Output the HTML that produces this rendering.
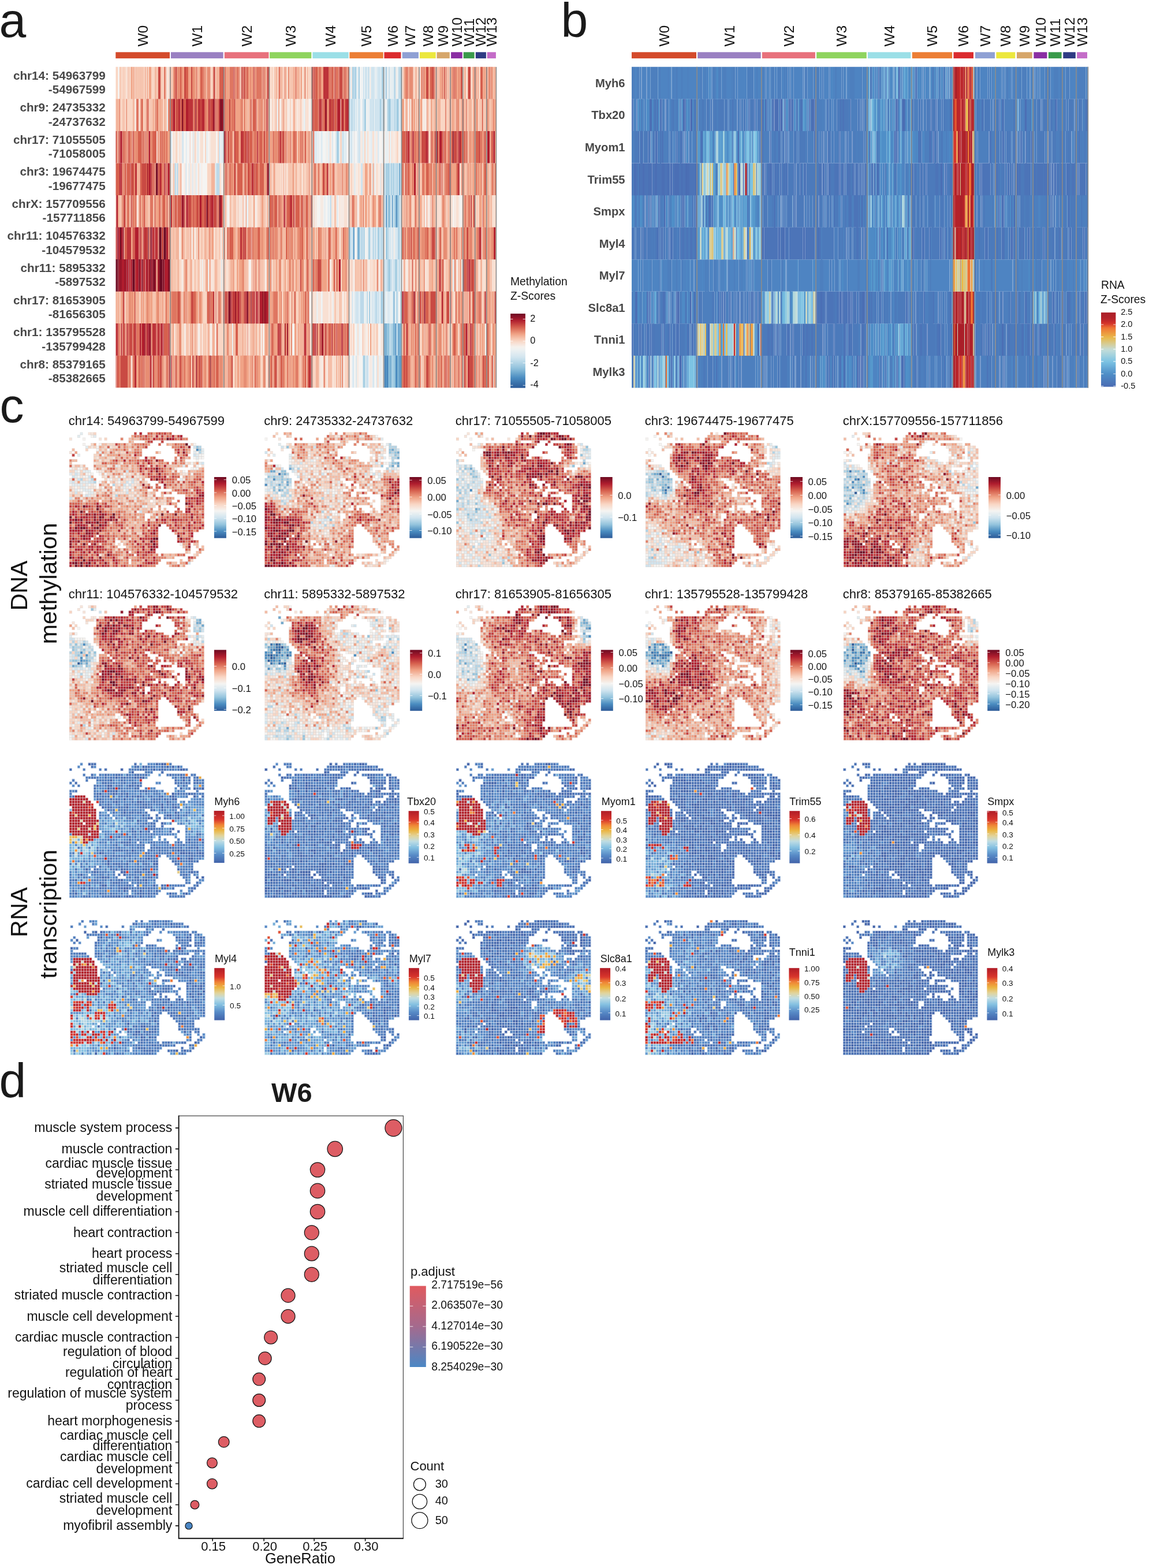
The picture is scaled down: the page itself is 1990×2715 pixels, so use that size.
<!DOCTYPE html>
<html lang="en"><head><meta charset="utf-8"><title>Figure</title>
<style>html,body{margin:0;padding:0;background:#fff}body{width:1990px;height:2715px;overflow:hidden}svg{display:block}</style>
</head><body><svg xmlns="http://www.w3.org/2000/svg" width="1990" height="2715" viewBox="0 0 1990 2715" font-family="Liberation Sans, Arial, Helvetica, sans-serif"><defs><linearGradient id="gRdBu" x1="0" y1="0" x2="0" y2="1"><stop offset="0.000" stop-color="#6d0a22"/><stop offset="0.056" stop-color="#8e1428"/><stop offset="0.111" stop-color="#b01d2e"/><stop offset="0.167" stop-color="#c33e3e"/><stop offset="0.222" stop-color="#d6604e"/><stop offset="0.278" stop-color="#e3826a"/><stop offset="0.333" stop-color="#f0a386"/><stop offset="0.389" stop-color="#f4bca5"/><stop offset="0.444" stop-color="#f9d6c4"/><stop offset="0.500" stop-color="#f7e5db"/><stop offset="0.556" stop-color="#f5f4f2"/><stop offset="0.611" stop-color="#e2ecf0"/><stop offset="0.667" stop-color="#d0e4ef"/><stop offset="0.722" stop-color="#b2d4e6"/><stop offset="0.778" stop-color="#94c4dd"/><stop offset="0.833" stop-color="#6fa8ce"/><stop offset="0.889" stop-color="#4a8cc0"/><stop offset="0.944" stop-color="#3b73ac"/><stop offset="1.000" stop-color="#2c5a98"/></linearGradient><linearGradient id="gA" x1="0" y1="0" x2="0" y2="1"><stop offset="0.000" stop-color="#6d0a22"/><stop offset="0.034" stop-color="#861127"/><stop offset="0.069" stop-color="#9f182b"/><stop offset="0.103" stop-color="#b52632"/><stop offset="0.138" stop-color="#c33f3e"/><stop offset="0.172" stop-color="#d1584a"/><stop offset="0.207" stop-color="#dd715c"/><stop offset="0.241" stop-color="#e68a71"/><stop offset="0.276" stop-color="#f0a386"/><stop offset="0.310" stop-color="#f3b79e"/><stop offset="0.345" stop-color="#f7cab5"/><stop offset="0.379" stop-color="#f8daca"/><stop offset="0.414" stop-color="#f7e5dc"/><stop offset="0.448" stop-color="#f5f1ed"/><stop offset="0.483" stop-color="#eef1f1"/><stop offset="0.517" stop-color="#e5edf1"/><stop offset="0.552" stop-color="#dce9f0"/><stop offset="0.586" stop-color="#d2e5ef"/><stop offset="0.621" stop-color="#c4deeb"/><stop offset="0.655" stop-color="#b5d6e7"/><stop offset="0.690" stop-color="#a6cde2"/><stop offset="0.724" stop-color="#96c5de"/><stop offset="0.759" stop-color="#84b8d7"/><stop offset="0.793" stop-color="#71aacf"/><stop offset="0.828" stop-color="#5e9bc8"/><stop offset="0.862" stop-color="#4b8dc1"/><stop offset="0.897" stop-color="#4380b7"/><stop offset="0.931" stop-color="#3b73ac"/><stop offset="0.966" stop-color="#3467a2"/><stop offset="1.000" stop-color="#2c5a98"/></linearGradient><linearGradient id="gB" x1="0" y1="0" x2="0" y2="1"><stop offset="0.000" stop-color="#ab1f28"/><stop offset="0.026" stop-color="#ae2029"/><stop offset="0.051" stop-color="#b12129"/><stop offset="0.077" stop-color="#b5232a"/><stop offset="0.103" stop-color="#bf272a"/><stop offset="0.128" stop-color="#cb2d2a"/><stop offset="0.154" stop-color="#d7392b"/><stop offset="0.179" stop-color="#e2552f"/><stop offset="0.205" stop-color="#ed7133"/><stop offset="0.231" stop-color="#ee8138"/><stop offset="0.256" stop-color="#ed8e3c"/><stop offset="0.282" stop-color="#ec9c40"/><stop offset="0.308" stop-color="#eaa945"/><stop offset="0.333" stop-color="#e9b649"/><stop offset="0.359" stop-color="#e4be5c"/><stop offset="0.385" stop-color="#dec373"/><stop offset="0.410" stop-color="#d9c989"/><stop offset="0.436" stop-color="#d3cfa0"/><stop offset="0.462" stop-color="#cdd4b7"/><stop offset="0.487" stop-color="#c7dace"/><stop offset="0.513" stop-color="#bedbda"/><stop offset="0.538" stop-color="#b3d7db"/><stop offset="0.564" stop-color="#a7d3dd"/><stop offset="0.590" stop-color="#9ccfdf"/><stop offset="0.615" stop-color="#90cae0"/><stop offset="0.641" stop-color="#85c6e2"/><stop offset="0.667" stop-color="#7ac1e2"/><stop offset="0.692" stop-color="#73b9de"/><stop offset="0.718" stop-color="#6cb1da"/><stop offset="0.744" stop-color="#65a8d5"/><stop offset="0.769" stop-color="#5ea0d1"/><stop offset="0.795" stop-color="#5798cd"/><stop offset="0.821" stop-color="#5090c8"/><stop offset="0.846" stop-color="#4e8ac5"/><stop offset="0.872" stop-color="#4e85c2"/><stop offset="0.897" stop-color="#4d80bf"/><stop offset="0.923" stop-color="#4d7bbc"/><stop offset="0.949" stop-color="#4c76b9"/><stop offset="0.974" stop-color="#4b71b6"/><stop offset="1.000" stop-color="#4a6cb4"/></linearGradient><linearGradient id="gRNA" x1="0" y1="0" x2="0" y2="1"><stop offset="0.000" stop-color="#b01c26"/><stop offset="0.025" stop-color="#b62027"/><stop offset="0.050" stop-color="#bc2328"/><stop offset="0.075" stop-color="#c22729"/><stop offset="0.100" stop-color="#c82b2a"/><stop offset="0.125" stop-color="#ce2e2a"/><stop offset="0.150" stop-color="#d4322b"/><stop offset="0.175" stop-color="#da392d"/><stop offset="0.200" stop-color="#e04d2f"/><stop offset="0.225" stop-color="#e56032"/><stop offset="0.250" stop-color="#eb7434"/><stop offset="0.275" stop-color="#ef8636"/><stop offset="0.300" stop-color="#ee9239"/><stop offset="0.325" stop-color="#ed9e3c"/><stop offset="0.350" stop-color="#ecaa3e"/><stop offset="0.375" stop-color="#ebb544"/><stop offset="0.400" stop-color="#e9bd59"/><stop offset="0.425" stop-color="#e6c46e"/><stop offset="0.450" stop-color="#e4cb83"/><stop offset="0.475" stop-color="#e2d398"/><stop offset="0.500" stop-color="#dbd6aa"/><stop offset="0.525" stop-color="#d2d8bc"/><stop offset="0.550" stop-color="#cadace"/><stop offset="0.575" stop-color="#c1dde0"/><stop offset="0.600" stop-color="#b5d8e4"/><stop offset="0.625" stop-color="#a9d2e3"/><stop offset="0.650" stop-color="#9dcce2"/><stop offset="0.675" stop-color="#90c6e2"/><stop offset="0.700" stop-color="#84c0e1"/><stop offset="0.725" stop-color="#7cb7dc"/><stop offset="0.750" stop-color="#75aed8"/><stop offset="0.775" stop-color="#6da4d4"/><stop offset="0.800" stop-color="#659bcf"/><stop offset="0.825" stop-color="#5e92ca"/><stop offset="0.850" stop-color="#5689c6"/><stop offset="0.875" stop-color="#5383c1"/><stop offset="0.900" stop-color="#4f7cbc"/><stop offset="0.925" stop-color="#4c76b8"/><stop offset="0.950" stop-color="#4970b3"/><stop offset="0.975" stop-color="#4569ae"/><stop offset="1.000" stop-color="#4263a9"/></linearGradient><linearGradient id="gP" x1="0" y1="0" x2="0" y2="1"><stop offset="0.000" stop-color="#e05a5f"/><stop offset="0.500" stop-color="#a46a8e"/><stop offset="1.000" stop-color="#4a87c5"/></linearGradient><clipPath id="T"><path d="M4 0h1v1h-1zM7 0h3v1h-3zM24 0h1v1h-1zM26 0h1v1h-1zM29 0h9v1h-9zM3 1h1v1h-1zM8 1h2v1h-2zM23 1h19v1h-19zM0 2h1v1h-1zM5 2h1v1h-1zM11 2h1v1h-1zM13 2h1v1h-1zM19 2h1v1h-1zM22 2h22v1h-22zM22 3h2v1h-2zM28 3h3v1h-3zM34 3h1v1h-1zM5 4h1v1h-1zM8 4h2v1h-2zM11 4h19v1h-19zM33 4h1v1h-1zM36 4h8v1h-8zM45 4h2v1h-2zM6 5h23v1h-23zM38 5h7v1h-7zM46 5h3v1h-3zM1 6h1v1h-1zM6 6h1v1h-1zM10 6h17v1h-17zM39 6h6v1h-6zM46 6h4v1h-4zM0 7h1v1h-1zM2 7h1v1h-1zM10 7h17v1h-17zM32 7h2v1h-2zM39 7h6v1h-6zM46 7h4v1h-4zM1 8h1v1h-1zM3 8h1v1h-1zM9 8h18v1h-18zM40 8h4v1h-4zM46 8h4v1h-4zM9 9h17v1h-17zM28 9h4v1h-4zM39 9h1v1h-1zM41 9h4v1h-4zM46 9h4v1h-4zM0 10h3v1h-3zM9 10h26v1h-26zM39 10h4v1h-4zM47 10h1v1h-1zM0 11h1v1h-1zM9 11h28v1h-28zM38 11h12v1h-12zM0 12h6v1h-6zM9 12h35v1h-35zM46 12h2v1h-2zM49 12h1v1h-1zM0 13h7v1h-7zM9 13h31v1h-31zM45 13h5v1h-5zM0 14h8v1h-8zM10 14h30v1h-30zM41 14h2v1h-2zM44 14h6v1h-6zM0 15h9v1h-9zM11 15h39v1h-39zM1 16h8v1h-8zM12 16h29v1h-29zM42 16h8v1h-8zM0 17h10v1h-10zM13 17h15v1h-15zM30 17h10v1h-10zM41 17h9v1h-9zM0 18h10v1h-10zM11 18h3v1h-3zM15 18h14v1h-14zM33 18h17v1h-17zM0 19h10v1h-10zM11 19h4v1h-4zM16 19h14v1h-14zM32 19h1v1h-1zM35 19h15v1h-15zM0 20h10v1h-10zM11 20h5v1h-5zM17 20h14v1h-14zM32 20h2v1h-2zM35 20h15v1h-15zM0 21h29v1h-29zM31 21h2v1h-2zM38 21h12v1h-12zM0 22h5v1h-5zM6 22h26v1h-26zM34 22h4v1h-4zM40 22h10v1h-10zM0 23h32v1h-32zM34 23h1v1h-1zM43 23h7v1h-7zM0 24h39v1h-39zM43 24h7v1h-7zM0 25h11v1h-11zM12 25h18v1h-18zM31 25h7v1h-7zM40 25h1v1h-1zM43 25h7v1h-7zM0 26h40v1h-40zM43 26h7v1h-7zM0 27h32v1h-32zM33 27h1v1h-1zM39 27h1v1h-1zM43 27h7v1h-7zM0 28h31v1h-31zM33 28h1v1h-1zM35 28h1v1h-1zM40 28h1v1h-1zM43 28h7v1h-7zM0 29h25v1h-25zM26 29h11v1h-11zM39 29h3v1h-3zM43 29h7v1h-7zM0 30h28v1h-28zM30 30h20v1h-20zM0 31h28v1h-28zM30 31h20v1h-20zM0 32h28v1h-28zM29 32h21v1h-21zM0 33h50v1h-50zM0 34h34v1h-34zM36 34h14v1h-14zM0 35h33v1h-33zM37 35h13v1h-13zM0 36h33v1h-33zM38 36h10v1h-10zM0 37h33v1h-33zM39 37h7v1h-7zM0 38h10v1h-10zM11 38h22v1h-22zM40 38h6v1h-6zM0 39h8v1h-8zM9 39h24v1h-24zM40 39h6v1h-6zM0 40h17v1h-17zM19 40h14v1h-14zM40 40h8v1h-8zM0 41h7v1h-7zM8 41h9v1h-9zM18 41h1v1h-1zM20 41h13v1h-13zM41 41h4v1h-4zM46 41h2v1h-2zM0 42h18v1h-18zM21 42h12v1h-12zM42 42h3v1h-3zM47 42h1v1h-1zM49 42h1v1h-1zM0 43h32v1h-32zM43 43h2v1h-2zM48 43h2v1h-2zM0 44h22v1h-22zM23 44h9v1h-9zM43 44h2v1h-2zM47 44h2v1h-2zM0 45h24v1h-24zM25 45h8v1h-8zM34 45h9v1h-9zM46 45h2v1h-2zM0 46h39v1h-39zM44 46h3v1h-3zM0 47h22v1h-22zM23 47h11v1h-11zM41 47h1v1h-1zM44 47h2v1h-2zM0 48h22v1h-22zM23 48h10v1h-10zM36 48h4v1h-4zM41 48h4v1h-4zM0 49h32v1h-32zM37 49h6v1h-6z"/></clipPath><path id="G" d="M0 0H50M0 1H50M0 2H50M0 3H50M0 4H50M0 5H50M0 6H50M0 7H50M0 8H50M0 9H50M0 10H50M0 11H50M0 12H50M0 13H50M0 14H50M0 15H50M0 16H50M0 17H50M0 18H50M0 19H50M0 20H50M0 21H50M0 22H50M0 23H50M0 24H50M0 25H50M0 26H50M0 27H50M0 28H50M0 29H50M0 30H50M0 31H50M0 32H50M0 33H50M0 34H50M0 35H50M0 36H50M0 37H50M0 38H50M0 39H50M0 40H50M0 41H50M0 42H50M0 43H50M0 44H50M0 45H50M0 46H50M0 47H50M0 48H50M0 49H50M0 50H50M0 0V50M1 0V50M2 0V50M3 0V50M4 0V50M5 0V50M6 0V50M7 0V50M8 0V50M9 0V50M10 0V50M11 0V50M12 0V50M13 0V50M14 0V50M15 0V50M16 0V50M17 0V50M18 0V50M19 0V50M20 0V50M21 0V50M22 0V50M23 0V50M24 0V50M25 0V50M26 0V50M27 0V50M28 0V50M29 0V50M30 0V50M31 0V50M32 0V50M33 0V50M34 0V50M35 0V50M36 0V50M37 0V50M38 0V50M39 0V50M40 0V50M41 0V50M42 0V50M43 0V50M44 0V50M45 0V50M46 0V50M47 0V50M48 0V50M49 0V50M50 0V50"/></defs><g fill="#1a1a1a"><text x="-1.5" y="64.3" font-size="84">a</text><text x="971.5" y="63.5" font-size="84">b</text><text x="-0.5" y="730.5" font-size="84">c</text><text x="-1.5" y="1899.8" font-size="84">d</text></g><g transform="translate(200.50 115.90) scale(0.5 55.5300)" fill="none" stroke-width="1.003"><path stroke="#f9d6c4" d="M0 0.5h8m10 0h8m4 0h6m8 0h2m20 0h2m30 0h3m11 0h3m8 0h4m0 0h4m0 0h4m26 0h6m161 0h8m203 0h5m0 0h2m14 0h4m14 0h2m0 0h4m17 0h2m54 0h6m3 0h8m0 0h3m353 0h8m4 0h6m106 0h4m44 0h5m22 0h5m26 0h3m-1248 1h8m9 0h4m3 0h8m0 0h4m0 0h8m5 0h3m29 0h2m37 0h2m26 0h5m372 0h6m2 0h6m23 0h3m3 0h8m12 0h4m5 0h2m18 0h4m6 0h3m12 0h3m4 0h4m110 0h2m264 0h3m4 0h4m6 0h2m62 0h8m0 0h8m36 0h2m54 0h5m18 0h2m-1051 1h4m0 0h2m59 0h2m0 0h4m31 0h4m40 0h4m251 0h2m17 0h3m147 0h6m43 0h2m33 0h5m80 0h3m6 0h3m10 0h2m4 0h5m104 0h8m-875 1h5m95 0h8m0 0h6m210 0h4m10 0h4m0 0h2m0 0h3m0 0h8m7 0h2m8 0h3m37 0h8m8 0h2m8 0h5m7 0h2m4 0h2m106 0h2m31 0h6m21 0h3m12 0h8m13 0h3m6 0h4m30 0h3m2 0h4m366 0h2m13 0h2m-1235 1h2m303 0h5m14 0h6m53 0h4m0 0h6m21 0h2m0 0h8m27 0h3m156 0h3m164 0h2m17 0h3m6 0h6m14 0h8m16 0h3m96 0h8m28 0h8m56 0h4m118 0h4m4 0h5m44 0h3m-1081 1h2m12 0h4m36 0h2m8 0h6m6 0h5m9 0h2m12 0h2m19 0h4m0 0h5m331 0h2m424 0h2m-929 1h4m16 0h2m8 0h3m0 0h4m22 0h6m0 0h2m13 0h4m4 0h4m21 0h3m49 0h8m26 0h4m21 0h6m55 0h2m22 0h2m9 0h3m18 0h2m41 0h4m0 0h2m10 0h4m63 0h2m88 0h5m9 0h3m16 0h4m71 0h2m24 0h4m8 0h8m24 0h2m92 0h8m4 0h6m5 0h5m92 0h5m23 0h2m22 0h2m-1178 1h2m14 0h4m48 0h4m13 0h2m65 0h2m136 0h4m0 0h8m52 0h4m203 0h5m22 0h6m19 0h5m48 0h6m20 0h3m46 0h4m31 0h6m359 0h4m8 0h2m0 0h2m35 0h2m21 0h4m35 0h6m-1047 1h5m0 0h5m31 0h5m34 0h2m5 0h2m0 0h2m36 0h8m0 0h3m0 0h8m116 0h8m33 0h2m71 0h4m19 0h4m182 0h6m2 0h8m44 0h6m15 0h4m136 0h2m18 0h8m68 0h3m18 0h3m6 0h6m79 0h4m8 0h2m41 0h6m-1044 1h4m140 0h8m88 0h8m175 0h8m34 0h4m11 0h2m5 0h4m4 0h3m33 0h8m124 0h2"/><path stroke="#f5f4f2" d="M8 0.5h5m163 0h3m666 0h3m4 0h4m-188 1h4m176 0h4m15 0h4m6 0h2m15 0h2m88 0h2m52 0h2m-846 1h4m19 0h2m16 0h8m3 0h8m4 0h6m23 0h3m13 0h6m10 0h5m23 0h6m9 0h4m340 0h4m6 0h8m0 0h2m27 0h3m0 0h5m38 0h2m0 0h5m14 0h4m6 0h6m76 0h8m33 0h2m24 0h3m-773 1h2m17 0h8m9 0h6m31 0h2m10 0h2m4 0h8m0 0h8m50 0h2m18 1h8m50 0h6m247 0h4m0 0h5m13 0h2m6 0h3m0 0h4m36 0h2m35 0h1m28 0h6m229 0h5m91 0h4m20 0h3m0 0h6m-928 1h3m88 0h4m5 0h2m453 0h4m32 0h6m18 0h2m64 0h2m-495 1h8m522 0h6m186 0h4m-516 1h6m33 0h4m25 0h2m82 0h4m34 0h2m11 0h4m101 0h3m0 0h4m-701 1h2m223 0h4m98 0h8m189 0h4m16 0h4m14 0h8m15 0h3m6 0h3m29 0h8m361 0h6m-471 1h6m6 0h4m12 0h3m0 0h8m0 0h3m20 0h2m17 0h8m19 0h2"/><path stroke="#f6c5af" d="M13 0.5h5m8 0h4m16 0h3m23 0h6m0 0h2m0 0h6m2 0h4m0 0h6m41 0h4m0 0h4m8 0h6m31 0h2m0 0h4m146 0h5m183 0h4m12 0h6m16 0h3m17 0h3m10 0h3m0 0h6m39 0h4m451 0h2m4 0h6m28 0h6m82 0h2m14 0h2m6 0h2m27 0h3m17 0h2m-1286 1h4m0 0h3m0 0h2m66 0h6m0 0h2m8 0h4m2 0h4m0 0h2m45 0h6m280 0h3m131 0h3m44 0h4m407 0h2m28 0h6m11 0h6m8 0h5m29 0h5m2 0h6m33 0h4m15 0h4m3 0h6m36 0h8m9 0h5m15 0h6m-1035 1h2m261 0h3m440 0h2m311 0h2m-1098 1h2m8 0h5m328 0h2m63 0h3m0 0h8m0 0h5m8 0h2m13 0h8m5 0h5m5 0h3m14 0h4m29 0h4m47 0h8m103 0h5m122 0h4m51 0h8m73 0h5m62 0h1m6 0h8m9 0h2m41 0h5m-1261 1h8m27 0h5m26 0h2m31 0h8m10 0h5m46 0h4m210 0h3m9 0h4m0 0h8m18 0h4m62 0h2m8 0h2m0 0h4m238 0h8m44 0h6m0 0h2m14 0h4m8 0h4m186 0h2m71 0h2m0 0h2m45 0h3m93 0h4m39 0h8m-1110 1h2m0 0h6m2 0h6m0 0h2m18 0h2m14 0h2m0 0h3m4 0h4m39 0h6m16 0h4m24 0h2m0 0h3m9 0h4m4 0h5m11 0h3m5 0h2m185 0h3m4 0h4m66 0h4m8 0h3m27 0h4m27 0h8m10 0h3m20 0h2m7 0h3m4 0h2m323 0h2m0 0h4m13 0h5m17 0h6m34 0h3m74 0h3m-1076 1h4m0 0h2m0 0h8m2 0h4m58 0h4m6 0h8m50 0h4m4 0h5m20 0h4m14 0h4m13 0h4m12 0h2m18 0h4m5 0h6m27 0h8m7 0h4m8 0h2m27 0h6m0 0h4m0 0h2m4 0h2m0 0h4m14 0h6m10 0h4m18 0h5m14 0h2m13 0h2m0 0h3m76 0h3m65 0h4m4 0h4m19 0h4m0 0h8m0 0h3m16 0h5m23 0h2m120 0h4m42 0h2m0 0h5m0 0h2m32 0h8m0 0h3m26 0h2m5 0h2m0 0h8m27 0h2m18 0h2m47 0h2m30 0h2m13 0h4m0 0h4m-1176 1h2m0 0h8m47 0h4m37 0h6m54 0h2m12 0h4m37 0h5m6 0h2m12 0h2m193 0h4m47 0h6m5 0h4m132 0h5m9 0h5m0 0h6m14 0h8m0 0h2m231 0h3m72 0h3m-928 1h8m9 0h6m5 0h2m24 0h4m0 0h6m27 0h4m8 0h6m4 0h5m2 0h5m59 0h1m0 0h8m0 0h2m8 0h3m0 0h8m9 0h3m8 0h4m0 0h3m0 0h8m4 0h4m4 0h3m11 0h3m0 0h4m44 0h2m15 0h4m140 0h2m0 0h2m174 0h4m44 0h6m160 0h2m23 0h4m56 0h2m-784 1h3m11 0h3m28 0h4m8 0h3m45 0h4m156 0h8m74 0h3m48 0h8m23 0h8m252 0h8m91 0h5m38 0h5m47 0h3m36 0h5"/><path stroke="#f8e0d3" d="M36 0.5h6m7 0h3m52 0h3m72 0h8m245 0h3m101 0h3m7 0h2m45 0h4m41 0h2m5 0h6m339 0h6m217 0h6m-1140 1h5m448 0h3m11 0h2m74 0h8m6 0h2m22 0h4m267 0h2m88 0h3m61 0h6m58 0h2m122 0h2m-1134 1h4m53 0h2m0 0h4m15 0h4m70 0h2m0 0h5m0 0h3m26 0h8m0 0h4m0 0h6m393 0h6m125 0h5m12 0h3m0 0h5m32 0h4m34 0h2m2 0h2m-751 1h2m17 0h2m15 0h2m25 0h6m69 0h4m0 0h3m4 0h4m197 0h3m2 0h2m13 0h6m22 0h2m25 0h3m170 0h2m2 0h3m4 0h2m51 0h2m15 0h4m0 0h6m282 0h5m-779 1h6m5 0h5m6 0h2m27 0h8m11 0h2m30 0h4m223 0h5m12 0h2m8 0h4m13 0h2m0 0h8m3 0h3m53 0h3m16 0h2m210 0h3m18 0h8m0 0h4m22 0h3m10 0h8m12 0h8m82 0h2m35 0h6m0 0h4m-1041 1h4m60 0h6m34 0h4m149 0h2m240 0h4m-552 1h3m52 0h2m12 0h4m6 0h5m12 0h2m6 0h2m3 0h4m23 0h4m3 0h4m7 0h8m80 0h2m46 0h2m21 0h4m269 0h6m34 0h2m30 0h6m10 0h4m98 0h4m68 0h8m0 0h2m94 0h2m75 0h8m6 0h4m0 0h8m23 0h3m0 0h4m0 0h8m-971 1h2m326 0h4m6 0h3m2 0h4m5 0h3m13 0h8m0 0h6m0 0h6m0 0h2m2 0h8m16 0h5m0 0h2m400 0h5m-975 1h5m47 0h3m42 0h4m151 0h3m2 0h6m49 0h2m157 0h4m161 0h4m17 0h5m22 0h8m4 0h5m6 0h2m8 0h3m4 0h3m62 0h3m162 0h3m28 0h4m-1138 1h6m461 0h4m0 0h5m133 0h2m41 0h6m22 0h4m16 0h4m3 0h4m4 0h2m136 0h4m0 0h2m147 0h2m108 0h2"/><path stroke="#f0a386" d="M42 0.5h2m8 0h6m28 0h2m13 0h3m11 0h8m75 0h3m30 0h6m14 0h8m0 0h2m12 0h3m0 0h2m10 0h5m89 0h4m0 0h8m46 0h2m17 0h6m4 0h6m111 0h4m50 0h5m44 0h2m20 0h8m81 0h2m210 0h4m22 0h4m27 0h6m8 0h6m33 0h4m0 0h4m10 0h4m21 0h2m6 0h4m2 0h8m4 0h4m41 0h4m33 0h6m2 0h4m-1201 1h4m5 0h3m57 0h2m13 0h3m16 0h2m225 0h8m0 0h4m0 0h5m16 0h2m13 0h5m26 0h2m23 0h4m53 0h2m413 0h5m0 0h4m18 0h2m14 0h5m2 0h4m11 0h2m0 0h4m30 0h5m68 0h6m0 0h2m66 0h3m41 0h3m24 0h4m0 0h6m-1254 1h2m112 0h8m240 0h6m60 0h2m39 0h3m0 0h2m0 0h5m48 0h2m2 0h3m0 0h5m6 0h5m15 0h8m26 0h4m8 0h4m376 0h3m40 0h5m40 0h6m72 0h2m5 0h2m0 0h5m8 0h3m22 0h2m26 0h3m13 0h4m-943 1h6m10 0h2m62 0h3m56 0h8m25 0h6m34 0h2m94 0h4m8 0h2m17 0h4m23 0h8m20 0h4m16 0h2m14 0h3m56 0h8m148 0h8m4 0h2m13 0h2m21 0h2m0 0h4m35 0h8m23 0h2m20 0h8m0 0h8m41 0h5m12 0h7m0 0h3m10 0h8m31 0h2m-1298 1h2m5 0h5m126 0h6m0 0h5m22 0h5m19 0h4m41 0h4m125 0h5m4 0h3m43 0h2m16 0h2m6 0h3m24 0h5m18 0h2m2 0h8m12 0h3m49 0h6m86 0h8m150 0h4m16 0h5m0 0h2m10 0h6m6 0h4m14 0h8m93 0h2m38 0h2m19 0h5m50 0h2m102 0h4m0 0h2m17 0h2m5 0h2m13 0h8m6 0h8m-1228 1h6m30 0h5m140 0h2m22 0h4m69 0h8m68 0h5m0 0h4m4 0h3m29 0h4m45 0h4m4 0h6m134 0h6m27 0h8m28 0h4m31 0h5m13 0h3m23 0h4m3 0h2m197 0h8m43 0h5m24 0h8m74 0h5m5 0h4m32 0h4m29 0h5m36 0h5m3 0h8m14 0h4m-1179 1h5m48 0h2m120 0h4m5 0h4m45 0h1m4 0h2m39 0h4m4 0h4m0 0h6m15 0h2m58 0h2m9 0h5m0 0h2m2 0h5m18 0h4m26 0h4m33 0h8m48 0h2m36 0h8m0 0h8m37 0h4m10 0h6m0 0h8m7 0h3m11 0h2m50 0h2m126 0h2m0 0h2m44 0h5m19 0h2m23 0h4m15 0h3m0 0h3m33 0h4m35 0h5m88 0h5m0 0h6m-1296 1h4m12 0h2m0 0h6m29 0h2m4 0h6m21 0h4m0 0h2m2 0h5m6 0h2m6 0h6m2 0h4m0 0h3m10 0h5m6 0h3m8 0h2m0 0h4m11 0h8m66 0h6m22 0h3m0 0h4m9 0h5m50 0h2m182 0h8m23 0h3m0 0h5m7 0h6m12 0h4m38 0h8m368 0h6m20 0h2m83 0h2m9 0h2m52 0h5m25 0h2m50 0h4m7 0h5m0 0h5m10 0h5m-1297 1h5m179 0h4m72 0h3m58 0h3m101 0h4m34 0h5m36 0h6m0 0h2m24 0h2m0 0h6m40 0h6m16 0h3m0 0h4m6 0h4m24 0h8m26 0h3m2 0h8m44 0h4m126 0h4m116 0h5m55 0h5m48 0h5m13 0h6m20 0h1m8 0h2m12 0h5m4 0h4m66 0h6m3 0h4m23 0h3m10 0h5m0 0h5m-1248 1h8m45 0h2m68 0h8m10 0h4m0 0h5m20 0h8m21 0h8m24 0h5m106 0h3m4 0h8m3 0h4m0 0h8m10 0h4m0 0h2m5 0h2m0 0h4m23 0h8m41 0h4m39 0h2m11 0h4m4 0h6m5 0h4m10 0h5m17 0h2m122 0h4m249 0h6m13 0h2m38 0h4m6 0h3m8 0h6m48 0h4m12 0h6m4 0h3m67 0h3m4 0h2m29 0h4m7 0h5"/><path stroke="#f3b49b" d="M58 0.5h8m2 0h4m35 0h5m23 0h4m33 0h4m13 0h3m90 0h6m24 0h4m33 0h4m0 0h6m14 0h1m0 0h2m144 0h4m30 0h6m13 0h5m34 0h4m0 0h4m0 0h2m4 0h8m0 0h4m25 0h3m330 0h5m47 0h3m67 0h4m11 0h4m22 0h4m6 0h2m36 0h2m0 0h4m39 0h4m0 0h2m13 0h2m6 0h2m24 0h2m2 0h2m0 0h8m-1319 1h5m0 0h8m46 0h5m54 0h2m6 0h4m0 0h5m4 0h2m6 0h6m2 0h4m0 0h4m276 0h6m4 0h8m13 0h4m14 0h5m17 0h4m40 0h4m4 0h5m47 0h8m381 0h8m18 0h4m69 0h5m0 0h3m5 0h2m0 0h8m34 0h5m8 0h5m17 0h4m7 0h4m13 0h3m0 0h8m11 0h5m4 0h3m10 0h2m12 0h2m9 0h4m6 0h6m-1302 1h3m23 0h2m4 0h3m107 0h5m104 0h2m148 0h5m238 0h5m5 0h5m8 0h4m542 0h4m73 0h2m-1224 1h3m0 0h8m139 0h5m102 0h6m0 0h8m63 0h2m7 0h5m18 0h5m90 0h6m4 0h2m6 0h2m20 0h2m4 0h4m31 0h4m4 0h2m0 0h3m34 0h4m8 0h2m4 0h2m14 0h5m4 0h4m27 0h4m8 0h2m8 0h2m12 0h6m12 0h6m95 0h4m144 0h5m51 0h3m30 0h2m99 0h8m16 0h2m30 0h3m0 0h6m4 0h2m-1266 1h5m33 0h2m13 0h4m11 0h6m0 0h3m45 0h2m239 0h3m118 0h2m10 0h2m28 0h2m75 0h3m40 0h4m132 0h2m51 0h3m15 0h4m27 0h4m0 0h3m65 0h4m2 0h4m2 0h4m4 0h6m25 0h8m2 0h4m13 0h3m5 0h4m9 0h2m8 0h6m23 0h2m10 0h6m3 0h5m46 0h2m0 0h3m28 0h4m30 0h2m12 0h4m0 0h5m11 0h2m13 0h3m-1291 1h3m158 0h2m8 0h2m8 0h8m0 0h2m17 0h3m9 0h4m4 0h2m9 0h3m0 0h2m9 0h2m23 0h3m0 0h2m0 0h4m6 0h4m2 0h2m87 0h4m50 0h2m43 0h6m41 0h4m0 0h4m11 0h4m28 0h3m0 0h2m4 0h5m0 0h2m43 0h8m12 0h5m16 0h5m4 0h4m23 0h4m14 0h2m12 0h4m21 0h2m190 0h3m126 0h2m18 0h4m10 0h4m21 0h5m3 0h3m2 0h3m33 0h8m23 0h2m-1053 1h4m16 0h5m16 0h6m0 0h4m44 0h5m13 0h2m15 0h4m47 0h3m0 0h6m0 0h2m16 0h2m24 0h3m18 0h4m4 0h6m22 0h3m84 0h2m12 0h6m2 0h2m13 0h6m32 0h2m0 0h4m0 0h4m2 0h2m69 0h4m73 0h3m15 0h4m10 0h2m5 0h3m46 0h8m2 0h2m68 0h2m38 0h3m14 0h5m26 0h6m0 0h5m62 0h2m2 0h5m20 0h4m61 0h4m8 0h6m-1265 1h8m0 0h2m20 0h2m0 0h8m24 0h8m0 0h6m19 0h4m14 0h2m31 0h8m8 0h5m59 0h2m14 0h3m231 0h3m147 0h8m13 0h2m464 0h8m13 0h5m17 0h5m14 0h6m23 0h4m0 0h2m2 0h4m22 0h3m2 0h4m4 0h2m38 0h8m5 0h2m-1100 1h5m39 0h8m12 0h4m38 0h8m11 0h6m64 0h5m34 0h4m21 0h5m7 0h6m8 0h5m5 0h2m16 0h5m27 0h2m15 0h5m0 0h6m6 0h2m43 0h4m0 0h4m0 0h8m81 0h2m258 0h3m20 0h6m5 0h2m43 0h8m17 0h4m8 0h1m0 0h4m24 0h6m104 0h8m2 0h2m6 0h3m4 0h6m-1153 1h2m38 0h8m30 0h2m107 0h8m8 0h2m14 0h2m30 0h8m6 0h2m66 0h2m0 0h3m45 0h2m47 0h6m23 0h6m87 0h4m8 0h8m0 0h4m19 0h3m10 0h3m0 0h2m2 0h5m15 0h4m255 0h8m43 0h2m18 0h2m7 0h8m21 0h5m10 0h2m45 0h4m3 0h2m13 0h4m28 0h2m14 0h2m0 0h2"/><path stroke="#c94a43" d="M147 0.5h8m51 0h6m25 0h6m18 0h4m73 0h6m27 0h2m62 0h5m2 0h6m62 0h2m12 0h5m162 0h2m81 0h8m0 0h4m289 0h8m14 0h5m35 0h3m37 0h2m16 0h4m22 0h8m-1034 1h3m11 0h6m18 0h4m56 0h4m29 0h4m0 0h5m7 0h4m28 0h4m15 0h4m14 0h3m53 0h3m16 0h2m192 0h6m26 0h4m29 0h8m27 0h5m372 0h2m43 0h3m-1205 1h3m5 0h2m2 0h4m28 0h3m9 0h2m2 0h3m39 0h2m83 0h2m199 0h3m0 0h2m48 0h4m2 0h4m0 0h3m2 0h6m51 0h5m58 0h8m420 0h6m37 0h4m8 0h4m0 0h5m0 0h5m31 0h6m60 0h8m0 0h4m17 0h3m74 0h3m-1224 1h6m30 0h5m0 0h6m0 0h3m6 0h4m7 0h4m0 0h2m6 0h2m34 0h2m6 0h2m5 0h4m191 0h4m27 0h5m41 0h4m23 0h3m230 0h6m403 0h2m55 0h4m-1161 1h8m18 0h4m146 0h2m32 0h4m10 0h6m0 0h5m8 0h2m10 0h6m2 0h2m18 0h5m5 0h3m0 0h4m12 0h4m0 0h8m192 0h3m10 0h2m29 0h2m30 0h2m25 0h3m591 0h2m0 0h3m27 0h2m-1273 1h4m78 0h4m10 0h3m8 0h5m2 0h2m18 0h2m22 0h8m278 0h8m16 0h2m317 0h2m212 0h2m19 0h3m69 0h4m0 0h3m0 0h5m109 0h6m22 0h1m-606 1h3m58 0h8m0 0h4m509 0h2m9 0h5m0 0h3m-1215 1h6m35 0h3m149 0h4m40 0h8m55 0h4m18 0h2m24 0h2m4 0h8m16 0h5m4 0h2m4 0h4m0 0h2m5 0h6m9 0h5m22 0h3m0 0h3m35 0h2m14 0h3m521 0h5m0 0h2m33 0h2m0 0h6m0 0h8m40 0h8m82 0h4m0 0h2m0 0h1m68 0h7m-1295 1h8m14 0h4m0 0h4m0 0h4m3 0h4m37 0h6m78 0h2m380 0h6m106 0h8m36 0h4m0 0h2m71 0h7m276 0h4m147 0h2m-1237 1h2m2 0h3m10 0h8m0 0h5m0 0h2m0 0h4m0 0h5m55 0h2m30 0h5m19 0h8m61 0h4m40 0h5m19 0h5m37 0h2m68 0h4m148 0h5m109 0h2m328 0h4m6 0h4m64 0h8m59 0h4m79 0h8m0 0h4m36 0h4"/><path stroke="#df7661" d="M167 0.5h5m15 0h2m12 0h5m72 0h4m17 0h5m0 0h2m70 0h6m12 0h8m0 0h6m4 0h4m3 0h6m3 0h2m18 0h3m0 0h3m21 0h3m8 0h6m0 0h6m0 0h8m6 0h4m48 0h6m14 0h2m36 0h4m81 0h4m26 0h3m0 0h6m17 0h4m0 0h3m0 0h2m22 0h6m207 0h5m54 0h3m33 0h4m4 0h2m18 0h3m34 0h2m30 0h3m42 0h2m39 0h2m11 0h2m-1287 1h2m56 0h8m27 0h4m31 0h6m36 0h4m18 0h4m58 0h3m9 0h6m22 0h2m0 0h4m33 0h2m4 0h5m21 0h3m20 0h6m0 0h4m103 0h4m10 0h3m168 0h5m12 0h5m68 0h6m346 0h3m35 0h3m31 0h3m52 0h5m34 0h2m-1287 1h4m7 0h4m3 0h4m3 0h4m7 0h2m30 0h4m31 0h4m16 0h2m5 0h4m0 0h4m15 0h4m205 0h2m59 0h2m32 0h5m0 0h6m5 0h4m24 0h6m3 0h2m39 0h3m28 0h4m11 0h8m11 0h5m39 0h6m334 0h6m4 0h4m0 0h3m0 0h2m10 0h5m38 0h5m16 0h6m29 0h6m0 0h2m1 0h6m45 0h4m47 0h4m0 0h4m10 0h6m-1249 1h2m90 0h3m16 0h4m23 0h4m210 0h2m2 0h3m0 0h4m45 0h2m3 0h5m11 0h5m216 0h2m0 0h6m7 0h4m45 0h8m24 0h2m206 0h8m10 0h2m5 0h4m8 0h4m30 0h8m14 0h2m6 0h4m23 0h8m6 0h2m9 0h8m28 0h4m35 0h2m27 0h4m4 0h2m8 0h3m37 0h4m-1270 1h8m9 0h2m9 0h5m47 0h8m0 0h2m20 0h4m0 0h3m28 0h5m10 0h3m10 0h2m47 0h8m2 0h2m0 0h4m28 0h2m45 0h6m199 0h3m2 0h4m77 0h2m5 0h2m4 0h2m8 0h2m150 0h8m65 0h2m143 0h5m53 0h2m112 0h6m6 0h8m-1167 1h4m51 0h4m205 0h2m110 0h4m15 0h4m0 0h8m4 0h5m14 0h2m30 0h4m15 0h6m22 0h3m38 0h2m24 0h2m0 0h6m14 0h8m34 0h4m21 0h2m13 0h5m15 0h6m247 0h8m3 0h3m43 0h8m12 0h3m14 0h2m60 0h5m4 0h5m13 0h2m5 0h4m0 0h3m18 0h2m22 0h5m18 0h8m6 0h3m-817 1h2m6 0h3m8 0h3m39 0h2m102 0h4m48 0h4m38 0h6m22 0h6m28 0h3m-627 1h4m18 0h8m0 0h8m10 0h5m16 0h2m25 0h2m4 0h4m49 0h4m0 0h5m97 0h5m20 0h4m84 0h8m0 0h2m0 0h4m12 0h2m17 0h6m66 0h6m352 0h4m34 0h8m21 0h2m19 0h4m31 0h2m29 0h5m6 0h5m16 0h2m6 0h2m29 0h2m4 0h4m25 0h3m-1277 1h5m19 0h2m24 0h3m9 0h2m0 0h6m0 0h5m57 0h4m44 0h1m159 0h6m102 0h2m78 0h4m128 0h4m38 0h3m17 0h3m2 0h2m0 0h2m21 0h4m2 0h8m0 0h8m4 0h8m241 0h4m5 0h7m0 0h2m35 0h5m51 0h4m46 0h2m0 0h6m16 0h2m12 0h3m54 0h2m-1289 1h2m7 0h6m30 0h5m6 0h3m0 0h4m19 0h4m0 0h4m6 0h4m72 0h8m20 0h2m21 0h5m0 0h2m5 0h4m14 0h4m0 0h2m20 0h4m0 0h4m11 0h2m23 0h2m10 0h8m10 0h3m30 0h3m89 0h8m40 0h4m36 0h2m8 0h5m10 0h5m27 0h6m17 0h5m10 0h4m9 0h4m310 0h4m0 0h3m16 0h4m34 0h5m27 0h6m27 0h6m7 0h2m5 0h6m6 0h5m4 0h2m19 0h2m29 0h4m0 0h2m22 0h6m1 0h3m2 0h3m5 0h3m9 0h4m41 0h2"/><path stroke="#e78d73" d="M212 0.5h3m0 0h8m4 0h4m34 0h8m33 0h6m4 0h6m0 0h6m8 0h2m78 0h3m6 0h3m2 0h2m33 0h4m11 0h6m20 0h4m6 0h4m77 0h4m76 0h3m3 0h3m13 0h6m49 0h4m28 0h4m12 0h3m196 0h6m9 0h4m0 0h2m0 0h8m26 0h6m2 0h2m42 0h2m42 0h2m9 0h2m22 0h4m28 0h2m19 0h3m0 0h1m2 0h4m40 0h8m2 0h5m-1269 1h3m142 0h2m130 0h8m60 0h4m0 0h8m4 0h4m30 0h6m23 0h2m33 0h3m2 0h8m0 0h2m16 0h2m52 0h3m148 0h8m285 0h5m18 0h2m28 0h2m103 0h8m8 0h4m39 0h3m5 0h4m32 0h6m-1288 1h2m46 0h5m7 0h2m2 0h8m0 0h2m21 0h4m4 0h8m5 0h6m38 0h4m2 0h6m218 0h4m4 0h5m19 0h2m47 0h5m28 0h6m5 0h3m26 0h3m0 0h4m0 0h8m22 0h6m4 0h2m47 0h3m22 0h4m346 0h2m0 0h2m19 0h6m89 0h3m85 0h5m7 0h5m0 0h3m27 0h5m-1254 1h8m33 0h4m69 0h3m22 0h6m217 0h4m11 0h8m86 0h6m22 0h3m89 0h2m53 0h4m51 0h4m0 0h4m47 0h2m4 0h4m8 0h8m3 0h1m71 0h4m165 0h3m0 0h2m32 0h6m7 0h8m0 0h4m51 0h2m27 0h2m5 0h4m1 0h6m8 0h2m9 0h2m22 0h2m20 0h2m0 0h2m23 0h5m6 0h4m-1295 1h6m35 0h6m13 0h4m7 0h5m62 0h3m0 0h2m124 0h2m256 0h4m21 0h4m0 0h2m12 0h4m19 0h4m5 0h2m30 0h4m178 0h2m19 0h5m49 0h5m86 0h2m4 0h4m6 0h8m72 0h3m10 0h1m20 0h6m0 0h4m17 0h2m46 0h3m20 0h2m60 0h3m-1147 1h4m31 0h3m45 0h5m51 0h4m85 0h5m44 0h2m0 0h6m46 0h8m0 0h6m8 0h2m4 0h4m12 0h2m14 0h5m6 0h6m0 0h2m0 0h4m0 0h2m11 0h5m15 0h2m0 0h4m0 0h3m2 0h5m0 0h2m7 0h4m7 0h8m43 0h2m23 0h8m45 0h3m28 0h8m4 0h3m186 0h3m35 0h3m4 0h5m0 0h4m15 0h4m0 0h8m47 0h4m12 0h8m0 0h5m12 0h2m23 0h2m35 0h8m2 0h4m14 0h4m18 0h5m25 0h8m-1069 1h8m159 0h2m28 0h8m55 0h2m63 0h8m26 0h8m38 0h2m0 0h4m7 0h4m26 0h5m4 0h2m12 0h5m91 0h1m42 0h2m4 0h4m44 0h6m106 0h2m33 0h2m14 0h3m40 0h2m0 0h2m12 0h4m29 0h2m11 0h6m51 0h2m13 0h5m34 0h2m-1241 1h5m0 0h4m2 0h4m33 0h2m13 0h6m30 0h6m40 0h4m0 0h2m16 0h2m21 0h4m0 0h4m2 0h4m9 0h4m27 0h4m0 0h3m59 0h2m4 0h6m73 0h4m51 0h4m32 0h2m0 0h2m8 0h5m39 0h6m16 0h4m36 0h5m7 0h4m348 0h4m28 0h7m32 0h6m28 0h2m14 0h5m59 0h4m0 0h1m0 0h4m27 0h4m27 0h4m27 0h2m-1275 1h2m10 0h4m84 0h5m92 0h8m37 0h4m116 0h3m0 0h5m153 0h4m58 0h4m19 0h2m88 0h4m21 0h3m49 0h4m210 0h5m6 0h5m2 0h4m6 0h5m22 0h2m2 0h2m8 0h4m17 0h8m10 0h4m0 0h6m19 0h2m15 0h2m10 0h4m39 0h4m0 0h4m11 0h5m47 0h3m0 0h2m9 0h4m-1268 1h6m55 0h6m0 0h2m0 0h8m15 0h8m0 0h3m16 0h6m16 0h2m4 0h1m43 0h5m12 0h6m52 0h6m20 0h4m21 0h4m0 0h6m0 0h3m3 0h3m16 0h4m0 0h4m42 0h5m0 0h5m17 0h2m0 0h4m12 0h5m18 0h8m13 0h5m9 0h2m16 0h4m15 0h2m17 0h4m6 0h5m4 0h2m0 0h2m19 0h4m11 0h2m122 0h5m223 0h2m4 0h5m20 0h4m0 0h3m7 0h2m10 0h5m22 0h4m23 0h5m26 0h4m13 0h4m0 0h2m0 0h2m74 0h2m23 0h2m6 0h2m29 0h3"/><path stroke="#d6604e" d="M223 0.5h4m16 0h8m42 0h6m60 0h8m0 0h4m39 0h2m42 0h5m70 0h3m123 0h2m36 0h6m6 0h2m39 0h8m6 0h3m9 0h2m16 0h4m11 0h3m254 0h2m25 0h3m0 0h5m47 0h2m117 0h8m-1183 1h5m17 0h4m23 0h2m50 0h6m20 0h2m7 0h5m8 0h6m27 0h6m72 0h4m85 0h2m6 0h2m27 0h8m0 0h4m12 0h2m186 0h5m0 0h8m22 0h4m31 0h8m0 0h2m-756 1h2m14 0h3m0 0h2m46 0h6m0 0h2m0 0h5m4 0h4m6 0h2m23 0h4m0 0h6m0 0h2m19 0h3m4 0h2m211 0h4m2 0h2m9 0h4m12 0h6m0 0h6m37 0h4m0 0h8m25 0h8m14 0h2m21 0h3m15 0h6m22 0h2m23 0h4m27 0h3m5 0h5m331 0h2m0 0h8m0 0h4m87 0h3m35 0h5m5 0h5m21 0h2m15 0h4m9 0h4m3 0h8m4 0h4m29 0h6m0 0h6m41 0h8m-1308 1h6m0 0h4m0 0h3m17 0h6m2 0h6m0 0h2m0 0h4m2 0h3m6 0h2m21 0h4m0 0h3m14 0h4m22 0h3m23 0h2m0 0h2m248 0h2m10 0h8m0 0h4m0 0h6m7 0h3m12 0h4m13 0h6m3 0h4m0 0h2m6 0h2m0 0h4m0 0h8m489 0h6m2 0h5m29 0h2m29 0h8m47 0h2m7 0h2m10 0h5m3 0h2m116 0h8m30 0h4m-1261 1h3m23 0h3m9 0h6m32 0h4m25 0h8m5 0h4m24 0h8m2 0h6m0 0h8m49 0h4m16 0h8m45 0h2m180 0h8m0 0h2m7 0h6m11 0h4m22 0h6m0 0h5m19 0h4m0 0h6m0 0h5m3 0h3m5 0h2m8 0h8m248 0h4m131 0h2m-1020 1h8m41 0h2m102 0h3m0 0h2m197 0h5m2 0h6m0 0h8m86 0h6m28 0h2m0 0h3m2 0h3m52 0h4m9 0h2m41 0h4m21 0h2m64 0h5m252 0h5m13 0h3m17 0h4m9 0h5m2 0h3m25 0h4m23 0h2m14 0h5m30 0h2m43 0h2m-1102 1h2m509 0h2m47 0h6m14 0h6m67 0h5m266 0h4m9 0h2m89 0h6m66 0h2m2 0h4m0 0h6m23 0h3m-1029 1h4m54 0h4m41 0h8m32 0h4m14 0h4m8 0h4m73 0h2m0 0h3m150 0h5m32 0h5m330 0h2m6 0h6m0 0h8m14 0h6m4 0h3m19 0h2m12 0h2m0 0h3m0 0h6m24 0h3m114 0h5m30 0h5m-1222 1h4m42 0h3m61 0h4m6 0h2m2 0h4m0 0h8m0 0h4m233 0h8m117 0h5m14 0h3m25 0h4m148 0h4m0 0h2m10 0h5m34 0h3m199 0h5m168 0h8m25 0h5m0 0h5m25 0h2m46 0h4m-1282 1h4m68 0h5m8 0h4m48 0h8m37 0h3m14 0h6m82 0h4m0 0h2m21 0h4m22 0h8m182 0h5m6 0h5m17 0h8m77 0h4m62 0h2m278 0h6m29 0h4m0 0h2m85 0h2m57 0h4m7 0h3m43 0h1m35 0h6m2 0h2m0 0h4m9 0h2m0 0h3"/><path stroke="#bd3339" d="M408 0.5h2m68 0h2m200 0h3m3 0h3m30 0h6m0 0h4m0 0h8m21 0h2m398 0h1m12 0h2m-954 1h5m27 0h8m0 0h8m18 0h8m4 0h4m2 0h2m16 0h5m9 0h2m20 0h4m161 0h4m178 0h8m27 0h6m8 0h3m10 0h3m26 0h8m2 0h3m-375 1h8m13 0h2m112 0h5m437 0h8m55 0h4m3 0h3m38 0h2m11 0h2m50 0h4m69 0h2m-1245 1h6m28 0h2m15 0h6m78 0h4m12 0h3m2 0h2m296 0h8m253 0h5m-547 1h6m112 0h2m17 0h5m0 0h2m30 0h4m236 0h8m4 0h3m58 0h4m550 0h3m-1220 1h2m24 0h4m0 0h2m0 0h6m0 0h2m6 0h2m4 0h4m8 0h3m6 0h3m5 0h2m3 0h8m19 0h8m2 0h8m0 0h2m285 0h6m4 0h3m605 0h2m207 0h8m43 0h2m-1265 1h4m0 0h2m14 0h5m17 0h2m4 0h8m10 0h5m1003 0h6m90 0h4m6 0h3m13 0h2m-907 1h4m57 0h4m5 0h2m0 0h2m37 0h6m22 0h6m6 0h4m504 0h2m161 0h3m116 0h4m-1282 1h8m10 0h4m16 0h4m23 0h5m57 0h8m0 0h5m4 0h8m30 0h4m376 0h6m84 0h8m28 0h4m15 0h3m7 0h3m44 0h2m240 0h5m-946 1h4m49 0h6m60 0h4m481 0h4m0 0h3m543 0h6"/><path stroke="#dce9f0" d="M808 0.5h3m0 0h4m55 0h5m3 0h2m16 0h4m3 0h3m12 0h3m7 0h8m7 0h4m10 0h3m-130 1h8m6 0h4m-605 1h3m22 0h4m10 0h5m79 0h5m317 0h4m2 0h4m12 0h4m34 0h5m41 0h5m9 0h6m22 0h5m14 0h2m27 0h4m19 0h5m-659 1h2m10 0h2m10 0h2m65 0h4m478 0h4m101 0h3m-250 1h2m48 0h4m28 0h4m213 0h4m-106 1h6m15 0h5m48 0h8m3 0h6m12 0h2m0 0h4m-624 1h3m586 0h4m0 0h2m14 0h5m188 0h4m-364 1h2m16 0h5m36 0h4m18 0h5m38 0h4m4 0h8m-124 2h2m38 0h5m19 0h5m33 0h2m379 0h2"/><path stroke="#f6eae3" d="M815 0.5h4m61 0h4m86 0h3m78 0h5m-989 1h4m464 0h5m27 0h8m19 0h5m0 0h4m4 0h5m18 0h2m13 0h6m21 0h8m319 0h4m8 0h6m2 0h2m42 0h8m0 0h6m-873 1h3m6 0h4m6 0h5m0 0h2m48 0h4m8 0h3m31 0h5m401 0h4m12 0h2m58 0h2m39 0h8m21 0h2m23 0h2m0 0h4m13 0h2m5 0h1m30 0h8m16 0h6m329 0h2m-1128 1h4m0 0h4m37 0h4m11 0h2m6 0h6m4 0h8m19 0h4m284 0h2m222 0h5m8 0h2m9 0h8m3 0h6m61 0h3m0 0h4m5 0h2m-850 1h2m298 0h4m48 0h3m53 0h6m201 0h8m11 0h6m0 0h3m0 0h2m33 0h4m16 0h2m4 0h8m0 0h5m10 0h3m276 0h6m0 0h3m82 0h8m8 0h4m-972 1h6m37 0h5m16 0h2m643 0h5m30 0h3m-737 1h6m31 0h3m22 0h4m37 0h3m4 0h2m177 0h5m218 0h5m74 0h8m44 0h8m30 0h6m90 0h6m60 0h2m-385 1h2m12 0h3m42 0h3m20 0h2m11 0h6m6 0h2m12 0h8m-581 1h6m43 0h6m34 0h8m9 0h5m133 0h2m19 0h5m311 0h2m43 0h6m52 0h4m-215 1h8m12 0h2m56 0h4m16 0h6m16 0h2m2 0h8m36 0h6m0 0h4"/><path stroke="#a8cfe3" d="M819 0.5h4m6 0h5m6 0h5m76 0h2m0 0h4m-66 1h6m74 0h5m19 0h3m18 0h3m-224 1h8m-417 1h3m575 0h5m0 0h5m14 0h2m0 0h4m4 0h2m5 0h2m-43 1h2m41 0h6m-134 1h3m8 0h3m12 0h6m26 0h6m11 0h2m0 0h2m51 0h5m-17 1h8m5 0h2m-111 1h2m4 0h4m41 0h6m27 1h6m-105 1h8m91 0h8"/><path stroke="#bcd9e9" d="M823 0.5h6m31 0h2m2 0h3m8 0h3m69 0h2m13 0h8m9 0h8m2 0h1m-182 1h2m4 0h8m3 0h3m12 0h4m46 0h4m23 0h4m4 0h3m44 0h3m-745 1h2m-28 1h5m2 0h5m132 0h8m608 0h4m2 0h5m10 0h5m-248 1h3m194 0h3m0 0h2m11 0h2m2 0h4m0 0h4m20 0h3m-178 1h4m36 0h8m29 0h6m2 0h5m14 0h2m0 0h6m19 0h4m25 0h2m3 0h2m-51 1h4m6 0h3m0 0h4m4 0h6m27 0h4m-140 1h8m0 0h6m38 0h8m22 0h4m28 0h2m8 0h8m7 0h5m-43 1h8m17 0h5m-145 1h2m35 0h2m57 0h3"/><path stroke="#e9eff1" d="M834 0.5h6m8 0h4m10 0h2m36 0h3m35 0h5m6 0h6m0 0h2m3 0h2m11 0h6m-802 1h4m377 0h2m0 0h2m89 0h6m181 0h2m12 0h3m16 0h6m56 0h8m-687 1h2m8 0h2m47 0h6m52 0h3m306 0h2m16 0h8m20 0h4m4 0h4m25 0h2m8 0h4m15 0h2m34 0h2m27 0h4m5 0h5m7 0h2m0 0h4m12 0h2m0 0h3m21 0h5m5 0h8m0 0h6m3 0h4m35 0h2m-735 1h2m10 0h2m10 0h3m8 0h4m74 0h2m525 0h5m-466 1h2m17 0h6m247 0h2m13 0h6m11 0h4m210 0h3m-124 1h6m32 0h6m20 0h2m36 0h3m11 0h2m-650 1h3m17 0h3m664 0h4m207 0h3m-505 1h5m13 0h3m35 0h4m87 0h2m18 0h5m14 0h6m27 0h4m18 0h4m10 0h8m8 0h4m-567 1h4m425 0h3m0 0h2m4 0h5m-65 1h2m128 0h3m0 0h8"/><path stroke="#d0e4ef" d="M856 0.5h4m7 0h3m14 0h4m0 0h8m10 0h4m0 0h8m9 0h1m-118 1h4m8 0h3m3 0h2m25 0h6m18 0h3m0 0h8m6 0h8m0 0h8m0 0h3m6 0h4m27 0h8m0 0h5m3 0h2m9 0h5m-795 1h5m38 0h3m122 0h5m330 0h2m20 0h2m22 0h2m21 0h2m20 0h3m0 0h6m22 0h2m0 0h4m4 0h2m15 0h6m-605 1h3m604 0h6m34 0h2m26 0h2m29 0h5m3 0h2m19 0h4m-236 1h2m181 0h6m-118 1h6m23 0h4m64 0h3m25 0h2m6 0h4m21 0h3m-45 1h6m23 0h6m-149 1h4m9 0h6m0 0h5m2 0h2m41 0h2m5 0h4m8 0h8m34 0h2m8 0h2m-140 2h4m47 0h5m17 0h2m8 0h2"/><path stroke="#639fca" d="M936 0.5h2m51 1h1m-168 4h5m139 3h6m7 0h2m-46 1h2m44 0h6"/><path stroke="#94c4dd" d="M987 0.5h2m-74 1h2m11 0h3m15 0h6m18 0h2m3 0h4m-51 2h3m13 0h4m5 0h3m-9 1h5m15 0h4m-163 1h4m124 0h5m4 1h4m-31 1h4m18 1h4m0 0h3m0 1h2m14 0h6"/><path stroke="#b01d2e" d="M198 1.5h2m0 0h5m12 0h2m24 0h8m50 0h2m2 0h2m462 0h5m0 0h4m7 0h4m14 0h2m-789 1h6m92 0h5m255 0h6m31 0h2m77 0h3m535 0h4m45 0h3m43 0h6m61 0h5m92 0h8m13 0h5m-1300 1h3m99 0h3m0 0h4m33 0h2m23 0h5m848 0h6m148 0h3m-1188 1h5m237 0h6m41 0h6m36 0h5m29 0h2m213 0h4m-582 1h2m4 0h3m6 0h5m45 0h8m47 0h2m48 0h2m0 0h5m1130 0h4m-1294 1h8m4 0h2m3 0h6m8 0h6m13 0h4m0 0h5m3 0h5m16 0h5m40 0h2m17 0h8m0 0h5m592 0h6m443 0h4m-803 1h5m57 0h3m4 0h2m4 0h8m0 0h3m12 0h6m465 0h4m133 0h4m-1050 1h5m3 0h8m9 0h6m42 0h6m2 0h2m526 0h2m54 0h3m31 0h4m426 0h6m10 0h4m-1163 1h2m121 0h2m1013 0h2"/><path stroke="#831026" d="M229 1.5h4m128 0h8m798 1h3m-856 2h5m39 0h5m-243 1h4m-118 1h4m80 0h4m23 0h5m6 0h5m48 0h6m0 0h2m201 1h8m56 0h5m9 0h2m-143 2h2"/><path stroke="#9a172a" d="M276 1.5h3m58 0h5m27 0h5m351 0h6m379 1h5m43 0h1m-1050 1h2m33 0h3m377 0h8m624 0h3m-931 1h8m-230 1h4m14 0h4m-18 1h6m0 0h5m8 0h4m2 0h3m6 0h2m63 0h3m10 0h6m7 0h5m5 0h4m13 0h3m248 1h4m96 0h8m511 0h4m32 0h4m-973 1h3m12 0h8m463 0h2m6 0h4m100 0h2m14 0h4m-439 1h3"/><path stroke="#6d0a22" d="M139 3.5h5m-129 2h4m93 0h2m36 0h8m8 0h8m-174 1h2m0 0h4m52 0h8m14 0h3m50 0h2m16 0h6m0 0h5m3 0h3m1036 0h2m-697 1h2"/><path stroke="#7bb1d3" d="M981 3.5h4m-41 1h3m26 0h4m-140 1h8m117 2h4m-38 1h6m0 0h6m21 0h5m11 0h2m2 0h6m0 0h3m-47 1h4m2 0h6m20 0h6"/><path stroke="#4a8cc0" d="M936 4.5h3m18 0h2m-26 5h2m2 0h4m28 0h6m12 0h3"/><path stroke="#407bb3" d="M971 4.5h2m-32 5h2"/><path stroke="#366ba5" d="M931 9.5h2"/></g><path d="M294.9 115.9V671.2M387.7 115.9V671.2M466.3 115.9V671.2M540.3 115.9V671.2M604.5 115.9V671.2M664.5 115.9V671.2M695.5 115.9V671.2M726.0 115.9V671.2M755.6 115.9V671.2M780.0 115.9V671.2M801.7 115.9V671.2M822.7 115.9V671.2M842.8 115.9V671.2M859.4 115.9V671.2" stroke="#8c8c8c" stroke-width="1.6" fill="none"/><rect x="200.3" y="90.3" width="93.7" height="10.8" fill="#d44b2c"/><rect x="295.9" y="90.3" width="90.7" height="10.8" fill="#9a80c2"/><rect x="388.8" y="90.3" width="76.7" height="10.8" fill="#e8717c"/><rect x="467.1" y="90.3" width="72.2" height="10.8" fill="#8fd45e"/><rect x="541.4" y="90.3" width="62.3" height="10.8" fill="#9bdfe7"/><rect x="605.4" y="90.3" width="58.3" height="10.8" fill="#ec7e35"/><rect x="665.4" y="90.3" width="29.0" height="10.8" fill="#db2b2e"/><rect x="696.7" y="90.3" width="28.2" height="10.8" fill="#8fa0d4"/><rect x="727.0" y="90.3" width="27.7" height="10.8" fill="#ece83e"/><rect x="756.5" y="90.3" width="22.3" height="10.8" fill="#d6a66a"/><rect x="781.1" y="90.3" width="19.6" height="10.8" fill="#8a2ea3"/><rect x="802.7" y="90.3" width="18.9" height="10.8" fill="#3a9a4a"/><rect x="823.8" y="90.3" width="18.1" height="10.8" fill="#2e3b83"/><rect x="843.7" y="90.3" width="15.2" height="10.8" fill="#c46cc8"/><g font-size="24.5" fill="#111"><text transform="translate(247.2 80.5) rotate(-90)" x="0" y="8.6">W0</text><text transform="translate(341.2 80.5) rotate(-90)" x="0" y="8.6">W1</text><text transform="translate(427.1 80.5) rotate(-90)" x="0" y="8.6">W2</text><text transform="translate(503.2 80.5) rotate(-90)" x="0" y="8.6">W3</text><text transform="translate(572.5 80.5) rotate(-90)" x="0" y="8.6">W4</text><text transform="translate(634.5 80.5) rotate(-90)" x="0" y="8.6">W5</text><text transform="translate(679.9 80.5) rotate(-90)" x="0" y="8.6">W6</text><text transform="translate(710.8 80.5) rotate(-90)" x="0" y="8.6">W7</text><text transform="translate(740.9 80.5) rotate(-90)" x="0" y="8.6">W8</text><text transform="translate(767.6 80.5) rotate(-90)" x="0" y="8.6">W9</text><text transform="translate(790.9 80.5) rotate(-90)" x="0" y="8.6">W10</text><text transform="translate(812.2 80.5) rotate(-90)" x="0" y="8.6">W11</text><text transform="translate(832.8 80.5) rotate(-90)" x="0" y="8.6">W12</text><text transform="translate(851.3 80.5) rotate(-90)" x="0" y="8.6">W13</text></g><g transform="translate(1094.00 115.80) scale(0.5 55.5700)" fill="none" stroke-width="1.003"><path stroke="#4d7fbe" d="M0 0.5h2m0 0h2m0 0h6m8 0h4m0 0h5m6 0h2m16 0h2m12 0h8m0 0h8m0 0h4m0 0h6m5 0h4m26 0h2m9 0h2m5 0h4m4 0h8m12 0h4m18 0h2m28 0h2m12 0h2m0 0h2m0 0h3m7 0h4m23 0h3m0 0h8m10 0h3m0 0h8m5 0h8m0 0h2m0 0h2m18 0h2m2 0h6m0 0h3m5 0h3m32 0h6m0 0h4m0 0h8m0 0h4m0 0h2m9 0h2m0 0h2m18 0h4m5 0h4m10 0h4m3 0h3m0 0h8m5 0h3m3 0h2m0 0h6m0 0h5m9 0h4m4 0h5m6 0h4m7 0h3m32 0h4m2 0h4m0 0h6m15 0h5m5 0h4m2 0h3m0 0h3m0 0h3m0 0h2m8 0h6m18 0h4m17 0h6m12 0h2m3 0h6m10 0h2m7 0h2m2 0h6m0 0h4m0 0h6m22 0h5m58 0h8m24 0h2m0 0h2m16 0h2m22 0h4m42 0h4m57 0h3m0 0h5m15 0h2m0 0h3m14 0h5m12 0h2m2 0h6m78 0h8m2 0h4m0 0h6m26 0h6m8 0h5m29 0h4m6 0h4m3 0h4m0 0h2m8 0h3m4 0h3m4 0h4m10 0h8m3 0h8m0 0h6m0 0h4m10 0h2m12 0h2m4 0h6m6 0h4m16 0h4m0 0h2m0 0h4m0 0h6m0 0h4m11 0h8m0 0h8m6 0h3m0 0h5m2 0h2m7 0h8m0 0h6m29 0h5m0 0h8m0 0h8m0 0h6m6 0h2m-1549 1h4m0 0h2m2 0h3m35 0h2m4 0h4m17 0h8m0 0h2m4 0h8m0 0h2m9 0h2m10 0h6m2 0h2m28 0h2m10 0h3m11 0h4m13 0h8m0 0h2m0 0h3m6 0h5m0 0h4m11 0h3m13 0h2m6 0h6m21 0h3m16 0h2m0 0h6m4 0h8m0 0h3m0 0h2m2 0h4m0 0h4m4 0h3m0 0h5m14 0h4m24 0h6m14 0h1m25 0h6m93 0h3m30 0h4m29 0h4m0 0h4m0 0h4m0 0h6m0 0h4m2 0h2m0 0h5m12 0h2m0 0h8m6 0h6m0 0h6m5 0h2m34 0h4m3 0h4m0 0h4m0 0h4m0 0h6m0 0h6m8 0h4m4 0h2m4 0h5m75 0h8m9 0h3m41 0h4m8 0h6m13 0h2m0 0h4m0 0h8m0 0h2m8 0h3m0 0h5m2 0h5m0 0h5m5 0h2m4 0h3m29 0h5m0 0h4m6 0h5m2 0h4m2 0h6m0 0h4m104 0h4m0 0h2m6 0h3m22 0h8m2 0h5m2 0h4m27 0h2m0 0h5m0 0h2m0 0h2m0 0h8m0 0h8m10 0h3m16 0h5m6 0h4m6 0h3m0 0h5m0 0h4m10 0h5m0 0h8m14 0h2m4 0h3m12 0h3m0 0h8m9 0h2m0 0h4m12 0h2m0 0h4m0 0h6m4 0h8m5 0h2m0 0h6m15 0h5m2 0h5m2 0h5m21 0h4m-1572 1h2m0 0h8m10 0h2m16 0h3m51 0h6m4 0h2m6 0h4m0 0h2m0 0h2m0 0h8m12 0h5m17 0h8m13 0h2m16 0h5m0 0h5m5 0h8m60 0h4m60 0h5m99 0h2m4 0h4m0 0h8m0 0h5m0 0h4m6 0h2m0 0h4m0 0h3m8 0h8m9 0h4m8 0h2m14 0h8m0 0h8m12 0h6m23 0h4m3 0h8m0 0h8m0 0h2m0 0h2m0 0h2m7 0h2m0 0h4m5 0h8m6 0h2m4 0h4m0 0h4m14 0h8m0 0h2m3 0h2m0 0h8m9 0h3m0 0h2m2 0h3m0 0h4m0 0h2m2 0h4m6 0h8m0 0h4m2 0h5m2 0h2m2 0h2m0 0h3m0 0h5m2 0h4m0 0h8m3 0h6m24 0h2m15 0h5m0 0h5m61 0h2m91 0h4m0 0h3m0 0h4m0 0h5m8 0h5m20 0h5m0 0h4m32 0h4m79 0h5m0 0h3m4 0h2m0 0h8m0 0h4m0 0h4m0 0h2m0 0h5m0 0h5m0 0h5m3 0h2m9 0h4m0 0h4m4 0h2m10 0h3m16 0h6m36 0h2m2 0h6m10 0h3m2 0h5m7 0h4m21 0h8m5 0h2m21 0h8m14 0h4m13 0h2m0 0h4m0 0h6m16 0h5m5 0h2m13 0h2m17 0h6m4 0h2m0 0h2m2 0h4m0 0h6m4 0h6m-1286 1h6m292 0h5m43 0h4m101 0h3m75 0h3m23 0h3m97 0h2m0 0h5m0 0h6m6 0h3m17 0h8m84 0h5m170 0h4m19 0h4m16 0h5m82 0h3m154 0h3m-1507 1h2m29 0h4m33 0h6m15 0h4m5 0h4m13 0h6m31 0h2m22 0h3m30 0h6m199 0h5m16 0h8m0 0h4m0 0h3m4 0h2m6 0h6m3 0h2m0 0h6m2 0h2m2 0h4m6 0h2m0 0h4m17 0h3m42 0h8m8 0h4m0 0h8m10 0h1m20 0h3m0 0h2m8 0h2m0 0h2m7 0h3m8 0h4m32 0h2m0 0h2m0 0h5m6 0h6m12 0h4m0 0h4m20 0h4m0 0h2m4 0h6m6 0h4m7 0h4m66 0h2m4 0h4m82 0h5m6 0h3m10 0h2m0 0h2m3 0h4m0 0h3m0 0h2m21 0h5m3 0h2m0 0h6m0 0h5m16 0h4m0 0h8m100 0h2m18 0h3m6 0h6m0 0h8m0 0h6m0 0h6m7 0h2m5 0h5m37 0h4m4 0h2m15 0h6m4 0h4m15 0h4m14 0h2m0 0h5m0 0h4m5 0h6m0 0h3m0 0h5m8 0h4m0 0h6m0 0h8m7 0h5m0 0h5m8 0h2m8 0h3m9 0h5m0 0h4m0 0h2m2 0h4m6 0h5m30 0h1m2 0h8m0 0h8m2 0h8m0 0h8m-1565 1h4m33 0h2m20 0h2m6 0h2m37 0h8m0 0h2m29 0h2m0 0h4m10 0h2m26 0h2m159 0h4m291 0h4m41 0h6m0 0h5m0 0h3m9 0h4m2 0h8m5 0h2m4 0h4m10 0h2m0 0h2m28 0h2m51 0h5m60 0h8m14 0h8m0 0h2m35 0h4m52 0h4m41 0h4m5 0h5m165 0h4m28 0h6m2 0h5m26 0h8m22 0h5m16 0h2m4 0h2m8 0h4m14 0h6m9 0h3m31 0h2m19 0h3m22 0h4m24 0h1m39 0h2m-1547 1h5m27 0h5m23 0h5m9 0h2m14 0h2m0 0h3m0 0h4m0 0h6m15 0h4m13 0h2m0 0h5m37 0h2m37 0h6m2 0h4m0 0h3m14 0h6m0 0h5m7 0h4m28 0h5m16 0h4m13 0h2m0 0h3m4 0h4m13 0h4m16 0h6m27 0h2m19 0h8m0 0h6m32 0h5m0 0h2m11 0h2m99 0h2m14 0h6m0 0h6m21 0h8m10 0h3m0 0h8m33 0h5m30 0h4m0 0h4m20 0h6m38 0h4m11 0h4m52 0h5m59 0h3m11 0h2m0 0h8m19 0h2m0 0h4m63 0h2m100 0h2m13 0h4m42 0h2m53 0h2m5 0h2m0 0h2m1 0h2m0 0h4m0 0h3m10 0h4m26 0h8m2 0h4m4 0h8m2 0h8m0 0h5m30 0h2m8 0h8m5 0h6m12 0h8m0 0h8m8 0h2m10 0h4m-1532 1h4m24 0h4m2 0h3m5 0h2m13 0h4m4 0h2m8 0h3m10 0h5m27 0h3m6 0h2m2 0h4m3 0h4m0 0h3m18 0h6m0 0h3m46 0h2m6 0h3m14 0h8m0 0h8m0 0h4m0 0h5m0 0h8m9 0h4m0 0h4m30 0h4m0 0h8m8 0h4m0 0h4m0 0h2m6 0h4m10 0h2m10 0h4m6 0h8m4 0h4m14 0h8m71 0h2m326 0h4m11 0h4m0 0h2m10 0h6m9 0h2m6 0h3m0 0h6m2 0h2m0 0h3m14 0h4m39 0h3m0 0h4m1 0h8m6 0h2m11 0h4m16 0h4m0 0h8m20 0h3m0 0h3m0 0h4m0 0h3m2 0h6m6 0h6m0 0h2m0 0h2m21 0h3m78 0h4m17 0h4m14 0h5m10 0h6m19 0h2m0 0h5m2 0h3m9 0h8m0 0h4m0 0h5m12 0h5m0 0h2m0 0h5m18 0h3m0 0h4m0 0h8m9 0h2m0 0h2m4 0h5m63 0h8m15 0h3m15 0h3m7 0h8m17 0h8m4 0h5m1 0h3m8 0h4m-1515 1h5m31 0h2m29 0h4m5 0h4m21 0h3m40 0h8m11 0h4m16 0h3m32 0h8m103 0h4m63 0h2m61 0h4m10 0h4m68 0h6m45 0h2m29 0h4m3 0h5m53 0h2m9 0h6m37 0h5m0 0h2m28 0h4m0 0h2m49 0h3m63 0h4m41 0h5m60 0h2m31 0h8m96 0h2m60 0h8m9 0h4m25 0h2m69 0h2m32 0h5m13 0h6m2 0h6m7 0h5m24 0h2m0 0h6m4 0h5m18 0h2m8 0h8m42 0h5m-1419 1h8m22 0h4m44 0h4m0 0h5m2 0h8m8 0h4m0 0h3m18 0h3m12 0h3m0 0h3m11 0h2m0 0h8m0 0h3m0 0h4m11 0h2m4 0h3m7 0h2m5 0h2m0 0h5m3 0h5m2 0h6m0 0h3m0 0h4m0 0h8m0 0h4m0 0h2m0 0h5m0 0h2m0 0h6m0 0h5m0 0h3m5 0h3m3 0h3m0 0h2m2 0h3m0 0h4m7 0h2m6 0h8m0 0h3m3 0h3m0 0h2m3 0h2m0 0h5m0 0h5m0 0h2m8 0h5m20 0h2m0 0h5m0 0h4m2 0h4m0 0h2m5 0h3m2 0h2m16 0h2m9 0h6m4 0h4m0 0h4m5 0h2m6 0h4m0 0h4m9 0h6m21 0h4m32 0h6m2 0h5m18 0h5m21 0h2m39 0h8m5 0h2m47 0h2m5 0h3m19 0h8m4 0h5m8 0h3m47 0h5m0 0h2m9 0h4m11 0h3m0 0h3m0 0h4m4 0h3m0 0h4m10 0h5m0 0h3m0 0h2m0 0h2m0 0h6m6 0h4m0 0h8m0 0h4m5 0h4m11 0h2m0 0h4m90 0h2m2 0h3m0 0h2m0 0h5m0 0h4m2 0h5m0 0h2m0 0h4m0 0h8m19 0h2m0 0h4m0 0h3m6 0h6m0 0h5m4 0h8m14 0h4m0 0h8m0 0h3m16 0h1m6 0h4m0 0h8m0 0h6m0 0h8m0 0h4m15 0h4m0 0h3m0 0h1m0 0h4m20 0h4m0 0h6m16 0h1m4 0h6m0 0h6m2 0h4m0 0h2m0 0h4m0 0h4m15 0h2m0 0h2m2 0h3m2 0h6m4 0h2m4 0h4m0 0h3m0 0h5m0 0h5m17 0h4m0 0h4m0 0h8"/><path stroke="#4e84c2" d="M10 0.5h4m0 0h4m9 0h2m0 0h4m2 0h4m0 0h8m0 0h4m2 0h4m0 0h2m0 0h6m26 0h3m0 0h2m4 0h4m0 0h5m0 0h8m0 0h3m0 0h6m2 0h3m0 0h6m2 0h5m4 0h4m8 0h6m0 0h6m4 0h8m0 0h8m0 0h2m2 0h3m0 0h4m0 0h6m0 0h4m0 0h8m0 0h3m2 0h4m0 0h8m7 0h4m0 0h3m4 0h8m0 0h3m8 0h4m11 0h4m17 0h5m12 0h2m0 0h4m0 0h4m0 0h8m2 0h2m9 0h5m3 0h4m0 0h2m0 0h5m0 0h8m0 0h5m0 0h8m24 0h4m0 0h5m4 0h5m0 0h4m0 0h4m0 0h1m0 0h4m4 0h5m4 0h2m0 0h2m0 0h6m4 0h3m11 0h5m3 0h3m13 0h4m0 0h5m4 0h4m5 0h6m4 0h4m0 0h3m3 0h8m0 0h2m0 0h2m0 0h4m0 0h3m0 0h2m0 0h4m0 0h5m0 0h2m4 0h2m10 0h6m0 0h6m0 0h3m5 0h5m4 0h2m11 0h6m0 0h2m6 0h5m0 0h4m0 0h5m0 0h4m4 0h5m4 0h8m6 0h2m0 0h8m0 0h2m2 0h3m6 0h4m0 0h6m2 0h5m0 0h2m2 0h2m16 0h5m0 0h5m0 0h4m0 0h6m0 0h2m5 0h2m0 0h5m0 0h4m0 0h6m25 0h6m30 0h4m113 0h2m4 0h5m12 0h5m4 0h5m2 0h2m15 0h5m13 0h3m16 0h2m106 0h2m10 0h8m0 0h6m0 0h3m0 0h3m0 0h6m6 0h8m13 0h4m0 0h6m0 0h4m0 0h4m0 0h3m4 0h4m0 0h2m4 0h3m6 0h8m3 0h4m3 0h4m4 0h1m0 0h3m0 0h6m8 0h3m18 0h4m0 0h6m2 0h8m0 0h1m0 0h3m2 0h4m6 0h6m4 0h2m0 0h3m0 0h8m0 0h3m20 0h2m0 0h4m0 0h2m0 0h3m16 0h6m8 0h2m2 0h5m0 0h2m14 0h8m0 0h5m0 0h6m0 0h2m0 0h2m0 0h6m27 0h6m2 0h1m-1577 1h4m0 0h8m26 0h8m78 0h5m0 0h2m12 0h2m10 0h2m7 0h4m21 0h2m30 0h5m37 0h2m9 0h2m52 0h4m58 0h6m68 0h6m34 0h3m107 0h3m40 0h2m7 0h4m18 0h6m113 0h4m36 0h4m55 0h4m40 0h3m99 0h2m128 0h2m0 0h4m84 0h5m36 0h2m21 0h6m5 0h6m130 0h4m69 0h5m-1539 1h3m99 0h4m10 0h8m26 0h4m4 0h4m20 0h5m10 0h2m313 0h4m185 0h2m84 0h2m120 0h3m0 0h6m0 0h2m4 0h4m14 0h3m12 0h4m17 0h5m51 0h2m15 0h4m0 0h8m2 0h3m0 0h4m0 0h3m6 0h5m202 0h4m206 0h8m-709 1h3m0 0h2m13 0h5m9 0h5m8 0h8m14 0h2m43 0h5m0 0h6m-927 1h6m19 0h2m2 0h8m4 0h4m12 0h6m27 0h2m83 0h4m0 0h5m0 0h6m194 0h2m0 0h5m23 0h8m115 0h2m108 0h4m26 0h3m16 0h3m0 0h6m85 0h2m47 0h5m10 0h5m41 0h4m41 0h2m58 0h3m23 0h3m49 0h3m103 0h2m88 0h5m0 0h2m12 0h6m84 0h8m51 0h2m3 0h4m42 0h2m-1259 1h2m553 0h3m21 0h2m32 0h4m3 0h3m697 0h1m-1580 1h2m0 0h2m0 0h4m0 0h3m0 0h5m0 0h2m3 0h8m8 0h4m0 0h2m0 0h2m0 0h5m0 0h2m0 0h4m2 0h6m5 0h2m0 0h8m0 0h3m0 0h6m0 0h4m5 0h4m7 0h4m0 0h6m0 0h4m15 0h4m0 0h2m0 0h4m0 0h2m0 0h3m4 0h5m0 0h4m0 0h4m7 0h6m0 0h6m2 0h8m3 0h4m0 0h4m0 0h4m2 0h8m0 0h1m0 0h8m0 0h8m0 0h2m2 0h8m6 0h2m7 0h4m0 0h6m0 0h4m11 0h4m0 0h3m4 0h2m0 0h8m0 0h4m0 0h3m4 0h3m2 0h2m5 0h5m0 0h6m0 0h5m4 0h2m0 0h6m0 0h5m5 0h4m4 0h4m0 0h4m0 0h5m4 0h2m0 0h4m6 0h4m11 0h4m0 0h2m0 0h4m0 0h6m0 0h5m3 0h3m0 0h3m0 0h5m0 0h6m0 0h2m14 0h2m0 0h6m0 0h4m0 0h6m0 0h2m0 0h8m0 0h4m7 0h2m0 0h4m3 0h2m2 0h4m0 0h4m0 0h5m0 0h5m0 0h6m0 0h5m0 0h6m5 0h4m0 0h3m0 0h5m0 0h8m0 0h2m0 0h4m0 0h6m0 0h2m0 0h8m0 0h8m11 0h5m0 0h4m0 0h5m12 0h5m0 0h6m0 0h2m0 0h8m8 0h6m0 0h4m11 0h5m4 0h5m6 0h4m0 0h3m0 0h6m5 0h2m0 0h2m0 0h4m0 0h2m0 0h8m0 0h4m0 0h4m0 0h4m8 0h2m0 0h5m0 0h2m0 0h3m0 0h3m0 0h5m6 0h6m45 0h2m17 0h4m17 0h3m0 0h8m0 0h2m44 0h3m2 0h2m0 0h4m0 0h2m0 0h4m11 0h4m0 0h2m0 0h3m0 0h2m10 0h4m6 0h4m0 0h5m6 0h8m0 0h3m0 0h5m0 0h2m0 0h6m0 0h6m0 0h5m0 0h8m0 0h6m0 0h2m0 0h4m0 0h4m0 0h4m8 0h2m0 0h2m82 0h3m0 0h5m2 0h4m0 0h4m0 0h5m4 0h4m0 0h4m0 0h6m0 0h2m0 0h6m6 0h6m0 0h2m0 0h2m0 0h4m2 0h8m0 0h5m0 0h8m0 0h5m0 0h6m0 0h4m0 0h2m0 0h8m0 0h4m0 0h3m2 0h3m0 0h2m4 0h1m9 0h8m0 0h2m4 0h2m0 0h4m0 0h2m0 0h8m0 0h4m14 0h2m16 0h2m13 0h5m0 0h6m0 0h8m0 0h1m0 0h4m0 0h6m2 0h8m8 0h5m6 0h5m0 0h3m0 0h2m0 0h2m16 0h3m0 0h5m2 0h2m0 0h8m4 0h2m0 0h5m0 0h1m0 0h3m0 0h5m0 0h2m5 0h4m0 0h8m8 0h7m-1578 1h8m20 0h2m160 0h8m7 0h4m0 0h3m6 0h4m69 0h5m247 0h5m352 0h6m181 0h3m382 0h3m-1118 1h8m359 0h2m109 0h6m10 0h6m24 0h5m12 0h6m450 0h4m-1349 1h3m18 0h4m31 0h6m18 0h4m124 0h5m12 0h2m48 0h4m10 0h3m0 0h6m24 0h6m88 0h5m3 0h3m14 0h3m92 0h2m63 0h5m16 0h3m75 0h2m33 0h4m8 0h2m7 0h6m61 0h2m0 0h4m0 0h8m173 0h6m22 0h6m29 0h5m18 0h4m74 0h2m47 0h2m22 0h2m33 0h4m15 0h8m4 0h4m1 0h6m57 0h4m8 0h8m13 0h2m4 0h4m4 0h4m47 0h2m17 0h4m17 0h6m2 0h3m22 0h5m4 0h6"/><path stroke="#4e8ac5" d="M267 0.5h8m19 0h6m392 0h4m151 0h6m16 0h4m8 0h4m8 0h6m0 0h6m2 0h2m2 0h6m12 0h4m6 0h3m15 0h2m0 0h5m25 0h5m11 0h4m2 0h6m5 0h2m0 0h2m5 0h2m2 0h3m0 0h2m19 0h4m8 0h6m0 0h2m16 0h4m2 0h2m6 0h4m139 0h8m-1206 1h5m0 0h3m8 0h6m39 0h2m79 0h4m10 0h4m8 0h4m255 0h4m117 0h5m4 0h4m201 0h2m0 0h3m129 0h5m376 0h6m51 0h2m-1201 1h6m0 0h2m49 0h2m21 0h3m8 0h2m9 0h2m29 0h2m40 0h4m71 0h6m451 0h8m70 0h6m0 0h4m4 0h4m18 0h4m-724 1h2m139 0h4m426 0h8m13 0h4m12 0h5m16 0h3m0 0h8m-930 1h4m0 0h6m28 0h2m31 0h6m40 0h8m7 0h2m12 0h5m10 0h8m16 0h3m74 0h4m48 0h3m20 0h6m24 0h4m57 0h6m11 0h2m384 0h8m6 0h8m17 0h4m5 0h8m19 0h4m35 0h4m305 0h3m3 0h4m11 0h6m12 0h6m11 0h4m16 0h1m-905 1h2m396 0h8m0 0h8m21 0h5m26 0h8m8 0h3m0 0h2m8 0h3m0 0h2m-926 1h2m18 0h3m8 0h3m24 0h2m43 0h5m82 0h2m8 0h3m41 0h2m76 0h4m3 0h2m76 0h6m10 0h5m21 0h1m80 0h3m39 0h5m50 0h4m0 0h5m83 0h4m5 0h6m110 0h4m0 0h2m32 0h4m44 0h2m9 0h5m0 0h8m8 0h2m17 0h8m28 0h4m0 0h2m80 0h6m265 0h6m14 0h4m152 0h5m12 0h8m-1553 1h2m0 0h4m9 0h5m2 0h8m15 0h8m56 0h2m14 0h4m23 0h8m1220 0h8m23 0h4m-1006 1h5m380 0h5m27 0h5m65 0h4m35 0h3m0 0h2m-941 1h8m22 0h8m8 0h2m59 0h5m0 0h2m6 0h6m26 0h6m6 0h6m168 0h5m103 0h2m173 0h2m6 0h2m3 0h6m27 0h4m34 0h8m28 0h2m11 0h5m33 0h3m34 0h2m0 0h4m13 0h5m50 0h2m34 0h8m404 0h2"/><path stroke="#4f8fc8" d="M816 0.5h6m11 0h8m24 0h4m68 0h2m25 0h2m7 0h6m17 0h4m55 0h4m-1040 1h3m6 0h4m6 0h2m11 0h3m38 0h5m76 0h5m280 0h4m71 0h2m0 0h8m18 0h8m8 0h5m268 0h2m16 0h5m32 0h6m15 0h5m408 0h2m-1274 1h4m257 0h8m530 0h4m0 0h8m0 0h5m21 0h5m17 0h5m16 0h4m6 0h6m0 0h2m137 0h2m-874 1h6m650 0h5m5 0h2m34 0h4m24 0h4m-946 1h2m8 0h8m47 0h2m53 0h8m11 0h4m132 0h4m7 0h8m0 0h2m13 0h2m0 0h4m14 0h2m9 0h5m20 0h3m509 0h4m429 0h2m-1067 1h6m550 0h5m18 0h6m18 0h6m16 0h4m38 0h5m-113 1h8m20 0h4m4 0h5m15 0h4m19 0h6m28 0h4m19 0h4m-942 1h2m101 0h4m24 0h2m29 0h2m23 0h2m247 0h5m91 0h6m269 1h4m0 0h8m14 0h2m35 0h8m13 0h5m-801 1h3m534 0h3m6 0h6m0 0h4m72 0h5m4 0h8m60 0h6m57 0h6m24 0h4m14 0h2m15 0h8m0 0h2m0 0h2"/><path stroke="#88c7e1" d="M822 0.5h3m0 1h2m-449 1h4m-40 1h4m518 1h2m-581 1h4m139 0h5m0 0h2m46 2h4m-203 1h4m46 0h2m588 0h5m-898 1h3m115 0h4"/><path stroke="#4c7abb" d="M825 0.5h8m176 0h2m68 0h3m-946 1h2m2 0h8m8 0h2m7 0h4m75 0h6m9 0h5m0 0h4m5 0h6m2 0h3m0 0h2m2 0h4m0 0h2m6 0h4m0 0h4m0 0h5m0 0h8m3 0h3m0 0h6m4 0h3m8 0h2m15 0h2m8 0h4m8 0h4m0 0h4m14 0h3m0 0h4m0 0h5m0 0h4m10 0h3m0 0h4m0 0h2m0 0h5m120 0h3m12 0h4m48 0h2m0 0h2m35 0h8m28 0h2m0 0h3m2 0h4m4 0h4m6 0h8m0 0h6m0 0h2m31 0h5m0 0h3m4 0h4m2 0h4m5 0h2m15 0h2m50 0h4m38 0h5m43 0h8m16 0h8m8 0h2m10 0h5m2 0h4m7 0h8m0 0h2m0 0h4m6 0h5m9 0h6m11 0h2m19 0h2m80 0h6m0 0h2m0 0h2m0 0h3m15 0h4m0 0h6m0 0h6m0 0h6m8 0h2m5 0h2m4 0h4m0 0h5m15 0h3m29 0h8m52 0h4m19 0h2m0 0h8m0 0h4m2 0h2m0 0h2m3 0h3m0 0h5m0 0h2m0 0h2m11 0h4m0 0h5m6 0h4m5 0h3m24 0h5m8 0h4m0 0h8m0 0h3m5 0h2m5 0h2m5 0h4m0 0h8m0 0h2m5 0h2m10 0h4m-1572 1h4m0 0h2m0 0h4m21 0h6m0 0h8m0 0h2m5 0h3m6 0h4m0 0h4m0 0h2m8 0h3m34 0h3m4 0h5m13 0h6m15 0h2m23 0h2m189 0h3m26 0h3m57 0h2m13 0h5m0 0h3m12 0h3m0 0h2m4 0h8m2 0h4m8 0h2m16 0h6m0 0h6m6 0h2m0 0h8m0 0h8m0 0h5m4 0h3m35 0h5m8 0h6m2 0h2m0 0h2m8 0h2m3 0h4m0 0h3m0 0h2m10 0h3m10 0h5m20 0h2m4 0h6m19 0h2m2 0h2m10 0h2m12 0h3m6 0h5m33 0h3m73 0h3m74 0h5m42 0h6m0 0h4m15 0h4m0 0h2m12 0h2m103 0h4m35 0h3m7 0h4m8 0h4m2 0h4m0 0h6m3 0h8m14 0h4m0 0h4m0 0h6m0 0h4m4 0h6m0 0h4m0 0h2m0 0h2m2 0h2m6 0h2m0 0h2m9 0h2m5 0h2m3 0h2m4 0h6m0 0h3m5 0h2m0 0h5m8 0h5m2 0h5m0 0h8m0 0h8m8 0h2m0 0h2m2 0h8m4 0h5m0 0h8m12 0h8m0 0h2m0 0h4m0 0h2m5 0h5m2 0h2m0 0h2m0 0h4m0 0h3m0 0h2m10 0h7m0 0h2m14 0h2m10 0h4m6 0h4m-1580 1h6m14 0h4m200 0h4m10 0h3m207 0h6m3 0h2m4 0h3m0 0h4m15 0h2m0 0h4m7 0h2m6 0h5m6 0h5m8 0h2m7 0h4m0 0h5m0 0h2m0 0h8m3 0h6m2 0h2m0 0h8m0 0h2m22 0h4m0 0h6m0 0h3m0 0h3m0 0h8m0 0h2m0 0h7m4 0h6m11 0h2m8 0h2m0 0h4m4 0h2m9 0h4m0 0h8m21 0h5m7 0h4m19 0h2m0 0h4m7 0h4m10 0h4m6 0h4m4 0h4m70 0h5m26 0h5m0 0h6m45 0h2m11 0h2m0 0h5m10 0h5m3 0h4m3 0h6m0 0h4m4 0h5m0 0h6m0 0h6m0 0h4m0 0h4m0 0h4m10 0h8m6 0h2m7 0h3m3 0h3m0 0h5m0 0h3m8 0h3m74 0h5m0 0h3m3 0h2m0 0h5m38 0h4m0 0h6m4 0h3m8 0h8m4 0h4m0 0h4m0 0h5m16 0h5m3 0h6m2 0h6m0 0h2m5 0h2m8 0h4m0 0h8m26 0h4m0 0h4m8 0h2m22 0h2m18 0h3m4 0h2m6 0h2m8 0h5m4 0h6m10 0h4m0 0h5m13 0h2m0 0h4m10 0h2m0 0h4m7 0h4m22 0h5m0 0h4m-1572 1h8m22 0h5m52 0h3m0 0h4m65 0h6m6 0h4m30 0h6m35 0h6m10 0h5m79 0h2m42 0h4m51 0h6m0 0h2m0 0h4m0 0h4m15 0h4m14 0h3m8 0h2m2 0h2m4 0h6m6 0h6m0 0h6m0 0h5m5 0h3m3 0h4m2 0h2m0 0h8m0 0h8m0 0h8m10 0h8m12 0h3m0 0h3m0 0h4m1 0h5m0 0h4m2 0h5m0 0h4m5 0h4m8 0h3m0 0h4m3 0h4m0 0h4m11 0h4m0 0h8m9 0h4m9 0h6m6 0h2m32 0h4m18 0h4m6 0h3m23 0h3m86 0h3m35 0h8m0 0h8m5 0h4m0 0h2m3 0h2m0 0h8m4 0h3m12 0h6m0 0h4m0 0h8m21 0h8m0 0h6m0 0h2m12 0h8m3 0h3m0 0h4m74 0h3m0 0h5m2 0h8m0 0h4m9 0h6m26 0h4m5 0h1m29 0h4m44 0h4m4 0h4m0 0h2m0 0h4m0 0h5m4 0h6m0 0h2m0 0h4m0 0h2m11 0h1m44 0h7m14 0h4m2 0h3m0 0h3m9 0h5m11 0h2m4 0h6m5 0h3m8 0h4m0 0h4m0 0h3m0 0h6m0 0h2m1 0h2m34 0h6m-1582 1h4m0 0h2m0 0h5m4 0h8m0 0h8m2 0h6m3 0h4m0 0h2m5 0h4m0 0h8m0 0h5m2 0h3m0 0h3m2 0h6m9 0h6m8 0h6m0 0h2m14 0h2m10 0h4m0 0h5m0 0h4m6 0h5m15 0h8m4 0h6m10 0h4m0 0h4m324 0h3m87 0h3m3 0h2m0 0h2m0 0h2m10 0h2m4 0h8m0 0h5m0 0h3m0 0h3m0 0h6m0 0h4m0 0h6m0 0h6m14 0h4m0 0h5m14 0h5m2 0h4m4 0h4m0 0h2m0 0h2m0 0h2m4 0h2m0 0h6m0 0h3m8 0h4m0 0h2m5 0h4m0 0h2m4 0h8m0 0h1m68 0h2m67 0h5m26 0h4m0 0h6m0 0h3m0 0h8m10 0h5m0 0h5m0 0h3m0 0h3m9 0h8m0 0h4m0 0h3m0 0h2m0 0h2m0 0h8m8 0h4m0 0h2m14 0h4m0 0h2m0 0h4m0 0h2m80 0h3m0 0h4m0 0h4m0 0h4m4 0h5m0 0h4m0 0h8m12 0h6m0 0h6m0 0h2m0 0h4m0 0h7m8 0h5m0 0h8m17 0h2m5 0h8m8 0h8m0 0h2m8 0h5m0 0h2m4 0h4m12 0h2m0 0h3m8 0h3m2 0h4m2 0h2m0 0h6m4 0h6m0 0h5m0 0h3m6 0h3m9 0h3m0 0h4m0 0h4m0 0h5m0 0h6m0 0h2m2 0h5m2 0h6m0 0h4m0 0h3m4 0h2m3 0h3m0 0h4m0 0h5m0 0h4m0 0h2m0 0h2m0 0h2m12 0h8m0 0h4m0 0h4m1 0h3m0 0h2m0 0h6m0 0h8m0 0h4m6 0h5m0 0h5m-745 1h2m27 0h4m100 0h2m218 0h8m49 0h6m-1153 1h5m0 0h6m29 0h3m44 0h8m34 0h2m3 0h2m0 0h4m0 0h8m33 0h5m0 0h2m0 0h2m18 0h6m6 0h2m24 0h2m10 0h2m0 0h4m4 0h4m0 0h4m4 0h4m0 0h6m4 0h6m24 0h2m0 0h2m14 0h3m0 0h5m0 0h3m65 0h5m151 0h4m25 0h2m2 0h6m55 0h5m9 0h8m22 0h7m0 0h6m4 0h4m8 0h6m0 0h5m6 0h5m11 0h3m0 0h6m2 0h3m0 0h3m9 0h2m11 0h5m0 0h3m4 0h4m0 0h2m0 0h2m0 0h2m0 0h2m0 0h2m0 0h5m0 0h8m8 0h4m16 0h6m2 0h5m0 0h4m0 0h2m4 0h3m0 0h4m0 0h4m17 0h8m0 0h5m0 0h3m25 0h6m10 0h6m3 0h8m89 0h5m0 0h8m0 0h4m4 0h4m0 0h4m0 0h6m5 0h2m0 0h5m0 0h3m6 0h8m0 0h2m0 0h3m13 0h2m3 0h5m0 0h2m19 0h5m0 0h4m15 0h3m6 0h2m0 0h5m30 0h4m5 0h7m64 0h3m8 0h4m10 0h4m0 0h4m3 0h2m13 0h5m8 0h4m8 0h4m5 0h1m3 0h8m9 0h4m0 0h5m8 0h5m-1577 1h8m0 0h4m0 0h4m0 0h4m8 0h5m7 0h6m5 0h4m0 0h3m6 0h3m8 0h3m0 0h8m0 0h3m0 0h6m3 0h4m13 0h8m5 0h8m7 0h5m12 0h5m0 0h4m0 0h4m0 0h6m12 0h3m0 0h2m14 0h4m0 0h4m187 0h2m38 0h4m0 0h4m0 0h2m0 0h4m0 0h6m8 0h4m6 0h5m4 0h2m10 0h4m4 0h3m0 0h2m0 0h5m0 0h2m0 0h2m0 0h4m0 0h2m9 0h3m2 0h6m4 0h4m0 0h4m0 0h8m0 0h8m15 0h4m8 0h2m2 0h2m0 0h4m6 0h3m0 0h5m2 0h6m0 0h5m0 0h2m0 0h3m0 0h5m0 0h2m2 0h4m4 0h3m5 0h8m0 0h8m0 0h4m4 0h4m0 0h5m0 0h2m0 0h4m0 0h8m4 0h2m26 0h2m5 0h3m0 0h5m0 0h4m0 0h3m0 0h6m7 0h2m11 0h3m0 0h4m95 0h3m58 0h8m8 0h2m5 0h6m8 0h8m2 0h4m0 0h3m2 0h5m0 0h2m0 0h4m0 0h6m0 0h4m0 0h6m2 0h4m13 0h2m0 0h4m0 0h6m0 0h2m8 0h5m0 0h8m5 0h2m74 0h2m7 0h8m0 0h5m0 0h3m5 0h6m4 0h6m8 0h4m0 0h4m10 0h1m0 0h4m0 0h2m0 0h2m4 0h2m0 0h4m0 0h4m6 0h2m0 0h3m0 0h4m2 0h5m6 0h4m0 0h5m0 0h5m0 0h2m5 0h8m0 0h8m0 0h3m12 0h4m0 0h2m13 0h8m0 0h1m5 0h3m0 0h4m5 0h4m5 0h2m8 0h2m6 0h2m2 0h3m9 0h5m0 0h4m0 0h4m5 0h2m8 0h4m9 0h1m0 0h4m0 0h3m0 0h2m0 0h2m0 0h2m2 0h8m8 0h5m0 0h3m0 0h5m0 0h4m0 0h3m0 0h8m0 0h2m2 0h5m10 0h2m0 0h3m0 0h3m0 0h2m-1531 1h2m175 0h3m19 0h5m0 0h3m7 0h4m0 0h2m0 0h4m0 0h4m0 0h2m0 0h2m3 0h4m23 0h2m17 0h5m8 0h4m3 0h2m0 0h5m14 0h3m5 0h2m64 0h2m10 0h4m2 0h2m0 0h2m13 0h3m5 0h3m14 0h3m0 0h5m5 0h8m0 0h4m0 0h8m19 0h5m3 0h2m2 0h3m0 0h5m0 0h2m0 0h6m2 0h5m0 0h4m25 0h6m11 0h2m35 0h8m9 0h4m3 0h8m59 0h3m32 0h4m54 0h8m10 0h6m10 0h3m47 0h5m20 0h1m0 0h2m7 0h6m7 0h8m0 0h3m10 0h4m13 0h4m40 0h5m13 0h2m6 0h2m0 0h8m82 0h2m14 0h2m19 0h4m6 0h5m0 0h4m9 0h4m15 0h2m8 0h4m2 0h4m29 0h2m41 0h5m2 0h8m16 0h8m18 0h3m10 0h3m17 0h2m14 0h3m0 0h8m0 0h4m9 0h2m6 0h4m29 0h2m3 0h6m21 0h4m6 0h2"/><path stroke="#4c74b8" d="M853 0.5h4m126 0h6m104 0h2m-1095 1h5m21 0h2m48 0h2m2 0h4m4 0h4m5 0h8m80 0h3m30 0h4m128 0h2m53 0h4m16 0h4m21 0h8m6 0h5m16 0h4m0 0h4m19 0h3m12 0h2m24 0h8m11 0h2m59 0h3m86 0h4m4 0h6m20 0h3m99 0h2m36 0h2m37 0h5m95 0h4m14 0h4m27 0h2m16 0h5m0 0h4m101 0h6m55 0h4m5 0h6m284 0h6m-1556 1h5m3 0h8m19 0h5m3 0h2m14 0h3m14 0h4m2 0h6m47 0h3m8 0h4m2 0h3m45 0h2m14 0h8m199 0h5m2 0h4m23 0h4m25 0h4m23 0h4m92 0h7m41 0h3m37 0h4m40 0h2m57 0h5m88 0h6m71 0h8m30 0h3m0 0h5m19 0h4m178 0h5m39 0h8m56 0h6m12 0h3m15 0h5m55 0h2m103 0h4m-1552 1h2m14 0h2m0 0h4m6 0h4m0 0h6m6 0h3m0 0h5m0 0h6m4 0h4m5 0h5m0 0h4m8 0h5m0 0h6m0 0h5m10 0h2m0 0h8m4 0h2m0 0h3m8 0h4m0 0h3m16 0h3m0 0h5m4 0h6m0 0h4m14 0h4m0 0h8m0 0h8m179 0h4m58 0h4m7 0h8m4 0h3m6 0h5m0 0h2m2 0h4m0 0h2m5 0h6m5 0h8m2 0h4m0 0h3m19 0h3m6 0h2m12 0h4m0 0h3m5 0h4m0 0h3m0 0h3m43 0h3m0 0h8m2 0h5m0 0h3m6 0h4m2 0h6m0 0h3m12 0h8m0 0h4m0 0h3m0 0h2m9 0h4m0 0h3m4 0h4m3 0h4m0 0h8m6 0h5m0 0h2m4 0h2m0 0h8m4 0h2m0 0h4m4 0h4m4 0h3m0 0h4m0 0h2m13 0h8m132 0h4m0 0h4m7 0h2m13 0h3m4 0h3m10 0h2m0 0h2m29 0h5m0 0h5m40 0h2m0 0h4m0 0h2m85 0h3m7 0h4m4 0h6m0 0h8m0 0h8m0 0h8m17 0h6m0 0h2m25 0h3m5 0h8m5 0h3m6 0h2m15 0h2m0 0h6m12 0h2m0 0h8m0 0h2m0 0h8m0 0h3m11 0h6m0 0h2m2 0h5m0 0h8m0 0h4m0 0h5m2 0h4m0 0h8m0 0h1m8 0h4m2 0h6m2 0h5m8 0h4m6 0h6m0 0h4m9 0h2m0 0h2m0 0h5m0 0h2m0 0h2m6 0h2m0 0h8m9 0h4m4 0h4m0 0h5m0 0h2m0 0h6m0 0h5m-1547 1h2m57 0h2m4 0h6m32 0h3m78 0h2m27 0h2m36 0h6m209 0h6m64 0h3m4 0h2m26 0h2m48 0h2m51 0h4m48 0h8m0 0h2m8 0h8m0 0h6m171 0h5m251 0h4m54 0h6m115 0h4m57 0h4m57 0h6m40 0h2m-1529 1h2m6 0h3m8 0h3m33 0h4m0 0h5m6 0h8m18 0h4m2 0h6m0 0h4m24 0h3m0 0h2m2 0h8m8 0h4m8 0h2m0 0h6m8 0h8m224 0h4m5 0h8m0 0h5m0 0h4m0 0h8m0 0h4m0 0h2m0 0h5m0 0h4m0 0h4m0 0h2m0 0h2m8 0h5m11 0h8m0 0h3m3 0h4m0 0h8m0 0h3m0 0h8m0 0h5m0 0h8m0 0h4m0 0h2m0 0h2m0 0h4m8 0h8m0 0h2m0 0h5m0 0h6m0 0h4m0 0h6m3 0h2m0 0h1m10 0h6m74 0h2m48 0h4m0 0h4m6 0h3m8 0h4m65 0h2m103 0h3m25 0h2m0 0h4m0 0h4m16 0h5m31 0h8m10 0h5m17 0h6m89 0h4m17 0h8m0 0h4m29 0h4m13 0h5m0 0h6m54 0h4m4 0h5m0 0h2m10 0h8m46 0h4m0 0h2m27 0h2m20 0h4m31 0h8m40 0h4m0 0h2m-1483 2h2m5 0h4m13 0h8m182 0h5m6 0h6m2 0h6m12 0h6m30 0h2m30 0h4m4 0h2m0 0h4m0 0h2m4 0h2m8 0h4m202 0h8m0 0h5m6 0h3m0 0h8m4 0h2m0 0h4m0 0h5m0 0h4m0 0h4m0 0h4m0 0h2m2 0h2m6 0h6m0 0h3m8 0h4m3 0h3m0 0h6m0 0h4m0 0h2m8 0h4m9 0h2m0 0h2m0 0h5m8 0h5m0 0h6m24 0h4m4 0h4m26 0h5m84 0h8m11 0h1m42 0h5m28 0h4m13 0h2m39 0h4m3 0h4m147 0h2m0 0h4m19 0h2m26 0h3m15 0h6m7 0h2m15 0h3m0 0h6m71 0h5m11 0h8m7 0h4m16 0h5m13 0h8m37 0h5m9 0h8m-1577 1h5m20 0h8m5 0h2m11 0h5m7 0h2m0 0h4m3 0h2m0 0h2m2 0h2m31 0h5m12 0h5m11 0h4m5 0h4m0 0h8m27 0h2m0 0h2m5 0h2m4 0h4m0 0h4m255 0h8m4 0h6m5 0h4m6 0h4m0 0h2m28 0h2m0 0h5m0 0h2m3 0h2m6 0h4m30 0h4m0 0h5m4 0h8m2 0h2m6 0h4m0 0h2m33 0h2m36 0h4m23 0h2m6 0h4m0 0h5m6 0h6m0 0h3m2 0h5m30 0h8m0 0h3m7 0h3m161 0h8m13 0h4m0 0h4m8 0h2m42 0h5m0 0h3m0 0h5m35 0h5m80 0h5m16 0h5m6 0h4m6 0h8m8 0h2m53 0h6m16 0h4m0 0h1m19 0h6m14 0h3m0 0h8m9 0h5m16 0h5m2 0h2m16 0h2m8 0h4m13 0h5m19 0h4m62 0h2m5 0h5m15 0h2m-1447 1h6m151 0h4m306 0h4m34 0h2m41 0h5m8 0h3m21 0h6m59 0h6m2 0h2m21 0h2m38 0h3m125 0h3m95 0h4m146 0h4m37 0h2m14 0h2m31 0h2m105 0h4"/><path stroke="#66a9d6" d="M873 0.5h4m65 0h6m-425 1h4m309 0h4m53 0h3m68 0h2m0 0h2m0 0h1m-578 1h6m0 0h2m26 0h2m408 0h2m4 0h6m84 0h5m-619 1h2m-84 1h4m124 0h4m4 0h4m67 0h3m374 0h4m30 0h2m48 0h3m-665 1h5m37 0h2m56 0h4m0 0h6m527 0h3m64 0h8m-875 2h8m364 0h2m0 0h4m35 0h2m27 0h4m69 0h2m13 0h5m12 0h4m765 0h4m16 0h2m4 0h5m-1125 1h3m102 0h2m438 0h3m68 0h2m14 0h5m0 0h5m6 0h4m0 0h5m5 0h4m-950 1h5m76 0h2m60 0h4m28 0h8"/><path stroke="#74bade" d="M885 0.5h4m28 0h4m-90 1h5m-575 1h4m0 0h4m568 0h4m51 0h4m-644 1h2m92 0h2m98 0h4m-151 1h2m16 0h8m24 0h5m93 0h2m-152 1h5m0 0h8m7 0h4m585 0h2m-384 2h6m51 0h6m8 0h3m-560 2h3m5 0h3m166 0h6"/><path stroke="#5698cc" d="M905 0.5h2m41 0h5m0 0h4m12 0h4m75 0h2m39 0h4m-1071 1h4m136 0h3m25 0h4m402 0h6m238 0h8m8 0h2m15 0h4m0 0h2m19 0h4m482 0h4m-1158 1h8m16 0h4m18 0h4m32 0h4m43 0h2m21 0h6m19 0h6m21 0h2m380 0h6m38 0h6m17 0h4m0 0h5m63 0h2m-592 1h4m447 0h5m16 0h2m64 0h5m22 0h2m-845 1h2m0 0h2m99 0h5m36 0h4m16 0h2m30 0h6m0 0h4m8 0h3m21 0h2m93 0h8m21 0h1m405 0h4m56 0h5m29 0h6m5 0h5m-733 1h5m136 0h4m27 0h2m494 0h6m20 0h4m28 0h4m6 0h1m-139 1h4m2 0h8m54 0h3m19 0h5m29 0h4m-497 1h2m45 0h3m64 0h2m21 0h5m822 0h4m-1121 1h4m113 0h6m430 0h4m0 0h3m11 0h6m81 0h3m-969 1h2m9 0h2m72 0h4m90 0h2m645 0h8m0 0h2m53 0h4m11 0h4"/><path stroke="#5ea0d1" d="M921 0.5h3m42 0h3m-377 1h4m264 0h8m63 0h4m402 0h2m-1113 1h4m20 0h4m18 0h4m10 0h5m8 0h8m0 0h5m12 0h4m8 0h6m0 0h2m7 0h4m6 0h3m8 0h6m58 0h3m388 0h6m132 0h4m3 0h2m-692 1h8m603 0h3m-670 1h5m102 0h4m6 0h4m28 0h3m0 0h5m3 0h8m0 0h6m13 0h4m0 0h3m419 0h3m24 0h4m40 0h5m9 0h3m0 0h4m3 0h3m30 0h2m-743 1h6m20 0h5m64 0h4m52 0h2m0 0h6m21 0h2m12 0h6m9 0h5m413 0h4m16 1h3m0 0h2m12 0h8m34 0h3m4 0h2m-823 1h2m72 0h2m294 0h3m-179 1h4m552 0h8m22 0h2m-868 1h2m129 0h2m761 0h5"/><path stroke="#4a6bb2" d="M924 0.5h5m-751 1h4m21 0h5m0 0h2m283 0h2m20 0h8m26 0h4m62 0h4m296 0h6m19 0h6m-578 1h4m-346 1h2m160 0h2m161 0h4m14 0h8m8 0h4m450 0h3m-777 1h2m45 0h5m104 0h5m1098 0h2m0 0h2m-442 1h2m-827 2h4m92 0h8m37 0h5m278 0h3m5 0h2m-229 1h5m116 0h4m47 0h5m-382 1h4m10 0h2m88 0h8m561 0h4m42 0h5m6 0h2"/><path stroke="#c92c2a" d="M1113 0.5h2m19 0h5m30 0h4m7 4h5m-40 1h3m19 2h2m-816 1h6m808 1h8"/><path stroke="#bc262a" d="M1115 0.5h4m7 0h8m5 0h4m0 0h6m8 0h2m-31 1h3m0 0h8m12 0h4m22 0h5m4 0h1m-74 1h2m22 0h4m38 0h2m-52 1h4m19 0h5m-44 1h6m31 0h5m-32 1h3m4 0h6m0 0h4m8 0h3m15 0h4m-41 2h4m18 0h2m-29 2h2m2 0h5m46 0h6"/><path stroke="#aa1e28" d="M1119 0.5h3m0 0h4m47 0h4m-4 1h4m-36 1h2m16 0h5m-43 3h2m17 0h5m34 0h8m-54 2h4m-17 1h4m0 0h4m4 0h8m0 0h4m0 0h8m13 0h2m0 0h2"/><path stroke="#b4222a" d="M1149 0.5h6m-29 1h2m27 0h2m25 0h4m-18 1h5m-56 1h5m0 0h5m6 0h5m6 0h8m32 0h3m-68 1h4m0 0h8m0 0h5m10 0h4m1 1h3m21 0h4m-60 2h2m16 0h4m18 0h3m-4 1h2m3 0h2m-44 1h3m2 0h2m15 0h4m10 0h4"/><path stroke="#ee8138" d="M1155 0.5h2m6 0h4m4 1h2m-9 1h4m-30 4h2m-737 2h2m713 0h2"/><path stroke="#ad2029" d="M1159 0.5h4m2 1h6m2 1h6m-39 1h4m32 0h8m-46 1h6m0 0h2m8 1h5m-38 2h8m12 0h8m0 0h2m-38 1h5m-5 1h8m12 0h2m40 0h4"/><path stroke="#d5362b" d="M1167 0.5h2m-30 1h4m-28 1h6m0 0h4m-798 1h2m784 0h4m44 0h3m-846 5h2m815 1h8"/><path stroke="#e1532f" d="M1177 0.5h6m-65 1h8m-680 7h4"/><path stroke="#a0d0de" d="M1183 0.5h4m-871 2h6m-86 1h4m27 0h5m65 0h3m49 0h4m10 0h3m32 0h8m-205 1h4m218 3h6m91 0h2m51 0h5m780 0h4m-1068 1h8m0 0h3m0 0h6m92 0h3m-405 1h5m19 0h2"/><path stroke="#4b6fb5" d="M17 1.5h2m43 0h3m0 0h5m47 0h2m63 0h3m277 0h2m31 0h2m0 0h4m0 0h8m20 0h4m10 0h6m33 0h2m4 0h4m30 0h6m0 0h5m729 0h6m100 0h5m-1389 1h5m94 0h2m724 0h6m128 0h4m-1039 1h8m22 0h6m14 0h4m4 0h5m9 0h2m0 0h6m16 0h4m0 0h6m10 0h4m5 0h6m0 0h2m7 0h4m0 0h6m0 0h6m8 0h4m10 0h2m2 0h4m0 0h4m0 0h2m20 0h6m180 0h2m48 0h3m21 0h4m235 0h4m127 0h6m214 0h6m7 0h2m3 0h3m118 0h4m120 0h5m103 0h5m22 0h3m-1424 1h2m8 0h4m114 0h6m85 0h6m516 0h2m6 0h4m481 0h8m27 0h2m-919 1h5m50 0h5m48 0h8m5 0h3m0 0h8m62 0h8m43 0h4m209 0h4m108 0h8m336 0h8m-1309 2h8m32 0h5m51 0h2m17 0h2m24 0h4m59 0h4m418 0h3m13 0h6m59 0h8m4 0h3m15 0h8m4 0h2m0 0h2m33 0h5m0 0h6m-709 1h3m824 0h2m94 0h2m257 0h6m68 0h2m-1356 1h4m53 0h2m734 0h6m116 0h4m12 0h4m0 0h6"/><path stroke="#6db2da" d="M821 1.5h4m58 0h2m-637 1h2m8 0h3m152 0h4m-9 1h4m-159 1h3m41 0h2m55 0h2m531 0h6m-647 1h6m39 0h6m36 0h8m44 0h3m574 0h6m-391 2h4m856 0h4m-541 1h2m27 0h3m14 0h2m-849 1h6"/><path stroke="#94cce0" d="M829 1.5h2m17 0h2m-495 1h4m-57 1h5m12 0h8m13 0h2m485 1h4m-391 1h8m692 1h2m-669 1h3m19 0h5m32 0h6m6 0h3m26 0h2m815 0h4m35 0h4m-1184 1h4m41 0h6m-176 1h4"/><path stroke="#b02129" d="M1113 1.5h5m25 0h8m-22 1h8m6 0h5m0 0h8m0 0h3m-766 1h6m728 0h2m28 0h4m3 0h4m-32 1h2m25 0h5m5 0h4m0 0h3m-67 1h6m7 0h4m29 0h5m6 0h5m-62 2h6m38 0h2m3 0h5m2 0h5m8 0h4m0 0h1m-57 1h2m22 0h4m2 0h3m6 0h8m0 0h5m3 0h2m-32 1h2m4 0h4m0 0h2m18 0h2"/><path stroke="#e9b94a" d="M1157 1.5h8m-893 2h2m87 0h4m759 3h3m15 0h6m-911 2h4m75 0h2m61 0h4"/><path stroke="#acd4dc" d="M293 2.5h6m-52 1h5m2 0h5m39 0h4m635 1h8m-586 1h2m820 1h5m-648 1h6m-193 1h2m38 0h4m-306 1h4m16 0h6"/><path stroke="#7cc3e3" d="M344 2.5h2m53 0h4m0 0h4m13 0h5m2 0h2m0 0h5m-86 1h3m61 0h8m-9 1h2m-156 1h4m28 0h2m74 0h8m96 2h4m57 0h2m55 0h6m27 0h5m785 0h4m-1094 1h6m-249 1h8m20 0h4m13 0h2m75 0h8m0 0h8"/><path stroke="#ec9d41" d="M1125 2.5h4m-800 1h4m852 1h2m-74 2h8m54 0h6m-878 2h5m65 0h6m33 0h8"/><path stroke="#ddc57a" d="M1181 2.5h6m-944 1h4m31 0h4m25 0h6m107 0h6m-151 2h8m105 0h3m757 1h8m-926 2h3m162 0h4"/><path stroke="#b8d9db" d="M259 3.5h2m4 0h2m58 2h8m79 0h4m32 0h2m50 2h6m5 0h4m43 0h2m2 0h6m50 0h2m796 0h4"/><path stroke="#d0d1a9" d="M261 3.5h4m161 0h5m-40 2h4m724 0h2m0 1h3m3 0h3m0 0h8m35 0h2m11 0h1m-711 1h5m-240 1h4m29 0h8m-276 1h5"/><path stroke="#c4ddd9" d="M274 3.5h4m99 0h8m50 0h3m-43 2h4m17 0h4m148 2h5m60 0h5m-367 1h3"/><path stroke="#cad7c1" d="M313 3.5h4m-80 2h4m112 0h6m244 2h5m-382 1h4m3 0h4m183 0h5m703 0h2m22 0h2"/><path stroke="#d6cb92" d="M333 3.5h4m801 0h2m-871 2h6m35 0h5m841 1h4m0 0h3m-534 1h4m520 0h4m-910 1h2m37 0h8m65 0h2m821 0h3"/><path stroke="#ed8f3c" d="M355 3.5h6m794 1h4m9 0h5m-774 4h4m744 1h8"/><path stroke="#ed7033" d="M1168 3.5h8m-825 2h2m810 1h2m0 0h8m1 1h8m-1064 2h4"/><path stroke="#eaab45" d="M1159 4.5h4m-755 1h4m-29 3h4"/><path stroke="#e3bf62" d="M315 5.5h2m847 0h2m-921 3h2m6 0h5m68 0h6m75 0h3"/></g><path d="M1207.1 115.8V671.5M1318.8 115.8V671.5M1413.1 115.8V671.5M1501.8 115.8V671.5M1578.6 115.8V671.5M1650.3 115.8V671.5M1687.5 115.8V671.5M1724.2 115.8V671.5M1759.7 115.8V671.5M1789.1 115.8V671.5M1814.7 115.8V671.5M1839.9 115.8V671.5M1864.0 115.8V671.5M1884.4 115.8V671.5" stroke="#8c8c8c" stroke-width="1.6" fill="none"/><rect x="1094.0" y="90.3" width="112.0" height="10.8" fill="#d44b2c"/><rect x="1208.2" y="90.3" width="109.5" height="10.8" fill="#9a80c2"/><rect x="1319.9" y="90.3" width="92.0" height="10.8" fill="#e8717c"/><rect x="1414.2" y="90.3" width="86.6" height="10.8" fill="#8fd45e"/><rect x="1502.9" y="90.3" width="74.5" height="10.8" fill="#9bdfe7"/><rect x="1579.8" y="90.3" width="69.3" height="10.8" fill="#ec7e35"/><rect x="1651.5" y="90.3" width="34.5" height="10.8" fill="#db2b2e"/><rect x="1689.0" y="90.3" width="34.0" height="10.8" fill="#8fa0d4"/><rect x="1725.4" y="90.3" width="32.9" height="10.8" fill="#ece83e"/><rect x="1761.0" y="90.3" width="26.7" height="10.8" fill="#d6a66a"/><rect x="1790.4" y="90.3" width="23.0" height="10.8" fill="#8a2ea3"/><rect x="1815.9" y="90.3" width="22.7" height="10.8" fill="#3a9a4a"/><rect x="1841.3" y="90.3" width="21.5" height="10.8" fill="#2e3b83"/><rect x="1865.2" y="90.3" width="17.8" height="10.8" fill="#c46cc8"/><g font-size="24.5" fill="#111"><text transform="translate(1150.0 80.5) rotate(-90)" x="0" y="8.6">W0</text><text transform="translate(1263.0 80.5) rotate(-90)" x="0" y="8.6">W1</text><text transform="translate(1365.9 80.5) rotate(-90)" x="0" y="8.6">W2</text><text transform="translate(1457.5 80.5) rotate(-90)" x="0" y="8.6">W3</text><text transform="translate(1540.2 80.5) rotate(-90)" x="0" y="8.6">W4</text><text transform="translate(1614.4 80.5) rotate(-90)" x="0" y="8.6">W5</text><text transform="translate(1668.8 80.5) rotate(-90)" x="0" y="8.6">W6</text><text transform="translate(1706.0 80.5) rotate(-90)" x="0" y="8.6">W7</text><text transform="translate(1741.8 80.5) rotate(-90)" x="0" y="8.6">W8</text><text transform="translate(1774.3 80.5) rotate(-90)" x="0" y="8.6">W9</text><text transform="translate(1801.9 80.5) rotate(-90)" x="0" y="8.6">W10</text><text transform="translate(1827.2 80.5) rotate(-90)" x="0" y="8.6">W11</text><text transform="translate(1852.0 80.5) rotate(-90)" x="0" y="8.6">W12</text><text transform="translate(1874.1 80.5) rotate(-90)" x="0" y="8.6">W13</text></g><g font-size="20.7" font-weight="bold" fill="#484848" text-anchor="end"><text x="182.8" y="137.8">chr14: 54963799</text><text x="182.8" y="162.3">-54967599</text><text x="182.8" y="193.3">chr9: 24735332</text><text x="182.8" y="217.8">-24737632</text><text x="182.8" y="248.8">chr17: 71055505</text><text x="182.8" y="273.3">-71058005</text><text x="182.8" y="304.4">chr3: 19674475</text><text x="182.8" y="328.9">-19677475</text><text x="182.8" y="359.9">chrX: 157709556</text><text x="182.8" y="384.4">-157711856</text><text x="182.8" y="415.4">chr11: 104576332</text><text x="182.8" y="439.9">-104579532</text><text x="182.8" y="470.9">chr11: 5895332</text><text x="182.8" y="495.4">-5897532</text><text x="182.8" y="526.5">chr17: 81653905</text><text x="182.8" y="551.0">-81656305</text><text x="182.8" y="582.0">chr1: 135795528</text><text x="182.8" y="606.5">-135799428</text><text x="182.8" y="637.5">chr8: 85379165</text><text x="182.8" y="662.0">-85382665</text></g><g font-size="20.2" font-weight="bold" fill="#484848" text-anchor="end"><text x="1082.6" y="150.8">Myh6</text><text x="1082.6" y="206.4">Tbx20</text><text x="1082.6" y="261.9">Myom1</text><text x="1082.6" y="317.5">Trim55</text><text x="1082.6" y="373.1">Smpx</text><text x="1082.6" y="428.6">Myl4</text><text x="1082.6" y="484.2">Myl7</text><text x="1082.6" y="539.8">Slc8a1</text><text x="1082.6" y="595.3">Tnni1</text><text x="1082.6" y="650.9">Mylk3</text></g><g fill="#111"><text x="884.0" y="494.3" font-size="19.3">Methylation</text><text x="884.0" y="519.3" font-size="19.3">Z-Scores</text><rect x="884.1" y="543.1" width="25.8" height="128.6" fill="url(#gA)"/><path d="M884.1 552.5h4.2M905.7 552.5h4.2M884.1 590.8h4.2M905.7 590.8h4.2M884.1 628.5h4.2M905.7 628.5h4.2M884.1 667.3h4.2M905.7 667.3h4.2" stroke="#ffffff" stroke-opacity="0.8" stroke-width="1.1"/><text x="918.3" y="557.3" font-size="16.2">2</text><text x="918.3" y="595.2" font-size="16.2">0</text><text x="918.3" y="633.5" font-size="16.2">-2</text><text x="918.3" y="671.2" font-size="16.2">-4</text></g><g fill="#111"><text x="1907.0" y="499.8" font-size="19.3">RNA</text><text x="1906.0" y="524.8" font-size="19.3">Z-Scores</text><rect x="1907" y="541.1" width="25.4" height="128.6" fill="url(#gB)"/><path d="M1907.0 562.0h4.2M1928.2 562.0h4.2M1907.0 583.4h4.2M1928.2 583.4h4.2M1907.0 604.6h4.2M1928.2 604.6h4.2M1907.0 625.9h4.2M1928.2 625.9h4.2M1907.0 647.2h4.2M1928.2 647.2h4.2M1907.0 668.5h4.2M1928.2 668.5h4.2" stroke="#ffffff" stroke-opacity="0.8" stroke-width="1.1"/><text x="1941.2" y="544.8" font-size="14.6">2.5</text><text x="1941.2" y="566.1" font-size="14.6">2.0</text><text x="1941.2" y="587.5" font-size="14.6">1.5</text><text x="1941.2" y="608.8" font-size="14.6">1.0</text><text x="1941.2" y="630.2" font-size="14.6">0.5</text><text x="1941.2" y="651.5" font-size="14.6">0.0</text><text x="1941.2" y="672.9" font-size="14.6">-0.5</text></g><g font-size="41" fill="#111" text-anchor="middle"><text transform="translate(46.7 1013.9) rotate(-90)">DNA</text><text transform="translate(98.1 1010.4) rotate(-90)">methylation</text><text transform="translate(46.9 1579.4) rotate(-90)">RNA</text><text transform="translate(98 1582.8) rotate(-90)">transcription</text></g><g transform="translate(120.00 748.50) scale(4.670)"><g fill="none" stroke-width="1.02"><path stroke="#4a8cc0" d="M47 6.5h1"/><path stroke="#94c4dd" d="M47 5.5h1m0 1h1"/><path stroke="#b2d4e6" d="M48 5.5h1m-1 2h1m-45 10h1m3 0h1m0 1h1m6 1h1m0 4h1"/><path stroke="#d0e4ef" d="M46 5.5h1m-1 3h1m2 3h1m-29 3h1m-20 1h1m-2 1h1m5 0h1m-5 1h1m19 0h1m-23 1h1m5 0h2m12 0h1m1 0h1m-4 1h1m1 0h1m-21 3h1m18 0h1m-16 1h1m-7 1h1m25 5h1m17 19h1"/><path stroke="#e2ecf0" d="M4 0.5h1m-2 1h1m5 0h1m-4 4h1m42 1h1m-39 1h1m34 0h1m2 0h1m-47 1h1m43 0h1m-1 1h1m0 2h1m-32 1h1m24 0h1m-41 2h1m2 0h3m-8 1h1m2 0h1m-2 1h1m4 1h1m10 0h1m22 0h1m-42 1h1m3 0h3m-6 1h4m1 0h1m-3 1h2m14 0h1m-19 1h1m2 0h3m13 0h1m-15 1h2m-2 1h1m16 1h1m2 3h1m4 4h1"/><path stroke="#f5f4f2" d="M8 1.5h1m-4 1h1m-1 2h1m5 0h1m34 0h1m-37 1h1m-1 1h1m3 0h1m31 0h1m0 1h1m-36 1h1m35 0h2m-4 1h1m1 0h2m-3 1h1m-3 1h1m1 1h1m-48 1h1m2 0h2m40 0h3m-45 1h1m6 0h1m31 0h1m-37 1h3m2 0h1m1 0h1m6 0h1m24 0h1m-43 1h1m1 0h2m10 0h1m1 0h2m-7 1h2m10 0h1m-16 1h1m6 0h1m3 0h1m-23 1h1m6 0h1m1 0h1m11 0h1m-20 1h1m3 0h1m5 0h1m9 0h1m-20 1h2m3 0h1m7 0h1m3 0h1m2 0h1m-18 1h1m-2 1h1m22 4h1m12 14h1"/><path stroke="#f7e5db" d="M7 0.5h2m-9 2h1m10 0h1m-4 3h1m6 0h1m6 1h1m-23 1h1m9 2h1m5 0h1m-6 1h1m-3 1h1m9 0h1m23 0h1m-43 1h1m2 0h1m9 0h1m3 0h1m10 0h1m19 0h1m-49 1h1m10 0h1m26 0h1m-29 1h2m25 0h1m-38 1h1m20 0h1m2 0h1m16 0h2m-40 1h1m8 0h1m1 0h1m8 0h2m-26 1h1m1 0h1m3 0h1m14 0h2m19 0h1m-41 1h1m14 0h1m6 0h2m-21 1h1m2 0h1m9 0h1m4 0h2m-24 1h1m1 0h1m3 0h3m9 0h1m1 0h1m1 0h1m1 0h2m-26 1h1m10 0h2m31 0h1m-46 1h1m3 0h1m4 0h1m7 0h4m3 0h1m-17 1h2m6 0h1m5 0h2m1 0h1m3 0h2m-30 1h1m2 0h1m11 0h1m9 0h1m4 0h1m-27 1h1m18 0h1m6 0h1m-11 1h1m9 0h1m3 0h1m-18 1h1m-13 2h1m23 1h1m-6 1h1m-9 8h1m4 0h1m-12 6h1"/><path stroke="#f9d6c4" d="M9 0.5h1m3 2h1m-6 2h1m5 0h3m5 0h1m22 0h1m-39 1h1m1 0h1m3 0h1m2 0h2m-12 1h1m5 0h1m1 1h1m2 0h1m1 0h2m12 0h1m-25 1h2m2 0h1m9 0h1m-15 1h1m4 0h2m13 0h1m-17 1h2m25 0h1m-31 1h2m32 0h1m1 0h1m-32 1h1m6 0h1m-21 1h1m2 0h1m3 0h1m3 0h1m4 0h1m3 0h1m-23 1h2m2 0h1m11 0h1m1 0h2m21 0h1m-38 1h1m9 0h2m5 0h1m1 0h1m17 0h1m-30 1h1m9 0h1m3 0h1m9 0h1m-32 1h1m7 0h1m2 0h2m2 0h1m3 0h1m-10 1h1m3 0h2m7 0h1m12 0h1m-29 1h1m3 0h1m7 0h1m-26 1h1m10 0h1m5 0h1m-8 1h1m8 0h1m-19 1h1m1 0h1m7 0h1m2 0h1m1 0h1m5 0h2m2 0h1m2 0h1m-30 1h1m1 0h2m8 1h1m7 0h1m1 0h2m3 0h1m1 0h1m5 0h1m-18 1h1m1 0h1m7 0h2m2 0h1m1 0h2m-13 1h1m1 0h1m3 0h2m2 0h2m-6 1h3m-10 1h1m3 0h1m2 0h1m-7 1h1m7 0h1m3 0h1m-6 3h2m-17 1h1m8 0h1m-4 2h1m7 0h1m-8 1h1m-1 1h1m2 0h2m-7 3h1m-10 1h1m6 0h1m-2 2h1m1 0h1m24 1h1m1 1h1m-28 1h1m25 1h1m-5 2h1"/><path stroke="#f4bca5" d="M31 1.5h1m1 0h1m-12 1h1m1 0h2m-3 1h1m-12 1h2m7 0h1m15 0h1m-26 1h1m6 0h1m2 0h1m1 0h1m-24 1h1m9 0h1m1 0h1m1 0h1m7 0h1m-14 1h1m2 0h1m4 0h1m25 0h1m-26 1h2m-10 1h2m5 0h1m1 0h1m1 0h1m2 0h1m17 0h1m-43 1h2m7 0h1m1 0h1m8 0h1m9 0h1m-32 1h1m17 0h1m7 0h1m5 0h1m7 0h1m-39 1h2m1 0h1m4 0h3m11 0h1m6 0h1m4 0h4m1 0h1m4 0h1m-41 1h1m10 0h1m2 0h2m2 0h1m13 0h1m9 0h1m-35 1h1m2 0h1m6 0h1m3 0h1m16 0h2m-42 1h1m6 0h1m6 0h1m-4 1h1m1 0h1m2 0h1m5 0h1m14 0h1m2 0h1m-21 1h1m19 0h1m3 0h1m-38 1h1m3 0h1m10 0h1m11 0h1m-28 1h1m6 0h1m6 0h1m1 0h1m11 0h1m1 0h1m-29 1h1m3 0h1m18 0h1m2 0h1m1 0h1m-32 1h1m3 0h1m2 0h1m3 0h1m1 0h2m-16 1h1m1 0h1m12 0h1m4 0h2m4 0h1m-26 1h1m3 0h1m3 0h1m1 0h1m2 0h1m1 0h1m7 0h1m10 0h1m-41 1h1m1 0h1m1 0h1m4 0h1m2 0h3m8 0h1m1 0h1m-31 1h1m5 0h1m12 0h1m1 0h1m5 0h1m5 0h1m-20 1h1m2 0h1m2 0h1m1 0h1m3 0h1m-4 1h1m-11 1h2m1 0h2m2 0h1m3 0h1m2 0h2m6 0h1m-15 1h2m4 0h2m3 0h2m14 0h1m-30 1h1m3 0h1m9 0h1m-16 2h1m3 0h1m26 0h1m-29 1h1m1 0h1m2 0h1m18 0h1m-39 1h1m14 0h2m1 0h2m-2 1h1m-7 1h2m3 0h3m-12 1h1m3 0h1m1 0h1m4 1h1m18 1h1m-27 1h1m1 0h1m-19 1h1m12 0h1m3 0h1m3 0h1m21 0h2m-34 1h1m6 0h1m20 0h1m4 0h1m1 0h1m-28 1h1m-7 1h1m3 0h1m22 0h1m3 0h1m-36 1h1m7 0h1m14 0h2m1 0h1m8 0h1m-30 1h1m3 0h1m13 0h2m-11 1h1m13 0h1m-27 1h1m9 0h1m12 0h2m-3 1h1"/><path stroke="#f0a386" d="M31 0.5h1m-9 1h1m11 0h1m3 0h1m-17 1h1m6 0h1m-9 1h1m5 0h1m-20 1h1m9 0h1m3 0h1m5 0h1m6 0h1m1 0h1m-28 1h1m9 0h1m4 0h1m16 0h1m-28 1h1m1 0h2m1 0h1m4 0h1m14 0h1m2 0h1m-43 1h1m13 0h1m5 0h2m8 0h1m6 0h1m1 0h1m-28 1h4m3 0h1m19 0h1m-29 1h1m3 0h1m5 0h1m20 0h1m-36 1h1m5 0h1m2 0h2m22 0h1m-29 1h1m6 0h1m1 0h1m4 0h1m2 0h1m3 0h1m11 0h1m-35 1h1m5 0h2m2 0h1m4 0h1m5 0h1m5 0h1m2 0h1m-33 1h1m7 0h1m3 0h1m1 0h1m10 0h1m12 0h1m-37 1h1m8 0h1m2 0h1m10 0h2m6 0h1m2 0h2m-32 1h1m6 0h1m1 0h1m1 0h1m2 0h1m5 0h1m2 0h1m3 0h1m4 0h1m-42 1h1m19 0h1m15 0h1m1 0h1m-20 1h1m16 0h1m-42 1h1m9 0h1m21 0h1m7 0h1m4 0h1m-35 1h1m23 0h1m4 0h1m3 0h2m-34 1h1m8 0h1m11 0h1m2 0h1m3 0h1m-44 1h1m8 0h1m7 0h1m9 0h2m2 0h1m6 0h1m5 0h1m-18 1h1m6 0h1m11 0h1m-46 1h1m2 0h1m13 0h1m1 0h1m6 0h1m15 0h1m-34 1h2m1 0h1m11 0h1m7 0h2m3 0h1m-38 1h2m5 0h1m1 0h1m1 0h3m1 0h1m8 0h2m10 0h1m-33 1h1m5 0h1m3 0h2m7 0h1m2 0h2m3 0h1m3 0h1m1 0h2m-24 1h2m1 0h2m1 0h1m2 0h1m17 0h1m-42 1h1m6 0h1m8 0h2m1 0h1m1 0h1m9 0h1m11 0h1m-30 1h1m13 0h1m3 0h1m10 0h1m-25 1h1m3 0h3m3 0h1m3 0h1m4 0h1m-40 1h1m15 0h1m3 0h2m3 0h1m3 0h2m1 0h1m12 0h1m-24 1h1m1 0h3m-6 1h1m2 0h1m1 0h2m8 0h1m-37 1h1m13 0h1m4 0h1m3 0h1m3 0h1m9 0h1m3 0h1m-29 1h1m3 0h1m3 0h1m1 0h1m-9 1h2m10 0h1m11 0h2m4 0h1m-36 1h2m4 0h2m20 0h1m3 0h1m-26 1h1m4 0h2m2 0h1m14 0h2m-31 1h1m1 0h1m3 0h1m1 0h1m2 0h2m-12 1h2m9 0h2m1 0h1m-7 1h1m19 0h2m-31 1h1m3 0h1m4 0h1m5 0h1m-28 1h1m14 0h1m7 0h1m1 0h1m22 0h1m-42 1h1m4 0h1m9 0h1m24 0h1m-42 1h1m11 0h1m11 0h1m5 0h1m1 0h1m-31 1h1m13 0h2m13 0h1m-39 1h1m14 0h1m4 0h1m-11 1h1m8 0h1m3 0h2m1 0h1m9 0h1m4 0h2m-28 1h1m2 0h1m3 0h1m1 0h1m17 0h1"/><path stroke="#e3826a" d="M36 0.5h1m-12 1h1m1 0h1m1 0h2m6 0h1m-19 1h1m6 0h1m8 0h1m4 0h1m1 0h2m-26 2h1m5 0h3m1 0h1m11 0h3m-23 1h1m2 0h1m3 0h1m10 0h3m-24 1h1m6 0h2m17 0h1m-32 1h1m13 0h1m16 0h1m-33 1h1m10 0h1m2 0h2m13 0h1m-20 1h1m2 0h1m5 0h1m8 0h1m2 0h1m-43 1h1m22 0h2m1 0h1m-12 1h3m2 0h1m1 0h1m1 0h1m8 0h2m3 0h1m2 0h2m-34 1h1m6 0h1m4 0h1m3 0h1m7 0h1m-24 1h1m3 0h1m12 0h1m7 0h1m-21 1h1m4 0h1m2 0h1m3 0h1m1 0h1m1 0h1m3 0h1m3 0h1m9 0h1m-34 1h1m1 0h1m15 0h1m1 0h1m2 0h1m6 0h3m-35 1h1m22 0h1m5 0h1m4 0h2m-41 1h1m9 0h1m19 0h1m3 0h1m-18 1h1m6 0h1m2 0h2m9 0h1m-37 1h1m17 0h1m6 0h1m7 0h1m1 0h1m-34 1h1m13 0h1m2 0h1m7 0h1m2 0h1m2 0h2m2 0h2m-36 1h1m11 0h1m5 0h1m8 0h1m7 0h1m-37 1h1m1 0h1m21 0h1m2 0h3m1 0h1m-33 1h2m14 0h1m2 0h1m12 0h1m1 0h2m-46 1h2m2 0h1m1 0h1m6 0h1m5 0h1m14 0h2m-34 1h1m2 0h1m1 0h1m7 0h1m4 0h2m12 0h1m-33 1h1m2 0h2m10 0h1m26 0h1m2 0h1m-46 1h1m4 0h1m2 0h1m8 0h1m2 0h1m1 0h1m6 0h1m5 0h1m6 0h3m-49 1h1m3 0h1m1 0h1m8 0h1m9 0h1m4 0h1m16 0h1m-45 1h1m10 0h2m1 0h1m1 0h2m8 0h1m11 0h1m4 0h1m2 0h1m-47 1h1m13 0h1m2 0h1m1 0h1m1 0h1m11 0h2m3 0h2m1 0h1m3 0h1m-36 1h2m4 0h2m2 0h2m2 0h1m7 0h1m1 0h1m1 0h1m1 0h1m6 0h1m-30 1h1m1 0h1m2 0h1m8 0h1m2 0h1m7 0h1m1 0h1m-42 1h1m8 0h1m1 0h1m1 0h1m1 0h1m9 0h2m1 0h1m2 0h1m1 0h1m1 0h1m1 0h2m5 0h1m-34 1h1m4 0h1m8 0h1m1 0h1m13 0h3m-33 1h2m2 0h1m5 0h1m12 0h1m1 0h1m1 0h1m1 0h1m3 0h1m-45 1h1m8 0h2m5 0h1m1 0h1m18 0h2m-31 1h1m2 0h1m6 0h1m5 0h1m-28 1h1m6 0h1m5 0h1m1 0h1m3 0h2m18 0h1m-24 1h1m4 0h1m-20 1h2m17 0h1m5 0h1m13 0h1m3 0h1m-47 1h1m8 0h1m3 0h1m6 0h1m5 0h1m-22 1h1m8 0h1m7 0h1m1 0h1m17 0h1m-44 1h1m4 0h1m3 0h1m4 0h1m3 0h1m2 0h1m1 0h1m4 0h2m14 0h1m-42 1h1m2 0h1m10 0h3m4 0h1m-23 1h1m6 0h1m8 0h1m2 0h1m4 0h1m2 0h1m2 0h1m8 0h1m-36 1h1m3 0h1m1 0h1m4 0h1m2 0h1m4 0h1m2 0h1m1 0h1m1 0h4m10 0h1m-34 1h2m4 0h1m1 0h1m1 0h2m1 0h1m2 0h2m2 0h1m10 0h1m-27 1h1m1 0h2m15 0h1m-37 1h1m19 0h1m1 0h1m5 0h3m6 0h2"/><path stroke="#d6604e" d="M29 0.5h2m1 0h1m1 0h1m2 0h1m-14 1h1m1 0h1m9 0h1m-10 1h3m2 0h2m5 0h1m-20 2h1m6 0h1m5 0h1m5 0h1m-26 1h1m3 0h1m6 0h1m16 0h1m-23 1h1m18 0h1m-25 1h1m8 0h2m-8 1h1m23 0h1m-24 1h1m11 0h1m-16 1h1m5 0h1m2 0h1m1 0h1m2 0h1m2 0h2m4 0h1m1 0h1m-30 1h2m13 0h1m2 0h1m5 0h1m2 0h1m-40 1h1m14 1h2m12 0h1m4 0h1m2 0h1m-5 1h1m-4 1h1m1 0h1m2 0h1m2 0h1m-16 1h1m5 0h1m4 0h1m4 0h2m6 0h1m-47 1h1m29 0h1m4 0h3m7 0h2m-10 1h1m1 0h1m3 0h2m-14 1h1m4 0h1m1 0h1m1 0h1m3 0h1m3 0h1m-22 1h1m3 0h2m12 0h1m-8 1h2m5 0h1m-19 1h1m14 0h1m1 0h1m-36 1h1m3 0h1m17 1h1m-30 1h1m11 0h1m24 0h1m2 0h1m1 0h2m-47 1h4m2 0h1m2 0h1m2 0h1m5 0h1m-18 1h1m6 0h1m6 0h1m28 0h1m4 0h1m-49 1h1m3 0h1m1 0h2m2 0h2m35 0h2m-50 1h1m6 0h1m1 0h2m1 0h2m4 0h1m5 0h1m14 0h2m6 0h1m-43 1h1m8 0h2m2 0h1m13 0h1m5 0h1m4 0h1m2 0h2m-45 1h1m6 0h1m23 0h1m3 0h1m1 0h1m1 0h3m4 0h1m-45 1h1m2 0h1m20 0h1m7 0h1m4 0h1m4 0h2m-48 1h1m17 0h1m12 0h1m1 0h1m6 0h1m5 0h1m-48 1h1m8 0h2m3 0h1m2 0h1m18 0h1m3 0h2m1 0h1m1 0h1m-45 1h1m5 0h1m5 0h1m1 0h1m11 0h2m1 0h2m5 0h2m8 0h1m-38 1h1m1 0h2m13 0h1m2 0h1m14 0h1m1 0h1m-46 1h1m1 0h2m3 0h1m4 0h1m5 0h1m3 0h1m3 0h1m3 0h1m8 0h1m2 0h1m-44 1h1m1 0h1m9 0h2m1 0h1m2 0h2m4 0h1m3 0h4m11 0h1m-42 1h1m5 0h1m6 0h1m23 0h1m1 0h1m-37 1h1m1 0h1m7 0h1m5 0h1m9 0h1m11 0h1m-41 1h1m1 0h1m5 0h2m1 0h1m7 0h1m2 0h1m3 0h1m-29 1h1m6 0h1m6 0h1m7 0h1m1 0h1m-12 1h1m4 0h1m4 0h1m17 0h1m4 0h1m-47 1h1m8 0h2m13 0h2m-27 1h1m1 0h1m1 0h1m2 0h1m4 0h1m2 0h2m4 0h2m6 0h1m3 0h1m5 0h1m1 0h1m-41 1h1m2 0h1m7 0h3m10 0h1m2 0h1m-29 1h1m2 0h1m1 0h1m11 0h1m6 0h1m6 0h1m-25 1h1m3 0h1m1 0h1m1 0h1m10 0h1m4 0h1m10 0h1m-39 1h1m3 0h1m1 0h1m4 0h1m2 0h1m7 0h2m11 0h1"/><path stroke="#c33e3e" d="M24 0.5h1m8 0h1m1 0h1m-8 1h1m5 0h1m5 0h1m-7 1h1m6 0h1m-13 1h2m3 0h1m-18 1h1m10 1h1m12 0h1m-2 1h1m1 0h1m-22 1h1m-21 1h1m41 0h1m-3 1h1m-25 1h1m11 0h1m-5 1h1m0 1h2m2 0h1m1 0h1m-3 1h2m1 0h1m-8 1h1m7 0h1m-8 1h1m1 0h1m0 1h3m5 0h1m-6 1h1m1 0h1m12 0h1m-7 1h1m3 0h1m-12 2h1m11 0h1m-6 1h2m4 0h1m-14 1h1m12 0h1m-5 2h1m1 0h1m1 0h2m-6 1h1m3 0h2m-37 1h1m23 0h1m7 0h1m2 0h1m-49 1h1m2 0h1m3 0h1m5 0h2m-12 1h1m36 0h1m2 0h1m2 0h1m-45 1h1m2 0h1m2 0h1m27 0h1m-37 1h1m1 0h1m1 0h1m3 0h1m1 0h1m38 0h1m-43 1h2m9 0h1m17 0h1m10 0h1m-41 1h1m2 0h1m1 0h1m3 0h1m3 0h1m19 0h2m1 0h1m1 0h1m-43 1h1m7 0h2m4 0h1m11 0h1m5 0h1m3 0h1m4 0h1m3 0h1m-47 1h1m3 0h1m11 0h2m11 0h1m5 0h1m-30 1h1m2 0h1m7 0h1m3 0h1m16 0h1m5 0h1m-38 1h1m19 0h1m2 0h1m6 0h1m4 0h1m-45 1h2m25 0h1m12 0h1m-41 1h1m5 0h1m5 0h1m15 0h1m-29 1h1m1 0h1m1 0h1m5 0h3m1 0h1m5 0h1m6 0h3m13 0h2m-44 1h2m4 0h1m1 0h1m1 0h3m27 0h2m3 0h1m-45 1h1m5 0h1m19 0h2m2 0h1m11 0h1m-44 1h1m1 0h3m6 0h1m16 0h1m-24 1h2m3 0h3m-13 1h1m2 0h1m5 0h1m3 0h2m5 0h1m6 0h1m1 0h2m-28 1h1m1 0h1m8 0h1m9 0h1m1 0h2m-22 1h1m13 0h1m5 0h1m16 0h2m-43 1h1m5 0h3m5 0h1m13 0h1m-29 1h1m1 0h1m5 0h1m16 0h1m2 0h1m-29 1h1m4 0h1m4 0h2m2 0h1m2 0h1m4 0h1"/><path stroke="#b01d2e" d="M26 0.5h1m5 1h1m5 0h1m2 0h1m-11 1h1m5 0h2m1 5h1m-17 1h1m3 1h1m-9 1h1m7 0h1m0 1h1m5 1h1m-10 1h1m1 0h1m1 1h1m2 2h1m1 0h1m-6 1h1m3 0h1m-1 1h1m14 0h1m-3 3h1m-1 1h1m1 0h1m-7 2h1m1 0h1m1 0h1m-1 1h1m-38 1h1m33 0h1m2 0h1m-46 1h1m3 0h1m4 0h1m33 0h1m-45 2h1m41 0h2m-44 1h1m5 0h1m3 0h1m1 0h1m31 0h1m-44 1h1m1 0h3m-7 1h2m1 0h1m2 0h1m6 0h2m17 0h1m1 0h2m2 0h2m-38 1h1m1 0h1m3 0h2m36 0h1m-43 1h2m6 0h2m13 0h1m1 0h1m9 0h1m4 0h1m4 0h1m-50 1h1m2 0h1m2 0h1m5 0h1m19 0h1m11 0h1m3 0h1m-49 1h5m2 0h2m9 0h1m12 0h1m6 0h1m-36 1h1m4 0h1m21 0h1m11 0h1m2 0h1m-42 1h1m2 0h2m2 0h1m33 0h1m-40 1h2m18 0h1m3 0h1m-21 1h1m13 0h1m2 0h1m3 0h1m8 0h1m4 0h1m-21 1h1m-19 1h2m1 0h2m15 0h1m2 0h1m1 0h1m-31 1h3m3 0h1m1 0h1m16 0h1m3 0h1m-32 1h1m4 0h1m1 0h1m1 0h1m15 0h1m3 0h1m-30 1h1m9 0h1m-10 1h1m1 0h1m4 0h1m7 0h1m14 0h1m-30 1h1m4 0h2m3 0h1m3 0h1m11 0h1m-29 1h1m5 0h1m2 0h1m7 0h1m11 0h2m-31 1h1m6 0h1m4 0h1m13 0h1"/><path stroke="#8e1428" d="M44 5.5h1m-3 2h1m-11 3h1m-1 4h1m0 1h1m-7 4h1m7 0h1m-7 1h1m18 3h2m-40 4h1m33 1h1m-34 1h1m-6 1h1m2 0h1m2 0h1m-4 1h1m2 0h1m2 0h2m28 0h1m-37 1h1m1 0h1m3 0h1m1 0h1m-12 1h2m5 0h1m-11 1h1m4 0h1m0 1h1m32 0h1m-37 1h1m4 0h1m-6 1h2m2 0h1m20 0h1m-27 1h1m-5 1h1m3 0h1m35 0h1m-42 1h1m2 0h1m-4 1h1m8 0h1m-10 1h1m30 0h1m12 0h1m-44 6h1m11 0h1m-4 1h1"/><path stroke="#6d0a22" d="M36 2.5h1m6 2h1m-12 9h1m-1 4h1m10 9h1m-39 1h1m4 1h1m-7 1h1m11 1h1m17 0h1m4 0h1m-40 1h1m10 0h1m-10 1h1m1 0h1m-5 1h1m9 0h1m0 1h1m21 0h1m-32 1h1m1 0h2m4 0h1m29 3h1m-10 1h2m-3 1h1m-26 1h1m25 0h1m-2 2h1m-17 2h1m-15 1h1m3 0h1m6 0h1m-7 1h1m-4 1h1m1 0h1m2 0h1m-6 1h1m1 0h1m1 0h1"/></g><use href="#G" clip-path="url(#T)" fill="none" stroke="#d8d2d0" stroke-opacity="0.85" stroke-width="0.17"/></g><text x="118.7" y="736.2" font-size="22" fill="#111">chr14: 54963799-54967599</text><g transform="translate(458.50 748.50) scale(4.670)"><g fill="none" stroke-width="1.02"><path stroke="#3b73ac" d="M5 15.5h1"/><path stroke="#4a8cc0" d="M3 17.5h1m-4 2h1"/><path stroke="#6fa8ce" d="M47 6.5h1m1 1h1m-1 2h1m-1 2h1m-3 1h1m1 0h1m-41 1h1m-8 1h2m3 1h1m0 3h1m-4 1h1m2 0h1m-4 2h1"/><path stroke="#94c4dd" d="M8 5.5h1m37 1h1m-1 1h1m1 0h1m-1 1h1m-2 3h2m-6 1h1m-38 2h2m-2 1h1m-6 1h1m1 0h1m2 0h1m-1 1h1m1 0h1m-3 1h1m-4 2h1m3 0h1m-5 1h1m2 0h1m17 11h1"/><path stroke="#b2d4e6" d="M46 4.5h1m-1 1h3m-1 1h1m-2 1h1m1 1h1m-3 1h2m-2 1h1m-39 2h1m36 0h1m-37 1h1m1 0h1m32 0h1m-38 2h1m-7 1h1m1 0h2m-6 1h1m3 0h2m1 0h1m1 0h1m-8 1h1m6 0h1m-8 1h1m1 0h1m1 0h1m-2 1h1m2 1h1m-5 1h1m2 0h2m-3 1h2m1 0h1m11 1h1m-16 1h1m0 1h1m13 3h1m1 2h1m-7 2h1m4 1h1m2 0h1"/><path stroke="#d0e4ef" d="M6 5.5h1m11 0h1m30 1h1m-50 1h1m45 1h2m-35 3h1m27 0h1m4 0h1m-41 2h1m40 0h1m-44 1h1m5 0h1m35 0h1m-46 1h3m17 0h1m15 0h1m2 0h1m-29 1h1m-12 1h2m-3 1h2m1 0h1m1 0h1m-3 1h1m3 0h1m1 0h1m-8 1h1m-2 1h1m1 1h1m-1 2h1m4 0h1m-2 1h1m-2 3h1m15 4h1m-2 1h1m20 6h1"/><path stroke="#e2ecf0" d="M35 1.5h1m7 1h1m-39 2h1m39 0h1m-3 2h1m-41 2h1m5 0h1m33 0h1m-35 1h1m20 0h1m13 0h1m-28 1h1m-14 2h1m5 0h2m27 1h1m8 0h1m-44 1h1m5 0h1m-12 1h1m13 0h1m27 0h1m-36 1h2m33 0h1m-28 1h1m1 0h1m-14 1h1m22 0h1m-27 1h1m36 0h1m-38 1h1m4 0h1m1 0h2m10 0h1m-21 1h1m3 0h1m2 0h1m15 0h1m-18 1h1m16 0h1m-22 1h1m22 0h1m-17 1h1m-2 1h1m18 0h1m-22 1h1m21 0h1m-16 1h1m10 0h1m-1 2h1m-5 3h2m1 0h1m-6 2h1m1 0h1m3 0h1m-5 1h2m3 14h1"/><path stroke="#f5f4f2" d="M41 1.5h1m-42 1h1m37 2h1m4 0h1m-37 1h1m36 0h1m-4 1h2m-19 1h1m-15 1h1m5 0h1m23 0h1m1 0h1m-24 1h1m22 0h1m3 0h1m-38 1h2m7 0h1m2 0h1m20 0h1m-34 1h1m29 0h1m2 0h1m1 0h2m-41 1h1m6 0h1m2 0h1m2 0h1m3 0h1m-20 1h1m7 0h1m1 0h1m3 0h1m28 0h1m2 0h1m-29 1h1m1 0h2m14 0h1m8 0h1m-38 1h2m5 0h2m2 0h1m16 0h1m-24 1h1m3 0h1m2 0h1m7 0h1m-14 1h1m22 0h2m-36 1h1m31 0h1m-21 1h1m5 0h1m-26 1h1m3 0h1m22 0h1m11 0h1m-38 1h1m16 0h1m1 0h1m3 0h1m-26 1h1m8 0h1m12 0h1m2 0h2m1 0h1m-24 1h1m-1 1h3m20 1h1m-20 1h1m18 1h1m-20 2h1m12 0h1m3 0h1m-6 1h1m3 0h2m4 0h1m-13 1h1m4 0h1m-6 1h1m5 0h1m-4 1h1m16 1h1m-21 2h1m3 0h1m6 0h1m-9 1h1m-3 1h1m2 2h1m-3 1h1m2 0h1m-13 4h1m29 0h1m2 2h1m-22 2h1"/><path stroke="#f7e5db" d="M26 1.5h2m8 0h1m-32 1h1m34 0h2m-34 2h1m7 0h1m9 1h1m15 0h1m-37 1h1m9 0h1m4 0h1m17 0h1m-38 1h1m13 0h1m8 0h1m17 0h2m-23 1h1m-7 1h1m1 0h1m-18 1h1m10 0h2m1 0h2m23 0h1m-31 1h2m2 0h1m1 0h3m21 0h1m-28 1h2m10 0h1m6 0h1m7 0h1m1 0h1m-27 1h1m1 0h4m3 0h1m3 0h1m5 0h1m-22 1h1m1 0h1m1 0h2m2 0h1m4 0h1m6 0h1m6 0h1m2 0h1m4 0h1m-46 1h1m10 0h1m25 0h1m1 0h1m-29 1h1m12 0h1m8 0h2m4 0h1m-30 1h1m6 0h1m1 0h1m1 0h1m10 0h1m-19 1h1m6 0h1m-14 1h2m13 0h1m-17 1h1m6 0h1m2 0h1m3 0h2m2 0h1m7 0h1m-26 1h1m9 0h1m1 0h1m1 0h1m1 0h1m12 0h1m-41 1h2m39 0h1m-40 1h2m3 0h1m1 0h1m1 0h1m9 0h1m4 0h1m-8 1h1m4 0h1m2 0h1m-29 1h1m21 0h2m1 0h1m6 0h1m1 0h1m-15 1h1m1 0h3m14 0h1m-31 1h1m1 0h1m13 0h1m4 0h1m-15 1h1m6 0h1m3 0h1m2 0h1m-24 1h1m8 0h1m11 0h1m10 0h1m-32 1h1m7 0h1m1 0h2m7 0h1m-7 1h1m22 1h1m-26 1h1m3 0h1m4 0h1m-12 1h1m1 0h1m1 0h1m1 0h1m-7 1h1m1 0h1m2 1h1m-6 1h1m3 0h1m1 0h1m-2 1h2m-10 2h1m0 1h1m28 0h1m-20 1h1m2 1h1m19 1h1m-14 1h1m-4 1h1m-6 1h1m16 0h1m-15 1h1m6 0h1m3 0h1m2 0h1m-7 1h2"/><path stroke="#f9d6c4" d="M4 0.5h1m19 0h1m5 0h3m-24 1h1m19 0h1m10 0h1m-18 1h1m2 0h1m3 0h1m-1 1h1m-22 1h1m7 0h2m7 0h3m12 0h1m-33 1h2m29 0h1m2 0h1m-33 1h1m3 0h1m2 0h2m6 0h1m17 0h1m-28 1h2m1 0h1m12 0h1m5 0h2m-40 1h1m9 0h1m5 0h1m1 0h1m1 0h1m-11 1h1m8 0h2m17 0h1m3 0h1m-33 1h1m7 0h1m8 0h1m10 0h1m-28 1h1m2 0h1m3 0h2m8 0h2m3 0h1m-19 1h1m3 0h1m2 0h1m6 0h2m9 0h1m-28 1h2m7 0h1m2 0h1m7 0h1m-22 1h1m16 0h1m2 0h1m2 0h1m1 0h1m3 0h1m-27 1h1m8 0h2m1 0h1m2 0h2m1 0h1m3 0h1m10 0h1m-36 1h1m2 0h1m1 0h1m10 0h1m4 0h1m4 0h1m-19 1h1m12 0h1m-23 1h1m1 0h2m3 0h2m4 0h1m1 0h1m5 0h1m1 0h2m-22 1h1m4 0h3m5 0h1m9 0h1m1 0h3m-31 1h1m8 0h2m4 0h1m6 0h1m6 0h1m-34 1h2m7 0h1m1 0h1m6 0h1m10 0h1m1 0h1m3 0h1m-35 1h1m13 0h1m2 0h1m-28 1h1m17 0h1m1 0h1m3 0h1m3 0h2m-29 1h1m2 0h1m5 0h2m1 0h1m2 0h1m1 0h2m2 0h3m2 0h1m-14 1h1m2 0h1m1 0h1m11 0h1m8 0h1m2 0h1m-39 1h1m2 0h1m1 0h2m13 0h2m2 0h1m1 0h1m1 0h1m9 0h2m-38 1h1m12 0h1m6 0h1m20 0h1m-29 1h2m4 0h1m-9 1h1m17 0h1m4 0h1m1 0h1m2 0h1m-27 1h1m1 0h2m16 0h1m7 0h1m-33 1h1m3 0h1m4 0h2m14 0h2m-25 1h1m7 0h2m15 0h1m-26 1h1m6 0h1m10 0h1m10 0h1m-22 1h1m1 0h1m18 0h2m-31 1h1m3 0h3m1 0h1m16 0h1m-28 1h2m3 0h1m5 0h1m-14 1h1m4 0h2m8 0h1m-12 1h1m5 0h1m1 0h1m1 0h1m12 0h1m-22 1h1m3 0h1m2 0h1m-7 1h1m2 0h1m2 0h1m14 0h1m-29 1h1m26 0h1m1 0h1m-23 1h1m2 0h1m-8 2h1m6 0h2m17 0h1m-27 1h1m7 0h1m4 0h1m3 0h1m1 0h1m3 0h1m-28 1h1m15 0h1m1 0h1m3 0h1m1 0h1m7 0h2m-14 1h1m7 0h1m-3 1h1m3 0h1m-27 1h2m12 0h1m8 0h2"/><path stroke="#f4bca5" d="M8 0.5h1m25 0h1m-32 1h1m4 0h1m15 0h2m13 0h1m-9 1h2m2 0h2m5 0h1m-21 1h1m5 0h1m-7 1h1m1 0h1m12 0h1m1 0h2m-30 1h1m2 0h3m21 0h2m1 0h1m-20 1h1m1 0h1m15 0h1m-30 1h1m20 0h1m-20 1h1m9 0h1m1 0h1m15 0h1m-32 1h1m4 0h1m1 0h1m13 0h1m9 0h1m-42 1h1m19 0h1m1 0h1m1 0h1m2 0h1m1 0h2m-9 1h3m11 0h1m1 0h1m4 0h1m-43 1h1m15 0h1m1 0h1m1 0h1m2 0h1m4 0h1m3 0h1m-30 1h2m26 0h1m3 0h3m-39 1h1m11 0h1m2 0h1m1 0h1m2 0h1m4 0h2m1 0h1m6 0h1m9 0h1m1 0h1m-35 1h1m6 0h1m3 0h1m2 0h1m8 0h1m8 0h4m-36 1h1m4 0h1m2 0h2m1 0h4m1 0h1m4 0h1m12 0h2m-30 1h1m4 0h1m1 0h2m4 0h1m15 0h1m-32 1h1m4 0h2m11 0h1m6 0h2m-33 1h1m2 0h1m9 0h1m1 0h1m9 0h1m-5 1h2m4 0h1m1 0h1m3 0h1m-31 1h1m1 0h2m13 0h1m-20 1h2m1 0h1m1 0h1m1 0h1m1 0h1m13 0h1m7 0h1m-33 1h1m7 0h1m1 0h1m1 0h1m2 0h1m3 0h1m-29 1h1m12 0h1m13 0h1m1 0h2m3 0h1m7 0h1m-44 1h1m1 0h3m3 0h1m6 0h1m4 0h1m4 0h1m6 0h1m1 0h1m1 0h1m6 0h1m-41 1h1m8 0h1m4 0h2m1 0h1m5 0h1m7 0h3m7 0h1m-42 1h1m1 0h1m1 0h1m1 0h1m1 0h1m10 0h1m2 0h1m4 0h1m11 0h1m3 0h1m-43 1h1m2 0h1m4 0h1m3 0h1m4 0h1m1 0h1m4 0h1m10 0h1m3 0h2m-23 1h1m-18 1h2m16 0h1m7 0h1m6 0h1m1 0h2m1 0h2m1 0h1m-44 1h1m9 0h2m1 0h1m4 0h1m4 0h1m2 0h1m14 0h1m3 0h1m-33 1h1m12 0h2m13 0h1m1 0h2m-29 1h1m3 0h1m1 0h1m2 0h2m8 0h1m2 0h2m1 0h1m2 0h1m-34 1h2m10 0h1m12 0h2m1 0h1m1 0h2m-20 1h1m1 0h2m1 0h1m5 0h1m-21 1h1m9 0h1m13 0h2m1 0h1m-31 1h1m2 0h1m5 0h1m1 0h1m3 0h1m11 0h1m-26 1h1m3 0h1m3 0h1m18 0h1m-28 1h1m1 0h1m3 0h1m2 0h1m13 0h2m-37 1h1m13 0h2m7 0h1m11 0h1m-11 1h1m1 0h1m-16 1h1m8 0h1m15 0h2m-26 1h3m4 0h1m4 0h1m18 0h1m-29 1h1m1 0h1m3 0h1m2 0h1m13 0h1m-29 1h1m6 0h1m5 0h1m7 0h1m3 0h1m5 0h1m-31 1h4m1 0h1m1 0h1m1 0h1m3 0h1m7 0h1m5 0h1m-19 1h1m-11 1h1m2 0h1m8 0h1m7 0h1m1 0h1m3 0h1m-31 1h1m9 0h2m2 0h1m10 0h1"/><path stroke="#f0a386" d="M7 0.5h1m1 0h1m23 0h1m2 0h1m-6 1h2m1 0h1m-16 1h1m2 0h1m4 0h1m1 0h1m3 0h1m-5 1h1m-18 1h2m1 0h1m5 0h1m3 0h1m3 0h1m12 0h1m-31 1h1m4 0h1m2 0h2m1 0h3m2 0h1m-28 1h1m8 0h1m1 0h1m4 0h1m-6 1h2m1 0h1m3 0h1m1 0h2m3 0h1m14 0h2m-29 1h2m2 0h1m-5 1h1m9 0h1m4 0h1m-28 1h1m11 0h1m8 0h1m1 0h1m5 0h1m2 0h1m-14 1h1m4 0h1m5 0h2m1 0h1m-34 1h1m23 0h2m6 0h1m1 0h4m-40 1h2m22 0h1m8 0h1m-33 1h1m29 0h2m4 0h1m-21 1h1m5 0h1m5 0h2m13 0h1m-13 1h1m12 0h1m3 0h1m-37 1h1m6 0h1m10 0h1m5 0h3m-2 1h1m2 0h1m-22 1h1m14 0h1m4 0h1m-26 1h1m1 0h1m1 0h1m4 0h1m5 0h1m10 0h1m1 0h1m1 0h1m-35 1h1m1 0h1m25 0h1m2 0h1m-32 1h1m2 0h1m1 0h1m1 0h1m1 0h1m13 0h1m2 0h1m3 0h1m2 0h1m-44 1h1m15 0h1m-4 1h1m11 0h1m3 0h1m2 0h1m1 0h1m2 0h1m8 0h1m-38 1h1m2 0h1m4 0h1m1 0h1m3 0h1m4 0h1m15 0h2m1 0h2m-38 1h1m1 0h2m14 0h1m7 0h1m9 0h1m-32 1h1m21 0h1m5 0h2m2 0h1m-36 1h1m4 0h1m5 0h1m2 0h1m14 0h1m-39 1h1m2 0h1m8 0h1m2 0h1m8 0h3m1 0h1m6 0h1m7 0h1m-35 1h2m14 0h1m15 0h1m2 0h1m-12 1h1m4 0h2m1 0h1m1 0h1m-35 1h3m12 0h1m3 0h1m15 0h1m-23 1h1m4 0h1m7 0h1m3 0h1m4 0h1m-21 1h1m1 0h1m-20 1h1m18 0h1m5 0h1m1 0h1m4 0h1m1 0h1m-35 1h1m7 0h1m3 0h3m13 0h1m5 0h1m-8 1h1m-26 1h2m3 0h1m7 0h1m15 0h1m1 0h1m-31 1h1m2 0h1m3 0h1m6 0h1m13 0h3m-30 1h1m8 0h1m5 0h1m11 0h1m1 0h3m-36 1h1m3 0h1m8 0h3m1 0h1m-15 1h1m6 0h1m4 0h1m1 0h2m-16 1h1m10 0h2m1 0h1m1 0h1m12 0h1m-44 1h1m12 0h2m3 0h2m7 0h1m2 0h1m15 0h1m-30 1h1m2 0h2m3 0h2m4 0h1m5 0h2m6 0h1m-32 1h2m6 0h1m9 0h1m-25 1h1m7 0h2m2 0h1m3 0h1m3 0h2m-20 1h2m8 0h1m1 0h1m3 0h1m-9 1h3m7 0h1m12 0h1"/><path stroke="#e3826a" d="M26 0.5h1m2 0h1m7 0h1m-10 1h1m1 0h1m6 0h1m-14 1h2m8 0h1m2 0h3m-6 1h1m-21 1h1m4 0h1m3 0h1m9 0h1m2 0h1m-18 1h1m7 0h1m-15 1h1m6 0h1m2 0h1m1 0h1m-12 1h1m5 1h1m3 0h1m1 0h1m-15 1h1m10 0h1m8 1h2m7 0h1m-42 1h1m26 0h2m2 0h1m-32 1h1m27 0h1m6 0h1m-34 1h1m24 0h2m2 0h1m3 2h1m8 1h1m1 0h1m-31 1h1m16 0h2m8 0h1m-33 1h2m6 0h1m20 0h1m3 0h2m-29 1h2m18 0h1m6 0h3m-35 1h1m1 0h1m21 0h1m6 1h1m1 0h1m-17 1h3m-19 1h1m1 0h2m17 0h1m13 0h1m-49 1h1m11 0h1m21 0h1m2 0h1m5 0h1m5 0h1m-38 1h1m23 0h1m-36 1h1m32 0h1m-30 1h1m8 0h3m2 0h1m1 0h2m10 0h1m10 0h1m-35 1h3m2 0h1m2 0h1m16 0h1m11 0h2m-45 1h1m1 0h1m4 0h1m15 0h1m4 0h1m2 0h1m9 0h1m1 0h1m-38 1h1m1 0h2m4 1h1m15 0h1m12 0h1m-16 1h1m13 0h1m-16 1h1m2 0h1m6 0h1m4 0h1m-14 1h1m3 0h2m3 0h1m6 0h1m-43 1h1m3 0h1m3 0h1m9 0h1m2 0h1m11 0h1m7 0h2m-39 1h1m3 0h1m13 0h1m1 0h2m5 0h2m4 0h1m-36 1h1m1 0h1m4 0h1m8 0h1m1 0h2m2 0h2m7 0h2m1 0h2m-32 1h1m15 0h2m1 0h1m7 0h1m-40 1h1m14 0h1m4 0h1m3 0h1m4 0h2m-20 1h1m9 0h1m7 0h1m10 0h1m2 0h1m-27 1h1m1 0h1m10 0h1m14 0h2m-45 1h1m19 0h1m4 0h1m3 0h1m11 0h1m2 0h1m1 0h1m-37 1h1m7 0h1m1 0h2m18 0h1m4 0h1m-33 1h1m12 0h1m-20 1h1m3 0h1m4 0h2m-12 1h3m9 0h1m5 0h1m6 0h1m-31 1h1m9 0h3m3 0h1m2 0h2m6 0h1m-19 1h2m2 0h2m1 0h1m3 0h2m3 0h1m-3 1h1"/><path stroke="#d6604e" d="M35 0.5h1m-13 1h1m9 0h1m4 0h1m-28 1h1m1 0h1m-3 2h1m8 0h1m-8 1h1m8 0h1m-9 1h1m-5 1h1m12 0h1m-12 1h1m0 1h1m12 1h1m-2 1h1m-4 2h1m6 1h1m3 1h1m2 1h1m2 0h1m-10 1h1m13 0h2m-22 1h1m8 0h1m13 0h1m-20 1h1m17 1h1m2 0h1m-35 1h1m16 0h1m14 0h1m-8 1h1m4 0h1m-15 1h1m12 0h2m2 1h1m-47 1h1m12 0h1m-13 1h1m12 0h1m29 0h1m-18 1h1m-26 1h1m2 0h1m1 0h1m23 0h1m-31 1h1m9 0h3m3 0h1m14 0h1m9 0h1m-44 1h1m2 0h1m4 0h1m7 0h1m15 0h5m5 0h1m-42 1h1m3 0h2m4 0h1m19 0h2m2 0h2m1 0h2m-5 1h2m2 0h2m-41 1h1m7 0h1m3 0h1m19 0h1m1 0h1m1 0h2m-33 1h1m6 0h2m15 0h1m1 0h1m11 0h1m-39 1h1m1 0h1m7 0h1m24 0h2m-29 1h1m32 0h1m-48 1h1m3 0h1m5 0h1m2 0h1m31 0h1m-46 1h1m8 0h1m1 0h1m4 0h1m25 0h1m-30 1h2m13 0h1m3 0h1m-32 1h2m1 0h1m1 0h1m1 0h1m1 0h1m2 0h1m15 0h1m-29 1h1m11 0h1m8 0h2m4 0h1m13 0h1m-43 1h1m5 0h1m9 0h1m-14 1h1m5 0h1m6 0h2m-10 1h1m1 0h1m1 0h2m4 0h1m7 0h1m-26 1h1m7 0h1m3 0h1m1 0h1m12 0h1m2 0h1m-31 1h1m5 0h2m19 0h1m7 0h1m-36 1h1m3 0h1m13 0h1m12 0h1m-33 1h1m1 0h1m5 0h1m0 1h1m4 0h3m11 0h1"/><path stroke="#c33e3e" d="M28 2.5h1m-6 1h1m-2 6h1m2 0h1m4 4h1m16 4h1m0 1h1m-17 1h1m15 0h1m-1 1h1m-3 1h1m1 0h1m-13 1h1m9 0h2m-2 1h1m2 0h1m-5 1h1m1 1h1m-31 1h1m29 0h1m1 0h1m-49 1h1m1 0h1m14 0h1m-17 1h2m42 0h1m2 0h1m-40 1h1m1 0h1m36 0h1m-45 1h1m5 0h1m26 0h1m-30 1h3m1 0h1m-1 1h1m25 0h1m-30 1h2m3 0h2m-16 1h3m7 0h1m24 0h1m-33 1h1m5 0h1m2 0h2m30 0h1m1 0h1m-48 1h2m11 0h1m27 0h1m-39 2h1m3 0h1m23 0h1m-32 1h1m8 0h2m0 1h1m20 0h1m-24 1h1m-3 1h1m1 0h1m1 0h1m1 0h1m17 0h1m-31 1h1m3 0h1m1 0h1m2 0h1m1 0h1m1 0h1m7 0h1m-23 1h1m1 0h1m1 0h1m6 0h1m-12 1h1m5 0h1m-4 1h1m8 0h1m-13 1h1m6 0h2m3 0h2m14 0h1m-19 1h1m4 0h1m10 0h1m4 0h2m-29 1h1m8 0h1m16 0h1"/><path stroke="#b01d2e" d="M28 9.5h1m-26 3h1m29 4h1m12 1h1m2 0h1m-1 1h1m-3 1h1m1 0h1m-3 1h1m1 2h1m-7 1h1m3 0h1m-31 1h1m-18 2h1m1 0h1m29 0h1m-33 1h1m1 0h1m-2 1h1m-2 1h2m-2 1h1m0 1h1m1 0h1m1 0h1m2 0h1m22 0h1m3 0h1m-35 1h2m3 0h3m2 0h2m21 0h2m2 0h1m-39 1h1m1 0h1m2 0h2m5 0h1m1 0h1m-15 1h1m4 0h1m1 0h2m-8 1h2m2 0h1m-4 1h1m3 0h2m-7 1h1m1 0h1m1 0h1m2 0h1m3 0h1m-12 1h1m2 0h1m1 0h1m-5 1h1m9 0h1m-4 1h1m0 1h2m-11 1h1m2 0h1m5 0h1m1 0h1m-13 1h1m1 0h1m3 0h1m4 0h1m-7 1h1m1 0h1m1 0h1m-8 1h3m3 0h1m2 0h1m-12 1h1m3 0h1m1 0h1m7 0h1m10 0h1m-20 1h1m3 0h2m-11 1h1m2 0h2m1 0h1m-5 1h1m2 0h1m4 0h1"/><path stroke="#8e1428" d="M46 18.5h1m-33 5h1m-13 6h1m-3 2h1m-1 1h1m2 0h1m5 0h2m31 0h1m-40 1h2m-1 1h1m4 0h1m2 0h1m-10 1h1m5 0h1m-7 1h1m1 0h1m2 0h1m-7 1h1m3 0h1m-5 1h1m5 0h1m-5 1h3m4 0h1m-12 1h1m2 0h1m3 0h1m18 0h1m-24 1h2m1 0h1m1 0h1m-7 1h1m11 0h1m-12 2h1m2 0h1m-2 1h1m1 0h1m-6 1h1m2 0h1m-3 1h1m-1 1h1m5 0h1m-8 1h1m4 0h2m1 0h1"/><path stroke="#6d0a22" d="M49 21.5h1m-2 1h1m-3 2h1m-47 4h1m1 2h2m0 2h2m1 1h2m1 1h1m-11 1h1m3 1h1m4 0h2m-4 1h1m-3 1h1m6 0h1m-10 1h1m3 0h1m7 1h1m-16 1h1m1 0h1m2 0h1m-1 1h1m2 0h1m-5 1h1m3 0h1m-7 4h1m3 1h1m-7 1h2m3 0h1"/></g><use href="#G" clip-path="url(#T)" fill="none" stroke="#d8d2d0" stroke-opacity="0.85" stroke-width="0.17"/></g><text x="457.2" y="736.2" font-size="22" fill="#111">chr9: 24735332-24737632</text><g transform="translate(790.00 748.50) scale(4.670)"><g fill="none" stroke-width="1.02"><path stroke="#4a8cc0" d="M5 21.5h1"/><path stroke="#6fa8ce" d="M47 11.5h1m-43 2h1m-6 12h1m6 3h1"/><path stroke="#94c4dd" d="M48 5.5h1m-3 3h1m-4 4h1m-41 1h1m2 1h1m-2 1h1m0 1h2m-8 1h1m-1 3h1m0 2h1m5 4h1m-8 2h1m7 0h1m-2 1h1m-4 1h1m0 2h1m-6 1h1m11 12h1m4 3h1"/><path stroke="#b2d4e6" d="M47 6.5h2m-49 4h1m46 0h1m-45 2h1m1 0h1m-5 1h1m2 0h1m-3 1h1m3 1h1m-5 2h1m3 1h1m-3 1h1m-3 1h1m1 0h1m-5 1h2m1 0h1m-1 1h1m-3 2h2m4 0h1m-4 1h1m-3 1h1m1 0h1m-3 1h1m0 1h1m7 1h1m-6 1h1m-3 1h1m7 0h1m-6 1h1m1 1h1m-1 3h2m-6 1h1m3 0h1m0 2h1m-5 3h1m12 4h1m-3 1h1m-10 2h1"/><path stroke="#d0e4ef" d="M46 4.5h1m2 2h1m-2 1h1m-1 2h2m-50 2h1m0 1h1m44 0h1m-41 1h1m-7 1h1m3 0h2m1 0h1m-6 1h2m3 0h1m-7 1h1m6 0h1m-3 1h2m-8 1h2m1 0h1m1 0h1m2 0h2m-9 1h1m1 0h1m1 0h1m1 0h2m-3 1h2m-4 2h1m-5 1h1m1 0h3m2 0h1m-6 2h1m5 0h1m-9 1h2m6 0h1m-9 1h2m7 0h2m-7 1h2m-6 1h1m1 0h1m1 0h3m2 0h1m-7 1h1m1 0h1m1 0h3m2 0h1m-8 1h2m1 0h4m-8 1h1m1 0h1m1 0h1m-4 1h4m-8 1h1m4 0h1m6 1h1m-9 1h1m10 0h1m-11 1h1m4 0h2m-2 1h1m-3 1h1m-2 2h1m-1 2h1m-4 2h1m-6 1h1m15 0h1m-9 1h1m-8 1h1m18 1h1"/><path stroke="#e2ecf0" d="M8 0.5h1m-1 4h1m37 2h1m0 1h1m1 0h1m-3 1h1m1 0h1m-2 3h1m-49 1h1m1 0h1m1 0h1m37 0h1m-42 3h1m6 0h1m-7 1h1m1 0h2m-5 1h1m1 0h1m1 0h1m2 0h1m-2 1h1m-6 1h1m3 0h1m-4 1h1m4 0h1m-7 1h1m1 0h1m2 0h1m-1 1h1m0 1h1m-6 1h2m3 0h1m-4 1h2m-4 1h1m1 0h2m2 0h1m-7 1h2m3 0h1m2 0h1m1 0h1m-5 1h1m-7 1h1m4 0h1m1 0h1m2 0h1m-13 1h2m7 0h1m-11 1h3m10 0h1m-12 1h1m1 1h1m8 0h1m1 0h1m-12 1h2m2 0h1m-7 1h1m2 0h2m1 0h1m1 0h3m2 0h1m-13 1h1m-2 2h1m4 0h1m5 1h1m-9 1h1m1 0h1m4 0h1m-10 2h1m6 0h1m-2 1h2m-8 1h1m2 0h1m3 0h1m-7 1h1m-4 1h1m3 0h1m1 0h2m4 0h1m-8 1h1m9 0h1m-13 1h1m-3 1h2m5 0h1m28 0h1"/><path stroke="#f5f4f2" d="M5 2.5h1m40 3h1m-41 1h1m39 1h1m-38 1h1m38 0h1m-4 3h1m3 0h1m-3 1h1m-48 1h1m1 0h1m-2 1h1m1 0h1m-4 1h1m2 1h1m0 1h1m4 0h1m-8 1h1m1 0h1m-4 2h1m3 0h1m0 1h1m-7 1h1m1 0h1m3 0h1m2 1h1m-4 1h1m-6 1h1m1 0h1m3 0h1m5 1h1m-9 1h3m-2 1h1m4 0h1m2 0h2m-15 1h1m12 0h1m-12 2h1m3 0h1m-8 1h1m2 0h1m5 0h1m1 0h2m-12 1h1m1 0h1m8 0h1m-11 1h2m9 0h2m-15 1h1m2 0h1m3 0h1m1 0h1m-6 1h1m6 0h1m-11 1h1m5 0h2m-9 1h1m4 0h1m6 0h2m2 0h1m-17 1h2m9 0h2m-12 1h1m4 0h1m1 0h2m-5 1h1m6 0h1m14 0h1m-21 1h1m7 0h1m-12 1h1m1 0h1m6 0h1m2 0h1m31 0h1m-49 1h1m1 0h1m2 0h1m9 0h1m-15 1h1m1 0h1m2 0h1m-4 1h2m9 0h1m-15 1h1m6 0h1m7 0h1m2 0h1m-17 1h1m3 0h3m10 0h1m-3 1h3"/><path stroke="#f7e5db" d="M4 0.5h1m-2 1h1m5 0h1m1 1h1m7 0h1m-7 2h1m31 0h1m-40 1h2m39 0h1m-47 1h1m8 0h1m-11 1h1m45 2h2m-47 1h1m13 1h1m28 0h1m1 0h1m2 1h1m-2 1h1m-38 1h1m-8 1h1m38 0h1m-35 4h1m4 1h1m3 0h1m-9 1h1m-10 2h1m3 0h2m15 0h1m-18 1h1m4 1h1m0 1h1m13 0h1m-14 1h1m-1 1h1m10 0h1m-12 1h1m0 1h1m7 0h1m-8 1h1m-5 1h1m4 0h1m-6 1h1m5 0h1m-17 1h1m6 0h1m1 0h1m1 0h1m-8 1h1m15 0h1m-20 1h1m6 0h1m-7 1h3m5 0h1m2 0h1m-6 1h1m-4 1h1m1 0h1m7 0h1m5 0h1m-20 1h1m1 0h1m5 0h2m1 0h2m-13 1h1m3 0h1m3 0h2m1 0h2m-15 1h1m7 0h1m3 0h1m1 0h1m-13 1h2m3 0h1m3 0h2m2 0h1m1 0h1m-17 1h1m6 0h1m3 0h2m2 0h1m1 0h1m1 0h2m26 0h1m-42 1h1m1 0h1m3 0h3m1 0h1m4 0h1m23 0h1m-38 1h1m1 0h2m24 0h1m-37 1h2m1 0h2m3 0h2m2 0h2m-15 1h1m2 0h1m1 0h1m4 0h3m5 0h1m-19 1h1m3 0h1m1 0h1m3 0h3m1 0h1"/><path stroke="#f9d6c4" d="M0 2.5h1m21 0h1m-14 2h1m5 0h1m-8 1h1m10 1h1m-19 2h1m0 2h1m7 0h1m29 2h1m-32 1h2m35 0h1m2 0h1m-6 1h1m-45 5h1m8 1h1m-1 1h1m-1 1h1m8 1h1m-19 1h1m8 0h1m1 0h1m5 0h1m7 0h1m1 0h1m-13 1h1m30 0h1m-37 1h1m1 0h1m1 1h1m-13 1h1m12 1h1m11 0h1m-28 1h1m10 0h1m3 1h2m26 0h1m-43 1h1m11 0h2m-13 1h1m11 0h1m-3 1h1m3 0h1m-1 1h2m-16 1h1m3 0h1m6 0h3m6 0h1m-23 1h1m15 0h1m3 0h1m-17 1h1m1 0h1m7 0h1m-12 1h2m1 0h1m7 0h1m-15 1h1m2 0h1m15 0h1m1 0h1m-22 1h2m7 0h1m-9 1h2m1 0h2m3 0h1m1 0h1m4 0h2m29 0h1m-48 1h1m19 0h2m-18 1h1m4 0h1m4 0h1m2 0h1m5 0h1m-24 1h1m1 0h1m5 0h1m1 0h2m4 0h1m1 0h1m2 0h1m19 0h1m-40 1h1m3 0h1m8 0h1m4 0h1m15 0h1m8 0h2m-44 1h1m8 0h1m8 0h1m23 0h1m-37 1h1m3 0h1m1 0h2m19 0h1m1 0h1m5 0h1m-44 1h1m5 0h1m5 0h1m1 0h2m22 0h1m1 0h1"/><path stroke="#f4bca5" d="M8 1.5h1m26 0h1m-23 1h1m9 1h1m4 0h1m-24 1h1m15 0h1m-13 1h1m29 1h1m-37 2h1m5 1h1m21 0h1m-23 1h1m-1 1h1m15 0h1m14 0h1m1 0h2m-35 1h1m11 0h1m19 0h1m-21 1h1m1 0h1m23 0h1m-38 1h1m10 0h1m23 0h1m3 0h1m-39 1h1m30 0h1m1 0h1m-28 2h1m3 0h1m20 0h1m-32 2h1m9 0h1m0 1h1m-15 1h1m6 0h1m15 0h1m-14 1h1m3 0h2m-14 2h1m2 0h1m14 0h1m-20 1h1m2 0h2m35 1h1m-29 1h1m6 0h2m-29 1h1m8 0h1m2 0h1m31 0h1m-22 1h1m3 0h1m15 0h1m-30 1h1m6 1h1m19 0h1m0 1h1m-33 1h1m5 0h1m-8 1h1m4 0h1m11 0h1m-14 1h1m3 0h1m4 0h1m-12 1h1m8 0h1m-7 1h1m2 0h2m1 0h1m1 0h1m1 0h1m1 0h1m-27 1h1m1 0h1m11 0h1m3 0h1m2 0h2m-22 1h1m15 0h3m1 0h2m-8 1h1m3 0h1m5 0h1m19 0h1m-43 1h1m10 0h1m4 0h2m-9 1h1m35 0h1m-49 1h1m3 0h1m12 0h1m-12 1h1m39 0h1m-1 1h1m-30 1h1m6 0h1m18 0h1m-34 1h1m8 0h1m23 0h1m-31 1h1m6 0h1m15 0h1m3 0h1m-37 1h1m17 0h1m13 0h1m4 0h1"/><path stroke="#f0a386" d="M7 0.5h1m1 0h1m19 0h1m-7 1h1m4 0h1m-6 1h1m10 0h1m-23 2h1m3 0h1m1 0h1m6 0h1m-1 1h1m18 0h1m-19 1h1m-25 1h1m40 1h1m-27 2h1m23 0h2m-33 1h1m11 0h1m1 0h1m-15 1h2m2 0h1m20 0h1m3 0h1m-18 1h1m22 0h1m-4 1h1m3 0h1m-30 1h1m29 0h2m-30 1h1m16 0h1m6 0h1m-24 1h1m4 0h1m22 0h1m-31 1h1m0 1h1m3 0h1m2 0h1m-6 1h1m2 0h3m11 0h2m-26 1h1m2 0h1m2 0h3m1 0h1m1 0h2m-20 1h1m12 0h1m7 0h1m4 0h1m2 0h1m-28 1h2m1 0h1m-2 1h1m7 0h2m1 0h1m6 0h2m13 0h1m-32 1h1m5 0h1m1 0h1m-8 1h1m6 0h1m3 0h1m12 0h1m-25 1h1m7 0h1m2 0h2m17 0h1m-29 1h1m3 0h1m-2 1h1m5 0h1m5 0h1m-19 1h1m1 0h4m6 0h1m20 0h1m-30 1h1m5 0h4m-12 1h2m1 0h1m7 0h1m14 0h1m4 0h1m-26 1h2m4 0h1m12 0h1m-24 1h1m7 0h1m-26 1h1m17 0h1m2 0h1m1 0h1m16 0h1m6 0h1m-49 1h1m17 0h3m2 0h1m1 0h1m-12 1h1m3 1h1m-3 1h1m7 0h2m3 0h1m13 0h1m1 0h1m-31 1h1m29 0h1m-30 1h1m1 0h1m4 0h1m2 0h1m19 0h1m-26 1h1m2 0h3m5 0h1m-22 2h1m7 0h1m8 0h1m15 0h1m-26 1h2m14 0h2m1 0h1m3 0h1m-33 1h1m6 0h1m3 0h2m-4 1h1m3 0h2m16 0h1m-22 1h1m2 0h1m1 0h1m17 0h1m-23 1h2m2 0h1m1 0h2m11 0h1"/><path stroke="#e3826a" d="M25 1.5h2m1 1h1m-18 2h1m2 0h1m13 0h2m9 0h1m3 0h1m-33 1h1m2 0h1m3 0h1m1 0h1m3 0h1m1 0h2m15 0h1m-33 1h1m1 0h1m2 0h1m1 0h1m25 0h1m-12 1h1m10 0h1m-34 2h1m11 0h1m4 0h1m10 0h1m-26 1h2m5 0h1m1 0h1m10 0h1m5 0h1m-27 1h1m3 0h1m22 0h1m-26 1h1m6 0h1m5 0h1m8 0h1m-23 1h1m2 0h1m18 0h1m-13 1h1m9 0h1m1 0h1m2 0h1m6 0h1m-30 1h1m1 0h1m16 0h1m1 0h2m4 0h1m-33 1h1m2 0h1m3 0h1m3 0h1m6 0h1m-15 1h1m3 0h1m7 0h1m1 0h2m5 0h1m5 0h1m3 0h1m-39 1h1m9 0h4m13 0h1m5 0h1m-27 1h1m1 0h1m16 0h3m1 0h1m-27 1h1m7 0h1m6 0h1m10 0h1m-29 1h1m25 0h2m3 0h1m-32 1h1m2 0h1m3 0h1m5 0h1m14 0h3m2 0h1m-33 1h1m2 0h1m1 0h1m3 0h1m1 0h2m3 0h1m-16 1h1m8 0h1m4 0h1m3 0h1m3 0h1m-21 1h1m8 0h1m1 0h1m3 0h1m3 0h1m-18 1h2m10 0h1m3 0h1m7 0h1m4 0h1m-30 1h1m4 0h1m6 0h1m1 0h1m-12 1h1m2 0h5m3 0h1m-17 1h2m4 0h1m7 0h1m1 0h1m11 0h1m-5 1h1m1 0h1m2 0h1m-30 1h1m1 0h1m1 0h1m9 1h1m-14 1h1m1 0h1m3 0h1m1 0h1m8 0h1m2 0h1m10 0h1m-30 1h2m7 0h1m3 0h1m-9 1h1m1 0h1m1 0h1m-23 1h1m16 0h1m1 0h1m5 0h1m-11 1h1m1 0h1m5 0h1m-11 1h2m2 0h1m2 0h2m-3 1h1m17 0h1m-20 1h1m17 0h1m3 0h1m-45 1h1m18 0h1m1 0h2m15 0h1m1 0h1m3 0h1m-26 1h1m19 0h1m-29 1h1m4 0h1m2 0h2m1 0h1m2 0h1m14 0h1m5 0h1m-26 1h2m17 0h1m-10 1h1m-11 1h1m13 0h1m-14 1h1m1 0h1m-2 1h3m10 0h1m2 0h1m-19 1h1"/><path stroke="#d6604e" d="M26 0.5h1m5 1h1m3 0h1m3 0h1m-16 1h3m1 0h1m7 0h1m3 0h1m1 0h1m-27 2h1m1 0h2m2 0h1m3 0h1m10 0h1m-29 1h1m2 0h1m1 0h2m4 0h1m1 0h1m-10 1h1m5 0h2m18 0h1m2 0h1m-19 1h1m13 0h1m-27 1h1m8 0h2m1 0h1m16 0h1m-33 1h1m5 0h2m7 0h1m17 0h2m-16 1h1m9 0h1m-29 1h1m4 0h1m6 0h1m3 0h1m1 0h1m6 0h1m2 0h1m-22 1h1m8 0h1m9 0h1m-27 1h1m5 0h2m1 0h1m-7 1h1m2 0h2m1 0h1m10 0h1m15 0h1m-35 1h1m2 0h1m7 0h2m13 0h1m5 0h1m3 0h1m-35 1h1m8 0h1m9 0h2m1 0h2m3 0h1m4 0h1m-35 1h2m4 0h1m3 0h2m12 0h2m4 0h2m-33 1h2m2 0h2m2 0h1m5 0h1m1 0h1m5 0h2m1 0h1m3 0h1m1 0h1m-31 1h1m3 0h1m7 0h1m16 0h1m-32 1h3m3 0h1m1 0h1m12 0h2m1 0h2m3 0h1m1 0h1m3 0h1m-29 1h2m3 0h1m4 0h1m3 0h1m10 0h1m2 0h1m2 0h1m-40 1h3m4 0h1m6 0h2m4 0h2m8 0h1m3 0h1m-33 1h1m2 0h1m8 0h1m2 0h2m17 0h1m2 0h1m-36 1h1m1 0h1m1 0h2m2 0h1m3 0h1m5 0h1m2 0h1m2 0h1m4 0h1m-28 1h1m2 0h1m1 0h1m2 0h2m5 0h1m5 0h1m-24 1h1m1 0h1m10 0h3m7 0h1m-21 1h2m6 0h1m20 0h1m-31 1h1m3 0h1m3 0h1m5 0h1m-15 1h1m2 0h1m1 0h1m8 0h1m9 0h1m7 0h1m-25 1h2m4 0h1m1 0h1m1 0h1m7 0h1m1 0h1m-14 1h2m2 0h1m11 0h1m-26 1h1m9 0h1m3 0h1m3 0h1m4 0h2m-28 1h1m1 0h1m3 0h1m1 0h1m1 0h1m1 0h1m5 0h1m5 0h1m-27 1h1m6 0h1m6 0h1m8 0h1m-20 1h1m4 0h1m11 0h1m-22 1h1m26 0h1m1 0h1m-30 1h1m8 0h1m1 0h1m-20 1h1m15 0h1m3 0h1m14 0h1m-28 1h1m10 0h1m-7 1h3m19 0h1m-16 1h1m12 0h1m1 0h1m-22 1h1m3 0h1m3 0h1m11 0h2m-1 1h1m-22 2h1m1 0h1m2 0h1m8 0h1m1 0h1m-17 1h1m2 0h1m-3 2h1m4 0h2m-2 1h1"/><path stroke="#c33e3e" d="M35 0.5h1m-7 1h1m-6 1h1m6 0h1m1 0h1m-12 1h1m6 0h1m4 0h1m1 1h2m-26 1h1m6 0h1m2 0h1m16 0h1m1 0h2m-20 1h3m16 0h1m-30 1h1m2 0h1m6 0h2m1 0h1m5 0h1m7 0h2m1 0h1m-34 1h1m5 0h2m1 0h1m20 0h1m-28 1h1m1 0h1m4 0h2m7 0h1m11 0h1m-31 1h1m6 0h1m7 0h3m3 0h1m-21 1h2m3 0h1m1 0h1m1 0h1m4 0h1m7 0h1m3 0h1m-26 1h1m3 0h1m4 0h1m1 0h3m6 0h1m2 0h1m-25 1h1m1 0h1m9 0h1m4 0h1m4 0h3m2 0h1m-27 1h1m1 0h2m5 0h1m4 0h1m4 0h2m5 0h1m-25 1h1m4 0h1m1 0h2m8 0h1m1 0h3m-25 1h1m5 0h1m3 0h2m6 0h1m9 0h1m8 0h1m-24 1h1m7 0h3m9 0h1m-28 1h1m19 0h2m4 0h1m3 0h1m-34 1h1m5 0h1m6 0h1m10 0h1m2 0h1m-24 1h1m7 0h1m8 0h1m6 0h1m-34 1h1m13 0h1m12 0h1m2 0h1m6 0h1m-35 1h2m3 0h1m8 0h1m6 0h2m-21 1h1m3 0h2m1 2h1m5 0h1m4 0h2m13 0h1m-32 1h1m4 0h1m10 0h1m9 0h1m2 0h1m-32 1h1m5 0h1m7 0h1m8 0h1m3 0h2m4 0h1m-32 1h2m15 0h1m8 0h1m-23 1h1m11 0h1m4 0h1m1 0h1m1 0h1m-24 1h1m2 0h1m3 0h1m3 0h1m4 0h1m1 0h3m-18 1h1m14 0h4m2 0h1m-25 1h2m2 0h3m2 0h2m3 0h2m1 0h1m3 0h1m2 0h1m-11 1h1m1 0h1m2 0h1m5 0h1m-27 1h1m3 0h1m1 0h1m4 0h1m7 0h1m4 0h1m2 0h1m1 0h2m-22 1h1m2 0h2m4 0h1m2 0h1m1 0h2m1 0h1m-19 1h1m1 0h2m7 0h2m-9 1h2m9 0h1m1 0h1m-5 1h2m3 0h1m-19 1h1m0 1h3m9 0h2m-11 1h1m-4 1h3m-7 1h1m2 0h1m-1 1h1m3 0h1m-5 1h1m1 0h1m1 0h1m8 0h1m-14 1h3m2 0h1m2 0h1m-10 1h1m5 1h1m-7 1h1m3 0h2"/><path stroke="#b01d2e" d="M24 0.5h1m5 0h1m2 0h1m2 0h2m-1 1h1m3 0h1m-12 1h1m1 0h1m5 0h1m-15 2h1m1 0h1m6 0h1m6 0h1m-1 1h1m-29 1h1m2 0h1m6 0h1m-9 1h1m6 0h2m19 0h1m-29 1h1m5 0h1m5 0h1m14 0h1m-28 1h1m7 0h1m7 0h1m-19 1h1m3 0h1m2 0h2m1 0h1m1 0h1m5 0h2m1 0h1m-6 1h1m2 0h3m-14 1h1m11 0h1m1 0h1m-22 1h1m1 0h1m9 0h2m1 0h1m1 0h3m-21 1h1m6 0h1m3 0h3m2 0h3m-19 1h1m1 0h1m3 0h1m8 0h1m1 0h1m-10 1h1m6 0h1m5 0h1m5 0h1m8 0h1m-33 1h1m10 0h1m3 0h1m15 0h1m-33 1h1m9 0h1m1 0h1m5 0h1m8 0h1m3 0h3m-35 1h1m9 0h1m10 0h1m8 0h2m1 0h1m-21 1h1m15 0h1m4 0h1m-37 1h1m3 0h1m25 0h1m2 0h1m1 0h1m-21 1h1m17 0h1m1 0h3m-21 1h1m4 0h1m8 0h2m-11 1h1m1 0h1m7 0h1m2 0h2m-16 1h1m6 0h1m2 0h2m-28 1h1m3 0h1m2 0h1m13 0h1m6 0h1m-26 1h1m19 1h1m2 0h1m2 0h1m1 0h1m-14 1h2m9 0h2m-26 1h1m10 0h1m3 0h1m7 0h1m2 0h1m-29 1h1m12 0h2m1 0h2m7 0h2m-29 1h1m4 0h1m14 0h2m-10 1h1m2 0h1m6 0h1m7 0h1m-27 1h1m5 0h1m10 0h1m1 0h1m3 0h1m1 0h1m-18 1h1m13 0h1m2 0h1m-20 1h1m13 0h1m2 0h1m1 0h1m-19 1h1m9 0h2m2 0h1m1 0h1m-29 1h1m8 0h1m15 0h2m-14 1h1m10 0h1m-15 1h1m4 0h1m9 0h1m-15 1h1m1 0h1m-5 2h1m2 0h2m-5 1h1m-1 1h1m3 0h1m0 1h1m2 0h1m-5 1h2"/><path stroke="#8e1428" d="M34 0.5h1m-11 1h1m5 0h2m1 0h2m4 0h1m-4 1h1m5 0h1m-13 1h1m-9 1h1m19 0h1m-15 1h1m-12 1h1m23 0h1m-32 1h1m4 0h1m1 0h2m1 0h1m-3 1h1m2 0h1m-10 1h1m5 0h2m22 0h1m-30 1h1m11 0h1m-6 1h1m9 0h1m-16 1h1m3 0h1m8 0h1m1 0h1m2 1h1m3 0h1m-4 1h1m-9 1h1m1 0h1m2 0h1m-16 1h1m11 0h2m14 0h1m-30 1h1m20 1h1m-9 1h1m3 0h1m3 0h1m11 0h2m-21 1h1m15 0h1m1 0h1m-17 3h1m13 0h1m1 0h1m-2 1h1m2 0h1m-32 1h1m27 1h1m0 1h1m-1 1h1m1 0h1m-15 2h1m13 1h1m-2 1h2m-8 1h1m1 0h1m1 0h2m-16 1h1m3 0h1m5 0h1m1 0h1m-6 1h1m6 0h1m-6 1h1m-12 2h2m-1 1h1m-1 1h1m0 1h1m-4 3h1m0 2h1m2 0h1m-6 1h2m2 0h1m-2 1h1"/><path stroke="#6d0a22" d="M31 0.5h2m-6 1h1m10 0h1m-4 1h1m3 0h2m0 2h1m-25 1h1m20 0h1m-28 2h2m6 0h1m-9 1h2m2 0h1m8 0h1m-1 1h1m10 2h1m-24 1h1m18 0h1m-5 1h1m7 1h1m1 0h1m-8 1h1m2 0h1m3 0h1m-25 1h1m12 0h1m4 0h1m13 0h2m-6 1h1m-30 2h1m14 0h1m18 0h1m2 1h1m-2 3h1m-22 2h1m17 0h1m1 0h2m-19 1h1m1 0h2m2 0h1m11 1h1m-20 2h1m19 0h1m-1 1h1m-20 1h1m17 0h1m-16 1h1m-2 1h1m4 1h1m11 1h1m-19 1h1m8 0h1m2 0h1m-3 1h1m-10 1h1m-1 1h1m7 0h1m1 0h1m-12 4h1m-2 1h1m1 1h1m0 2h1"/></g><use href="#G" clip-path="url(#T)" fill="none" stroke="#d8d2d0" stroke-opacity="0.85" stroke-width="0.17"/></g><text x="788.7" y="736.2" font-size="22" fill="#111">chr17: 71055505-71058005</text><g transform="translate(1118.00 748.50) scale(4.670)"><g fill="none" stroke-width="1.02"><path stroke="#2c5a98" d="M5 15.5h1"/><path stroke="#3b73ac" d="M6 16.5h1m1 4h1m-2 1h1"/><path stroke="#4a8cc0" d="M7 22.5h1"/><path stroke="#6fa8ce" d="M3 15.5h2m3 0h1m-5 2h1m3 0h1m-2 2h1m-2 1h1m-1 1h1"/><path stroke="#94c4dd" d="M48 5.5h1m-43 9h1m-5 1h1m4 1h1m-7 1h2m3 0h2m1 0h1m-9 1h2m3 0h1m1 0h1m-4 1h2m-5 1h1m4 0h1m-5 1h1m5 0h1m-4 1h1m-5 21h1m16 1h1m-18 2h1"/><path stroke="#b2d4e6" d="M47 7.5h1m-3 4h1m-42 3h2m-6 1h1m5 0h2m-7 1h1m1 0h3m-6 2h1m3 0h2m1 0h1m1 0h1m-8 1h1m1 0h1m3 0h1m-6 1h1m5 0h1m-8 1h1m2 0h1m2 0h1m-9 1h1m-1 1h1m6 0h1m-8 13h1m4 7h1m-3 2h1m-3 1h1m13 1h1"/><path stroke="#d0e4ef" d="M47 5.5h1m1 2h1m-4 4h1m-1 1h1m-44 2h1m3 0h1m-7 1h1m0 1h1m5 0h1m-9 1h1m4 0h1m-5 2h1m1 0h1m5 0h1m-10 1h2m2 1h1m-4 1h1m2 0h1m3 0h1m-8 1h1m1 0h1m2 0h1m0 1h1m-2 12h1m-3 1h1m-5 1h2m3 1h1m-1 1h1m-2 1h1m1 0h1m-7 1h1m10 0h2m-3 1h1m-10 1h1m3 2h1m1 0h1m36 0h1m-44 1h3m-3 1h5m-6 1h2m38 0h1"/><path stroke="#e2ecf0" d="M8 0.5h1m37 4h1m-3 1h1m3 2h1m-1 1h2m-3 1h3m-3 1h1m-1 1h1m-48 1h1m4 0h1m-5 2h2m0 3h1m-1 1h1m-4 1h1m3 1h1m-5 1h1m9 0h1m-9 1h2m5 0h1m-2 1h1m-9 1h1m4 0h2m20 0h1m-15 7h1m4 4h1m-17 2h1m-3 2h1m2 1h1m5 0h1m-2 1h1m3 0h1m-8 1h1m4 0h1m2 0h1m-13 1h1m13 0h1m-14 1h1m2 0h2m2 0h1m7 0h1m-17 1h1m2 0h1m1 0h1m3 0h1m2 0h1m-5 1h1m6 0h1m4 0h1m-22 1h1m3 0h2m1 0h1m9 0h1m-12 1h2m7 1h1"/><path stroke="#f5f4f2" d="M3 1.5h1m33 0h1m-38 1h1m4 2h1m0 1h1m39 0h1m-46 1h1m-1 2h1m44 0h1m-45 2h1m45 1h1m-46 2h2m40 0h1m-46 1h1m45 2h1m-34 1h1m16 0h1m-19 1h1m-2 1h1m37 0h1m-45 1h1m-5 1h1m2 2h2m4 0h1m-11 2h1m1 0h1m4 0h1m-3 1h1m26 3h1m-14 2h1m-20 1h1m0 2h1m2 0h1m-4 1h3m3 1h1m-5 1h1m1 0h1m-4 1h2m1 0h1m-3 1h2m1 0h2m-2 1h1m-6 1h1m11 0h2m-9 1h1m1 0h2m5 0h1m31 0h1m-42 1h1m4 0h1m1 0h2m-2 1h1m2 0h1m4 0h1m26 0h1m-49 1h1m4 0h1m3 0h1m9 0h1m1 0h1m-22 1h1m3 0h1m1 0h1m1 0h1m1 0h1m6 0h1m2 0h1m25 0h1m-39 1h2m4 0h1m-2 1h1m2 0h1m-14 1h4m6 0h1m7 0h1m17 0h1"/><path stroke="#f7e5db" d="M26 0.5h1m20 6h3m-48 1h1m43 0h1m0 1h1m-2 1h1m2 2h1m-47 1h2m37 0h1m4 0h1m1 0h1m-50 1h1m45 0h1m-2 1h1m2 0h1m-3 1h2m-34 4h1m17 0h1m-22 1h1m20 0h1m-23 2h1m-9 1h1m0 1h1m4 0h2m-1 1h1m24 0h1m-25 1h1m2 0h1m29 2h1m3 0h1m-40 3h1m-4 1h1m21 0h1m-26 2h1m9 0h1m15 0h1m-27 2h1m1 0h1m8 0h1m-14 1h1m6 1h1m-7 1h1m10 0h1m7 0h1m8 0h1m-29 1h1m2 0h1m2 0h1m-8 1h1m1 0h2m1 0h1m3 0h2m9 0h1m25 0h2m-47 1h1m1 0h2m9 0h1m2 0h1m3 0h1m-14 1h2m-10 1h1m2 0h2m3 0h1m2 0h2m-11 1h1m4 0h1m3 0h2m1 0h1m1 0h2m5 0h1m-12 1h1m1 0h1m22 0h1m-32 1h1m3 0h1m5 0h1m4 0h1m22 0h1m-45 1h1m7 0h2m2 0h1m1 0h2m1 0h1m2 0h2m1 0h1m13 0h1m-36 1h1m6 0h1m10 0h1"/><path stroke="#f9d6c4" d="M9 1.5h1m-5 1h1m5 0h1m-4 2h1m29 0h1m6 0h1m-39 1h3m34 1h1m1 0h1m-47 1h1m41 0h1m1 0h1m-42 1h1m40 1h1m-45 1h1m41 0h1m-41 2h1m16 0h1m6 0h1m16 0h1m-43 1h1m3 0h2m29 0h1m10 0h2m-3 1h2m1 0h1m-16 1h2m12 0h2m-5 1h1m-19 1h1m4 0h1m10 0h1m-8 2h1m2 1h1m3 0h1m-35 3h1m38 0h1m-45 1h1m5 0h2m18 0h1m2 0h1m-29 1h1m21 0h1m7 0h2m-11 1h1m10 0h1m-28 1h2m-6 1h1m23 0h1m4 0h1m4 0h1m-34 1h2m1 0h1m-1 1h1m14 0h1m1 0h1m6 0h1m-17 1h1m25 0h1m-44 1h1m1 0h1m-3 1h3m24 0h1m4 0h1m14 0h1m-49 1h1m2 0h1m2 0h1m9 0h1m7 0h1m1 0h1m-23 1h2m38 0h1m-44 1h1m3 0h1m14 0h1m2 0h1m20 0h1m-44 1h1m7 0h1m5 0h1m1 0h1m-14 1h1m1 0h1m2 0h1m1 0h2m1 0h1m-5 1h1m-9 1h1m5 0h1m1 0h1m5 0h1m3 0h1m-10 1h1m3 0h1m10 0h1m0 1h1m21 0h1m-50 1h1m2 0h1m3 0h1m11 0h1m10 0h1m12 0h1m-37 1h1m2 0h1m16 0h1m15 0h1m3 0h1m-33 1h1m4 0h1m9 0h1m8 0h1m2 0h1m3 0h2m-37 1h1m1 0h1m1 0h1m2 0h2m5 0h1m2 0h1m16 0h1m-28 1h1m1 0h1m2 0h2m20 0h1m-35 1h1m7 0h1m19 0h1m1 0h4m-38 1h1m6 0h1m1 0h1m2 0h1m3 0h2m16 0h1"/><path stroke="#f4bca5" d="M9 0.5h1m16 1h1m-14 1h1m5 0h1m4 0h1m1 0h1m1 0h1m14 0h1m-21 1h1m-9 1h1m8 0h1m18 0h1m-3 1h2m-37 1h1m3 0h1m31 0h2m-1 1h1m-35 1h1m30 0h2m-33 2h1m-10 1h1m24 0h1m13 0h1m2 0h1m-10 2h1m15 0h1m-16 1h1m-24 1h1m18 0h1m1 1h1m-7 1h1m8 0h1m-25 1h1m33 0h1m-34 1h1m3 0h1m11 0h1m-17 1h1m12 0h1m15 0h1m5 0h1m-20 1h1m3 0h1m-6 1h1m-2 1h1m2 0h3m2 0h1m8 0h2m-44 1h1m10 0h1m1 0h1m10 0h1m8 0h3m-34 1h1m2 0h1m21 0h1m-23 1h2m24 0h1m1 0h2m2 0h1m-32 1h1m22 0h1m8 0h1m-30 1h1m14 0h1m3 0h1m-19 1h1m4 0h1m14 0h1m1 0h1m1 0h1m-36 1h1m5 0h1m2 0h1m4 0h2m7 0h1m14 0h1m-30 1h1m5 0h1m9 0h1m1 0h1m-24 1h1m1 0h1m3 0h1m4 0h2m4 0h1m2 0h1m1 0h1m-27 1h1m3 0h2m2 0h1m4 0h1m2 0h4m10 0h1m-23 1h1m1 0h1m6 0h1m30 0h1m-49 1h1m7 0h2m1 0h1m3 0h1m-13 1h1m13 0h2m-11 1h1m14 0h1m3 0h1m4 0h1m-25 1h1m4 0h1m1 0h5m5 0h1m-24 1h1m8 0h1m5 0h3m3 0h2m20 0h1m-35 1h3m1 0h1m3 0h1m1 0h1m1 0h1m1 0h1m19 0h1m1 0h1m-26 1h1m-21 1h1m13 0h1m-5 1h1m5 0h1m2 0h2m26 0h1m-36 1h2m4 0h1m3 0h1m3 0h1m-21 1h1m13 0h1m13 0h1m1 0h1m1 0h1m-38 1h1m18 0h2m10 0h1m3 0h1m-28 1h3m5 0h1m21 0h1m-32 1h1m7 0h1m5 0h2m10 0h1m-29 1h1m1 0h1m1 0h1m4 0h1m19 0h2m3 0h1"/><path stroke="#f0a386" d="M4 0.5h1m19 0h1m-17 1h1m14 0h3m1 0h1m1 0h1m4 0h1m5 0h1m-14 1h1m4 0h1m7 0h1m1 0h1m-15 1h2m-13 1h3m2 0h1m3 0h1m9 0h1m2 0h1m-22 1h2m18 0h1m4 0h1m-32 1h1m27 0h1m-29 1h1m20 0h1m5 2h1m-39 1h1m39 0h1m-16 1h1m16 0h2m-35 1h1m6 0h1m21 0h2m-32 1h1m27 0h1m-28 1h1m5 0h1m22 0h1m4 0h1m-27 1h1m5 0h1m3 0h1m11 0h1m-29 1h2m1 0h1m8 0h1m2 0h1m5 0h1m13 0h1m-33 1h1m7 0h1m7 0h1m6 0h1m-24 1h1m11 0h2m4 0h1m1 0h1m4 0h1m3 0h1m1 0h2m-35 1h1m10 0h1m2 0h1m14 0h1m2 0h1m1 0h1m-35 1h1m1 0h1m17 0h1m1 0h1m2 0h1m1 0h1m8 0h1m-37 1h1m11 0h1m16 0h1m1 0h1m1 0h1m-18 1h3m2 0h1m1 0h1m4 0h1m7 0h1m-39 1h1m13 0h1m1 0h1m21 0h1m-48 1h1m23 0h1m4 0h2m4 0h1m8 0h1m-46 1h1m2 0h1m3 0h1m4 0h2m9 0h1m8 0h1m11 0h1m-46 1h1m1 0h2m4 0h2m1 0h1m24 0h1m-35 1h1m2 0h1m3 0h1m3 0h2m1 0h2m7 0h1m1 0h1m5 0h1m10 0h2m-46 1h1m2 0h1m3 0h2m24 0h1m-32 1h2m5 0h1m2 0h2m9 0h1m3 0h2m12 0h1m-41 1h2m2 0h1m5 0h3m4 0h2m1 0h1m2 0h1m6 0h1m8 0h1m-41 1h1m3 0h1m2 0h1m3 0h2m19 0h1m1 0h3m2 0h1m9 0h1m-42 1h2m7 0h2m23 0h1m-36 1h1m1 0h2m4 0h1m4 0h1m19 0h1m5 0h1m-42 1h1m1 0h1m3 0h1m2 0h1m3 0h1m6 0h1m1 0h1m8 0h1m1 0h1m-33 1h2m4 0h1m7 0h1m1 0h2m1 0h1m-18 1h2m5 0h1m8 0h1m1 0h1m11 0h1m6 0h1m-39 1h1m5 0h1m8 0h1m1 0h1m5 0h1m-9 1h1m3 0h3m11 0h1m-32 1h1m4 0h2m6 0h1m21 0h1m-31 1h1m7 0h1m3 0h1m2 0h1m1 0h1m14 0h1m-26 1h1m2 0h1m19 0h1m-38 1h1m14 0h1m1 0h3m-10 1h1m26 0h1m3 0h1m-31 1h1m6 0h1m18 0h1m-27 1h1m9 0h2m4 0h2m1 0h1m-14 1h1m6 0h1m4 0h1m-7 1h1m-20 2h1m10 0h1m4 0h1"/><path stroke="#e3826a" d="M7 0.5h1m26 0h1m1 0h1m-7 1h1m7 0h1m-17 1h1m2 0h1m4 0h1m8 0h1m-6 1h1m-26 1h1m4 0h1m8 0h1m3 0h1m1 0h1m11 0h2m-33 1h2m2 0h1m6 0h1m2 0h1m14 0h2m-17 1h1m1 0h1m-17 1h1m5 0h1m8 0h1m6 0h1m6 0h2m-25 1h1m3 0h1m-12 1h1m19 0h2m10 0h2m-26 1h1m9 0h1m1 0h1m10 0h1m-29 1h1m4 0h3m7 0h2m1 0h1m2 0h2m3 0h1m1 0h2m-41 1h1m18 0h1m4 0h1m6 0h1m-31 1h1m7 0h2m4 0h1m3 0h1m6 0h1m2 0h1m-20 1h1m2 0h2m13 0h1m6 0h1m-25 1h4m10 0h2m1 0h1m3 0h1m2 0h1m2 0h1m2 0h1m-29 1h1m7 0h2m4 0h1m5 0h1m3 0h1m1 0h1m7 0h2m-36 1h1m10 0h1m11 0h1m4 0h1m4 0h3m-27 1h1m12 0h1m1 0h1m2 0h1m6 0h1m-28 1h1m7 0h1m5 0h1m1 0h2m7 0h1m1 0h1m-25 1h1m1 0h2m17 0h1m-29 1h2m7 0h2m3 0h1m8 0h2m5 0h2m-38 1h4m7 0h2m4 0h1m6 0h1m4 0h1m2 0h3m2 0h1m-29 1h1m25 0h2m-33 1h1m4 0h1m8 0h1m8 0h1m4 0h1m4 0h1m-29 1h2m3 0h1m6 0h1m4 0h1m11 0h1m-46 1h1m7 0h1m10 0h1m1 0h1m1 0h3m1 0h1m1 0h1m10 0h1m3 0h1m-48 1h1m2 0h1m1 0h1m11 0h1m2 0h1m4 0h1m1 0h1m2 0h1m11 0h1m5 0h1m-45 1h1m5 0h6m3 0h2m1 0h2m1 0h1m1 0h1m16 0h1m-45 1h1m4 0h1m7 0h1m2 0h1m1 0h1m2 0h1m3 0h1m7 0h1m1 0h1m6 0h4m2 0h1m-42 1h1m8 0h1m8 0h1m10 0h1m1 0h1m8 0h2m-49 1h3m1 0h2m10 0h1m2 0h2m2 0h1m1 0h1m4 0h1m1 0h1m4 0h1m7 0h2m-46 1h1m8 0h4m5 0h1m9 0h2m2 0h1m8 0h1m2 0h1m1 0h1m-43 1h1m4 0h1m2 0h1m7 0h1m3 0h2m1 0h1m2 0h1m3 0h1m1 0h1m4 0h1m1 0h1m1 0h1m-39 1h1m9 0h2m1 0h1m9 0h2m5 0h1m2 0h1m2 0h1m-36 1h1m2 0h2m4 0h1m4 0h1m5 0h2m5 0h1m2 0h1m4 0h1m2 0h2m-39 1h1m4 0h1m4 0h2m4 0h2m17 0h1m-41 1h1m5 0h1m3 0h1m2 0h1m19 0h1m3 0h1m-24 1h2m2 0h1m5 0h2m-19 1h1m14 0h1m11 0h1m2 0h1m-44 1h1m27 0h1m13 0h1m1 0h1m-29 1h1m1 0h1m4 0h1m1 0h1m1 0h1m4 0h1m-4 1h1m13 0h1m-24 1h1m2 1h1m7 1h1m9 0h1m-16 1h1m2 0h1m-4 1h1m5 0h1m-7 1h1m5 0h1m5 0h1m-21 1h1m6 0h2"/><path stroke="#d6604e" d="M31 0.5h1m1 0h1m1 0h1m1 0h1m-7 1h1m3 0h2m2 0h1m-17 1h1m9 0h1m1 0h4m2 0h1m-12 1h1m-18 1h1m2 0h1m8 0h1m2 0h1m11 0h1m-29 1h1m2 0h3m7 0h2m-13 1h2m1 0h2m1 0h1m1 0h1m18 0h1m-1 1h1m-27 1h1m3 0h1m22 0h2m-29 1h1m2 0h1m1 0h1m4 0h1m5 0h1m11 0h1m-31 1h1m2 0h1m7 0h1m3 0h1m2 0h1m7 0h1m-31 1h2m3 0h1m1 0h1m-8 1h1m6 0h1m1 0h1m18 0h2m2 0h1m-18 1h1m1 0h1m2 0h1m4 0h2m3 0h1m-20 1h2m1 0h1m2 0h3m2 0h1m3 0h1m2 0h1m3 0h1m-23 1h1m17 0h1m4 0h3m-27 1h1m9 0h3m5 0h1m4 0h2m-28 1h1m2 0h1m1 0h1m2 0h1m8 0h2m4 0h1m4 0h1m1 0h1m-34 1h1m7 0h2m1 0h3m7 0h1m2 0h1m4 0h2m-26 1h1m6 0h2m12 0h3m1 0h2m-24 1h2m5 0h1m1 0h1m6 0h1m6 0h1m1 0h1m1 0h1m-38 1h2m1 0h1m8 0h2m13 0h1m4 0h1m1 0h1m3 0h1m-35 1h2m3 0h1m4 0h1m16 0h1m3 0h2m-35 1h1m3 0h1m6 0h1m3 0h1m-16 1h1m5 0h1m2 0h3m3 0h1m18 0h1m-38 1h1m5 0h3m7 0h1m2 0h1m10 0h1m2 0h2m-31 1h1m1 0h1m1 0h1m11 0h1m8 0h1m3 0h1m1 0h3m-40 1h1m3 0h1m2 0h1m3 0h2m1 0h1m23 0h1m1 0h1m-47 1h1m1 0h1m4 0h1m7 0h1m1 0h1m2 0h1m25 0h1m-49 1h1m3 0h2m15 0h1m7 0h1m9 0h1m-37 1h2m2 0h1m12 0h1m9 0h1m2 0h1m1 0h1m7 0h1m2 0h1m-31 1h1m5 0h2m13 0h1m3 0h3m4 0h1m-30 1h1m12 0h1m3 0h2m1 0h1m1 0h1m-30 1h1m8 0h1m1 0h3m11 0h1m1 0h1m1 0h2m1 0h1m4 0h1m-37 1h1m9 0h1m6 0h1m6 0h1m3 0h1m1 0h1m3 0h1m-21 1h2m9 0h2m2 0h1m3 0h2m-38 1h1m1 0h1m1 0h1m10 0h1m4 0h2m7 0h2m1 0h2m-30 1h1m3 0h1m1 0h2m18 0h3m1 0h2m-23 1h1m18 0h4m-25 1h1m3 0h1m1 0h1m4 0h1m8 0h1m-18 1h1m2 0h1m2 0h1m9 0h2m1 0h1m-15 1h1m1 0h1m9 0h1m-14 1h1m1 0h1m-27 1h1m11 0h1m6 0h2m2 0h3m1 0h1m-6 1h1m2 0h3m-6 1h1m3 1h1m2 0h1m-9 1h1m1 0h2m2 0h1m1 0h1m-7 1h2m1 0h1m-3 1h3"/><path stroke="#c33e3e" d="M30 0.5h1m1 0h1m-5 1h1m4 0h1m7 0h1m-13 1h1m1 0h1m2 0h1m-24 2h1m8 0h1m-1 1h1m6 0h1m-15 1h1m2 0h1m2 0h1m1 0h1m3 0h1m-15 1h1m11 0h1m2 0h1m-17 1h2m2 0h1m2 0h2m2 0h1m3 0h2m-17 1h1m17 0h1m-18 1h1m3 0h1m4 0h1m5 0h1m5 0h2m-21 1h1m8 0h1m6 0h1m1 0h1m-17 1h1m11 0h5m1 0h2m1 0h1m-25 1h4m1 0h1m7 0h1m2 0h1m3 0h1m5 0h1m-26 1h1m4 0h1m5 0h1m5 0h1m2 0h1m7 0h1m-26 1h2m3 0h2m2 0h1m5 0h1m5 0h1m-22 1h1m3 0h2m4 0h1m8 0h2m7 0h1m-23 1h1m13 0h1m8 0h1m-27 1h2m18 0h1m9 0h1m-33 1h1m4 0h2m-10 1h1m3 0h1m17 0h1m5 0h1m-27 1h1m5 0h1m16 0h1m-16 1h1m1 0h1m10 0h1m-26 1h1m2 0h2m4 0h1m1 0h1m21 0h1m-29 1h2m2 0h1m22 0h2m3 0h1m-38 1h1m2 0h1m6 0h2m7 0h1m14 0h3m-32 1h1m1 0h2m1 0h1m-20 1h1m20 0h1m4 0h1m17 0h1m-47 1h1m16 0h1m8 0h1m16 0h1m1 0h1m2 0h1m-35 1h1m8 0h1m15 0h1m7 0h1m-33 1h1m15 0h1m3 0h1m7 0h1m-35 1h1m19 0h1m9 0h1m-34 1h1m15 0h1m1 0h1m3 0h1m3 0h1m1 0h1m2 0h1m1 0h1m3 0h1m4 0h1m-19 1h1m3 0h1m-15 1h1m7 0h1m1 0h1m8 0h1m5 0h1m2 0h1m-34 1h2m3 0h1m4 0h1m2 0h1m2 0h1m8 0h1m1 0h1m-25 1h1m9 0h1m2 0h1m8 0h1m5 0h1m-37 1h1m13 0h2m4 0h1m9 1h1m-26 1h1m13 0h1m11 0h1m-11 1h1m-10 2h1m8 0h1m-8 1h2m-2 2h1m1 0h1m-1 1h1m3 3h1"/><path stroke="#b01d2e" d="M32 1.5h1m-11 2h1m10 1h1m3 0h1m-25 1h1m8 0h2m4 0h1m-18 1h1m11 0h1m-11 1h1m5 0h2m1 0h1m1 0h1m-12 1h1m-3 1h1m2 0h1m1 0h2m3 0h2m1 0h1m-15 1h1m7 0h2m5 0h1m4 0h1m3 0h1m0 1h2m-26 1h2m1 0h1m8 0h2m10 0h1m-18 1h2m1 0h1m1 0h1m7 0h1m-20 1h1m6 0h1m2 0h1m2 0h1m-3 1h1m8 0h1m-15 1h1m6 0h1m13 0h1m-22 1h1m1 0h1m20 0h1m-26 1h3m0 1h1m-3 1h1m1 0h1m3 0h1m5 0h1m-9 1h1m-5 1h1m3 0h1m-3 1h1m2 0h1m-7 1h1m2 1h1m1 1h1m-22 1h1m22 0h1m-6 2h1m1 0h1m9 0h1m-9 1h1m19 0h1m4 0h1m-34 1h1m7 1h1m24 0h1m-14 1h1m9 1h1m-16 3h1m-1 1h1m2 0h1m-7 1h1m4 0h1m-4 2h1m14 0h1m-13 1h1m10 0h1m-14 5h1m-1 1h1"/><path stroke="#8e1428" d="M12 4.5h1m26 2h1m-26 1h2m2 0h1m2 0h1m-10 1h1m9 0h3m-12 1h1m9 0h1m-12 1h1m1 0h1m6 0h3m-13 1h1m8 0h2m2 0h1m-4 1h1m-5 2h1m14 0h1m-14 1h1m-3 1h1m2 3h1m-6 2h1m3 0h2m-3 2h1m-18 3h1m13 0h1m29 4h1m-31 4h1m-6 3h1m17 0h1m15 5h1m-13 4h1m-2 2h1"/><path stroke="#6d0a22" d="M29 0.5h1m-9 4h1m-5 3h1m-6 2h1m6 0h1m-5 2h1m7 0h1m8 0h1m-20 1h1m8 0h1m-1 1h1m14 1h1m3 1h1m-25 2h1m2 3h1m-3 2h2m-6 1h1m9 3h1m24 0h1m-3 3h1m-7 1h1m3 1h1m-1 1h1m-16 9h1m11 0h1m-11 4h1m2 1h1"/></g><use href="#G" clip-path="url(#T)" fill="none" stroke="#d8d2d0" stroke-opacity="0.85" stroke-width="0.17"/></g><text x="1116.7" y="736.2" font-size="22" fill="#111">chr3: 19674475-19677475</text><g transform="translate(1461.00 748.50) scale(4.670)"><g fill="none" stroke-width="1.02"><path stroke="#2c5a98" d="M4 22.5h1"/><path stroke="#3b73ac" d="M2 14.5h1m2 3h1"/><path stroke="#4a8cc0" d="M7 16.5h1m-4 1h1m-2 1h1m-1 2h1m3 1h1m-1 1h1m-7 4h1"/><path stroke="#6fa8ce" d="M7 14.5h1m-6 2h1m4 3h1m-7 1h1m4 0h1m42 0h1m-48 4h1"/><path stroke="#94c4dd" d="M1 14.5h1m2 0h2m-5 2h1m2 0h1m0 2h1m-3 1h4m-7 1h1m4 0h1m-5 1h2m3 0h1m-1 1h1m1 0h1m-9 1h1m1 0h2m-4 2h2m0 1h1m45 7h1"/><path stroke="#b2d4e6" d="M46 7.5h1m-46 6h1m-2 1h1m2 0h1m35 0h1m-39 1h2m2 0h4m-6 1h1m2 0h1m-7 1h1m1 0h1m3 0h3m-8 1h1m4 0h1m1 0h2m33 0h1m-44 1h1m1 0h1m5 0h1m35 0h1m-41 1h1m-5 1h1m4 0h1m-5 2h1m5 0h1m-3 1h1m1 0h1m-6 1h2m2 0h1m-2 1h1m-6 1h1m3 0h1m22 16h1"/><path stroke="#d0e4ef" d="M31 9.5h1m-30 1h1m-3 1h1m15 0h1m-16 1h1m1 0h1m27 0h1m15 0h1m-45 1h1m44 0h1m-43 1h1m-4 1h1m36 0h1m-36 1h1m2 0h1m-8 1h1m1 0h1m-4 1h1m3 0h1m-4 1h1m7 0h1m36 0h1m-40 1h1m38 0h2m-44 1h1m43 0h1m-49 1h4m5 0h1m-6 1h1m1 0h1m-6 1h1m4 0h1m1 0h1m-5 1h1m-2 1h1m2 0h1m-5 1h1m2 0h1m-6 1h2m1 0h1m-4 1h1m24 14h1m20 3h1"/><path stroke="#e2ecf0" d="M3 1.5h1m10 4h1m6 0h1m25 1h1m-16 1h1m8 1h1m4 1h1m-28 1h1m14 0h1m0 1h1m12 0h1m-49 1h1m48 0h1m-46 1h1m5 1h1m34 2h1m-37 1h1m38 0h1m-8 1h1m7 0h1m-48 2h1m5 0h2m27 0h1m-30 1h1m36 0h3m1 1h1m-45 1h1m2 0h1m38 0h1m-48 1h1m2 0h1m1 1h1m1 0h1m-1 1h1m38 0h1m-46 1h1m2 1h2m-4 1h1m28 12h1m14 0h1m0 1h1m-4 4h1"/><path stroke="#f5f4f2" d="M35 0.5h1m7 2h1m-14 1h1m-26 1h1m23 0h1m-23 1h1m-8 2h1m38 0h1m-20 1h1m26 0h1m-7 1h1m-42 1h1m29 0h1m11 0h1m-34 1h1m21 0h1m10 0h1m-39 1h2m34 0h1m-41 1h1m1 0h1m27 0h4m13 0h1m-20 1h1m3 0h1m9 0h1m2 0h1m-46 1h1m3 0h1m40 0h2m0 1h1m1 1h1m-48 1h1m8 0h1m23 0h1m10 0h2m-21 1h1m15 0h1m1 0h1m-16 1h1m17 0h1m-46 1h1m38 0h3m4 0h1m-40 1h1m18 0h1m15 0h4m-40 1h1m33 0h1m1 0h1m-42 1h1m4 0h1m37 0h2m-40 1h1m38 0h1m-49 1h1m46 0h1m-45 1h1m2 0h2m-6 1h1m44 0h1m-47 1h1m1 0h1m1 0h1m-5 1h1m28 0h1m11 1h1m2 0h1m1 0h1m-44 1h1m35 0h1m3 1h1m-4 1h1m7 0h1m-9 2h1m-14 5h2m18 2h1m-19 1h1m-4 2h1m1 1h1m-6 2h1"/><path stroke="#f7e5db" d="M41 1.5h1m-33 3h1m32 0h2m-24 1h1m17 0h2m4 0h1m2 0h1m0 1h1m-47 1h1m19 0h1m19 0h1m5 0h1m-40 1h1m39 0h1m-11 1h1m4 0h1m-44 1h1m14 0h1m24 0h1m-21 1h1m14 0h1m1 0h1m2 0h1m7 0h1m-41 1h1m1 0h1m9 0h1m7 0h1m2 0h2m7 0h1m4 0h1m-42 1h2m2 0h1m24 0h1m3 0h2m5 0h1m3 0h1m-6 1h1m2 0h1m1 0h1m-14 1h1m11 0h1m-3 1h1m-21 1h1m10 0h1m5 0h1m3 0h1m-41 1h1m40 0h1m-2 1h3m-8 1h3m-36 1h2m16 0h1m-13 1h1m2 0h1m7 0h2m-18 1h1m-3 2h1m17 0h1m13 0h1m4 0h1m3 0h1m-46 1h1m7 0h1m11 0h1m13 0h1m-33 2h2m32 0h1m2 0h2m-39 1h2m3 0h1m27 0h1m7 0h1m-45 1h1m21 0h1m16 0h1m1 0h2m2 0h1m-48 1h1m44 0h1m-5 1h1m1 0h1m-18 1h1m12 0h1m5 0h1m-38 1h1m18 0h1m8 0h1m6 1h2m3 0h1m-42 1h1m35 0h1m-15 1h1m11 0h1m-15 1h1m15 0h1m0 2h2m-19 2h1m20 0h1m-24 1h1m1 0h1m1 0h1m-4 2h1m19 0h1m-20 1h2m-6 1h3m0 1h1m1 0h1m7 0h1"/><path stroke="#f9d6c4" d="M4 0.5h1m2 0h2m21 1h1m1 0h1m7 0h1m-36 1h1m28 0h1m6 0h1m-9 2h1m-25 1h2m17 0h1m17 0h1m1 0h1m-28 1h1m1 0h1m18 0h1m3 0h1m-27 1h1m4 0h2m16 0h1m3 0h1m-47 1h1m27 1h1m18 0h1m-36 1h1m17 0h3m5 0h2m-30 1h1m6 0h1m14 0h1m9 0h3m1 0h1m-46 1h1m25 0h1m1 0h1m4 0h2m1 0h2m2 0h1m-33 1h1m1 0h1m23 0h1m-25 1h1m13 0h1m6 0h2m6 0h1m4 0h1m-33 1h1m15 0h2m2 0h1m8 0h1m3 0h1m1 0h1m-22 1h1m8 0h1m2 0h1m2 0h1m5 0h1m-37 1h1m9 0h1m17 0h2m1 0h3m-14 1h1m4 0h1m5 0h2m-22 1h1m12 0h1m2 0h1m-5 1h1m3 0h1m4 0h1m-15 2h1m3 0h1m8 0h1m-32 1h1m7 0h1m22 0h1m3 0h1m-39 1h1m14 0h1m6 0h1m12 0h1m3 0h1m-40 1h1m11 0h1m24 0h1m-40 1h4m7 0h1m23 0h1m1 0h1m-38 1h1m5 0h1m29 0h1m4 0h1m-42 1h1m17 0h1m8 0h1m9 0h2m2 0h1m-46 1h1m3 0h1m27 0h1m3 0h1m4 0h1m2 0h2m-48 1h1m5 0h1m17 0h1m6 0h1m6 0h1m5 0h1m-44 1h2m26 0h1m1 0h1m3 0h1m10 0h1m-44 1h1m28 0h1m4 0h1m5 0h1m2 0h1m-18 1h1m7 0h1m5 0h1m1 0h1m-43 1h1m30 0h1m1 0h1m1 0h1m2 0h1m-2 1h1m3 0h3m-19 1h1m8 0h1m6 0h2m-31 1h1m14 0h1m11 0h1m-20 1h1m6 0h1m10 0h1m1 0h1m-19 1h1m1 0h1m-17 1h1m15 0h1m14 0h1m-2 2h1m-15 1h1m19 0h1m-32 1h1m7 0h2m19 0h2m-24 1h2m1 0h2m8 0h1m7 0h1m-23 1h2m12 0h1m6 0h1m-19 1h2m4 0h1m-9 1h1m13 0h1m4 0h1m-18 1h1"/><path stroke="#f4bca5" d="M9 0.5h1m23 0h1m-26 1h1m15 0h1m8 0h4m2 0h1m-40 1h1m12 0h1m8 0h1m19 0h1m-28 2h1m4 0h1m17 0h2m-34 1h1m1 0h1m31 0h2m1 0h1m-22 1h1m2 0h1m13 0h3m2 0h1m4 0h1m-40 1h1m8 0h1m1 0h1m11 0h1m6 0h2m7 0h1m-47 1h1m17 0h1m1 0h1m16 0h1m2 0h1m2 0h1m1 0h1m-39 1h1m7 0h1m11 0h1m16 0h1m1 0h1m-41 1h1m4 0h1m32 0h1m-35 1h1m5 0h1m7 0h2m1 0h1m3 0h1m5 0h1m5 0h1m-37 1h1m2 0h1m1 0h1m6 0h1m3 0h1m7 0h1m8 0h1m-33 1h1m14 0h1m1 0h1m-18 1h1m7 0h1m4 0h1m2 0h1m1 0h1m1 0h1m3 0h1m1 0h1m10 0h1m-34 1h1m2 0h1m1 0h1m3 0h3m6 0h1m7 0h2m-28 1h1m6 0h1m9 0h1m2 0h1m2 0h2m4 0h1m3 0h1m-35 1h1m5 0h1m9 0h1m3 0h1m-14 1h1m14 0h2m-3 1h2m1 0h1m2 0h2m-32 1h1m2 0h2m6 0h1m1 0h2m7 0h1m7 0h1m-31 1h1m9 0h1m6 0h1m12 0h1m-26 1h1m4 0h2m2 0h1m14 0h1m-30 1h2m1 0h2m3 0h2m3 0h1m4 0h1m16 0h1m-36 1h1m8 0h1m1 0h1m11 0h2m8 0h1m-33 1h1m3 0h1m8 0h1m10 0h1m7 0h1m-27 1h1m12 0h1m3 0h1m8 0h1m-36 1h2m5 0h1m8 0h1m3 0h1m17 0h2m-39 1h2m13 0h1m22 0h1m-31 1h1m1 0h2m8 0h3m11 0h1m1 0h1m-41 1h1m2 0h1m1 0h1m7 0h1m12 0h1m1 0h1m-35 1h1m9 0h1m3 0h1m20 0h1m2 0h1m1 0h2m7 0h1m-48 1h2m3 0h1m17 0h1m4 0h1m4 0h1m1 0h1m5 0h1m3 0h1m1 0h1m-50 1h1m3 0h1m3 0h1m4 0h1m18 0h1m5 0h1m2 0h1m-42 1h1m21 0h1m4 0h1m4 0h1m9 0h1m1 0h1m3 0h1m-25 1h1m2 0h1m11 0h1m1 0h1m-41 1h1m9 0h1m3 0h1m4 0h1m4 0h1m12 0h1m6 0h1m-27 1h1m7 0h2m10 0h1m5 0h1m-15 1h1m10 0h1m-29 1h1m9 0h1m1 0h1m5 0h1m10 0h1m1 0h1m-21 1h1m1 0h1m2 0h1m16 0h1m-27 1h1m5 0h1m2 0h1m11 0h1m-17 1h2m1 0h1m13 1h1m-16 1h1m14 0h1m-12 1h1m1 0h1m4 0h1m1 0h1m-16 1h1m3 0h1m-8 1h1m7 0h1m12 0h2m-20 1h1m1 0h1m1 0h1m1 0h1m5 0h1m3 0h1m-15 1h1m1 0h1m6 0h1m3 0h1"/><path stroke="#f0a386" d="M31 0.5h2m5 1h1m-15 1h2m10 0h1m3 0h1m-19 1h1m6 0h1m-14 1h2m1 0h1m2 0h5m9 0h1m3 0h2m3 0h2m-34 1h1m28 0h1m-33 1h1m4 0h2m3 0h1m3 0h1m18 0h1m-28 1h1m1 0h1m4 0h1m-14 1h1m3 0h3m2 0h1m6 0h1m-14 1h1m1 0h3m10 0h1m13 0h2m-34 1h1m1 0h1m2 0h1m9 0h1m-16 1h1m3 0h1m7 0h1m1 0h3m5 0h1m6 0h1m-17 1h1m13 0h1m-25 1h1m4 0h2m1 0h1m3 0h1m1 0h1m9 0h1m-25 1h1m1 0h1m14 0h1m5 0h1m-24 1h1m7 0h1m1 0h1m5 0h1m5 0h1m3 0h1m-28 1h1m18 0h1m1 0h2m1 0h1m-22 1h1m11 0h1m3 0h1m4 0h1m-18 1h1m4 0h1m1 0h1m7 0h1m4 0h2m-28 1h1m2 0h1m4 0h1m4 0h1m-15 1h1m4 0h4m11 0h1m-21 1h1m1 0h1m5 0h1m1 0h1m2 0h2m11 0h3m-30 1h2m6 0h2m3 0h1m3 0h1m1 0h1m6 0h1m5 0h1m-22 1h1m2 0h3m2 0h2m17 0h1m-34 1h1m6 0h1m2 0h1m2 0h2m7 0h1m4 0h1m2 0h1m-30 1h1m16 0h2m10 0h1m-31 1h1m6 0h1m1 0h1m1 0h4m5 0h2m11 0h1m-38 1h2m3 0h1m5 0h1m4 0h1m2 0h1m11 0h1m1 0h2m-38 1h1m9 0h1m1 0h1m2 0h1m4 0h1m-16 1h1m12 0h1m5 0h1m9 0h1m-39 1h1m1 0h1m9 0h1m2 0h1m2 0h1m3 0h1m8 0h1m1 0h2m7 0h1m1 0h1m-48 1h1m2 0h4m10 0h1m5 0h1m1 0h1m4 0h1m3 0h1m2 0h1m4 0h1m-44 1h1m4 0h1m1 0h1m17 0h1m2 0h1m1 0h1m1 0h1m4 0h1m2 0h1m4 0h1m-42 1h3m1 0h1m13 0h1m4 0h2m3 0h1m1 0h1m1 0h1m5 0h1m-43 1h1m2 0h1m5 0h1m20 0h1m1 0h1m5 0h1m6 0h2m-48 1h2m6 0h1m14 0h1m4 0h2m7 0h2m4 0h1m-38 1h1m11 0h1m4 0h1m2 0h1m1 0h1m2 0h1m8 0h1m2 0h1m-42 1h1m9 0h1m5 0h1m3 0h1m8 0h1m11 0h1m-40 1h2m8 0h1m14 0h1m11 0h1m-26 1h1m8 0h1m4 0h2m12 0h1m-39 1h1m13 0h1m10 0h1m9 0h1m1 0h1m-19 1h2m14 0h1m5 0h1m-24 1h1m5 0h1m1 0h1m11 0h1m-29 1h1m14 0h1m-15 1h1m11 0h1m1 0h1m12 0h1m-15 1h1m9 0h1m-10 1h1m1 0h2m2 0h1m-35 1h1m5 0h1m20 0h1m-14 1h1m6 0h1m16 0h1m-17 1h2m2 0h1m8 0h1"/><path stroke="#e3826a" d="M34 0.5h1m1 0h1m-14 1h1m2 0h1m10 0h1m-27 1h1m11 0h1m3 0h2m1 0h2m3 0h1m1 0h2m-16 1h1m4 0h1m5 0h1m-17 1h1m2 0h1m6 0h1m-13 1h1m5 0h2m1 0h3m-22 1h1m5 0h1m4 0h1m8 0h1m-14 1h2m29 0h1m-20 1h1m16 0h1m-34 1h1m9 0h1m4 0h1m-14 1h1m5 0h2m1 0h4m4 0h2m-18 1h1m2 0h1m7 0h1m5 0h1m-16 1h1m5 0h1m6 0h1m-14 1h1m1 0h2m2 0h1m8 0h1m5 0h1m10 0h1m-27 1h1m2 0h1m14 0h1m-28 1h1m4 0h2m1 0h1m7 0h2m3 0h1m11 0h1m-32 1h1m4 0h1m4 0h1m3 0h1m1 0h1m12 0h1m-27 1h1m5 0h1m2 0h1m6 0h2m5 0h1m-28 1h1m3 0h1m10 0h1m-17 1h2m1 0h1m5 0h1m1 0h1m5 0h2m2 0h1m6 0h1m-14 1h4m8 0h2m-27 1h1m1 0h3m5 0h1m7 0h2m-16 1h1m5 0h1m17 0h2m-27 1h1m1 0h1m4 0h1m4 0h1m-16 1h2m2 0h1m10 0h1m2 0h1m5 0h1m-25 1h1m1 0h1m5 0h1m1 0h1m3 0h1m1 0h1m2 0h2m-21 1h1m1 0h1m10 0h1m5 0h3m4 0h1m8 0h1m-28 1h1m4 0h2m2 0h1m8 0h1m-28 1h1m2 0h1m1 0h2m8 0h2m4 0h1m-25 1h2m5 0h1m7 0h1m-21 1h1m30 0h1m1 0h1m3 0h1m1 0h1m-32 1h2m1 0h1m2 0h1m2 0h1m8 0h1m3 0h1m-35 1h1m9 0h2m7 0h1m7 0h1m4 0h1m3 0h1m-26 1h1m2 0h1m2 0h2m3 0h1m11 0h1m1 0h1m5 0h1m6 0h1m-43 1h2m3 0h1m1 0h1m3 0h1m2 0h1m2 0h1m1 0h1m2 0h1m-27 1h2m10 0h1m9 0h1m5 0h2m-31 1h1m1 0h2m10 0h2m4 0h1m1 0h1m2 0h1m-28 1h1m2 0h1m6 0h1m2 0h3m10 0h1m-27 1h1m8 0h1m1 0h1m10 0h2m3 0h1m2 0h1m-26 1h1m12 0h3m7 0h1m13 0h1m-21 1h1m3 0h1m5 0h1m7 0h1m1 0h1m-41 1h1m10 0h2m5 0h1m3 0h1m7 0h1m10 0h2m-43 1h1m6 0h1m11 0h1m3 0h1m5 0h1m-31 1h1m18 0h1m2 0h1m20 0h1m-36 1h1m14 0h1m-11 1h1m6 0h1m9 0h1m3 0h2m-22 1h1m6 0h1m-23 1h1m10 0h1m20 0h1m8 0h1m-40 1h1m18 0h1m9 0h1m4 0h1m-19 1h1m20 0h2m1 0h1"/><path stroke="#d6604e" d="M37 0.5h1m-7 1h1m-3 1h1m2 0h2m5 0h1m-32 2h1m2 0h1m2 0h1m22 0h1m-27 1h2m2 0h1m1 0h3m4 0h1m-24 1h1m9 0h1m1 0h2m3 0h1m-8 1h1m3 0h1m1 0h1m6 0h1m-14 1h1m1 0h1m3 0h2m3 0h1m-3 1h1m4 0h1m-2 1h1m-5 1h1m-9 1h1m3 0h2m6 0h2m-4 1h2m-10 1h1m2 0h2m2 0h1m3 0h1m-14 1h1m9 0h1m15 0h1m-25 1h1m1 0h2m1 0h1m1 0h1m2 0h1m1 0h1m-8 1h1m4 0h1m10 0h1m-21 1h1m1 0h2m1 0h1m4 0h1m-9 1h1m1 0h1m3 0h1m1 0h1m-5 1h1m1 0h1m-10 2h1m19 0h1m1 0h1m-20 1h1m16 0h1m-23 1h1m5 0h2m4 0h1m2 0h1m5 0h1m2 0h1m-17 1h1m7 0h1m2 0h1m5 0h1m-27 2h1m6 0h1m1 0h1m12 0h1m-12 1h2m6 0h1m-9 1h1m3 0h1m1 0h2m4 0h1m6 0h1m-42 1h1m9 0h1m5 0h1m1 0h1m2 0h1m2 0h1m-9 1h2m2 0h1m1 0h2m2 0h1m-18 1h1m4 0h2m2 0h1m-18 1h1m8 0h1m4 0h2m4 0h1m2 0h1m1 0h1m3 0h1m-25 1h1m4 0h1m4 0h1m3 0h1m2 0h1m21 0h1m-44 1h1m2 0h1m1 0h1m8 0h1m1 0h2m6 0h1m3 0h1m9 0h1m-32 1h2m1 0h3m6 0h1m7 0h1m-29 1h1m4 0h1m2 0h1m10 0h1m3 0h1m15 0h1m-40 1h1m6 0h1m6 0h1m1 0h2m1 0h1m3 0h1m1 0h1m13 0h1m-38 1h1m2 0h1m2 0h1m5 0h1m1 0h1m3 0h1m18 0h1m-34 1h1m2 0h1m8 0h1m1 0h1m2 0h1m3 0h1m-21 1h2m8 0h1m4 0h1m-21 1h1m10 0h1m8 0h1m18 0h1m-34 1h1m4 0h1m4 0h1m-5 1h2m2 0h2m2 0h1m1 0h1m-9 1h2m18 0h1m-30 1h1m10 0h1m1 0h1m14 0h1m-36 1h1m3 0h1m8 0h1m3 0h1m2 0h1m-15 1h1m5 0h1m9 0h1m19 0h1m-44 1h1m7 0h1m13 0h1m8 0h1"/><path stroke="#c33e3e" d="M24 0.5h1m1 0h1m2 0h1m-21 1h1m17 0h1m-9 1h1m6 0h1m-15 5h1m-1 1h1m11 0h1m-14 1h1m10 0h1m3 1h1m-10 1h1m0 1h1m-4 1h1m8 0h1m-9 1h1m5 0h1m-3 2h1m4 0h1m4 0h1m-13 1h1m9 1h1m13 0h1m-25 1h1m-6 1h1m21 0h1m-18 1h2m4 0h1m-12 1h1m1 2h1m5 0h1m-3 1h1m23 0h1m-30 1h1m2 0h1m2 0h2m-7 1h1m3 0h1m4 0h1m-11 1h1m1 0h1m3 0h1m-9 1h2m1 0h1m1 0h1m1 0h1m3 0h1m11 0h1m-24 1h3m7 0h1m8 0h1m-8 1h1m18 0h1m-24 1h1m2 0h1m-22 1h1m17 0h1m4 0h1m-24 1h2m9 0h1m3 0h1m1 0h1m5 0h1m4 0h1m-21 1h5m7 0h1m-20 1h1m3 0h1m24 0h1m9 0h1m-39 1h1m6 0h1m4 0h1m6 0h1m5 0h1m11 0h1m-40 1h2m2 0h1m5 0h1m6 0h1m1 0h1m-22 1h1m1 0h1m4 0h1m2 0h2m-10 1h1m6 0h1m4 0h1m8 0h1m-8 1h1m-9 1h1m1 0h1m4 0h3m-18 1h1m1 0h2m2 0h1m4 0h1m5 0h2m3 0h1m1 0h1m-24 1h1m1 0h1m7 0h1m-11 1h1m3 0h1m5 0h1m1 0h1m6 0h1m21 0h1m-43 1h1m3 0h1m1 0h1m7 0h1m5 0h1m14 0h1m-24 1h2m1 0h1m4 0h1m-13 1h1m1 0h1m3 0h1m3 0h1m1 0h1m-19 1h2m2 0h1m7 0h2m4 0h2"/><path stroke="#b01d2e" d="M25 1.5h1m3 0h1m-17 3h1m5 2h1m-8 3h1m1 0h1m6 0h1m1 0h1m3 1h1m-9 2h1m-3 5h1m4 1h2m-10 7h1m3 0h1m5 0h1m-3 1h1m-14 5h1m1 0h1m4 1h2m3 0h2m1 0h1m-22 1h1m15 0h1m-5 1h1m-10 1h1m14 0h1m-22 1h1m6 1h1m13 0h1m3 0h1m-13 1h1m-2 1h1m9 0h2m17 0h1m-37 1h1m6 0h1m2 0h2m-17 1h2m9 0h1m3 0h1m6 0h1m-17 1h2m4 0h1m-6 1h2m6 0h1m-16 1h1m7 0h1m-9 1h1m1 0h1m4 0h2m1 0h1m1 0h1m3 0h1m2 0h1m3 0h1m-23 1h1m3 0h1m4 0h1m6 0h1m5 0h1m8 0h1m-26 1h1m2 0h1m5 0h1m2 0h1m-20 1h1m2 0h1m1 0h1m9 0h1m-15 1h1m2 0h1m4 0h2m1 0h2m2 0h1"/><path stroke="#8e1428" d="M12 4.5h1m14 0h1m9 11h1m0 2h1m-26 1h1m8 9h1m-10 1h1m-2 4h1m-1 1h1m7 2h1m-2 1h1m-15 1h1m1 1h1m-7 1h1m-2 1h2m1 0h2m6 0h1m-9 1h3m4 0h1m1 0h1m-13 1h2m2 0h2m7 0h1m8 0h1m-19 1h1m7 0h1m-11 1h1m1 0h2m6 0h3m-12 1h1m2 0h1m2 0h1m5 0h1m6 0h1m-21 1h2m3 0h1m1 0h1m3 0h1m2 0h1m-15 1h1m5 0h1m8 0h1m-17 1h1m2 0h1m1 0h1m2 0h1m6 0h1m2 0h1m-15 1h1m1 0h1m3 0h1m7 0h1m3 0h1"/><path stroke="#6d0a22" d="M30 0.5h1m-3 1h1m-8 16h1m-7 13h1m-3 2h1m-5 3h1m7 0h1m-10 2h1m7 1h1m-13 1h1m8 0h1m-6 1h1m-3 1h1m4 1h1m-7 1h1m4 0h1m2 0h1m7 0h1m-16 1h2m2 0h1m10 0h1m-18 1h1m6 1h2m5 0h1m-15 1h1m1 0h1m4 1h2m4 1h1"/></g><use href="#G" clip-path="url(#T)" fill="none" stroke="#d8d2d0" stroke-opacity="0.85" stroke-width="0.17"/></g><text x="1459.7" y="736.2" font-size="22" fill="#111">chrX:157709556-157711856</text><g transform="translate(120.00 1048.30) scale(4.670)"><g fill="none" stroke-width="1.02"><path stroke="#2c5a98" d="M3 21.5h1"/><path stroke="#4a8cc0" d="M5 14.5h1m-2 3h1m1 1h1m-3 1h1m-1 1h1"/><path stroke="#6fa8ce" d="M48 5.5h1m-2 1h2m0 1h1m-45 13h2m-3 1h1m1 0h1m-6 1h1"/><path stroke="#94c4dd" d="M8 1.5h1m38 4h1m0 3h1m-1 1h1m-2 3h1m-46 2h1m-2 1h1m-1 1h1m3 0h1m1 1h1m1 0h1m-7 1h1m2 1h1m-6 1h2m4 0h1m-6 2h1m3 0h1"/><path stroke="#b2d4e6" d="M47 7.5h1m-2 1h1m-1 1h2m-1 2h1m-47 2h1m3 0h1m43 0h1m-50 1h1m3 0h1m1 0h1m-5 1h3m2 0h1m-6 1h1m1 0h1m3 0h1m-9 1h1m1 0h2m1 0h1m-4 1h1m1 0h1m2 0h1m1 0h1m-3 1h2m-9 1h1m2 0h1m1 1h1m-3 1h2m2 0h1m-4 3h1m0 19h1"/><path stroke="#d0e4ef" d="M11 2.5h1m34 2h1m-1 3h1m1 0h1m-2 1h1m1 0h1m-1 1h1m-6 2h1m3 0h1m-49 1h2m4 1h1m0 1h1m-8 1h1m7 0h1m-3 1h2m-7 2h1m-1 1h1m1 0h1m4 1h1m-7 1h1m4 0h1m-8 1h1m1 1h1m1 0h1m2 0h1m8 24h1m-11 2h1"/><path stroke="#e2ecf0" d="M9 1.5h1m35 3h1m-5 1h1m4 1h1m-47 5h1m45 0h1m2 0h1m-1 1h1m-47 1h2m41 0h1m-46 1h1m1 0h1m42 0h2m-42 1h1m-4 1h1m4 1h1m-9 1h1m7 0h1m32 0h1m-42 1h1m8 1h1m-9 1h1m-1 2h1m1 0h1m1 0h1m-4 1h1m3 0h3m-6 1h1m2 0h1m-4 1h1m2 0h2m0 11h1m-7 3h1m5 2h1m-6 1h1m3 2h1m-7 3h1m13 0h1"/><path stroke="#f5f4f2" d="M9 5.5h1m36 0h1m2 1h1m-47 2h1m-2 2h1m-1 2h4m39 1h1m2 0h1m-44 2h1m32 2h1m3 0h1m-38 2h1m3 0h1m29 2h1m-32 1h1m-3 1h1m-7 1h1m3 0h1m-3 1h1m2 0h1m1 0h1m-7 1h1m3 0h1m0 1h1m-3 1h1m3 0h1m36 6h1m-46 4h1m2 1h1m14 2h1m-11 2h1m5 0h1m-14 1h1m4 0h1m1 0h1m-1 1h1m2 1h1m1 0h1m-2 1h1m-13 1h1m11 0h1m-13 1h1"/><path stroke="#f7e5db" d="M4 0.5h1m2 0h1m-5 1h1m1 1h1m2 2h2m33 0h1m-43 2h1m4 0h1m34 1h1m-1 2h1m-42 1h1m8 1h1m35 0h1m0 1h1m-47 1h1m46 0h1m0 1h1m-11 2h1m7 0h1m-41 1h1m1 4h1m0 1h1m-10 1h1m4 1h1m-6 1h1m7 0h1m-9 1h1m1 0h1m2 1h1m-6 1h1m6 0h1m-7 1h1m-2 1h1m6 0h1m36 0h1m4 1h1m-49 4h1m20 0h1m-20 1h1m-4 1h1m4 0h1m11 0h1m-14 1h1m1 0h1m2 1h1m2 0h1m-13 1h1m3 0h2m36 0h1m-43 1h1m9 0h2m4 0h1m-15 1h1m7 0h1m1 0h1m1 0h1m-13 1h1m1 0h1m1 0h1m3 0h1m-11 1h1m20 0h1m-21 1h1m4 0h1m-5 1h1m3 0h1m2 0h1m10 0h1m-21 1h1m1 0h1m7 0h1m4 0h1m-13 1h2m1 0h2m1 0h1m-5 1h1m2 0h1m6 0h1m9 0h1"/><path stroke="#f9d6c4" d="M9 0.5h1m-10 2h1m4 2h1m5 0h2m-7 1h3m34 0h2m-1 1h1m-43 1h1m41 2h1m-43 4h1m7 1h1m38 0h1m-9 1h1m6 0h1m-10 1h1m3 0h1m3 0h1m-47 1h1m35 0h1m-36 2h1m33 1h1m-37 1h1m8 0h2m-3 2h2m-7 1h1m6 0h1m-10 1h1m7 1h1m-10 1h1m2 0h2m2 0h2m-7 1h1m2 0h1m0 1h2m-7 1h1m1 0h2m1 0h1m34 0h1m-36 1h2m18 0h1m-20 1h1m-2 1h1m-5 1h1m6 0h1m11 0h1m24 0h1m-47 1h1m1 0h1m46 0h1m-46 1h1m-4 1h3m3 0h1m12 0h1m-20 1h1m1 0h1m4 0h1m2 0h1m1 0h1m-14 1h3m1 0h1m2 1h1m5 1h3m5 0h1m-22 1h2m1 0h1m45 0h1m-50 1h1m8 0h1m3 0h1m-12 1h2m16 0h1m-19 1h2m8 0h1m6 0h1m-15 1h1m1 0h2m3 0h1m-12 1h1m1 0h2m3 0h1m2 0h1m1 0h1m3 0h1m23 0h1m-29 1h1m3 0h1m1 0h1m19 0h1m-39 1h1m1 0h2m6 0h1m2 0h1m8 0h1m17 0h1"/><path stroke="#f4bca5" d="M8 0.5h1m31 1h1m-28 1h1m24 0h1m-10 2h1m-15 2h1m-15 2h1m41 0h1m-35 1h1m14 0h1m-24 1h1m25 1h1m-19 2h2m6 0h1m4 0h1m6 1h1m14 0h1m-23 1h1m4 0h1m12 0h1m2 0h1m1 0h2m-10 1h1m2 0h1m3 1h1m-40 1h1m16 0h1m3 0h1m12 1h1m8 0h1m-26 1h1m-3 1h2m19 0h1m-20 1h1m-12 1h1m31 0h1m-44 1h1m7 0h1m28 0h1m-35 2h1m-3 1h1m0 1h1m39 0h1m1 0h1m-46 1h1m2 0h3m2 0h3m-6 1h1m28 0h1m-31 1h1m12 0h1m-18 1h2m2 0h1m-5 1h2m6 0h1m2 0h1m17 0h1m12 0h1m-42 1h1m5 0h1m-2 1h1m35 0h1m-42 1h2m2 0h1m2 0h1m5 0h1m1 0h1m7 0h1m6 0h1m-28 1h1m8 0h3m8 0h1m-23 1h1m12 0h1m3 0h1m-15 1h1m4 0h1m3 0h1m1 0h1m4 0h1m-21 1h1m1 0h1m5 0h1m3 0h1m12 0h1m1 0h1m18 0h1m-47 1h1m1 0h1m1 0h2m5 0h1m-9 1h4m1 0h1m1 0h1m1 0h1m2 0h1m15 0h1m9 0h1m-42 1h1m3 0h1m5 0h2m6 0h1m1 0h1m21 0h1m-35 1h2m17 0h1m-24 1h1m4 0h1m3 0h1m1 0h1m17 0h1m7 0h1m3 0h2m-48 1h1m2 0h1m10 0h3m5 0h2m4 0h1m8 0h1m-33 1h1m3 0h1m4 0h1m9 0h2m1 0h1m-23 1h1m2 0h1m1 0h2m2 0h1m6 0h1m14 0h1m-35 1h1m7 0h1m1 0h2m14 0h1m10 0h1"/><path stroke="#f0a386" d="M24 0.5h1m8 0h1m0 1h1m-7 1h1m10 0h1m-18 2h1m1 0h1m14 0h1m-30 2h1m6 0h1m25 0h1m-44 1h1m42 0h1m-35 1h1m0 1h1m9 0h1m3 1h1m22 0h1m-38 1h1m7 0h1m2 0h3m9 0h1m6 0h1m2 0h1m-35 1h2m13 0h1m14 0h1m1 0h1m-3 1h1m-23 1h1m19 0h1m4 0h1m-10 1h1m1 0h1m8 0h1m4 1h1m-34 1h1m13 0h1m4 0h1m3 0h1m3 0h1m2 0h3m-38 1h3m23 0h1m4 0h2m-26 1h1m2 0h1m18 0h1m3 0h1m4 0h1m-28 1h1m16 0h1m8 0h1m-34 1h1m4 0h1m-9 1h1m7 0h1m1 0h1m1 0h1m3 0h1m17 0h1m2 0h1m-28 1h1m5 1h2m7 0h1m-29 1h1m14 0h1m22 0h1m-38 1h1m11 0h1m3 0h1m4 0h1m5 0h1m1 0h1m-31 1h1m17 0h1m18 0h1m-46 1h1m4 0h1m2 0h2m3 0h1m15 0h1m17 0h1m-8 1h1m6 0h1m-41 1h2m6 0h1m31 0h1m-49 1h3m2 0h1m2 0h2m1 0h1m23 0h1m8 0h1m-34 1h1m13 0h1m5 0h1m4 0h1m-32 1h1m1 0h1m1 0h1m2 0h1m13 0h1m1 0h1m5 0h1m1 0h1m7 0h1m-45 1h1m5 0h1m3 0h1m32 0h1m5 0h1m-47 1h1m1 0h1m1 0h1m1 0h1m2 0h1m1 0h1m1 0h1m6 0h1m-18 1h2m3 0h1m3 0h1m2 0h1m4 0h1m14 0h2m2 0h1m1 0h1m-39 1h1m4 0h1m10 0h2m5 0h1m1 0h1m9 0h1m3 0h1m-41 1h1m1 0h1m1 0h1m2 0h1m14 0h1m15 0h1m-38 1h1m4 0h1m1 0h1m1 0h1m1 0h1m14 0h1m-27 1h1m1 0h1m1 0h3m2 0h2m13 0h1m1 0h1m11 0h1m-43 1h1m5 0h2m10 0h1m8 0h1m-15 1h1m-1 1h1m14 0h1m18 0h1m-43 1h1m5 0h1m4 0h1m8 0h1m19 0h1m-48 1h1m3 0h1m4 0h1m3 0h1m1 0h1m9 0h1m1 0h1m1 0h3m3 0h1m1 0h1m1 0h1m-36 1h1m5 0h1m20 0h2m11 0h1m-38 1h1m10 0h1m4 0h1m-22 1h1m35 0h1m2 0h3m-27 1h2m1 0h2m2 0h1m12 0h1m2 0h1"/><path stroke="#e3826a" d="M30 1.5h1m4 0h1m-12 1h1m1 0h1m3 0h1m4 0h1m5 0h1m1 0h1m-33 3h2m11 0h1m13 0h1m1 0h1m1 0h1m-21 1h1m2 0h1m-14 1h1m6 0h1m4 0h2m18 0h1m-34 1h1m12 0h1m15 0h1m1 0h1m-22 1h1m7 0h1m1 0h1m10 0h2m-18 1h1m4 0h1m9 0h1m-25 1h1m1 0h2m3 0h1m5 0h1m5 0h1m2 0h1m1 0h2m-24 1h1m3 0h1m5 0h2m1 0h2m4 0h1m-27 1h1m3 0h1m3 0h1m3 0h3m2 0h1m3 0h1m2 0h2m-25 1h1m6 0h1m1 0h1m1 0h1m1 0h1m7 0h2m2 0h1m2 0h1m-31 1h3m7 0h1m2 0h1m3 0h1m5 0h1m1 0h3m3 0h1m-30 1h2m3 0h4m1 0h1m2 0h1m3 0h5m7 0h1m1 0h2m-33 1h1m4 0h1m4 0h1m1 0h1m6 0h1m1 0h1m1 0h1m12 0h1m-34 1h1m2 0h1m4 0h1m13 0h3m3 0h1m4 0h1m-39 1h1m1 0h1m10 0h1m1 0h1m5 0h1m8 0h1m-31 1h1m1 0h1m3 0h1m1 0h3m4 0h1m1 0h1m16 0h1m-35 1h1m11 0h2m13 0h1m9 0h2m-40 1h1m10 0h1m20 0h2m4 0h1m-39 1h2m12 0h2m1 0h1m2 0h1m3 0h1m11 0h1m1 0h1m-27 1h1m2 0h1m9 0h1m8 0h2m3 0h1m-34 1h1m9 0h1m1 0h1m2 0h2m3 0h1m12 0h1m-42 1h1m18 0h1m18 0h1m-37 1h1m14 0h1m7 0h1m5 0h1m5 0h1m-28 1h1m10 0h1m5 0h1m-12 1h1m1 0h1m1 0h1m4 0h1m2 0h1m10 0h1m1 0h1m-17 1h1m13 0h1m1 0h1m-40 1h1m11 0h2m10 0h1m1 0h1m3 0h1m1 0h2m3 0h1m-45 1h1m1 0h2m1 0h3m2 0h1m19 0h1m3 0h1m4 0h2m-42 1h3m9 0h1m5 0h1m1 0h1m17 0h2m3 0h1m-43 1h1m4 0h1m3 0h2m2 0h2m1 0h1m3 0h1m4 0h1m2 0h1m5 0h2m3 0h1m5 0h1m-45 1h1m5 0h1m2 0h1m1 0h1m1 0h1m13 0h1m13 0h1m1 0h2m-32 1h1m11 0h1m10 0h2m5 0h1m-38 1h1m1 0h1m3 0h1m1 0h1m2 0h1m8 0h1m12 0h1m-28 1h2m3 0h1m3 0h2m2 0h1m-23 1h1m10 0h1m1 0h1m5 0h1m18 0h1m-32 1h1m4 0h1m20 0h1m-14 1h1m2 0h1m10 0h3m3 0h1m-31 1h1m3 0h1m1 0h1m2 0h1m-20 1h1m8 0h3m4 0h1m1 0h1m22 0h1m-38 1h1m2 0h1m8 0h1m6 0h2m-21 1h1m6 0h1m1 0h1m5 0h1m1 0h1m11 0h1m-40 1h1m15 0h3m4 0h1m2 0h1m6 0h1m3 0h1m6 0h2m-28 1h1m1 0h1m6 0h1m2 0h1m12 0h1m-29 1h1m1 0h1m1 0h1m4 0h1m1 0h1m3 0h1m5 0h1m6 0h1m-38 1h1m1 0h1m6 0h1m5 0h1m3 0h1m2 0h1m1 0h1m6 0h1m3 0h1"/><path stroke="#d6604e" d="M30 0.5h1m6 0h1m-12 1h1m12 0h1m-13 1h1m8 0h1m-9 1h1m5 0h1m-10 1h1m2 0h1m12 0h1m-28 1h1m5 0h1m5 0h1m12 0h1m-28 1h2m6 0h2m2 0h1m16 0h2m-33 1h1m22 0h1m-14 1h1m1 0h1m-8 1h1m3 0h1m5 0h1m13 0h1m-31 1h2m3 0h1m3 0h1m2 0h1m3 0h1m2 0h1m1 0h1m2 0h2m7 0h1m-32 1h1m2 0h1m17 0h1m2 0h1m-25 1h1m9 0h2m2 0h1m1 0h1m3 0h1m5 0h1m2 0h1m1 0h1m-29 1h1m6 0h1m6 0h1m3 0h1m1 0h1m-23 1h1m2 0h1m7 0h1m3 0h2m2 0h1m4 0h1m2 0h1m5 0h1m-32 1h2m1 0h1m1 0h2m2 0h1m1 0h1m3 0h4m14 0h1m1 0h1m-34 1h1m5 0h1m2 0h1m1 0h1m-13 1h1m5 0h1m5 0h1m5 0h1m7 0h1m3 0h1m-31 1h1m4 0h2m3 0h1m8 0h3m8 0h1m-34 1h1m1 0h1m5 0h1m6 0h3m5 0h4m3 0h1m2 0h3m-30 1h1m6 0h1m4 0h1m2 0h1m3 0h2m2 0h1m4 0h2m1 0h1m-36 1h1m10 0h2m1 0h1m2 0h2m13 0h2m-32 1h2m1 0h1m7 0h1m3 0h1m5 0h1m6 0h1m2 0h1m-28 1h2m1 0h1m2 0h1m1 0h1m-18 1h1m9 0h1m1 0h2m1 0h2m6 0h1m-10 1h1m1 0h1m1 0h1m7 0h1m7 0h1m-26 1h1m2 0h1m1 0h1m4 0h1m1 0h3m1 0h1m8 0h1m-35 1h1m4 0h1m1 0h1m7 0h1m-16 1h1m1 0h1m9 0h1m1 0h2m1 0h1m-27 1h1m10 0h1m4 0h1m12 0h1m2 0h1m5 0h1m2 0h2m-43 1h1m9 0h1m1 0h1m9 0h1m2 0h1m2 0h3m3 0h2m1 0h1m2 0h1m2 0h1m-43 1h1m17 0h1m10 0h1m6 0h1m5 0h1m2 0h1m-47 1h1m17 0h3m9 0h1m5 0h2m6 0h1m1 0h2m-37 1h1m1 0h1m7 0h1m1 0h1m4 0h1m2 0h1m4 0h1m4 0h1m4 0h1m-45 1h1m6 0h1m2 0h1m3 0h1m3 0h1m1 0h1m1 0h2m4 0h2m7 0h1m2 0h1m2 0h1m-37 1h1m6 0h4m4 0h1m3 0h1m8 0h1m-40 1h1m8 0h2m2 0h1m11 0h1m1 0h1m2 0h1m1 0h1m10 0h1m1 0h2m-21 1h3m3 0h1m9 0h1m-29 1h1m5 0h1m1 0h1m8 0h1m8 0h1m4 0h1m-24 1h1m1 0h1m2 0h1m1 0h1m13 0h2m-21 1h1m18 0h1m1 0h2m-43 1h1m18 0h3m18 0h1m-21 1h1m2 0h1m15 0h1m-24 1h1m5 0h3m2 0h1m-28 1h1m7 0h1m3 0h2m1 0h1m5 0h1m3 0h1m13 0h2m3 0h1m-32 1h1m3 0h3m8 0h1m3 0h1m1 0h1m2 0h1m-21 1h1m3 0h1m3 0h1m3 0h1m1 0h2m-17 1h1m9 0h1m2 0h1m-11 1h1m4 0h3m-12 1h1m7 0h1m2 0h1"/><path stroke="#c33e3e" d="M26 0.5h1m2 0h1m4 0h2m-13 1h1m1 0h1m2 0h2m2 0h1m5 0h1m2 0h1m-8 1h1m2 0h1m4 0h1m-13 1h1m-16 1h1m1 0h2m1 0h2m1 0h1m9 0h1m3 0h2m-29 1h1m2 0h1m2 0h1m1 0h1m4 0h1m1 0h1m2 0h1m-18 1h1m4 0h1m6 0h1m2 0h1m12 0h2m-26 1h1m10 0h1m12 0h2m1 0h1m-26 1h1m1 0h1m6 0h1m14 0h1m-31 1h2m1 0h1m7 0h2m6 0h1m-20 1h1m8 0h1m8 0h1m-14 1h1m8 0h2m1 0h1m-15 1h1m19 0h3m-26 1h1m1 0h1m9 0h1m6 0h2m6 0h1m-28 1h1m7 0h1m5 0h1m6 0h2m5 1h1m-25 1h1m12 0h1m6 0h2m11 0h1m-35 1h1m2 0h1m1 0h2m1 0h1m3 0h1m4 0h1m-15 1h2m4 0h1m3 0h2m4 0h1m12 0h2m-32 1h2m1 0h1m3 0h1m19 0h1m-32 1h1m1 0h2m11 0h1m1 0h1m2 0h1m2 0h1m4 0h1m1 0h3m-29 1h1m1 0h2m7 0h1m12 0h1m3 0h2m-35 1h1m2 0h1m10 0h2m9 0h1m3 0h1m4 0h1m-29 1h1m11 0h1m1 0h1m15 0h1m1 0h1m-30 1h1m9 0h3m3 0h1m9 0h3m-39 1h1m8 0h5m9 0h1m6 0h1m3 0h1m1 0h1m-36 1h1m2 0h1m1 0h1m1 0h1m2 0h1m6 0h2m17 0h1m-47 1h1m12 0h1m5 0h1m10 0h1m15 0h2m-32 1h1m1 0h4m23 0h1m-36 1h2m1 0h2m4 0h2m1 0h1m21 0h1m-29 1h1m8 0h1m8 0h1m4 0h1m-29 1h1m11 0h1m2 0h1m2 0h2m1 0h1m4 0h1m2 0h1m4 0h1m-35 1h1m1 0h1m1 0h1m9 0h1m3 0h1m3 0h1m5 0h2m2 0h1m2 0h1m-38 1h1m16 0h1m4 0h1m4 0h1m1 0h1m-20 1h1m4 0h1m3 0h1m10 0h1m-17 1h2m6 0h1m4 0h2m1 0h2m1 0h2m1 0h1m-27 1h1m1 0h1m3 0h1m1 0h1m-20 1h1m9 0h1m5 0h1m14 0h1m-23 1h1m4 0h2m7 0h1m8 0h2m-24 1h1m3 0h1m1 0h1m2 0h1m2 0h1m-12 1h1m2 0h1m3 0h1m3 0h1m9 0h1m-16 1h1m-2 1h1m2 0h4m12 0h1m2 0h1m-4 1h1m-30 1h1m10 0h1m-1 2h1m-21 1h1m19 0h1m2 0h1m2 0h1m12 0h1m-22 1h1m1 0h1m5 0h1"/><path stroke="#b01d2e" d="M27 1.5h1m3 0h1m1 0h1m-11 1h1m1 0h1m3 0h1m1 0h1m8 0h1m-19 1h2m-11 1h2m4 0h1m7 0h1m12 0h1m1 0h1m-24 1h1m1 0h2m4 0h1m-9 1h1m-7 1h1m3 0h2m3 0h2m8 0h1m-21 1h1m1 0h1m1 0h1m4 0h1m3 0h1m-8 1h1m9 0h1m-16 1h1m1 0h1m1 0h1m1 0h1m7 0h1m4 0h1m7 0h1m-29 1h2m1 0h1m15 0h1m2 0h1m3 0h1m-27 1h2m2 0h2m2 0h1m7 0h1m14 0h1m-26 1h2m7 0h1m-10 1h1m2 0h1m-6 1h1m-5 1h1m16 0h1m-6 1h1m23 1h1m-25 2h1m-8 1h1m23 0h1m1 0h1m-29 1h1m13 0h1m4 0h2m5 0h1m-29 1h4m26 0h1m-31 1h1m3 0h3m-7 1h1m1 0h1m19 0h1m12 0h1m-36 1h1m3 0h1m6 0h1m10 0h1m13 0h1m-37 1h1m1 0h1m3 0h1m2 0h2m4 0h3m12 0h2m-33 1h1m20 0h1m6 0h1m3 0h1m2 0h1m1 0h1m-31 1h1m2 0h1m7 0h1m1 0h1m6 0h1m6 0h1m-37 1h2m1 0h1m1 0h1m2 0h4m3 0h1m17 0h1m-31 1h1m4 0h1m6 0h1m11 0h1m-23 1h1m2 0h1m10 0h1m15 0h1m-30 1h2m1 0h1m1 0h1m2 0h1m10 0h1m10 0h2m-33 1h1m20 0h1m2 0h1m-11 1h1m-18 1h1m6 0h1m10 3h1m10 0h2m-21 1h1m2 0h1m3 0h1m-8 1h1m5 0h1m2 0h2m-11 1h1m-1 1h1m1 0h1m4 0h1m-6 1h1"/><path stroke="#8e1428" d="M31 0.5h2m3 0h1m-13 1h1m11 0h2m-19 1h1m2 0h1m10 0h1m-5 1h1m-14 1h1m-3 2h1m3 0h1m-5 1h1m6 0h1m-12 1h1m4 0h1m2 0h1m-3 1h1m-1 1h1m5 0h2m15 0h1m-25 2h1m2 0h1m7 0h1m-12 1h1m-2 1h1m1 0h1m1 1h1m7 0h1m-3 1h1m0 3h1m-14 2h2m4 2h2m25 0h1m-34 1h1m1 0h1m28 0h1m-32 1h1m1 0h1m3 0h1m24 0h1m-32 1h1m25 0h1m4 0h1m4 0h1m-32 1h1m3 0h1m2 0h1m-1 1h1m2 0h1m-11 1h1m11 0h1m5 0h1m-14 1h2m14 0h1m-24 1h2m2 0h2m-4 1h1m1 0h1m3 0h2m10 0h1m-18 1h1m12 0h1m17 0h1m-45 1h1m22 1h1m10 2h1m4 0h1m-17 1h1m11 1h1m-20 1h1m24 1h1m-17 5h1"/><path stroke="#6d0a22" d="M32 2.5h1m-7 2h1m9 0h1m-22 1h1m1 0h1m-7 2h1m4 0h1m3 0h1m-8 1h1m9 0h1m-11 1h1m3 0h1m-6 1h1m16 1h1m5 2h1m-6 1h1m-14 2h1m4 3h1m-10 3h1m4 0h1m11 0h1m-16 2h2m16 0h1m-17 1h1m16 0h1m-20 1h1m3 0h1m24 0h1m-33 1h1m36 0h1m-35 1h2m-1 1h1m10 0h1m18 1h1m-33 1h1m12 1h1m2 2h1m-23 1h1m18 0h1m-7 1h1m8 2h1m13 0h1"/></g><use href="#G" clip-path="url(#T)" fill="none" stroke="#d8d2d0" stroke-opacity="0.85" stroke-width="0.17"/></g><text x="118.7" y="1036.0" font-size="22" fill="#111">chr11: 104576332-104579532</text><g transform="translate(458.50 1048.30) scale(4.670)"><g fill="none" stroke-width="1.02"><path stroke="#2c5a98" d="M4 14.5h1m1 1h1m-2 1h1m-4 2h1m5 0h1m-7 1h1m-2 1h1m5 1h1"/><path stroke="#3b73ac" d="M2 14.5h1m2 0h1m-2 1h2m-3 1h2m0 1h1m-5 1h1m2 0h1m-2 1h1m-2 2h1m2 0h1"/><path stroke="#4a8cc0" d="M2 16.5h1m5 0h1m-9 1h1m1 0h1m1 0h1m4 0h1m37 0h1m-48 1h1m2 0h1m2 0h1m2 0h1m23 0h1m-34 1h1m1 1h2m1 0h1m0 1h1m0 1h1m-7 1h1"/><path stroke="#6fa8ce" d="M5 4.5h1m0 2h1m-4 8h1m-3 1h3m3 0h1m-2 1h1m-6 1h1m5 0h2m-4 1h1m-5 1h1m2 0h2m2 0h1m-5 1h1m-2 1h1m3 2h1m0 22h1"/><path stroke="#94c4dd" d="M41 5.5h1m4 3h1m-9 3h1m7 1h1m-47 2h1m5 0h1m1 1h1m35 0h1m-44 1h1m5 0h1m-2 1h1m0 1h1m-2 1h2m-8 1h1m6 0h1m-4 1h1m-1 2h2m35 8h1m1 10h1m-3 4h1m-28 3h1m-7 1h1m5 0h1"/><path stroke="#b2d4e6" d="M29 10.5h2m-30 2h1m47 0h1m-16 1h1m-28 1h1m-8 1h1m45 0h1m0 1h1m-14 1h1m11 1h1m-9 1h1m-39 2h1m-1 1h2m1 0h1m-2 1h1m2 1h1m32 0h1m-39 1h1m6 1h1m26 0h1m2 0h1m-37 11h2m39 0h1m-2 2h1m-31 1h1m11 0h1m-4 1h1m23 0h1m-2 1h2m-42 1h1m2 0h1m5 0h1m16 1h1m-25 1h1m24 0h2m-28 1h2m1 0h2m1 0h1m34 1h1m-42 1h1m3 0h2m14 0h1m-2 1h1"/><path stroke="#d0e4ef" d="M2 7.5h1m30 0h1m6 0h1m0 1h1m-14 1h1m-1 2h1m1 0h1m14 0h1m2 0h1m-21 1h1m10 1h1m-11 1h1m15 0h1m2 0h1m-13 1h1m9 2h1m-41 3h1m1 0h1m27 0h1m-28 1h1m22 0h1m-31 1h1m1 0h1m1 0h1m37 0h1m-39 1h1m1 0h1m34 0h1m2 0h1m-47 1h1m3 0h1m2 0h1m29 0h1m-36 1h1m7 0h1m29 0h1m5 0h1m-23 3h1m-19 3h1m38 3h1m-15 3h1m-1 2h1m-32 1h1m39 0h1m-29 1h1m18 0h2m9 1h1m6 0h1m-50 1h1m6 0h1m3 0h1m-7 1h1m5 0h1m7 0h1m24 0h1m2 0h1m-41 1h1m-7 1h2m18 0h1m9 0h1m-25 1h1m6 0h1m10 0h1m-26 1h1m2 0h1m1 0h2m-7 1h1m4 0h1m1 0h1m1 0h2m19 0h1"/><path stroke="#e2ecf0" d="M31 0.5h1m9 1h1m-17 4h1m18 0h1m-6 1h3m2 0h1m-20 1h1m6 0h1m6 0h1m-17 1h1m19 0h1m-13 2h1m1 0h2m6 0h1m-15 1h1m4 0h1m7 0h1m1 0h1m3 0h2m1 0h1m-23 1h1m3 0h1m3 0h1m1 0h1m4 0h1m4 0h1m-45 1h1m26 0h1m14 0h1m-45 1h1m33 0h2m1 0h1m8 0h1m-26 1h1m9 0h1m1 0h1m5 0h1m4 0h1m3 0h1m-19 1h1m3 0h1m12 0h1m-13 1h2m1 0h1m8 0h1m-1 1h1m-40 1h1m17 0h1m16 0h1m-36 1h1m31 0h1m3 0h3m-5 1h1m-36 1h1m25 0h2m1 0h1m8 0h1m-47 1h1m33 0h1m-34 1h2m3 0h1m28 0h1m12 0h1m-46 1h1m2 0h2m26 0h1m0 1h1m-28 2h1m31 0h1m7 0h1m-45 1h2m26 0h1m14 0h1m-39 1h1m-5 2h1m26 0h1m8 0h1m-41 1h1m34 1h1m9 0h1m-38 1h1m36 0h1m1 0h1m-48 1h1m1 0h1m1 0h2m21 0h1m16 0h2m-34 1h1m14 0h1m14 0h1m-39 1h1m24 0h1m10 0h2m2 0h1m-45 1h2m7 0h1m21 0h1m9 0h1m1 0h1m-40 1h1m6 0h1m29 0h2m1 0h1m1 0h1m-48 1h1m3 0h1m21 0h1m14 0h1m4 0h2m-48 1h1m6 0h1m4 0h1m19 0h1m14 0h1m-32 1h1m26 0h2m-41 1h1m1 0h1m3 0h1m3 0h1m15 0h2m16 0h1m-43 1h1m4 0h1m6 0h2m3 0h1m2 0h1m2 0h1m7 0h1m-27 1h1m2 0h1m8 0h1m2 0h2m4 0h1m11 0h2m-42 1h2m2 0h1m1 0h1m1 0h1m4 0h1m2 0h1m2 0h1m-23 1h1m5 0h1m2 0h1m12 0h1m3 0h2m15 0h1m-39 1h1m5 0h1m3 0h1m5 0h1m3 0h1m1 0h1"/><path stroke="#f5f4f2" d="M9 0.5h1m25 0h1m-13 2h1m19 0h1m-22 1h1m19 1h1m-37 1h1m31 0h2m-14 1h1m-8 1h1m21 0h1m2 0h1m-3 1h1m-4 1h1m2 0h1m-17 1h2m11 0h2m6 0h1m-23 1h1m8 0h2m8 0h1m-16 1h1m2 0h1m1 0h1m3 0h3m2 0h1m-44 1h1m1 0h1m2 0h2m21 0h1m2 0h2m3 0h1m11 0h1m-19 1h3m4 0h1m1 0h1m4 0h1m1 0h1m-20 1h1m5 0h1m7 0h1m1 0h1m-17 1h1m4 0h3m1 0h2m11 0h1m-47 1h1m26 0h1m4 1h1m1 0h1m11 0h1m-22 1h1m8 0h1m9 0h1m-20 1h2m5 0h1m-35 1h1m6 0h1m1 0h1m27 0h2m4 0h2m-10 1h1m-34 1h1m6 0h1m-8 1h1m25 0h2m2 0h1m-5 1h1m6 0h2m5 0h1m-40 1h1m3 0h1m20 0h2m1 0h2m4 0h2m3 1h2m3 0h1m-48 1h1m26 0h1m-2 1h1m1 0h1m3 0h1m14 0h1m-48 1h1m5 0h1m30 0h2m2 0h1m-12 1h1m12 0h1m-3 1h1m3 0h1m-44 1h1m23 0h1m1 0h2m2 0h1m1 0h1m3 0h1m4 0h2m-45 1h1m1 0h1m24 0h2m7 0h1m2 0h1m-14 1h2m1 0h2m8 0h1m1 0h2m-42 1h1m9 0h1m17 0h2m10 0h1m-43 1h1m2 0h1m8 0h1m17 0h1m1 0h1m6 0h1m-38 1h1m3 0h1m1 0h1m4 0h1m8 0h1m2 0h2m2 0h1m14 0h1m-40 1h1m17 0h1m4 0h1m14 0h1m1 0h1m-40 1h2m7 0h1m9 0h1m4 0h1m-28 1h1m2 0h1m1 0h3m2 0h1m13 0h1m-27 1h1m3 0h2m1 0h1m7 0h1m5 0h1m-14 1h2m2 0h1m35 0h1m-50 1h1m1 0h1m6 0h1m3 0h1m3 0h1m6 0h1m3 0h1m-28 1h1m2 0h1m8 0h1m3 0h1m10 0h1m5 0h1m1 0h1m1 0h2m7 0h1m-45 1h1m5 0h1m2 0h2m1 0h1m1 0h1m1 0h2m1 0h1m2 0h1m3 0h1m4 0h1m1 0h1m-37 1h1m5 0h1m6 0h1m1 0h1m3 0h1m1 0h1m4 0h4m2 0h1m-31 1h1m13 0h1m1 0h2m1 0h1m4 0h1m15 0h1m-41 1h2m11 0h1m5 0h1m3 0h1m1 0h1m1 0h1"/><path stroke="#f7e5db" d="M36 1.5h1m2 0h1m-29 1h1m21 0h2m3 0h1m2 0h1m-21 2h1m14 0h1m4 0h1m1 0h1m-37 1h1m13 0h1m21 0h1m3 0h1m-25 1h1m18 0h2m2 0h2m1 0h1m-50 1h1m47 0h1m-23 1h1m21 0h2m-25 1h1m5 0h1m9 0h1m2 0h1m1 0h1m2 0h1m-50 1h2m-2 1h1m22 0h1m7 0h1m7 0h1m1 0h1m-37 1h1m18 0h3m3 0h1m2 0h1m2 0h1m4 0h1m-41 1h1m2 0h1m28 0h1m1 0h1m1 0h1m9 0h1m-14 1h1m14 0h1m-24 1h1m2 0h1m5 0h1m6 0h1m4 0h1m-10 1h1m1 0h1m1 0h1m2 0h2m-20 1h1m3 0h3m4 0h1m10 0h1m-22 1h1m5 0h1m1 0h1m2 0h1m-11 1h1m2 0h1m3 0h1m5 0h1m5 0h1m-19 1h1m1 0h2m6 0h1m2 0h1m4 0h1m-23 1h3m11 0h2m-33 1h1m18 0h2m11 0h1m1 0h1m-35 1h1m17 0h2m19 0h1m-41 1h2m18 0h1m5 0h1m1 0h1m6 0h1m-43 1h1m2 0h2m21 0h1m4 0h1m11 0h1m2 0h1m-48 1h1m1 0h2m40 0h3m1 0h2m-50 1h1m26 0h2m2 0h1m1 0h1m12 0h1m2 0h1m-47 1h1m3 0h1m17 0h1m4 0h1m4 0h1m9 0h1m1 0h1m-46 1h1m3 0h1m21 0h1m5 0h1m6 0h1m1 0h3m3 0h1m-48 1h3m27 0h1m14 0h1m-21 1h1m8 0h2m4 0h1m-39 1h1m17 0h1m6 0h1m4 0h1m4 0h2m-34 1h1m17 0h1m5 0h1m2 0h1m7 0h2m4 0h1m-49 1h1m4 0h1m2 0h2m5 0h1m25 0h1m-42 1h1m4 0h1m1 0h1m30 0h1m2 0h1m2 0h2m3 0h1m-50 1h1m6 0h1m2 0h2m8 0h1m11 0h1m6 0h3m-38 1h2m2 0h1m13 0h1m4 0h1m1 0h1m10 0h1m-40 1h1m2 0h1m2 0h1m8 0h2m5 0h1m3 0h1m3 0h1m-32 1h1m2 0h1m8 0h2m5 0h1m1 0h2m6 0h1m-29 1h2m6 0h1m3 0h1m14 0h1m2 0h1m-31 1h2m2 0h1m9 0h2m7 0h1m5 0h1m11 0h1m-41 1h3m4 0h3m2 0h1m2 0h1m8 0h1m-26 1h1m3 0h1m2 0h1m6 0h1m1 0h1m2 0h1m1 0h1m1 0h2m3 0h1m1 0h1m16 0h1m-42 1h1m4 0h1m8 0h1m4 0h2m-26 1h2m5 0h2m1 0h1m1 0h2m5 0h2m2 0h1m6 0h1m7 0h1m5 0h1m-47 1h1m5 0h1m9 0h1m1 0h1m5 0h1m3 0h1m6 0h1m1 0h1m-37 1h3m5 0h1m6 0h1m1 0h1m12 0h1m12 0h1m-34 1h3m1 0h1m1 0h1m2 0h1m4 0h1m3 0h3m9 0h1m1 0h1m-40 1h1m6 0h1m8 0h1m3 0h1m6 0h1m9 0h1"/><path stroke="#f9d6c4" d="M7 0.5h2m27 0h2m-30 1h1m14 0h1m2 0h1m8 0h1m-31 1h1m13 0h1m17 0h1m1 0h2m-18 1h1m1 1h3m5 0h1m4 0h1m6 0h2m-23 1h1m1 0h1m1 0h1m11 0h1m1 0h1m-42 1h1m19 0h1m4 1h1m22 0h1m-49 1h1m1 0h1m5 0h1m14 0h1m15 0h1m-11 1h1m12 0h1m4 0h1m-24 1h1m2 0h1m3 0h1m9 0h1m-17 1h1m16 0h1m-42 1h2m17 0h1m1 1h2m4 0h1m16 0h1m2 0h1m-26 1h3m1 0h1m12 0h1m-27 1h1m9 0h1m2 0h1m1 0h2m6 0h2m8 0h1m-19 1h1m8 0h1m-14 1h1m14 0h1m3 0h1m-25 1h1m16 0h1m1 0h2m5 0h1m-22 1h1m8 0h1m3 0h1m3 0h1m2 0h1m2 0h1m-13 1h1m11 0h1m-2 1h1m-39 1h1m12 0h1m6 0h2m10 0h1m6 0h1m-26 1h1m4 0h3m-22 1h1m13 0h2m1 0h1m16 0h4m1 0h1m-42 1h2m21 0h1m3 0h1m12 0h2m-49 1h1m25 0h2m18 0h1m-47 1h1m3 0h3m3 0h1m12 0h2m13 0h1m5 0h1m-44 1h1m2 0h1m20 0h1m2 0h1m3 0h1m15 0h1m-50 1h1m2 0h1m3 0h1m18 0h1m4 0h1m3 0h1m10 0h1m-47 1h1m5 0h1m1 0h1m18 0h1m3 0h1m5 0h1m2 0h1m5 0h1m2 0h1m-48 1h1m6 0h2m13 0h1m8 0h1m1 0h1m2 0h1m4 0h1m4 0h1m-49 1h1m22 0h1m1 0h1m4 0h2m1 0h1m3 0h1m9 0h2m-49 1h1m3 0h2m3 0h1m26 0h3m1 0h2m4 0h1m-45 1h1m1 0h1m1 0h2m2 0h1m10 0h1m5 0h1m4 0h1m10 0h2m2 0h2m-48 1h1m2 0h1m8 0h1m10 0h2m6 0h1m14 0h1m-40 1h1m4 0h1m12 0h1m2 0h1m8 0h1m4 0h1m-38 1h1m4 0h1m3 0h1m3 0h1m1 0h1m4 0h1m14 0h1m3 0h1m-43 1h1m28 0h1m7 0h1m2 0h1m-40 1h1m6 0h1m3 0h1m1 0h1m2 0h1m6 0h1m12 0h1m-38 1h2m5 0h1m3 0h1m11 0h1m2 0h1m11 0h1m2 0h1m1 0h1m-33 1h1m3 0h1m3 0h1m-10 1h1m7 0h1m3 0h1m2 0h3m-29 1h1m1 0h1m9 0h1m3 0h1m8 0h2m-21 1h1m7 0h1m3 0h1m4 0h1m17 0h1m-44 1h1m15 0h1m10 0h1m7 0h1m6 0h1m-10 1h1m12 0h1m-36 1h1m12 0h1m5 0h1m2 0h1m2 1h1m2 0h1m-39 1h1m11 0h1m3 0h3m17 0h1m2 0h1m1 0h1"/><path stroke="#f4bca5" d="M4 0.5h1m25 0h1m2 0h2m-32 1h1m20 0h1m4 0h1m8 0h1m-39 1h1m12 0h1m21 0h2m-26 2h1m1 0h1m3 0h1m4 0h1m1 0h1m14 0h2m-33 1h1m3 0h1m9 0h2m3 0h1m18 0h1m1 0h1m-1 1h1m-27 1h3m18 0h1m2 0h1m-26 1h2m24 0h1m-25 1h2m4 0h1m17 0h1m-46 1h1m18 0h2m6 1h1m6 0h1m-37 1h1m22 0h1m1 1h1m1 0h1m10 0h1m-19 1h1m6 0h1m14 0h1m-24 1h1m8 1h1m14 0h2m-29 1h1m7 0h2m16 0h3m-19 1h2m16 0h2m-33 1h1m8 0h2m2 1h1m11 0h1m3 0h1m-19 1h2m5 0h1m10 0h1m3 0h2m1 0h1m-26 1h1m2 0h1m12 0h1m4 0h1m2 0h1m-5 1h1m4 0h1m-32 1h1m12 0h2m-21 1h1m2 0h1m10 0h1m1 0h1m-23 1h1m2 0h1m16 0h1m4 0h1m11 0h1m-42 1h3m3 0h1m20 0h1m-30 1h1m3 0h1m1 0h1m2 0h1m33 0h1m-36 1h1m10 0h1m4 0h1m5 0h1m5 0h1m3 0h1m-29 1h1m10 0h1m2 0h1m3 0h1m4 0h2m4 0h1m1 0h1m1 0h1m-45 1h1m2 0h2m1 0h1m12 0h1m1 0h1m7 0h1m1 0h1m1 0h1m11 0h2m-47 1h2m3 0h3m4 0h1m6 0h1m3 0h1m1 0h1m8 0h2m1 0h1m4 0h3m3 0h1m-48 1h1m5 0h1m3 0h1m7 0h2m1 0h2m1 0h1m22 0h1m-39 1h1m4 0h2m5 0h2m1 0h1m6 0h1m4 0h2m9 0h1m-48 1h1m3 0h1m1 0h1m1 0h3m1 0h1m2 0h2m1 0h1m2 0h1m2 0h1m2 0h1m7 0h1m1 0h1m-26 1h3m4 0h1m1 0h2m2 0h1m16 0h1m-38 1h1m8 0h1m3 0h1m2 0h3m18 0h1m-36 1h1m1 0h1m2 0h1m4 0h3m2 0h1m-18 1h1m6 0h1m1 0h1m8 0h1m-7 1h1m4 0h1m7 0h1m-12 1h1m1 0h1m1 0h1m2 0h2m-15 1h1m8 0h1m2 0h1m3 0h1m-11 1h1m1 0h1m2 0h1m-26 1h1m28 2h1m7 0h1m2 1h1m-10 1h1m4 0h2m-1 1h2"/><path stroke="#f0a386" d="M24 0.5h1m0 1h1m6 0h2m3 0h1m2 0h1m-19 1h1m4 0h1m1 0h2m11 0h1m-14 1h2m-22 1h1m13 0h1m5 0h1m7 0h1m-28 1h2m3 0h1m1 0h1m1 0h1m2 1h1m1 0h1m-4 1h1m20 0h1m4 0h1m-28 1h1m4 0h1m-6 1h3m0 1h2m-16 1h1m12 0h1m1 0h1m-16 2h1m12 0h1m-12 1h2m5 0h1m3 0h1m10 0h1m-23 1h1m11 0h1m13 0h1m-25 1h1m2 0h1m3 0h1m8 0h1m-11 2h2m3 0h1m17 0h1m-29 1h1m9 0h2m14 0h2m3 0h1m-26 1h1m4 0h1m18 0h1m-23 1h1m3 1h1m20 0h1m-27 1h1m3 0h2m18 0h1m-26 1h1m1 0h1m0 1h1m1 0h1m7 0h1m11 0h1m-41 1h1m5 0h1m12 0h1m11 0h1m-28 1h1m16 0h1m20 0h1m-47 2h1m7 0h1m2 0h1m9 0h2m-14 1h2m7 0h1m1 0h1m2 0h2m7 0h2m9 0h1m-42 1h1m21 0h1m14 0h1m4 0h1m3 0h1m-47 1h1m11 0h1m5 0h1m5 0h1m-22 1h1m4 0h1m3 0h2m5 0h1m24 0h1m-36 1h2m6 0h1m1 0h1m8 0h1m10 0h1m-40 1h1m18 0h1m-14 1h1m12 0h1m-14 1h2m3 0h1m3 0h1m-19 1h1m11 0h1m5 0h1m9 0h1m-23 1h1m2 0h1m8 0h1m5 0h1m1 0h1m-11 1h1m3 0h3m-12 1h1m11 1h1m-5 1h1m-17 1h1m19 0h1m-4 1h1"/><path stroke="#e3826a" d="M26 0.5h1m4 1h1m2 0h1m-11 1h1m3 0h1m2 0h1m-20 2h1m1 0h1m1 0h1m1 0h3m-12 1h1m6 0h1m3 0h1m-7 1h1m3 0h2m5 0h1m-15 1h1m-3 2h1m-1 1h1m0 1h1m2 0h2m6 0h1m-18 1h1m4 0h1m0 1h1m3 0h1m5 0h1m5 0h1m-17 1h1m6 0h1m-4 1h1m-3 1h1m1 0h1m2 0h1m4 0h3m1 0h1m-10 1h2m3 0h1m12 0h1m-25 1h2m4 0h1m5 0h1m-13 1h1m-1 1h2m9 0h3m2 0h1m-17 1h2m7 0h1m1 1h1m-6 1h1m2 0h1m1 0h1m24 0h1m-37 1h1m8 1h2m-12 1h1m1 0h1m9 0h1m-13 1h1m1 0h1m6 0h1m3 0h1m6 0h1m-21 1h3m7 0h1m25 0h1m-37 1h1m2 0h1m7 0h1m17 0h1m-35 1h1m8 0h1m5 0h1m-13 1h1m10 0h1m3 0h1m2 0h1m12 0h1m-31 1h4m6 0h1m-7 1h2m3 0h1m13 0h1m-19 1h1m4 0h1m10 0h1m-16 1h2m4 0h1m-18 1h1m13 0h2m5 0h1m21 0h1m-18 3h1m-4 1h1m2 3h1m-16 1h1m2 0h1"/><path stroke="#d6604e" d="M28 1.5h1m1 0h1m-6 1h2m5 0h1m-5 1h1m-21 1h1m6 0h1m12 0h1m-16 1h2m-4 1h1m8 0h1m-9 1h1m1 0h1m5 0h1m-10 1h1m1 0h1m5 1h1m-10 1h1m8 0h1m-2 1h1m14 0h1m-17 1h1m2 0h1m-6 1h1m3 0h1m-6 1h1m4 0h1m3 0h1m-11 1h1m2 0h1m4 0h1m-7 1h1m9 0h1m-12 1h2m3 0h3m-6 1h1m1 0h1m6 0h1m17 0h1m-25 1h1m-7 1h1m5 0h1m19 0h1m-26 1h1m1 0h2m1 0h1m1 0h1m1 0h1m-13 1h1m9 0h1m1 1h1m-10 1h1m6 0h1m1 0h1m2 0h1m-9 1h1m3 0h1m1 0h1m-2 1h1m1 0h1m-13 1h1m1 0h1m2 0h1m2 0h2m-9 1h1m4 0h1m2 0h1m4 0h1m16 0h1m-29 1h1m-4 1h1m2 0h1m5 0h1m25 0h1m-49 1h1m11 0h2m1 0h1m1 0h1m3 0h1m-8 1h1m2 0h1m-8 1h1m8 0h1m8 0h1m-11 1h1m6 0h1m-9 2h1m-3 2h1m-8 2h1"/><path stroke="#c33e3e" d="M29 0.5h1m-21 1h1m24 2h1m-25 3h1m2 0h1m2 0h1m-7 1h1m7 0h1m0 1h1m-10 1h1m4 0h1m2 0h1m-8 1h1m6 0h1m-8 1h1m7 0h2m-2 1h1m2 0h1m-7 1h1m4 0h1m-9 1h1m7 0h1m-10 1h1m4 0h1m2 0h1m3 0h1m-6 1h1m3 1h1m-11 1h1m1 0h1m6 0h1m-11 1h1m4 0h2m1 0h1m-8 2h1m-2 1h2m1 0h1m1 0h1m-7 1h1m1 0h1m1 0h1m3 0h1m-5 1h1m1 0h1m1 0h1m-4 1h1m2 0h1m-6 1h2m3 0h3m-9 2h1m3 0h1m5 0h1m-13 1h1m2 0h1m2 0h1m-3 1h1m1 0h1m-7 1h1m4 0h1m1 0h1m-3 1h1m1 0h1"/><path stroke="#b01d2e" d="M32 0.5h1m-15 5h1m-7 1h1m2 0h1m1 0h1m-2 1h1m-7 1h1m1 0h1m3 0h1m-4 1h1m3 0h1m-6 1h1m3 0h1m3 0h1m-11 2h2m4 0h1m-6 1h1m3 1h1m2 2h1m2 0h1m-9 1h1m7 2h1m-7 1h1m2 0h1m2 0h1m-7 1h1m2 0h1m-1 1h1m1 0h1m4 0h1m-14 1h1m1 0h1m-2 1h1m-1 1h1m-1 1h1m1 2h1m2 0h1m-4 1h1m4 0h1m-7 2h1m2 2h1m-1 4h1"/><path stroke="#8e1428" d="M27 1.5h1m-15 6h1m3 0h1m-1 1h2m-8 1h1m2 0h1m1 0h1m-4 1h2m2 0h1m-3 1h1m1 0h1m-4 1h1m3 0h1m-7 1h1m4 0h2m-3 1h1m-1 5h1m-3 1h1m-1 2h1m1 1h1m1 0h1m-5 2h1m2 0h1m-1 1h2m-3 1h1m3 0h1m-5 1h1m4 0h1m-4 1h1m-1 1h1m0 5h1"/><path stroke="#6d0a22" d="M15 7.5h1m-2 1h2m-4 1h1m2 1h1m-4 1h1m3 0h1m-5 1h2m1 0h1m-3 1h1m4 2h1m-2 5h1m-2 2h1m2 0h1m-8 2h1m3 0h1m-1 2h1m-3 1h1m2 0h1"/></g><use href="#G" clip-path="url(#T)" fill="none" stroke="#d8d2d0" stroke-opacity="0.85" stroke-width="0.17"/></g><text x="457.2" y="1036.0" font-size="22" fill="#111">chr11: 5895332-5897532</text><g transform="translate(790.00 1048.30) scale(4.670)"><g fill="none" stroke-width="1.02"><path stroke="#3b73ac" d="M3 16.5h1"/><path stroke="#4a8cc0" d="M49 8.5h1m-1 3h1m-47 3h1"/><path stroke="#6fa8ce" d="M47 5.5h1m-1 1h2m-1 2h1m-2 2h1m-45 11h1m0 6h1"/><path stroke="#94c4dd" d="M46 6.5h1m-1 1h1m1 0h2m-2 4h1m-2 1h1m-41 2h1m-6 1h1m2 0h1m-3 2h1m1 0h1m-5 3h1m4 0h1m-6 1h1m0 3h1m1 0h1m1 1h2m-2 2h1"/><path stroke="#b2d4e6" d="M48 5.5h1m-2 2h1m-1 2h1m-1 2h1m-48 1h1m3 1h1m42 0h1m-44 2h1m-3 1h1m4 0h1m-7 1h2m0 1h1m1 0h1m1 0h1m-8 1h1m1 1h1m1 1h2m-2 1h1m2 0h2m-7 1h1m4 0h1m1 0h1m-3 1h1m-6 1h1m-3 1h1m6 0h1m-1 1h1"/><path stroke="#d0e4ef" d="M46 4.5h1m-1 1h1m2 1h1m-2 3h2m-50 2h1m45 0h1m-46 1h5m-6 1h1m1 0h1m2 0h1m-5 1h2m1 0h1m1 0h1m-1 1h1m-3 1h1m-5 1h1m0 1h2m1 0h1m-2 1h1m1 0h3m-5 1h2m2 0h1m-1 1h1m-8 1h1m5 0h1m-2 1h2m-4 1h1m-1 1h1m-2 1h1m2 1h1m3 13h1"/><path stroke="#e2ecf0" d="M4 0.5h1m41 8h2m-2 1h1m-46 4h1m1 0h1m2 0h1m41 0h1m-49 2h2m5 0h1m-7 1h1m3 0h2m1 0h1m-5 1h1m3 0h1m18 0h1m-22 1h1m-5 1h1m1 0h1m0 1h1m2 0h2m-10 1h1m1 0h1m3 0h1m1 0h1m-7 1h1m-2 1h1m1 0h2m3 0h1m-9 1h1m4 0h2m1 0h1m-9 1h1m4 0h1m-3 1h3m2 1h1m-5 1h3m-2 1h1m-4 1h1m-2 1h1m3 2h1m14 4h1m-3 2h1"/><path stroke="#f5f4f2" d="M9 0.5h1m-5 4h1m-6 3h1m0 1h1m-1 2h1m47 2h1m-50 2h1m4 0h1m-3 1h1m15 1h1m-14 1h2m1 0h1m13 0h1m-16 1h2m-9 1h1m6 0h1m0 2h1m-9 1h1m1 0h1m6 0h1m-11 1h1m9 0h1m11 0h1m-22 1h1m7 0h2m-7 1h1m3 0h1m-8 1h1m4 0h1m2 0h1m-10 1h1m1 0h1m-2 1h2m4 0h1m-7 1h1m1 0h1m2 0h1m3 0h1m-6 2h1m0 2h1m13 2h1m1 0h1m-17 4h1m16 9h1"/><path stroke="#f7e5db" d="M3 1.5h1m1 1h1m6 2h1m-6 1h2m35 2h1m-42 1h1m6 1h1m-11 1h1m9 3h1m23 0h1m10 0h2m2 0h1m-2 1h1m-41 1h1m-9 3h1m8 1h1m-10 1h1m10 0h1m4 3h1m2 0h1m10 0h1m-19 1h1m9 0h1m-22 1h1m8 1h1m-8 1h1m-4 1h1m6 1h3m21 0h1m-28 1h1m1 0h1m1 0h1m-6 1h1m5 2h2m-7 1h3m1 0h1m0 1h1m21 0h1m-28 1h1m2 0h1m-2 1h1m8 0h1m-7 1h1m10 1h1m-21 1h1m19 1h1m-15 1h1m2 1h1m6 0h1m3 0h1m7 0h1m7 2h1m-36 2h1"/><path stroke="#f9d6c4" d="M7 0.5h1m1 1h1m18 0h1m-18 1h1m31 0h1m-36 2h1m36 0h1m-40 1h1m6 0h1m-13 1h1m4 0h1m-5 1h1m8 0h1m11 1h1m19 1h1m-42 1h1m6 0h1m35 1h1m-37 1h1m36 0h1m-38 1h1m15 0h1m23 1h1m-38 2h1m1 1h1m21 0h1m5 0h1m-31 1h1m-4 4h1m11 0h1m7 1h1m-21 2h1m12 0h1m-14 2h3m8 0h1m-18 1h1m4 0h2m13 0h1m-22 1h1m1 0h1m16 0h1m4 0h1m-22 1h1m1 0h1m1 0h1m8 0h1m3 0h1m-23 1h1m3 0h1m1 0h1m4 0h1m11 0h1m-24 2h1m3 0h1m15 0h1m-11 1h1m-7 1h1m1 0h1m8 0h1m-8 1h1m7 0h1m1 0h1m-12 1h2m5 0h1m-12 1h1m2 0h1m-7 1h1m4 0h1m18 0h1m-6 1h1m-18 1h1m20 0h1m-22 1h1m12 0h1m31 0h1m-36 1h1m4 0h1m3 0h1m27 0h1m-40 1h1m2 0h1m6 1h1m-7 1h1m5 0h1m-11 1h1m7 0h1m-6 1h1m7 0h1m-11 1h1m29 0h1"/><path stroke="#f4bca5" d="M8 0.5h1m17 1h1m-14 1h1m-5 2h1m33 0h1m-34 1h3m-2 1h1m32 0h1m-30 1h1m-6 1h1m33 1h1m-34 1h1m9 0h1m6 0h1m-19 1h1m23 0h1m8 0h1m-28 1h1m21 0h1m-27 1h1m7 0h2m10 0h1m-22 1h2m25 0h1m5 0h1m1 0h2m-37 1h1m5 0h1m10 0h1m11 0h2m5 0h1m-26 1h1m-1 2h1m-12 1h2m1 1h1m4 0h2m1 0h2m1 0h1m11 0h1m4 0h1m-33 1h1m9 0h4m-13 1h1m3 0h1m4 0h1m1 0h1m1 0h2m5 0h1m-21 1h1m7 1h1m5 1h1m8 0h1m-12 1h1m15 0h1m-39 1h1m9 1h1m6 0h1m5 0h1m-14 1h1m4 0h1m-17 1h2m1 0h1m6 0h1m14 0h1m-18 1h1m3 0h1m3 0h2m8 0h1m-24 1h1m3 0h1m2 0h1m1 0h1m9 0h1m1 0h2m20 0h1m-45 1h1m4 0h1m3 0h2m9 0h1m-14 1h1m4 0h2m6 0h1m3 0h1m-25 1h1m5 0h1m-8 1h1m1 0h1m1 0h1m3 0h1m4 0h1m4 0h1m-19 1h1m3 0h1m3 0h1m-10 1h1m1 0h1m1 0h1m2 0h2m4 0h2m1 0h1m-15 1h3m8 0h2m1 0h1m2 0h1m-14 1h1m15 0h1m-9 1h1m-10 1h1m1 0h1m1 0h1m4 0h1m2 0h1m3 0h1m-11 1h1m1 0h1m5 0h1m28 0h1m-41 1h1m2 0h1m3 0h1m6 1h1m24 0h1m-37 1h1m3 0h1m5 0h1m-16 1h1m8 0h1m3 0h2m2 0h1m-24 1h1m35 0h1m-24 1h1m4 0h1m1 0h1"/><path stroke="#f0a386" d="M8 1.5h1m-9 1h1m27 0h1m-18 2h1m2 0h1m1 1h1m1 0h1m9 0h1m15 0h1m-32 1h1m3 1h1m25 0h1m-32 1h1m13 0h1m16 0h1m-33 1h1m5 0h1m10 0h1m1 0h1m-17 1h1m3 0h1m15 0h1m-26 1h1m34 0h1m-34 1h1m21 0h1m9 0h1m-34 2h1m3 0h2m7 0h1m4 0h1m12 0h2m2 0h1m-24 1h1m11 0h1m7 0h1m1 0h3m-34 1h1m2 0h1m3 0h2m4 0h1m1 0h1m10 0h2m2 0h1m-28 1h1m1 0h1m22 0h1m-26 1h1m1 0h2m1 0h1m19 0h3m2 0h1m-34 1h1m6 0h1m3 0h2m9 0h1m2 0h1m4 0h1m-31 1h1m1 0h1m5 0h1m2 0h1m4 0h1m6 0h1m-26 1h1m6 0h2m3 1h1m6 0h1m11 0h1m-30 1h1m6 0h1m5 0h1m7 0h1m-21 1h1m5 0h2m1 0h1m5 0h1m3 0h1m9 0h1m-34 1h1m9 0h2m4 0h1m5 0h1m-25 1h1m4 0h1m6 0h3m10 0h1m-16 1h1m2 0h3m1 0h1m-16 1h1m8 0h1m6 0h1m3 0h1m-31 1h1m31 0h1m-10 1h1m10 0h1m-28 1h1m1 0h1m14 0h1m11 0h1m8 0h1m-44 1h1m2 0h1m5 0h1m2 0h1m5 0h1m2 0h1m2 0h1m4 0h1m-31 1h1m6 0h1m4 0h1m3 0h1m7 0h1m1 0h1m1 0h1m13 0h1m-42 1h1m8 0h3m2 0h1m3 0h1m3 0h2m2 0h1m-22 1h1m4 0h3m6 0h1m-22 1h1m1 0h1m3 0h1m4 0h1m1 0h1m7 0h1m3 0h1m20 0h1m-43 1h1m6 0h2m3 0h1m1 0h1m7 0h1m-26 1h1m3 0h1m11 0h1m1 0h1m1 0h2m-16 1h1m1 0h3m9 0h1m6 0h1m-28 1h4m3 0h1m3 0h4m4 0h1m3 0h1m3 0h1m-29 1h2m3 0h1m2 0h1m1 0h1m1 0h2m7 0h1m24 0h2m-44 1h1m6 0h2m3 0h1m5 0h1m21 0h1m-45 1h3m7 0h1m3 0h1m3 0h1m4 0h2m19 0h1m-44 1h1m2 0h1m7 0h1m1 0h1m1 0h1m3 0h1m26 0h1m-34 1h1m1 0h1m6 0h1m15 0h1m6 0h1m-44 1h1m13 0h3m4 0h1m11 0h2m7 0h1m-39 1h1m4 0h2m10 0h1m20 0h1m-44 1h1m6 0h1m7 0h1m1 0h1m9 0h2m6 0h1m3 0h1m1 0h1m-38 1h2m7 0h1m1 0h1m1 0h1m1 0h2m14 0h2m1 0h1"/><path stroke="#e3826a" d="M29 0.5h1m-7 2h1m3 0h1m11 0h1m2 0h1m-14 1h1m-14 1h1m3 0h1m-12 1h1m4 0h1m2 0h1m1 0h1m7 0h1m12 0h1m2 0h1m-30 1h3m2 0h1m-10 1h1m12 0h1m-13 1h1m1 0h1m5 0h1m-11 1h1m2 0h1m2 0h1m-6 1h1m4 0h1m3 0h1m9 0h2m8 0h1m-24 1h1m2 0h1m5 0h1m6 0h1m6 0h1m1 0h1m-30 1h2m1 0h1m4 0h1m6 0h2m2 0h1m4 0h1m3 0h1m1 0h1m-29 1h1m2 0h1m6 0h1m5 0h1m2 0h1m1 0h1m3 0h1m-19 1h1m4 0h2m4 0h1m1 0h3m-25 1h2m4 0h2m3 0h2m4 0h1m2 0h1m3 0h1m11 0h1m-35 1h2m8 0h1m7 0h2m1 0h1m1 0h1m4 0h1m2 0h1m2 0h1m-36 1h1m1 0h1m6 0h1m2 0h2m3 0h1m6 0h1m7 0h1m-33 1h1m1 0h1m1 0h1m5 0h1m1 0h1m10 0h1m1 0h1m1 0h1m-25 1h1m2 0h1m3 0h1m2 0h1m1 0h1m3 0h1m3 0h1m2 0h1m-28 1h1m15 0h1m11 0h1m4 0h2m-32 1h2m9 0h2m4 0h1m7 0h1m1 0h1m-31 1h2m2 0h4m15 0h1m4 0h2m-28 1h2m5 0h1m1 0h1m1 0h1m-15 1h1m1 0h1m3 0h2m5 0h1m1 0h1m9 0h1m1 0h1m-27 1h1m2 0h1m2 0h1m4 0h2m2 0h1m7 0h3m9 0h1m-37 1h1m4 0h1m7 0h2m1 0h2m2 0h1m6 0h1m-26 1h2m4 0h1m6 0h1m4 0h1m12 0h3m-35 1h2m6 0h3m6 0h1m-13 1h2m8 0h1m1 0h1m9 0h1m4 0h1m-34 1h2m3 0h2m3 0h1m5 0h1m-26 1h1m7 0h1m8 0h2m1 0h1m7 0h1m4 0h1m-36 1h2m2 0h1m3 0h2m3 0h1m4 0h2m7 0h1m1 0h1m12 0h1m-40 1h1m11 0h2m1 0h2m3 0h1m8 0h1m3 0h1m-34 1h1m3 0h1m10 0h2m3 0h1m3 0h1m18 0h2m-47 1h1m3 0h1m5 0h1m5 0h1m6 0h4m-11 1h1m6 0h1m3 0h1m-29 1h1m2 0h1m6 0h1m2 0h1m3 0h1m1 0h1m7 0h1m3 0h1m9 0h1m-31 1h2m5 0h1m5 0h2m18 0h1m-44 1h1m21 0h1m5 0h1m14 0h1m-40 1h1m1 0h1m3 0h1m4 0h1m4 0h1m1 0h1m1 0h1m3 0h1m-26 1h1m4 0h1m1 0h1m3 0h2m1 0h1m6 0h2m17 0h1m-45 1h2m6 0h1m4 0h1m10 0h1m24 0h1m-47 1h1m1 0h1m16 0h1m2 0h1m-21 1h3m9 0h1m5 0h3m-25 1h1m1 0h1m1 0h3m2 0h1m6 0h1m9 0h2m6 0h1m2 0h1m3 0h1m-42 1h2m1 0h1m3 0h2m3 0h1m2 0h1m5 0h1m4 0h1m7 0h1m8 0h1m1 0h1m-47 1h1m2 0h1m5 0h1m1 0h1m2 0h1m1 0h2m3 0h1m3 0h2m2 0h1m-22 1h1m1 0h1m3 0h3m7 0h3m12 0h1m4 0h1m-37 1h2m4 0h1m1 0h1m14 0h1m10 0h1"/><path stroke="#d6604e" d="M26 0.5h1m7 0h1m-5 1h1m8 0h2m-16 1h2m2 0h2m3 1h1m-18 1h1m7 0h2m1 0h2m12 0h1m-28 1h1m4 0h1m4 0h1m13 0h1m-28 1h1m4 0h2m1 0h1m18 0h2m2 0h1m-32 1h1m1 0h1m7 0h1m1 0h1m8 0h1m-25 1h1m12 0h1m-10 1h1m27 0h1m-26 1h2m4 0h1m2 0h2m5 0h2m-23 1h1m1 0h1m1 0h1m1 0h1m3 0h1m4 0h1m1 0h1m1 0h2m1 0h1m1 0h2m3 0h1m1 0h1m-33 1h1m3 0h1m9 0h2m6 0h1m4 0h1m1 0h1m1 0h1m-31 1h1m6 0h2m2 0h2m2 0h1m1 0h1m2 0h1m6 0h1m-26 1h1m8 0h1m1 0h1m4 0h2m6 0h1m-23 1h2m3 0h1m10 0h1m6 0h1m4 0h1m5 0h1m-32 1h1m4 0h1m1 0h1m3 0h2m7 0h1m5 0h1m1 0h1m2 0h1m-31 1h2m12 0h1m1 0h1m2 0h2m6 0h1m-36 1h1m12 0h1m1 0h1m6 0h2m2 0h1m6 0h2m3 0h1m-29 1h2m4 0h1m1 0h1m19 0h1m-32 1h1m11 0h1m1 0h1m5 0h1m2 0h1m2 0h1m-33 1h1m1 0h1m2 0h1m7 0h1m5 0h1m9 0h1m1 0h1m-30 1h1m11 0h1m18 0h1m-22 1h1m3 0h1m2 0h1m-7 1h1m1 0h1m4 0h1m1 0h2m1 0h1m8 0h1m-34 1h2m13 0h1m2 0h1m1 0h1m6 0h1m3 0h2m-34 1h1m2 0h1m2 0h2m9 0h1m5 0h2m7 0h2m-34 1h1m4 0h1m6 0h1m2 0h1m2 0h1m8 0h1m-25 1h2m8 0h1m9 0h1m7 0h2m-33 1h1m1 0h1m4 0h2m1 0h3m3 0h1m1 0h1m5 0h1m8 0h1m-31 1h1m4 0h1m3 0h1m5 0h2m1 0h1m2 0h1m1 0h2m8 0h1m-36 1h1m1 0h1m25 0h1m4 0h1m2 0h1m-35 1h3m3 0h1m11 0h3m-15 1h1m2 0h1m1 0h1m7 0h1m-34 1h1m19 0h1m7 0h2m9 0h1m-38 1h1m6 0h1m7 0h1m11 0h1m1 0h1m-23 1h1m1 0h1m7 0h1m1 0h2m3 0h1m2 0h1m14 0h1m-25 1h2m2 0h1m3 0h2m1 0h1m10 0h1m-24 1h1m8 0h1m10 0h1m-29 1h1m2 0h1m1 0h1m4 0h1m2 0h1m14 0h1m2 0h1m-34 1h1m15 0h1m14 0h1m1 0h1m-22 1h1m4 0h2m12 0h1m1 0h1m-41 1h1m6 0h1m12 0h1m2 0h1m1 0h1m13 0h1m-37 1h2m7 0h1m13 0h1m-21 1h1m8 0h2m23 0h1m4 0h1m-40 1h1m1 0h2m6 0h1m6 0h1m2 0h1m7 0h1m3 0h1m-42 1h1m4 0h1m1 0h1m15 0h1m1 0h1m6 0h1m-28 1h1m2 0h1m19 0h1m1 0h1m10 0h1m2 0h1m-42 1h3m1 0h1m3 0h1m6 0h1m1 0h1m21 0h1m-42 1h4m7 0h1m10 0h1m15 0h1"/><path stroke="#c33e3e" d="M30 0.5h1m-8 1h1m5 0h1m4 0h1m2 0h2m-15 1h1m7 0h1m5 0h1m2 0h1m-29 2h1m1 0h1m2 0h2m1 0h1m1 0h2m2 0h1m8 0h2m1 0h2m1 1h1m-33 1h1m10 0h1m2 0h2m16 0h1m-30 1h1m2 0h1m2 0h1m6 0h1m12 0h1m-26 1h1m1 0h1m1 0h1m1 0h1m4 0h1m14 0h3m-29 1h1m1 0h1m4 0h2m1 0h1m4 0h1m12 0h1m-31 1h2m9 0h1m3 0h1m3 0h1m9 0h1m-30 1h1m1 0h1m3 0h1m3 0h1m6 0h1m8 0h1m-18 1h3m2 0h1m2 0h1m5 0h1m-23 1h1m1 0h1m21 0h1m-21 1h1m2 0h1m4 0h1m13 0h1m-19 1h1m3 0h3m2 0h1m4 0h1m3 0h1m-23 1h1m9 0h1m3 0h1m2 0h1m1 0h1m10 0h1m-27 1h1m2 0h1m6 0h2m10 0h2m-25 1h1m7 0h1m-15 1h1m3 0h1m28 0h1m-31 1h1m9 0h1m5 0h1m1 0h1m3 0h1m3 0h1m5 0h1m-22 1h1m9 0h2m4 0h1m-16 1h1m7 0h1m-26 1h1m5 0h1m24 0h2m1 0h1m2 0h1m-35 1h1m12 0h1m18 0h1m-31 1h1m1 0h1m9 0h1m13 0h1m5 0h1m-24 1h1m3 0h1m3 0h1m2 0h1m8 0h1m-31 1h1m12 0h1m19 0h1m-36 1h1m12 0h2m4 0h1m-21 1h1m1 0h1m19 0h1m7 0h1m-30 1h1m20 0h1m6 0h1m2 0h1m1 0h1m1 0h1m-36 1h1m10 0h1m1 0h1m3 0h1m2 0h1m4 0h2m1 0h1m5 0h1m-11 1h1m1 0h1m7 0h1m-35 1h1m15 0h2m1 0h1m6 0h2m4 0h1m-47 1h1m16 0h1m13 0h2m4 0h1m1 0h1m1 0h2m5 0h1m-33 1h1m6 0h1m4 0h2m10 0h1m5 0h2m-22 1h1m2 0h1m8 0h1m1 0h1m2 0h2m2 0h1m-46 1h1m25 0h1m-3 1h2m2 0h1m14 0h1m-15 1h2m12 0h1m-15 1h2m13 0h2m-45 1h1m2 0h1m17 0h1m2 1h1m2 0h1m-5 1h2m2 0h2m11 0h1m-41 1h1m17 0h1m5 0h1m16 0h1m-43 1h1m1 0h1m3 0h1m4 0h1m4 0h1m6 0h1m4 0h1m-21 1h1m15 0h1m1 0h2m3 0h1m4 0h1m-35 1h1m28 0h1m-28 1h1m5 0h1m15 0h1m2 0h1m6 0h1m-39 1h1m9 0h1m13 0h2m1 0h1"/><path stroke="#b01d2e" d="M24 0.5h1m7 0h1m-9 1h2m6 0h1m3 0h1m4 0h1m-23 1h1m2 0h1m10 0h1m3 0h1m2 0h1m-18 1h1m-2 2h1m1 0h1m1 0h1m11 0h1m-13 1h1m14 0h1m-24 1h1m1 0h1m4 0h1m6 0h1m-12 1h1m-2 1h1m2 0h1m1 0h1m5 0h1m-12 1h1m-1 1h1m2 0h2m2 0h1m-10 1h2m14 0h1m-19 1h1m10 0h1m-12 1h1m2 0h1m13 1h1m3 0h1m10 2h1m-22 1h1m7 0h1m3 0h1m7 0h2m-32 1h1m19 0h1m6 0h3m-21 1h1m-14 1h1m14 1h1m7 0h1m6 0h2m3 0h2m-33 1h1m9 0h1m17 0h1m-30 1h1m27 0h2m2 0h2m-34 1h1m29 0h1m-33 1h1m2 0h1m14 0h1m10 0h1m4 0h1m-34 1h1m17 0h1m9 0h1m-27 1h1m27 0h2m2 0h1m-17 1h2m5 0h2m4 0h1m-34 1h1m5 0h1m21 0h1m1 0h2m-27 1h1m2 0h1m10 0h1m4 0h1m5 0h1m-38 1h1m23 0h1m1 0h1m4 0h1m1 0h1m1 0h1m2 0h1m-1 1h2m1 0h3m-14 1h1m-37 1h1m18 0h1m19 0h1m1 0h1m3 0h1m3 0h1m-35 1h1m15 0h1m10 0h1m-19 1h1m14 0h1m4 0h1m-30 1h1m7 0h1m4 0h1m2 0h1m10 0h1m-17 1h2m2 0h1m-4 1h1m17 0h1m-17 1h1m1 0h1m-7 1h1m3 0h1m1 0h1m-28 1h1m3 0h1m-7 1h1m23 0h1m1 0h1m1 0h2m-17 1h1m16 0h1m7 0h1m-35 1h1m5 0h1m17 0h1m3 0h1m-33 1h1m24 0h1m3 0h2m-32 1h1m25 0h1m-23 1h1"/><path stroke="#8e1428" d="M33 0.5h1m1 0h1m1 0h1m-5 1h1m1 0h1m-5 1h1m3 0h2m-9 1h1m12 1h1m-21 1h1m1 0h1m17 0h1m-20 1h1m-2 1h1m18 0h1m-17 1h1m-7 1h1m5 1h1m17 0h1m-13 2h1m-2 1h1m6 0h1m-19 1h1m12 0h1m1 0h1m-20 1h1m2 2h1m29 0h1m1 0h1m-10 2h1m1 0h1m5 0h1m-2 1h2m-25 1h1m21 0h2m1 0h1m-4 1h2m-1 1h2m-19 1h1m17 1h1m-2 1h1m1 0h1m-22 1h1m19 2h1m-17 1h1m4 0h1m2 0h1m-8 1h1m4 0h1m8 0h1m-5 1h1m1 0h1m1 0h1m1 0h1m-22 1h1m8 0h1m1 0h1m2 0h1m-5 1h1m4 0h3m3 0h1m-13 1h2m3 0h3m3 0h1m-17 1h1m6 0h1m-17 1h1m16 0h1m1 0h1m2 0h1m-5 1h1m1 0h1m-3 1h1m-12 1h1m13 0h1m-15 1h1m1 0h1m9 0h1m-11 1h1m10 0h1m-44 2h1m28 0h1m1 2h1m-4 3h1m1 0h1"/><path stroke="#6d0a22" d="M31 0.5h1m4 0h1m-10 1h1m3 0h1m2 1h1m-13 1h1m7 0h1m-9 1h1m10 0h1m4 0h1m-16 2h1m17 1h2m-28 1h1m1 0h1m1 1h1m19 0h1m0 1h1m-24 2h1m16 5h1m6 2h1m3 2h1m2 0h1m-22 1h1m6 0h1m-4 2h1m15 3h2m-9 1h1m6 0h2m-2 1h1m1 0h1m-24 1h1m19 0h1m-3 1h1m-9 1h1m-2 1h1m2 0h1m-6 1h1m7 2h1m-10 2h1m9 1h1m-3 1h1m1 0h1m-43 5h1m20 0h1m9 0h1m2 0h1m-3 3h1m-7 1h1m2 0h1"/></g><use href="#G" clip-path="url(#T)" fill="none" stroke="#d8d2d0" stroke-opacity="0.85" stroke-width="0.17"/></g><text x="788.7" y="1036.0" font-size="22" fill="#111">chr17: 81653905-81656305</text><g transform="translate(1118.00 1048.30) scale(4.670)"><g fill="none" stroke-width="1.02"><path stroke="#2c5a98" d="M9 17.5h1"/><path stroke="#3b73ac" d="M1 15.5h1m0 2h1m0 1h1m1 0h4m-3 1h1m-5 2h1"/><path stroke="#4a8cc0" d="M3 14.5h1m1 0h2m-4 1h1m3 0h1m-5 1h1m2 0h1m-4 1h2m2 0h2m-5 1h1m-3 1h2m3 0h1m-4 1h1m3 0h1m-3 2h1"/><path stroke="#6fa8ce" d="M4 14.5h1m1 1h1m-6 1h1m-2 1h1m5 0h1m-7 1h3m2 1h1m-5 1h1m3 0h1m1 0h1m-3 1h2"/><path stroke="#94c4dd" d="M2 14.5h1m1 1h1m3 0h1m-7 1h1m1 0h2m1 0h2m0 2h1m-2 1h1m-7 1h2m2 0h1m-4 1h2m2 0h1"/><path stroke="#b2d4e6" d="M35 1.5h1m1 12h1m-36 2h1m-2 2h1m-2 2h2m2 0h1m2 3h1m-4 1h1"/><path stroke="#d0e4ef" d="M0 7.5h1m1 3h1m-1 2h1m-1 1h1m4 1h1m39 0h1m-43 3h1m3 2h1m-2 2h1m-7 1h1m1 0h1m3 1h1m-5 1h1m23 11h1m16 5h1m-14 6h1m-28 2h1"/><path stroke="#e2ecf0" d="M7 5.5h1m41 1h1m-4 1h1m1 0h1m-2 1h1m1 0h1m-49 4h1m1 0h1m-4 1h1m47 0h1m-49 1h1m-1 1h1m4 0h1m40 0h1m-46 6h1m47 0h1m-49 1h1m6 0h1m-3 1h2m-3 1h1m2 0h1m25 0h1m-6 4h1m17 0h1m1 6h1m-5 4h1m-43 8h1m-2 1h1m-3 1h2"/><path stroke="#f5f4f2" d="M0 2.5h1m45 2h1m-1 1h1m-46 1h1m44 0h1m-1 2h1m-3 1h1m3 0h1m-9 2h1m7 0h1m-49 1h1m48 0h1m-47 1h1m45 1h1m-18 2h1m11 0h1m-20 1h1m20 2h2m1 0h1m-41 1h1m38 0h1m-11 1h1m-36 1h1m-4 1h2m3 0h1m42 0h1m-47 1h1m4 0h1m36 1h1m-1 2h1m4 0h1m-17 1h1m13 2h1m-3 2h1m-22 2h1m22 0h1m-1 1h1m-6 2h1m4 4h1m1 1h1m-35 3h1m-8 1h1m-6 1h1m2 1h1m16 0h1m-21 1h2m25 0h1"/><path stroke="#f7e5db" d="M8 1.5h1m24 0h1m-1 1h2m-29 3h1m-1 1h1m40 0h1m1 1h1m-41 1h1m36 1h2m-1 1h1m-48 1h1m43 0h2m-42 1h2m41 0h1m-12 2h1m7 0h1m3 0h1m-6 4h1m1 0h1m3 0h1m-23 1h1m-28 1h1m32 0h1m11 0h1m3 0h1m-29 1h1m-22 1h1m29 0h1m17 0h2m-48 1h2m45 0h1m-47 1h1m2 0h1m39 0h1m2 0h1m-44 1h1m1 0h1m38 0h1m1 0h1m-46 1h1m42 0h3m-3 1h1m-3 1h1m3 0h1m-19 1h1m13 0h1m-7 1h1m5 0h2m-1 1h1m-35 1h1m35 0h2m-17 1h1m-2 1h1m15 0h1m-4 1h1m-1 1h1m-18 2h1m14 0h1m3 2h1m-5 1h1m-43 2h1m8 0h1m-4 1h1m12 0h1m23 0h1m3 0h1m-48 1h1m45 0h1m-42 1h1m22 0h1m-24 1h1m1 0h1m15 0h1m6 0h1m-25 1h1m19 0h1m15 0h1m-44 1h1m9 0h1"/><path stroke="#f9d6c4" d="M7 0.5h1m20 2h1m7 0h1m-8 1h1m-25 1h1m39 0h1m-5 1h1m5 0h1m-8 1h1m7 0h1m-47 1h1m17 0h1m23 0h1m2 0h1m-45 1h1m17 0h1m20 0h1m-34 1h1m20 0h1m11 0h1m-43 1h1m27 0h1m2 0h1m15 1h1m-39 1h1m15 0h1m7 0h1m7 0h1m-41 1h1m4 0h1m2 0h1m37 0h1m1 0h1m-49 1h1m29 0h1m14 0h1m-15 1h1m12 0h1m1 0h2m-36 1h1m24 0h1m1 0h1m0 1h1m1 0h1m1 0h1m3 0h1m-6 2h1m-1 1h1m1 0h2m-48 1h1m45 0h1m1 0h1m-23 1h1m15 0h1m3 0h2m-39 1h1m-9 1h1m26 0h1m7 0h1m1 0h1m6 0h1m2 0h1m-49 1h2m1 0h2m2 0h1m25 0h1m14 0h1m-47 1h1m2 0h1m2 0h1m1 0h1m35 0h1m-38 1h1m36 0h1m-43 2h1m21 0h1m5 0h1m-17 1h1m18 0h1m13 0h1m-32 1h1m21 0h1m4 0h1m2 0h2m-25 1h1m15 0h1m-14 1h1m2 0h1m8 0h1m2 0h3m3 0h1m-41 1h1m34 0h1m-13 1h1m15 0h2m-23 1h1m1 0h2m13 0h1m-29 1h1m15 0h1m11 0h1m-19 1h1m15 0h1m-30 1h1m26 0h2m1 0h1m-36 2h1m3 0h1m5 0h1m10 0h1m-24 1h1m7 0h1m7 0h1m8 0h1m11 0h1m-38 1h1m10 0h1m3 0h1m-21 1h1m1 0h1m8 0h1m1 0h1m9 0h1m22 0h1m-48 1h1m3 0h2m7 0h1m11 0h1m-21 1h1m3 0h1m1 0h1m9 0h1m3 0h1m8 0h1m-35 1h1m3 0h2m1 0h1m1 0h2m1 0h2m3 0h1m8 0h1m2 0h1m11 0h1m-38 1h1m9 0h1m4 0h1m1 0h1m-21 1h1m3 0h1m1 0h1m14 0h1m15 0h1"/><path stroke="#f4bca5" d="M4 0.5h1m26 0h1m3 0h1m1 0h1m-35 1h1m20 0h1m5 0h2m9 0h1m-10 1h1m2 0h1m-13 1h1m0 1h1m12 0h1m3 0h1m1 0h1m-25 1h1m19 0h2m2 0h1m-1 1h2m-22 1h2m1 0h1m15 0h1m-21 1h2m1 0h2m14 0h1m1 0h1m-16 1h1m2 0h1m17 0h1m-49 1h1m22 0h1m7 0h1m8 0h1m-33 1h1m7 0h1m20 0h1m2 0h2m3 0h1m-24 1h1m8 0h1m2 0h1m7 0h1m-39 1h1m24 0h1m14 0h2m-36 1h1m11 0h2m4 0h1m4 0h2m-22 1h1m9 0h1m3 0h2m7 0h1m4 0h1m-31 1h1m7 0h1m5 0h1m4 0h1m10 0h1m4 0h2m-27 1h1m7 0h1m4 0h1m10 0h2m-22 1h1m11 0h3m3 0h1m2 0h1m-20 1h1m-18 1h1m20 0h1m2 0h2m2 0h1m-31 1h1m15 0h2m17 0h2m1 0h1m-39 1h1m15 0h1m5 0h1m2 0h1m6 0h1m2 0h1m-17 1h1m14 0h2m1 0h1m-18 1h2m16 0h1m-46 1h1m25 0h1m7 0h1m8 0h1m-46 1h1m2 0h1m2 0h1m19 0h1m4 0h2m5 0h1m4 0h1m-43 1h1m4 0h1m24 0h1m11 0h1m4 0h1m-23 1h2m2 0h1m15 0h1m1 0h1m-25 1h1m4 0h2m3 0h2m11 0h1m1 0h1m-36 1h1m15 0h1m1 0h1m15 0h1m-25 1h1m2 0h1m5 0h1m7 0h1m2 0h1m2 0h1m-33 1h1m4 0h1m8 0h1m5 0h1m6 0h1m4 0h1m-21 1h1m18 0h1m1 0h1m-35 1h1m16 0h1m1 0h1m6 0h1m4 0h1m-22 1h1m4 0h1m14 0h1m-44 1h1m14 0h1m5 0h2m2 0h1m11 0h1m1 0h1m1 0h2m2 0h1m-47 1h1m18 0h3m1 0h1m4 0h1m10 0h1m5 0h1m-32 1h1m1 0h1m1 0h1m3 0h1m1 0h1m2 0h1m1 0h1m-12 1h1m1 0h1m7 0h1m3 0h1m11 0h1m-45 1h1m19 0h1m9 0h1m1 0h1m8 0h2m1 0h1m1 0h1m-47 1h1m12 0h1m2 0h1m8 0h1m18 0h1m-45 1h1m3 0h1m4 0h1m3 0h1m10 0h4m1 0h1m14 0h1m-45 1h1m1 0h2m15 0h1m2 0h2m2 0h2m2 0h1m17 0h1m-49 1h1m1 0h1m1 0h2m3 0h2m5 0h3m2 0h1m1 0h1m3 0h1m1 0h1m-24 1h4m2 0h1m1 0h1m1 0h1m2 0h1m1 0h1m1 0h1m4 0h1m7 0h1m2 0h3m-40 1h1m1 0h1m2 0h1m6 0h1m1 0h1m1 0h1m3 0h1m10 0h1m2 0h2m7 0h1m-45 1h1m16 0h1m1 0h2m11 0h1m11 0h1m-37 1h1m1 0h1m1 0h1m1 0h1m4 0h1m15 0h1m4 0h1m-40 1h1m9 0h1m4 0h1m1 0h1m1 0h1m4 0h3m12 0h1"/><path stroke="#f0a386" d="M8 0.5h1m21 0h1m1 0h1m-24 1h1m15 0h1m12 0h1m1 0h1m-36 1h1m25 0h1m9 0h2m-13 1h1m3 0h1m-27 1h2m10 0h1m21 0h1m-35 1h3m10 0h1m1 0h1m2 0h2m20 0h1m-28 1h2m1 0h1m-3 1h1m2 0h1m7 0h1m9 0h1m-43 1h1m8 0h1m9 0h1m27 0h1m-34 1h1m8 0h2m3 0h1m9 0h1m3 0h1m-34 1h1m11 0h2m6 0h1m2 0h1m-24 1h1m9 0h1m12 0h1m5 0h1m-30 1h1m7 0h1m1 0h1m7 0h1m8 0h1m2 0h1m5 0h1m-43 1h1m5 0h1m5 0h1m2 0h1m2 0h1m9 0h1m-21 1h1m1 0h1m7 0h1m2 0h2m6 0h1m4 0h1m-23 1h1m2 0h1m10 0h2m6 0h1m1 0h2m2 0h1m4 0h1m-31 1h1m4 0h1m9 0h2m1 0h1m7 0h1m3 0h1m-35 1h2m9 0h1m4 0h2m3 0h1m1 0h1m3 0h1m1 0h1m3 0h1m-33 1h1m16 0h1m2 0h1m4 0h1m4 0h1m-15 1h1m4 0h1m1 0h2m7 0h1m-21 1h1m8 0h1m2 0h1m2 0h1m-22 1h1m8 0h1m7 0h1m1 0h1m1 0h1m-34 1h1m3 0h1m13 0h2m5 0h3m2 0h1m-21 1h1m2 0h1m6 0h1m3 0h1m10 0h1m1 0h1m-48 1h1m8 0h1m14 0h1m8 0h1m10 0h1m-40 1h1m20 0h1m8 0h1m1 0h1m2 0h1m5 0h1m-46 1h1m5 0h1m21 0h2m13 0h2m-46 1h1m1 0h1m1 0h1m2 0h1m19 0h1m1 0h2m-29 1h1m1 0h1m6 0h1m31 0h2m-44 1h1m1 0h1m23 0h2m4 0h1m2 0h1m4 0h1m4 0h1m1 0h1m-29 1h1m10 0h1m-9 1h1m2 0h1m3 0h1m3 0h1m1 0h2m5 0h1m-18 1h1m3 0h1m1 0h2m3 0h2m1 0h1m2 0h1m2 0h1m-37 1h1m9 0h2m4 0h1m2 0h1m5 0h1m6 0h1m4 0h1m-30 1h2m5 0h2m11 0h2m2 0h1m-41 1h1m15 0h1m3 0h2m2 0h1m10 0h1m1 0h1m1 0h1m4 0h1m-47 1h1m13 0h2m1 0h1m1 0h2m3 0h1m7 0h1m14 0h1m-30 1h1m3 0h1m2 0h2m13 0h2m-23 1h2m2 0h1m6 0h2m-31 1h1m8 0h1m1 0h1m3 0h2m3 0h5m3 0h1m12 0h1m-42 1h1m1 0h1m9 0h2m1 0h1m6 0h1m2 0h2m1 0h1m13 0h1m-41 1h2m1 0h1m2 0h1m14 0h1m3 0h1m1 0h3m8 0h2m-42 1h1m1 0h1m3 0h1m8 0h2m12 0h1m1 0h1m9 0h1m4 0h1m-43 1h1m3 0h1m1 0h2m1 0h3m1 0h1m1 0h1m3 0h1m6 0h1m12 0h1m-39 1h1m6 0h1m5 0h1m5 0h1m-23 1h1m6 0h1m7 0h1m1 0h1m6 0h1m7 0h1m10 0h1m-35 1h1m4 0h1m2 0h1m3 0h1m2 0h2m1 0h2m3 0h1m2 0h1m-23 1h1m2 0h1m3 0h1m3 0h1m4 0h1m-31 1h2m4 0h1m1 0h1m1 0h1m3 0h2m14 0h1m4 0h1m4 0h1m-37 1h1m1 0h2m1 0h1m2 0h3m1 0h1m1 0h1m16 0h1m2 0h1"/><path stroke="#e3826a" d="M34 0.5h1m-3 1h1m1 0h1m2 0h1m1 0h1m-27 1h1m16 0h1m7 0h1m4 0h1m-16 1h1m-18 1h2m9 0h1m2 0h1m-10 1h1m5 0h1m5 0h1m9 0h1m5 0h1m-35 1h2m4 0h1m6 0h1m1 0h1m15 0h2m-33 1h1m7 0h1m2 0h1m17 0h3m-27 1h1m8 0h1m15 0h1m-20 1h2m-14 1h1m5 0h1m1 0h1m1 0h3m3 0h2m2 0h1m4 0h1m4 0h2m1 0h1m-25 1h1m5 0h2m2 0h5m1 0h3m12 0h1m-37 1h1m3 0h1m4 0h1m1 0h1m1 0h1m2 0h3m2 0h1m1 0h1m1 0h1m-26 1h1m7 0h1m1 0h2m1 0h1m2 0h1m1 0h1m2 0h1m1 0h1m-27 1h1m6 0h5m6 0h1m8 0h1m1 0h1m1 0h2m2 0h1m-29 1h2m3 0h2m1 0h3m7 0h1m3 0h1m3 0h1m-27 1h1m3 0h1m3 0h1m1 0h2m1 0h1m5 0h1m2 0h1m6 0h1m-34 1h1m10 0h1m-13 1h2m1 0h1m5 0h1m1 0h1m3 0h1m6 0h1m2 0h1m4 0h1m-32 1h4m4 0h1m5 0h2m2 0h1m5 0h2m4 0h2m2 0h1m-32 1h1m5 0h1m2 0h2m1 0h2m1 0h1m8 0h1m3 0h1m-19 1h1m2 0h2m3 0h1m-9 1h1m2 0h1m15 0h1m1 0h1m-22 1h1m1 0h2m3 0h1m-22 1h1m1 0h1m13 0h1m4 0h2m4 0h1m5 0h1m-35 1h2m6 0h1m9 0h1m1 0h1m2 0h1m1 0h1m-12 1h1m3 0h2m4 0h2m4 0h1m-29 1h1m16 0h1m4 0h1m5 0h1m5 0h1m-46 1h1m5 0h3m16 0h1m9 0h1m4 0h1m-39 1h1m7 0h2m31 0h1m-43 1h1m3 0h1m1 0h1m7 0h1m9 0h1m1 0h1m6 0h1m1 0h3m3 0h3m-40 1h1m8 0h1m4 0h1m12 0h1m6 0h1m2 0h1m-32 1h1m5 0h1m9 0h1m3 0h1m2 0h1m4 0h1m-36 1h1m3 0h1m5 0h1m3 0h1m4 0h1m8 0h1m4 0h1m1 0h1m1 0h1m-35 1h1m8 0h1m3 0h2m5 0h1m1 0h2m5 0h1m6 0h1m-32 1h1m1 0h1m2 0h1m3 0h1m5 0h1m2 0h1m7 0h1m1 0h1m-36 1h1m1 0h2m4 0h1m7 0h1m6 0h1m10 0h1m1 0h1m-41 1h2m8 0h2m1 0h1m14 0h1m13 0h1m-35 1h1m1 0h1m5 0h1m7 0h1m6 0h1m8 0h1m2 0h1m-43 1h2m1 0h2m4 0h1m3 0h1m3 0h1m10 0h1m14 0h1m-44 1h1m4 0h1m3 0h1m3 0h1m6 0h1m8 0h1m-30 1h1m8 0h1m8 0h3m3 0h2m18 0h1m-45 1h1m2 0h1m2 0h1m2 0h2m2 0h1m7 0h1m-20 1h1m20 0h1m2 0h2m13 0h1m5 0h1m-42 1h1m2 0h1m3 0h1m10 0h1m1 0h1m2 0h1m-21 1h1m5 0h1m4 0h1m3 0h1m2 0h4m-32 1h1m8 0h1m2 0h1m9 0h1m20 0h1m-34 1h1m2 0h1m10 0h1m4 0h1m-13 1h1m6 0h1m4 0h2m-9 1h2m4 0h1m1 0h1"/><path stroke="#d6604e" d="M24 0.5h1m1 0h1m2 0h1m3 0h1m2 0h1m-9 1h1m7 0h1m-26 1h1m7 0h1m2 0h2m1 0h2m2 0h1m7 0h1m2 0h1m-25 2h1m2 0h1m3 0h1m2 0h1m1 0h1m4 0h1m4 0h3m-17 1h2m16 0h1m-31 1h1m1 0h1m5 0h1m-4 1h1m-7 1h1m4 0h2m1 0h1m-4 1h3m1 0h1m2 0h1m17 0h1m-31 1h1m1 0h2m3 0h1m8 0h1m-13 1h2m4 0h1m4 0h2m-17 1h1m9 0h1m5 0h1m11 0h1m2 0h1m-29 1h2m12 0h1m4 0h1m4 0h2m-25 1h2m10 0h1m-13 1h1m4 0h1m12 0h2m1 0h1m-23 1h1m1 0h1m1 0h1m3 0h2m5 0h1m3 0h1m9 0h1m-26 1h2m1 0h1m1 0h1m3 0h1m5 0h1m-15 1h1m2 0h1m25 0h1m-32 1h1m2 0h2m2 0h1m13 0h1m-17 1h1m18 0h1m-32 1h1m4 0h1m7 0h1m16 0h1m-25 1h1m3 0h1m2 0h1m-13 1h1m3 0h1m5 0h1m7 0h1m-13 1h1m7 0h1m-1 1h1m5 0h1m11 0h1m-23 1h2m2 0h1m10 0h2m-35 1h1m1 0h1m17 0h2m-10 1h1m5 0h1m6 0h1m-29 1h1m6 0h3m8 0h1m20 0h1m4 0h1m-43 1h1m6 0h2m2 0h1m19 0h1m6 0h2m-42 1h1m2 0h1m5 0h1m1 0h1m4 0h1m4 0h1m13 0h1m2 0h1m-34 1h1m8 0h1m1 0h1m2 0h1m3 0h1m20 0h1m-40 1h2m8 0h1m1 0h1m4 0h1m1 0h2m8 0h1m1 0h1m1 0h1m-39 1h1m12 0h1m14 0h1m8 0h1m3 0h1m4 0h1m-38 1h1m3 0h1m1 0h1m9 0h1m5 0h1m10 0h2m-38 1h1m5 0h1m18 0h1m-27 1h1m4 0h1m2 0h1m1 0h1m1 0h1m9 0h1m3 0h1m-32 1h3m1 0h1m3 0h1m6 0h1m24 0h1m-41 1h1m26 0h1m-24 1h3m1 0h3m8 0h1m1 0h1m3 0h1m2 0h1m11 0h1m-40 1h1m8 0h1m3 0h1m28 3h1m-42 1h1m31 0h1m3 0h1m3 0h1m-43 1h1m14 0h1m3 0h1m6 0h1m19 0h1m-19 1h1m15 0h1m-21 1h1m13 0h1m5 0h1m-32 1h1m11 0h1m13 0h1"/><path stroke="#c33e3e" d="M9 0.5h1m13 1h1m3 0h1m-4 1h1m2 0h1m11 0h1m-18 1h1m-10 1h1m1 0h1m1 0h1m9 0h1m1 0h1m6 0h1m-25 1h1m1 0h1m2 0h1m-5 1h1m3 0h1m1 0h1m6 0h1m12 0h1m-29 1h1m2 0h1m1 0h1m2 0h1m12 0h1m-20 1h1m5 1h1m-9 2h1m7 0h1m2 0h2m-12 1h1m3 0h1m2 0h1m-9 1h1m5 0h1m2 0h1m6 0h1m-15 1h1m16 0h1m1 0h1m-22 1h1m3 1h1m-2 1h1m2 0h1m16 0h1m2 0h1m1 0h1m-29 1h1m8 0h1m3 0h2m2 0h1m6 0h1m-14 1h2m19 0h1m-32 1h1m2 0h1m3 0h1m1 0h1m8 0h1m-19 1h2m6 0h1m21 0h1m-31 1h1m8 0h1m-10 1h2m8 0h1m2 0h1m-15 1h1m1 0h2m3 0h3m1 0h1m4 0h1m7 0h1m-24 1h1m5 0h2m2 0h1m1 0h1m-16 1h1m7 0h1m1 0h2m14 0h1m-28 1h1m4 0h2m2 0h2m1 0h1m5 0h1m-26 1h1m1 0h1m13 0h2m3 0h1m1 0h1m-13 1h1m6 0h1m1 0h1m1 0h1m-20 1h1m1 0h1m4 0h1m10 0h1m1 0h1m1 0h1m-23 1h1m3 0h1m3 0h2m1 0h1m1 0h1m4 0h1m2 0h1m5 0h1m-26 1h1m11 0h1m2 0h2m1 0h1m-25 1h1m1 0h1m9 0h1m3 0h1m2 0h1m-17 1h1m1 0h2m8 0h1m6 0h1m-18 1h2m-5 1h2m6 0h1m14 0h1m-18 1h1m21 0h1m-28 1h1m9 0h1m7 0h1m-13 1h1m21 0h1m-20 1h1m-8 1h1m9 0h1m-6 1h1m10 0h1m6 0h1m-22 1h2m4 0h1m23 2h1m-23 2h1m10 1h1m12 0h1m2 1h1"/><path stroke="#b01d2e" d="M14 4.5h1m6 0h1m-7 1h1m2 0h1m1 0h1m-3 1h1m-7 1h2m1 0h1m-6 2h1m2 0h2m1 1h1m-4 1h2m28 0h1m-32 2h1m5 0h1m6 0h1m9 0h1m-24 2h2m4 3h1m-3 1h1m-4 1h1m3 0h2m-2 1h3m-9 1h1m5 0h2m3 0h1m-9 1h1m1 0h2m-2 1h1m4 0h1m1 0h1m-8 1h1m6 0h1m-13 1h2m1 0h1m9 0h1m-10 1h1m3 0h1m5 0h1m-21 1h1m4 0h1m2 0h1m5 0h1m3 0h1m-19 1h2m6 0h3m1 0h1m-18 1h1m2 0h1m4 0h1m3 0h1m5 0h1m-13 1h1m3 0h1m-10 1h1m1 0h2m3 0h1m4 0h1m22 0h1m-36 1h1m7 0h1m20 0h1m-30 1h2m1 0h1m3 0h1m8 0h1m5 0h1m-21 1h1m3 0h1m8 0h1m2 0h2m-17 1h1m4 0h1m8 0h1m-14 2h2m5 0h1m-9 1h1m2 0h1m6 0h1m11 0h1m-4 2h1m6 3h1m-2 4h1"/><path stroke="#8e1428" d="M18 4.5h1m-6 1h1m1 1h1m-4 2h1m5 0h1m-8 1h2m-1 1h1m-1 1h1m2 1h1m5 3h1m-2 2h1m-4 1h1m7 2h1m-15 1h1m2 0h1m1 0h1m-4 1h1m1 0h1m3 0h1m-10 1h1m7 0h2m-5 1h1m-2 1h1m6 0h1m-9 1h1m2 0h1m1 0h1m-7 1h1m3 0h1m4 0h1m-10 1h1m1 0h1m5 0h1m-5 1h1m5 0h1m17 0h1m-24 1h1m5 0h1m-23 1h2m17 0h1m-21 1h1m1 0h1m6 0h1m-7 1h1m3 0h1m3 2h1m-1 1h1m-9 1h2m1 0h2m16 0h1m-18 1h1m16 2h1m3 8h1"/><path stroke="#6d0a22" d="M26 1.5h1m2 0h1m-19 4h1m2 3h1m-1 4h1m3 7h1m-6 6h1m1 0h1m4 0h1m-6 1h1m-6 1h1m11 0h1m-14 1h1m6 0h1m3 1h1m-2 1h1m1 0h1m-15 1h1m-1 1h1m2 0h1m0 1h1m1 0h1m-4 1h3m-13 1h2m2 0h1m3 0h1m1 0h1m-2 2h1"/></g><use href="#G" clip-path="url(#T)" fill="none" stroke="#d8d2d0" stroke-opacity="0.85" stroke-width="0.17"/></g><text x="1116.7" y="1036.0" font-size="22" fill="#111">chr1: 135795528-135799428</text><g transform="translate(1461.00 1048.30) scale(4.670)"><g fill="none" stroke-width="1.02"><path stroke="#2c5a98" d="M3 14.5h1m-1 2h1m0 5h1"/><path stroke="#3b73ac" d="M6 17.5h2"/><path stroke="#4a8cc0" d="M3 15.5h1m2 0h1m0 1h1m-5 1h2m4 0h1m-9 1h1m4 0h1m-4 1h3m2 0h1m-9 1h1m2 0h1m2 0h1m-2 1h2m-5 1h3m0 1h1m0 1h1"/><path stroke="#6fa8ce" d="M4 14.5h2m1 1h2m-8 1h1m-2 1h1m3 1h1m3 0h2m-9 1h1m2 1h1m-2 1h1m3 0h1m-4 2h1m2 1h1"/><path stroke="#94c4dd" d="M47 9.5h1m-46 5h1m3 0h2m-6 1h1m1 0h1m-3 1h1m1 0h1m1 0h1m1 0h1m-4 1h1m-6 1h1m1 0h1m2 0h1m1 0h1m-2 1h2m-6 1h1m4 0h2m-9 1h1m5 1h1m0 1h1m-1 3h1"/><path stroke="#b2d4e6" d="M48 5.5h1m-1 1h1m-2 2h1m-47 7h1m3 1h1m-5 1h2m5 0h1m-6 1h1m-4 1h1m1 0h1m-2 1h1m3 0h1m-5 1h2m-3 1h2m0 1h2m-3 1h1m3 0h1m-4 1h1m3 0h1m-1 1h1m1 1h1"/><path stroke="#d0e4ef" d="M46 7.5h1m-1 1h1m1 0h1m-3 1h1m0 5h1m-48 1h1m6 7h2m-3 1h1m1 0h1m-7 1h1m4 1h1m-4 1h1"/><path stroke="#e2ecf0" d="M5 4.5h1m43 2h1m-1 1h1m-1 4h1m-45 4h1m3 5h1m-2 1h1m19 1h1m-29 1h2m-2 1h1m2 0h2m3 0h1m-9 1h1m2 0h1m1 0h1m-1 1h1m-2 1h1m2 0h1m1 0h1m-3 1h2"/><path stroke="#f5f4f2" d="M46 6.5h1m1 3h1m-49 1h1m46 0h1m0 1h1m-45 1h1m41 0h2m1 0h1m-50 1h1m1 0h1m2 0h1m3 6h1m-1 2h1m-1 1h1m-1 1h1m-10 3h2m6 3h1"/><path stroke="#f7e5db" d="M5 2.5h1m1 3h1m36 0h1m1 0h1m-24 1h1m-22 1h1m44 0h1m-47 1h1m47 0h1m-7 1h1m-24 1h1m-21 1h1m42 0h4m-45 1h1m6 1h1m-10 1h1m0 11h1m2 0h1m3 0h2m-2 1h1m-9 1h3m-2 1h1m3 0h2m-3 1h1m-1 1h1m33 1h1m-25 5h1"/><path stroke="#f9d6c4" d="M7 0.5h2m-9 2h1m44 2h1m-40 1h1m3 0h1m17 0h1m18 0h1m-47 1h1m37 0h1m4 0h1m2 0h1m-4 1h1m3 0h1m-46 1h1m-3 2h1m7 0h1m37 1h1m-47 1h1m39 0h1m-41 1h1m1 0h2m1 0h1m39 0h1m1 0h2m-5 1h2m-23 1h1m12 0h1m6 1h1m-35 5h1m-2 3h1m-8 2h2m13 0h1m-15 1h1m1 0h2m5 1h1m16 0h1m-30 1h1m5 0h1m2 0h1m-3 1h1m-5 3h2m3 0h1m28 0h1m2 1h1m-37 3h1m11 0h1m-15 6h1m8 0h1m-10 1h1"/><path stroke="#f4bca5" d="M4 0.5h1m-2 1h1m4 0h1m19 1h1m8 0h1m-30 2h2m1 0h1m34 0h1m-39 1h1m14 0h1m-18 1h1m19 0h1m15 0h1m-43 1h1m8 4h1m10 0h1m20 0h1m-39 1h1m16 0h1m2 0h1m11 0h1m-20 1h1m14 0h1m15 0h1m-47 1h1m47 0h1m-25 1h1m13 0h1m2 0h1m3 0h1m2 1h1m-26 1h1m4 2h1m10 1h1m-21 1h1m-11 1h1m16 0h1m15 0h1m-19 2h1m21 0h1m-23 1h1m4 1h1m2 0h1m-24 1h1m17 0h1m-29 1h1m3 0h1m18 0h1m19 0h1m5 0h1m-45 1h1m4 0h2m33 0h1m-41 1h1m2 0h2m3 1h1m6 0h1m-7 1h2m15 0h1m-26 1h1m22 0h1m1 0h1m14 0h1m-43 1h1m25 0h1m-4 1h1m18 0h1m-1 1h1m-39 1h1m18 1h1m2 0h1m-18 1h1m10 0h1m1 0h1m-23 3h1m1 0h1m23 1h2m-22 1h2m18 0h1m-16 2h1m20 0h1m-35 1h1m38 0h1m-38 1h1m31 0h1m4 0h1m-35 1h1m3 0h1"/><path stroke="#f0a386" d="M9 0.5h1m22 0h1m-24 1h1m15 0h1m14 0h1m-1 1h1m2 0h1m-22 1h1m-1 1h1m4 0h1m15 0h1m-35 1h1m10 0h1m-2 1h1m19 1h1m-31 1h1m6 0h1m5 0h1m17 0h1m-16 1h1m18 0h1m4 0h1m-40 1h1m19 0h1m11 0h1m-16 1h1m6 0h1m1 0h1m-37 1h1m8 0h1m8 0h1m6 0h1m3 0h1m6 0h1m2 0h1m-22 1h1m6 0h1m1 0h1m4 0h2m11 0h1m-22 1h1m5 0h1m3 0h1m9 0h1m-31 1h1m17 0h1m2 0h1m2 0h1m-9 1h1m11 0h1m3 0h1m-16 1h2m12 0h1m-20 1h1m11 1h1m-20 1h1m2 0h1m23 0h1m-25 1h1m3 0h1m14 0h1m1 0h1m0 1h1m-35 1h1m11 0h1m3 0h1m2 0h1m16 0h2m-38 1h2m10 0h1m6 0h1m16 0h1m-37 1h1m9 0h1m12 0h1m1 0h1m12 0h1m-40 1h1m25 0h2m-13 1h1m-16 1h1m23 0h1m-27 1h1m4 0h1m26 0h1m1 0h1m-36 1h1m4 0h1m1 0h1m17 0h1m-27 1h1m1 0h1m7 0h1m3 0h1m12 0h1m2 0h1m10 0h2m-42 1h2m1 0h1m2 0h2m4 0h1m5 0h1m9 0h1m1 0h1m1 0h1m-32 1h1m2 0h1m2 0h1m-3 1h2m1 0h1m1 0h1m14 0h1m-22 1h2m2 0h1m17 0h1m14 0h1m-37 1h1m3 0h1m7 0h1m3 0h1m3 1h2m-28 1h1m13 0h1m9 0h1m1 0h1m-18 1h1m12 0h2m-24 1h1m3 0h1m4 0h1m8 0h1m2 0h1m-14 1h1m7 0h1m1 0h1m-23 1h1m7 0h1m19 0h1m-27 1h1m6 0h1m2 0h3m1 0h1m4 0h1m-11 1h1m13 0h1m-12 1h1m9 0h1m3 0h1m12 0h1m4 0h1m-46 1h1m14 0h1m11 0h2m7 0h1m-32 1h1m9 0h1m10 0h1m-22 1h1m2 0h2m27 0h1m-24 1h1"/><path stroke="#e3826a" d="M24 0.5h1m2 1h1m1 0h1m3 0h1m2 0h1m1 0h1m-28 1h1m1 0h1m15 0h1m6 0h1m-7 1h1m-11 1h2m1 0h1m5 0h1m8 0h3m1 0h1m-22 1h2m-12 1h1m9 0h1m18 0h1m-30 1h1m6 0h1m7 0h1m16 0h1m-29 1h1m25 0h2m-19 1h1m4 0h1m-28 1h1m8 0h1m7 0h1m9 0h1m1 0h1m7 0h1m-22 1h1m7 0h1m4 0h1m6 0h1m-34 1h1m6 0h1m4 0h1m1 0h1m12 0h1m9 0h1m-33 1h1m-1 1h1m18 0h1m11 0h1m6 0h1m-36 1h1m4 0h1m7 0h1m4 0h1m13 0h1m2 0h1m-37 1h1m2 0h1m1 0h2m16 0h2m2 0h1m7 0h2m-23 1h1m6 0h1m4 0h1m5 0h1m3 0h1m-21 1h1m4 0h1m1 0h5m-21 1h1m16 0h1m9 0h4m-39 1h1m11 0h2m5 0h1m2 0h1m1 0h1m1 0h1m9 0h1m-34 1h1m2 0h1m5 0h1m4 0h1m3 0h1m-12 1h1m1 0h1m6 0h1m4 0h1m12 0h1m-26 1h1m21 0h1m-20 1h1m1 0h1m14 0h1m-30 1h1m9 0h1m6 0h1m4 0h2m2 0h1m5 0h1m-37 1h1m1 0h1m7 0h1m16 0h1m5 0h1m3 0h1m-37 1h1m32 0h1m1 0h1m-45 1h2m6 0h2m13 0h1m14 0h1m6 0h2m-47 1h2m16 0h2m5 0h1m7 0h1m12 0h2m-50 1h4m6 0h1m1 0h1m3 0h1m10 0h1m6 0h1m1 0h1m3 0h1m5 0h1m-44 1h1m2 0h1m2 0h1m6 0h1m9 0h1m3 0h1m3 0h1m1 0h1m3 0h1m8 0h1m-28 1h1m6 0h2m2 0h1m11 0h1m-35 1h1m2 0h4m6 0h1m2 0h1m4 0h2m2 0h1m7 0h2m1 0h2m-40 1h2m2 0h1m3 0h1m4 0h1m3 0h1m1 0h1m3 0h1m16 0h1m-43 1h1m1 0h1m9 0h1m5 0h1m3 0h1m18 0h1m-42 1h1m1 0h2m9 0h2m17 0h1m2 0h3m-38 1h1m5 0h1m16 0h1m8 0h1m3 0h1m-43 1h1m6 0h1m4 0h3m6 0h1m1 0h1m3 0h1m11 0h1m3 0h1m-43 1h1m1 0h1m11 0h1m23 0h1m-37 1h1m1 0h1m5 0h1m6 0h1m-20 1h2m2 0h1m6 0h1m12 0h1m1 0h1m1 0h1m1 0h1m-28 1h1m11 0h2m5 0h1m3 0h1m5 0h1m11 0h1m4 0h1m-6 1h1m4 0h1m-49 1h1m1 0h1m10 0h1m2 0h2m8 0h1m-23 1h1m14 0h1m18 0h1m-36 1h1m1 0h1m4 0h1m7 0h2m12 0h1m1 0h1m1 0h1m6 0h1m-42 1h2m1 0h1m3 0h1m8 0h1m3 0h1m6 0h1m-25 1h1m5 0h2m2 0h1m10 0h1m2 0h1m-30 1h1m3 0h1m4 0h1m4 0h1m8 0h1m5 0h1m9 0h1"/><path stroke="#d6604e" d="M36 0.5h2m-12 1h1m1 0h1m8 0h1m-19 1h1m2 0h2m2 0h1m6 0h2m4 0h1m-28 2h1m11 0h1m1 0h1m1 0h1m4 0h1m7 0h1m-31 1h1m15 0h1m14 0h2m-32 1h1m2 0h1m4 0h1m20 0h1m-32 1h1m1 0h1m7 0h2m3 0h1m6 0h1m8 0h2m-33 1h2m1 0h1m3 0h1m3 0h1m2 0h2m17 0h1m-27 1h1m2 0h2m6 0h1m2 0h1m7 0h1m-17 1h6m5 0h1m6 0h1m-32 1h1m4 0h1m1 0h1m1 0h1m2 0h2m8 0h2m5 0h2m1 0h1m-33 1h1m10 0h2m1 0h1m2 0h1m2 0h1m2 0h1m3 0h2m1 0h1m-24 1h1m1 0h1m1 0h1m1 0h1m2 0h1m1 0h1m5 0h1m1 0h1m1 0h1m-28 1h2m7 0h3m4 0h1m9 0h3m-29 1h1m4 0h1m3 0h1m6 0h1m2 0h1m5 0h1m3 0h1m2 0h2m2 0h1m-35 1h2m13 0h1m3 0h1m1 0h1m2 0h2m4 0h1m-23 1h1m5 0h1m11 0h1m1 0h1m5 0h1m1 0h1m-39 1h1m3 0h2m4 0h1m5 0h1m17 0h1m1 0h1m1 0h1m-39 1h1m2 0h1m8 0h1m1 0h1m2 0h1m15 0h2m-10 1h1m4 0h1m-23 1h1m4 0h2m1 0h1m11 0h2m1 0h1m1 0h1m3 0h1m-34 1h1m2 0h2m2 0h1m1 0h1m4 0h1m1 0h1m2 0h1m1 0h1m4 0h2m-19 1h1m5 0h2m11 0h1m-32 1h1m5 0h2m4 0h1m6 0h1m4 0h1m1 0h1m5 0h1m4 0h1m-38 1h2m7 0h3m3 0h1m1 0h1m4 0h1m9 0h2m-23 1h1m2 0h2m3 0h1m6 0h1m10 0h1m-38 1h1m5 0h1m14 0h1m9 0h1m4 0h2m-37 1h1m2 0h1m5 0h1m1 0h1m2 0h2m1 0h1m13 0h3m-46 1h1m12 0h2m1 0h1m4 0h2m2 0h1m1 0h1m1 0h1m5 0h1m7 0h1m-31 1h2m2 0h1m7 0h1m8 0h1m2 0h1m2 0h2m6 0h1m-39 1h2m1 0h1m2 0h1m3 0h1m3 0h1m7 0h1m3 0h1m1 0h1m2 0h2m-36 1h1m2 0h1m4 0h1m2 0h3m4 0h2m9 0h1m1 0h2m3 0h1m2 0h1m-43 1h1m13 0h5m2 0h1m7 0h2m2 0h3m-21 1h2m1 0h1m3 0h1m1 0h1m7 0h1m1 0h1m1 0h1m4 0h2m-43 1h2m6 0h1m2 0h3m23 0h1m1 0h1m-37 1h1m7 0h1m2 0h1m2 0h1m1 0h1m5 0h3m7 0h1m6 0h1m-46 1h1m6 0h1m1 0h1m5 0h2m4 0h1m1 0h1m1 0h1m17 0h1m-46 1h1m2 0h2m4 0h1m1 0h2m7 0h2m19 0h2m-34 1h3m5 0h1m4 0h1m6 0h1m2 0h1m10 0h1m-42 1h2m4 0h1m1 0h1m2 0h1m1 0h1m4 0h1m1 0h1m5 0h1m1 0h1m10 0h1m1 0h1m3 0h1m-42 1h1m1 0h1m9 0h1m3 0h1m6 0h1m1 0h2m10 0h1m-42 1h1m2 0h1m2 0h1m1 0h1m2 0h1m3 0h1m7 0h1m1 0h2m1 0h2m11 0h1m-40 1h1m1 0h2m4 0h1m3 0h1m3 0h1m3 0h1m4 0h1m-30 1h1m3 0h1m2 0h2m7 0h1m2 0h1m1 0h1m7 0h1m1 0h1m11 0h2m-44 1h2m5 0h2m3 0h1m4 0h2m3 0h1m4 0h1m3 0h1m2 0h2m1 0h1m2 0h1m4 0h1m-40 1h2m5 0h1m3 0h1m8 0h2m2 0h2m-33 1h1m7 0h1m2 0h1m2 0h1m12 0h1m3 0h1m13 0h1m-45 1h1m1 0h1m10 0h2m1 0h1m5 0h1m4 0h1m2 0h2m5 0h1m3 0h1m1 0h1m-45 1h1m1 0h1m1 0h1m3 0h2m2 0h2m6 0h1m6 0h1m3 0h1m5 0h1m3 0h1"/><path stroke="#c33e3e" d="M26 0.5h1m3 0h1m-8 1h1m7 0h1m3 0h1m-12 1h2m1 0h1m2 0h1m10 0h1m-19 1h1m10 0h1m-22 1h1m1 0h3m1 0h1m5 0h1m-14 1h1m5 0h2m4 0h3m13 0h2m-29 1h1m8 0h1m1 0h2m17 0h1m-31 1h1m3 0h1m4 0h3m-5 1h1m2 0h1m-15 1h2m1 0h1m1 0h1m7 0h2m17 0h2m-31 1h2m4 0h1m3 0h1m10 0h1m6 0h1m-27 1h1m6 0h1m3 0h1m4 0h1m-5 1h1m1 0h1m2 0h1m2 0h1m8 0h1m-33 1h2m2 0h1m4 0h1m1 0h1m1 0h1m5 0h1m4 0h1m3 0h1m-27 1h1m1 0h1m1 0h2m4 0h1m4 0h1m2 0h3m2 0h1m5 0h1m-21 1h2m5 0h1m19 0h1m-25 1h3m3 0h1m8 0h1m-28 1h1m3 0h1m12 0h1m4 0h3m4 0h1m3 0h1m-35 1h2m11 0h1m8 0h1m5 0h1m1 0h3m-33 1h2m6 0h2m2 0h1m1 0h2m7 0h1m1 0h1m1 0h1m3 0h1m-26 1h1m1 0h1m4 0h2m1 0h2m2 0h1m5 0h1m3 0h1m2 0h1m3 0h1m-39 1h1m4 0h1m4 0h1m9 0h1m6 0h1m6 0h2m2 0h1m-39 1h2m7 0h1m4 0h1m14 0h1m4 0h3m-37 1h1m13 0h1m8 0h1m9 0h1m4 0h1m-36 1h1m2 0h1m2 0h2m5 0h1m2 0h1m2 0h3m12 0h1m-23 1h1m1 0h1m14 0h1m-33 1h1m2 0h1m6 0h1m3 0h1m2 0h2m2 0h1m1 0h1m9 0h3m-34 1h1m3 0h1m1 0h1m3 0h1m2 0h2m1 0h3m7 0h1m5 0h1m1 0h1m-27 1h1m-9 1h1m4 0h2m12 0h2m6 0h1m2 0h1m-25 1h2m2 0h3m7 0h1m9 0h3m1 0h1m-46 1h1m1 0h1m5 0h1m7 0h1m3 0h2m7 0h1m12 0h2m2 0h1m-49 1h1m9 0h1m14 0h1m20 0h1m1 0h1m-37 1h1m12 0h1m4 0h1m11 0h1m6 0h1m-49 1h1m4 0h1m8 0h1m2 0h1m6 0h1m7 0h1m4 0h1m3 0h1m1 0h1m3 0h1m-48 1h2m9 0h1m2 0h1m5 0h1m1 0h2m5 0h1m6 0h1m5 0h1m1 0h1m3 0h1m-49 1h2m1 0h1m7 0h1m5 0h1m7 0h1m1 0h1m-23 1h1m3 0h1m3 0h2m3 0h1m9 0h1m-14 1h2m7 0h1m6 0h1m12 0h1m-39 1h1m4 0h1m2 0h1m3 0h1m1 0h1m3 0h1m-26 1h1m6 0h1m13 0h1m2 0h1m2 0h1m12 0h1m-38 1h1m6 0h1m3 0h2m4 0h1m4 0h1m1 0h1m13 0h1m2 0h1m-45 1h1m6 0h1m39 0h1m-48 1h2m3 0h1m2 0h2m9 0h1m3 0h1m1 0h4m-20 1h1m5 0h1m4 0h1m2 0h1m1 0h1m2 0h1m18 0h2m-45 1h1m1 0h1m4 0h2m4 0h1m4 0h1m3 0h2m2 0h2m5 0h1m2 0h1m-41 1h1m2 0h1m1 0h1m3 0h2m1 0h2m7 0h1m3 0h2m18 0h1m-45 1h1m7 0h1m2 0h1m2 0h1m4 0h2m2 0h3m2 0h1m3 0h1m-34 1h1m7 0h1m12 0h1m7 0h1m7 0h1m5 0h1m-41 1h1m13 0h2m20 0h1m2 0h1"/><path stroke="#b01d2e" d="M29 0.5h1m1 0h1m1 0h1m1 0h1m-6 1h1m3 0h1m4 0h1m-5 1h1m2 0h1m3 0h1m-25 2h1m17 0h2m-25 1h1m1 0h2m21 0h1m-25 1h1m2 0h2m0 1h1m13 0h1m-20 1h1m-4 1h1m3 0h2m2 0h1m1 1h1m-10 1h1m3 0h1m7 0h1m3 0h1m6 0h1m-23 1h4m-3 1h1m14 0h1m7 0h1m-22 1h1m2 0h1m5 0h2m8 0h1m-24 1h1m2 0h1m1 0h1m1 0h1m1 0h1m6 0h1m-13 1h1m2 0h1m1 0h1m2 0h1m8 0h1m11 0h1m-31 1h1m3 0h1m2 0h2m10 0h1m8 0h1m-27 1h3m4 0h1m16 0h1m4 0h1m1 0h1m-27 1h1m17 0h1m-28 1h1m1 0h1m23 0h1m3 0h2m-33 1h2m4 0h1m28 0h1m-34 1h1m11 0h1m10 0h1m-26 1h1m2 0h2m1 0h4m26 0h1m-34 1h2m15 0h1m4 0h1m7 0h1m-30 1h1m1 0h2m27 0h1m1 0h1m-37 1h1m1 0h1m3 0h1m19 0h1m8 0h1m-34 1h2m4 0h2m2 0h1m-12 1h2m2 0h3m5 0h1m8 0h1m-20 1h1m7 0h1m4 0h1m4 0h1m11 0h1m-30 1h1m3 0h2m7 0h1m8 0h1m8 0h1m-41 1h1m15 0h1m2 0h1m13 0h1m-40 1h1m1 0h1m18 0h1m8 0h1m2 0h1m5 0h3m-44 1h1m8 0h1m8 0h1m22 0h1m1 0h1m-41 1h1m3 0h2m10 0h1m4 0h1m11 0h1m6 0h1m1 0h1m-46 1h1m19 0h1m1 0h1m8 0h1m6 0h4m-39 1h1m1 0h2m18 0h1m12 0h1m-39 1h2m3 0h1m14 0h1m1 0h1m3 0h1m1 0h1m11 0h1m1 0h1m1 0h1m-39 1h2m10 0h1m4 0h1m2 0h1m-21 1h1m11 0h1m1 0h1m2 0h1m7 0h1m12 0h2m-35 1h1m4 0h1m8 0h1m16 0h1m2 0h1m-44 1h1m2 0h1m3 0h1m6 0h1m25 0h1m3 0h2m-37 1h2m8 0h1m-4 1h1m2 0h1m26 0h1m-44 1h1m7 0h1m10 0h1m-22 1h1m3 0h1m2 0h1m3 0h1m1 0h1m4 0h1m-6 1h1m6 0h2m9 0h1m11 0h1m-42 1h1m7 0h1m2 0h1m15 0h1m-28 1h1m13 0h2m3 0h3m-21 1h1m7 0h1m6 0h1m3 0h2m1 0h2"/><path stroke="#8e1428" d="M34 0.5h1m-3 1h1m8 0h1m-11 1h1m-3 1h1m-16 1h1m2 1h1m21 0h1m-30 1h1m5 0h1m-3 1h1m1 0h1m23 0h1m-23 1h1m-6 1h1m4 0h1m-4 1h2m15 0h1m-22 1h1m1 0h1m0 3h1m18 1h2m6 0h1m-22 1h1m1 0h1m6 0h1m-16 1h1m1 0h1m3 0h1m4 0h1m-6 1h1m1 0h2m-7 1h2m22 0h2m-31 1h1m1 0h1m6 0h1m5 0h1m-15 2h1m2 0h1m32 0h1m-37 1h1m3 0h1m9 0h2m-16 1h1m9 0h1m-6 2h1m5 0h1m-11 1h1m2 1h1m29 1h1m-16 1h1m4 0h1m-38 1h2m-1 1h1m3 0h1m11 0h1m31 0h1m-22 1h1m-29 1h1m2 1h2m3 0h1m19 0h1m-29 1h1m12 0h1m3 0h1m11 0h1m15 0h1m-34 1h1m11 0h1m-23 1h1m-3 1h1m2 0h1m1 0h1m24 0h1m10 0h2m-14 1h1m2 0h1m13 0h1m-35 1h1m1 1h1m8 0h2m17 0h1m-37 2h1m27 1h1m-17 2h1m-17 1h1m16 1h1m18 0h1"/><path stroke="#6d0a22" d="M24 1.5h1m7 1h1m-5 1h1m-15 2h1m0 2h1m-4 1h1m6 0h1m6 0h1m3 1h1m-17 1h1m2 0h1m11 1h1m-19 1h1m1 1h1m9 3h1m-6 1h1m-3 2h1m15 0h1m-16 1h1m30 0h1m-34 1h1m1 1h1m-4 1h1m0 2h1m1 0h1m14 0h1m-17 1h1m5 0h1m-3 1h1m10 2h1m-29 3h1m-3 1h2m-1 1h1m2 0h1m20 1h1m14 1h1m-39 1h1m17 0h1m19 0h1m1 1h1m-43 1h1m-1 1h1m29 0h1m12 0h1m-2 3h1m-44 2h1m0 1h1m20 0h1m21 1h1m-36 1h1m8 0h1m3 1h2"/></g><use href="#G" clip-path="url(#T)" fill="none" stroke="#d8d2d0" stroke-opacity="0.85" stroke-width="0.17"/></g><text x="1459.7" y="1036.0" font-size="22" fill="#111">chr8: 85379165-85382665</text><g transform="translate(120.00 1320.90) scale(4.670)"><g fill="none" stroke-width="1.02"><path stroke="#4263a9" d="M7 0.5h1m24 0h1m1 0h2m-9 1h1m8 0h1m1 0h1m1 0h1m-22 1h1m11 0h1m9 0h2m-20 1h1m-7 2h1m6 0h1m1 0h2m14 0h1m-28 1h1m26 0h1m-29 2h2m6 0h1m2 0h1m-12 1h1m1 0h1m1 0h1m22 0h1m4 0h1m2 0h1m-38 1h1m1 0h1m2 0h1m10 0h1m-18 1h1m4 0h1m4 0h1m16 0h1m5 0h1m-24 1h1m3 0h1m12 0h1m7 0h1m-27 1h1m17 0h2m-23 1h1m7 0h2m9 0h1m-3 1h1m-23 1h1m8 0h1m12 0h1m4 0h1m-26 1h1m5 1h1m18 0h1m-13 1h1m8 0h2m-9 1h2m-6 1h1m8 1h1m3 2h1m-13 1h1m-8 1h1m1 0h1m-4 1h1m3 1h1m21 0h1m2 3h1m-25 1h1m16 0h1m-30 1h1m29 0h2m1 0h1m3 0h1m-20 2h1m14 0h2m-32 1h1m-1 1h1m6 0h1m9 0h2m-27 2h1m12 0h1m7 0h2m-20 1h1m9 0h2m8 0h1m15 0h1m-42 1h1m15 0h1m11 0h1m-21 1h1m34 0h1m1 0h1m-31 1h1m8 0h1m-17 2h2m17 0h1m-27 1h1m1 0h1m12 0h2m-2 1h1m5 0h1m5 0h1m-31 1h1m34 0h1m5 0h1m-26 1h1m2 0h1m4 0h1"/><path stroke="#4970b3" d="M8 0.5h2m14 0h1m-17 1h1m15 0h2m2 0h2m4 0h1m-35 1h1m12 0h1m12 0h3m4 0h3m-2 1h1m-27 1h1m4 0h1m3 0h2m2 0h1m2 0h2m2 0h1m8 0h1m3 0h1m-34 1h2m3 0h1m1 0h1m3 0h2m4 0h1m13 0h1m1 0h1m2 0h1m2 0h1m-29 1h1m19 0h1m4 0h1m2 0h1m-46 1h1m9 0h2m6 0h1m2 0h2m1 0h1m12 0h1m1 0h1m1 0h1m2 0h2m-38 1h1m12 0h1m18 0h1m-34 1h1m14 0h2m-24 1h1m12 0h2m9 0h2m-18 1h1m6 0h1m1 0h1m20 0h1m1 0h1m2 0h2m-46 1h1m8 0h1m1 0h1m1 0h1m1 0h1m6 0h1m2 0h1m3 0h1m2 0h2m2 0h1m11 0h1m-40 1h2m3 0h1m15 0h1m1 0h1m1 0h1m-24 1h1m3 0h1m6 0h1m3 0h1m3 0h1m-21 1h1m2 0h1m6 0h1m5 0h2m7 0h1m1 0h1m-25 1h2m2 0h1m7 0h3m1 0h1m7 0h1m-23 1h1m3 0h1m9 0h2m2 0h1m-19 1h1m5 0h2m1 0h2m1 0h1m3 1h1m7 0h1m8 0h1m-28 1h1m10 0h1m1 0h1m1 0h1m2 0h1m-9 1h1m-5 1h1m1 0h2m-3 1h1m1 0h1m2 0h1m-12 1h1m5 0h3m-9 1h2m4 0h1m7 0h1m2 0h1m6 1h2m-27 1h1m1 0h1m5 0h1m-6 1h1m-7 1h4m3 0h1m3 0h1m5 0h1m3 0h1m3 0h1m4 0h1m-33 1h1m3 0h1m5 0h1m3 0h1m10 0h1m-25 1h1m6 0h1m4 0h1m1 0h2m3 0h2m2 0h1m2 0h2m-30 1h4m1 0h1m8 0h1m2 0h1m4 0h1m2 0h2m4 0h1m-36 1h1m15 0h2m3 0h1m2 0h2m5 0h1m1 0h1m1 0h1m1 0h1m-37 1h1m2 0h1m1 0h1m3 0h1m7 0h1m9 0h1m4 0h1m3 0h1m-35 1h1m12 0h1m12 0h1m-20 1h2m1 0h1m1 0h1m3 0h2m5 0h2m1 0h1m2 0h2m1 0h1m-32 1h3m6 0h1m1 0h2m10 0h2m-30 1h1m3 0h1m2 0h2m1 0h1m-20 1h1m6 0h1m5 0h1m1 0h1m2 0h2m3 0h1m5 0h1m8 0h1m4 0h1m-36 1h1m13 0h3m17 0h1m2 0h1m-30 1h1m7 0h1m15 0h2m-39 1h1m7 0h2m7 0h1m1 0h2m3 0h2m-29 1h1m1 0h1m4 0h1m5 0h1m2 0h1m6 0h1m1 0h1m-21 1h1m3 0h1m4 0h3m6 0h1m2 0h1m18 0h1m-41 1h1m10 0h1m2 0h2m2 0h1m8 0h1m12 0h1m-44 1h1m6 0h1m3 0h1m2 0h2m3 0h1m1 0h1m1 0h1m1 0h1m4 0h2m2 0h1m6 0h2m-46 1h1m16 0h1m5 0h1m4 0h1m15 0h1m-39 1h1m3 0h1m3 0h1m9 0h3m1 0h1m1 0h1m10 0h1m-38 1h1m1 0h1m4 0h1m2 0h3m4 0h2m5 0h1m11 0h1"/><path stroke="#4f7cbc" d="M33 0.5h1m3 0h1m-8 1h2m3 0h1m-31 1h1m5 0h1m10 0h4m4 0h1m6 0h2m1 0h1m2 0h1m-16 1h3m-26 1h1m5 0h1m2 0h1m1 0h1m2 0h1m2 0h1m3 0h2m8 0h1m1 0h3m1 0h1m2 0h2m-41 1h2m2 0h1m5 0h1m1 0h1m2 0h3m19 0h1m2 0h1m-46 1h1m4 0h1m3 0h5m5 0h1m1 0h2m22 0h1m2 0h1m-50 1h1m13 0h3m2 0h1m20 0h1m1 0h1m1 0h1m3 0h2m-47 1h1m5 0h1m1 0h1m1 0h1m3 0h3m1 0h1m2 0h1m1 0h1m13 0h1m-26 1h1m3 0h1m1 0h2m5 0h1m15 0h1m2 0h2m-49 1h1m8 0h1m9 0h2m3 0h1m4 0h4m1 0h1m5 0h1m6 0h1m-48 1h1m8 0h1m4 0h2m4 0h1m5 0h1m1 0h1m2 0h3m1 0h1m3 0h1m1 0h1m1 0h1m4 0h2m-50 1h1m8 0h1m3 0h1m4 0h2m4 0h1m2 0h1m1 0h1m9 0h1m3 0h1m-32 1h1m4 0h2m3 0h2m1 0h1m1 0h1m2 0h1m1 0h1m3 0h1m11 0h1m-38 1h1m2 0h1m3 0h1m1 0h1m7 0h3m1 0h2m3 0h1m4 0h1m4 0h1m-35 1h1m1 0h1m1 0h2m1 0h1m1 0h1m1 0h3m2 0h2m1 0h2m5 0h1m8 0h2m-37 1h1m5 0h2m4 0h1m3 0h1m6 0h1m3 0h1m2 0h1m-29 1h1m2 0h2m1 0h1m1 0h2m1 0h1m8 0h1m2 0h1m2 0h1m-31 1h1m7 0h1m1 0h1m2 0h1m10 0h1m4 0h1m2 0h2m-34 1h1m2 0h1m4 0h4m6 0h1m9 0h1m2 0h2m-31 1h1m3 0h1m3 0h1m1 0h1m3 0h2m10 0h1m-17 1h1m2 0h1m1 0h1m14 0h1m-31 1h1m11 0h1m1 0h1m7 0h1m5 0h1m6 0h1m-23 1h2m2 0h1m-6 1h1m1 0h1m4 0h3m2 0h1m-10 1h1m2 0h1m1 0h1m9 0h1m1 0h1m-33 1h1m9 0h2m1 0h1m1 0h1m1 0h2m4 0h1m1 0h1m-22 1h1m3 0h1m4 0h1m2 0h1m3 0h1m13 0h1m-34 1h3m10 0h2m11 0h1m5 0h2m1 0h1m-39 1h1m1 0h1m1 0h1m1 0h1m6 0h1m4 0h1m1 0h1m1 0h3m5 0h1m1 0h1m1 0h3m-32 1h1m3 0h1m1 0h2m1 0h2m9 0h1m3 0h2m3 0h3m-45 1h1m3 0h1m2 0h1m4 0h1m1 0h1m5 0h1m2 0h2m3 0h1m2 0h3m2 0h2m2 0h1m2 0h1m-37 1h1m1 0h1m1 0h1m5 0h1m3 0h1m1 0h1m2 0h1m1 0h1m2 0h3m2 0h1m3 0h2m3 0h1m-48 1h1m8 0h1m5 0h1m4 0h5m5 0h2m1 0h2m3 0h1m6 0h1m-32 1h1m1 0h1m1 0h3m6 0h2m1 0h1m1 0h1m2 0h1m6 0h2m1 0h3m-32 1h1m2 0h1m1 0h1m1 0h1m1 0h1m3 0h3m5 0h2m3 0h1m4 0h1m-44 1h1m6 0h1m2 0h1m3 0h1m1 0h1m4 0h1m1 0h1m1 0h1m9 0h1m1 0h2m2 0h1m-47 1h1m1 0h1m1 0h1m1 0h1m6 0h1m5 0h2m8 0h1m14 0h2m-42 1h1m2 0h1m1 0h1m4 0h1m10 0h2m1 0h5m9 0h4m-36 1h1m2 0h1m2 0h1m6 0h2m4 0h1m2 0h1m8 0h3m-38 1h1m1 0h1m2 0h3m2 0h1m11 0h1m1 0h1m10 0h2m3 0h1m-47 1h1m2 0h1m5 0h1m1 0h2m1 0h1m1 0h1m5 0h3m3 0h2m11 0h1m4 0h1m-44 1h1m2 0h1m3 0h2m5 0h1m9 0h2m3 0h1m9 0h2m-44 1h2m8 0h1m1 0h2m3 0h1m5 0h2m1 0h1m4 0h1m11 0h1m-44 1h1m8 0h2m1 0h1m2 0h1m3 0h3m1 0h1m2 0h1m16 0h2m-45 1h1m10 0h1m3 0h2m2 0h2m6 0h2m6 0h1m1 0h6m3 0h1m-39 1h1m3 0h2m8 0h1m3 0h1m1 0h1m1 0h2m-28 1h1m4 0h2m2 0h1m7 0h1m1 0h1m3 0h1m2 0h1m-31 1h2m10 0h2m2 0h2m1 0h1m4 0h1m3 0h1m1 0h1m1 0h1m5 0h2m-39 1h1m4 0h1m3 0h1m2 0h2m5 0h1m3 0h1m2 0h1m2 0h1m6 0h4m1 0h1"/><path stroke="#5689c6" d="M4 0.5h1m24 0h3m-29 1h1m5 0h1m22 0h2m3 0h1m3 0h1m-13 1h1m2 0h1m3 0h1m2 0h1m-18 1h1m-11 1h1m2 0h1m7 0h1m-13 1h2m1 0h1m23 0h1m-23 1h1m1 0h1m2 0h1m2 0h1m15 0h2m6 0h1m-32 1h2m2 0h2m2 0h1m6 0h2m-33 1h1m10 0h1m30 0h1m5 0h1m-39 1h3m6 0h1m2 0h1m6 0h2m7 0h1m3 0h1m-43 1h1m8 0h1m10 0h3m1 0h1m15 0h2m-31 1h2m4 0h1m3 0h3m4 0h1m17 0h1m-37 1h1m8 0h1m1 0h1m8 0h2m8 0h2m4 0h1m-35 1h2m1 0h1m2 0h1m1 0h1m6 0h1m5 0h1m2 0h1m8 0h2m-35 1h1m1 0h1m3 0h1m1 0h2m1 0h1m9 0h2m2 0h2m4 0h3m1 0h2m-38 1h1m10 0h1m7 0h1m5 0h1m2 0h1m1 0h1m3 0h2m-32 1h2m4 0h3m7 0h2m1 0h1m1 0h1m6 0h1m-23 1h1m2 0h1m1 0h1m5 0h1m3 0h1m1 0h1m4 0h1m2 0h1m-31 1h1m9 0h1m5 0h1m2 0h2m-26 1h2m2 0h1m1 0h1m4 0h4m1 0h1m6 0h1m2 0h1m2 0h1m4 0h1m-36 1h1m7 0h1m4 0h1m1 0h1m5 0h1m3 0h1m4 0h1m-30 1h1m7 0h3m4 0h1m3 0h1m15 0h3m-38 1h1m3 0h1m9 0h1m2 0h1m7 0h1m6 0h1m-30 1h2m1 0h1m2 0h2m1 0h1m-6 1h1m2 0h1m20 0h1m-32 1h3m4 0h1m1 0h2m4 0h1m4 0h1m1 0h1m12 0h1m-48 1h1m13 0h5m6 0h1m1 0h1m1 0h1m2 0h4m1 0h1m6 0h1m-32 1h2m1 0h1m2 0h2m2 0h1m3 0h2m10 0h1m3 0h4m-35 1h2m3 0h1m2 0h2m1 0h2m1 0h1m2 0h2m2 0h1m1 0h1m7 0h1m1 0h1m-45 1h1m10 0h1m5 0h1m4 0h1m3 0h1m4 0h1m6 0h1m-38 1h1m10 0h1m1 0h1m8 0h1m5 0h1m1 0h4m3 0h1m3 0h2m3 0h2m-37 1h1m2 0h1m2 0h2m1 0h1m1 0h1m24 0h1m-39 1h1m3 0h1m6 0h1m2 0h1m1 0h1m4 0h1m12 0h2m2 0h1m-50 1h1m8 0h1m3 0h3m4 0h1m9 0h1m9 0h1m-41 1h1m6 0h1m6 0h1m8 0h3m1 0h1m9 0h2m2 0h2m-36 1h1m2 0h3m1 0h1m1 0h1m1 0h1m8 0h1m9 0h1m4 0h1m3 0h2m-45 1h1m3 0h1m2 0h1m2 0h1m2 0h3m10 0h1m-18 1h1m2 0h1m8 0h1m18 0h1m-39 1h1m10 0h2m2 0h1m1 0h3m2 0h1m13 0h1m-37 1h1m1 0h1m3 0h1m10 0h1m3 0h1m17 0h1m-45 1h1m1 0h1m11 0h1m7 0h2m3 0h1m15 0h1m-39 1h1m2 0h1m1 0h1m10 0h1m3 0h1m4 0h1m13 0h1m-45 1h1m6 0h1m1 0h1m6 0h1m4 0h1m9 0h1m12 0h1m-37 1h1m2 0h1m4 0h1m3 0h3m6 0h2m17 0h2m-48 1h1m3 0h1m1 0h1m4 0h1m10 0h1m2 0h1m1 0h1m1 0h1m16 0h1m-48 1h3m1 0h2m2 0h1m7 0h1m5 0h1m5 0h2m1 0h1m-32 1h1m1 0h1m5 0h2m3 0h1m1 0h2m6 0h1m7 0h1m3 0h1m7 0h1m-43 1h1m4 0h2m2 0h2m2 0h3m1 0h1m5 0h1m2 0h1m2 0h1m1 0h1m7 0h1m2 0h1m-41 1h1m3 0h3m7 0h1m2 0h1m14 0h1m7 0h1m-45 1h1m1 0h1m1 0h1m4 0h1m9 0h1m5 0h1m2 0h1m2 0h1"/><path stroke="#659bcf" d="M23 1.5h1m15 0h1m-31 3h1m19 0h1m3 0h1m-6 1h1m11 0h1m-24 1h1m7 0h1m17 0h1m-34 1h2m4 1h1m3 0h1m20 0h1m4 0h1m-37 1h1m31 0h1m-32 1h1m6 0h1m14 0h1m5 0h1m-15 1h1m1 0h1m2 0h1m-3 1h1m6 0h2m3 0h1m-32 1h1m16 0h1m18 0h1m3 0h1m-9 1h1m-26 1h1m2 0h1m15 0h1m7 0h1m1 0h1m-15 1h1m13 0h5m-37 1h1m29 0h1m4 0h1m-37 1h2m1 0h1m2 0h1m15 0h1m3 0h1m2 0h2m2 0h4m-32 1h1m26 0h2m1 0h1m-34 1h2m2 0h1m6 0h1m12 0h1m4 0h1m1 0h1m2 0h1m-35 1h1m3 0h1m20 0h1m1 0h1m2 0h1m-34 1h1m7 0h1m1 0h2m1 0h1m15 0h1m1 0h1m-32 1h2m1 0h1m5 0h1m2 0h1m1 0h1m2 0h1m14 0h1m5 0h1m-39 1h2m5 0h1m1 0h1m3 0h1m1 0h1m8 0h2m8 0h1m1 0h1m-33 1h1m9 0h1m9 0h2m7 0h1m3 0h1m-10 1h1m3 0h1m5 0h1m-39 1h1m13 0h1m22 0h1m-40 1h1m1 0h1m7 0h1m-10 1h1m5 0h1m11 0h1m19 0h1m-41 1h1m2 0h2m1 0h1m3 0h1m18 0h1m-34 1h1m6 0h2m1 0h1m6 0h1m20 0h1m5 0h1m-45 1h1m8 0h1m23 0h1m-35 1h1m3 0h1m9 0h3m6 0h1m-24 1h1m6 0h1m1 0h1m26 0h1m-35 1h1m3 0h1m9 0h1m1 0h1m1 0h1m1 0h1m23 0h1m-48 1h1m1 0h1m1 0h1m1 0h2m1 0h1m8 0h1m-12 1h3m10 0h2m18 0h1m-42 1h1m6 0h1m3 0h2m26 0h1m-29 1h1m5 0h1m-15 1h2m1 0h1m7 0h1m15 0h1m-30 1h1m3 0h1m6 0h1m1 0h1m31 0h1m-47 1h1m2 0h1m10 0h1m7 0h1m-10 1h1m29 0h1m-44 1h1m28 0h1m-27 1h1m-5 1h1m1 0h1m3 0h1m30 0h1m-38 1h1m4 0h2m-4 1h1m2 0h1m7 0h1m5 0h1m2 0h1m-21 1h1m4 0h1m2 0h1"/><path stroke="#75aed8" d="M26 0.5h1m-1 1h1m-7 3h1m26 4h1m-14 3h1m-18 1h1m6 1h1m4 0h1m14 2h1m-3 1h1m-11 1h1m3 0h1m5 0h1m2 0h1m3 0h1m-1 1h1m-38 2h1m29 0h1m3 0h2m-37 1h1m1 0h1m1 0h2m2 0h1m20 0h1m1 0h1m-29 1h2m2 0h1m4 0h1m12 0h1m8 0h1m1 1h2m-36 1h2m2 0h1m3 0h1m24 0h1m1 0h1m-33 1h1m3 0h1m25 0h1m-36 1h2m9 0h1m22 0h2m-16 1h1m17 0h1m-47 1h1m6 0h1m7 0h1m-11 1h1m-9 1h1m3 0h1m1 0h1m3 0h1m8 0h1m-20 1h1m-1 1h1m8 0h1m-9 2h1m2 0h2m2 0h1m2 0h1m-11 1h3m2 0h1m-7 1h1m4 1h1m1 0h1m18 0h1m3 0h1m-25 1h1m-7 1h2m1 0h2m9 0h1m-14 1h1m1 0h1m28 0h1m-32 1h1m0 1h1m5 0h1m17 0h1m-24 1h1m2 0h1m7 1h1m-7 1h1m1 0h1m3 0h1m-12 2h1m37 1h1"/><path stroke="#84c0e1" d="M0 17.5h1m47 2h1m-29 1h1m-4 1h1m6 0h1m21 0h1m-27 1h1m22 0h1m2 0h1m2 0h1m-37 1h1m3 0h1m27 0h2m-32 1h1m33 0h1m-1 1h1m-38 2h1m-6 2h1m1 0h1m4 0h1m-14 1h1m7 0h1m-9 1h1m4 0h1m2 0h1m-9 1h1m5 0h1m-2 1h1m-1 1h1m-7 1h1m3 0h1m3 0h1m-1 2h1m-9 1h1m1 0h1m2 5h1"/><path stroke="#9dcce2" d="M49 20.5h1m-5 1h1m1 1h1m-29 1h1m24 0h1m-29 1h1m1 1h1m-16 5h1m1 2h1m2 0h1m-4 1h1m-5 4h1m1 1h1m1 10h1"/><path stroke="#b5d8e4" d="M44 20.5h1m-38 6h1m-1 4h1m-6 1h1m2 0h1m2 0h1m-6 1h1m2 0h1m-5 2h1m0 3h1"/><path stroke="#cadace" d="M17 22.5h1m-17 6h2m0 1h1m-2 4h1"/><path stroke="#dbd6aa" d="M5 14.5h1m-2 7h1m2 3h1m-5 3h2"/><path stroke="#e4cb83" d="M2 19.5h1m7 3h1m-8 2h1m0 4h1m3 5h1m31 7h1"/><path stroke="#e9bd59" d="M15 12.5h1m1 5h1m28 0h1m-40 2h1m1 4h1m-1 1h1m-10 3h1m-1 1h1m-1 1h1m3 0h1m0 1h1m20 15h1m6 1h1"/><path stroke="#ecaa3e" d="M48 5.5h1m-8 10h1m2 9h1m-44 3h2m-1 2h1m23 5h1m0 7h1"/><path stroke="#ee9239" d="M36 0.5h1m11 8h1m-13 3h1m-31 17h1m-5 4h1m24 1h1m-4 3h1m-22 8h1m10 3h1"/><path stroke="#eb7434" d="M43 4.5h1m-6 29h1m-38 3h1m39 1h1m-35 6h1"/><path stroke="#e04d2f" d="M29 9.5h1m-23 7h1m-7 2h1m18 8h1m17 4h1m-30 4h1m20 5h1"/><path stroke="#d4322b" d="M13 10.5h1m-4 4h1m-3 1h1m39 13h1m-17 6h1m7 1h1m-20 5h1m-17 4h1"/><path stroke="#c82b2a" d="M26 6.5h1m-10 3h1m20 12h1m-22 4h1m-14 19h1"/><path stroke="#bc2328" d="M28 24.5h1m-14 3h1m-12 6h1m8 2h1m22 10h1"/><path stroke="#b01c26" d="M2 12.5h4m-6 1h7m-7 1h5m1 0h2m-8 1h8m-7 1h6m1 0h1m-8 1h9m-10 1h1m1 0h8m-10 1h2m1 0h4m1 0h2m-10 1h10m-10 1h4m1 0h6m-11 1h5m1 0h4m-10 1h9m1 0h1m-11 1h3m1 0h3m1 0h1m1 0h1m-11 1h11m-10 1h6m1 0h3m-6 1h6m-6 1h1m1 0h2m-4 1h2m24 12h1"/></g><use href="#G" clip-path="url(#T)" fill="none" stroke="#f4f6fb" stroke-opacity="0.85" stroke-width="0.17"/></g><g transform="translate(458.50 1320.90) scale(4.670)"><g fill="none" stroke-width="1.02"><path stroke="#4263a9" d="M24 0.5h1m8 0h1m1 0h2m-10 1h1m-28 1h1m35 0h3m3 0h1m-21 1h1m11 0h1m-13 1h1m15 0h1m6 0h1m-40 1h1m8 0h1m30 0h1m-36 1h1m6 0h2m19 0h1m6 0h1m-32 1h1m7 0h1m8 0h1m13 0h1m2 0h1m-41 1h1m5 0h1m-7 1h1m1 0h1m3 0h1m4 0h1m1 0h1m7 0h1m11 0h2m2 0h1m-35 1h1m2 0h1m2 0h2m12 0h1m8 0h2m-22 1h1m7 0h1m16 0h1m-17 1h1m2 0h1m1 0h1m5 0h1m5 0h1m-37 1h1m8 0h1m6 0h2m19 0h1m-24 1h1m5 0h1m7 0h1m2 0h1m1 0h1m1 0h1m1 0h1m-29 1h1m6 0h1m11 0h1m4 0h1m-33 1h1m14 0h1m5 0h1m4 0h1m3 0h1m2 0h1m1 0h1m-35 1h1m11 0h1m16 0h1m-19 1h1m19 0h1m-34 1h1m5 0h2m13 0h1m5 0h1m-25 1h1m2 0h1m12 0h1m7 0h1m2 0h2m-17 1h1m-8 1h1m28 0h1m-34 1h1m1 0h2m25 0h1m4 0h1m-48 1h1m19 0h1m14 0h2m-29 1h1m5 0h1m1 0h1m8 0h2m4 0h1m3 0h1m6 0h1m4 0h1m-12 1h1m8 0h1m-44 1h1m6 0h1m13 0h1m-5 1h1m11 0h1m11 0h1m-40 1h1m5 0h1m10 0h1m12 0h1m-29 1h1m2 0h1m6 0h1m7 0h2m12 0h1m8 0h1m-47 1h1m20 0h1m1 0h1m8 0h1m2 0h2m-28 1h1m4 0h2m10 0h1m4 0h1m4 0h1m-22 1h1m7 0h1m1 0h1m3 0h1m-33 1h1m12 0h1m3 0h1m6 0h1m7 0h1m3 0h1m5 0h1m-21 1h1m6 0h1m-20 1h1m2 0h1m6 1h3m2 0h1m4 0h2m-24 1h1m12 0h1m6 0h1m11 0h1m-35 1h1m3 0h1m9 0h1m1 0h1m6 0h1m12 0h1m-36 1h1m2 0h1m2 0h4m3 0h1m3 0h1m15 0h1m-40 1h1m1 0h1m2 0h1m5 0h1m1 0h1m1 0h1m1 0h1m-19 1h1m16 0h1m11 0h1m12 0h2m3 0h1m-48 1h1m1 0h1m4 0h3m1 0h2m6 0h1m1 0h2m20 0h1m-44 1h1m15 0h1m4 0h1m3 0h1m2 0h1m14 0h1m-34 1h1m11 0h1m12 0h1m-36 1h2m3 0h2m12 0h1m1 0h1m11 0h1m2 0h2m-38 1h1m3 0h1m2 0h2m4 0h1m1 0h1m1 0h1m3 0h1m10 0h1m8 0h1m-32 1h2m13 0h1m12 0h2m-37 1h1m9 0h1m2 0h1m2 0h1m1 0h4m4 0h2m6 0h1"/><path stroke="#4970b3" d="M26 0.5h1m2 0h1m1 0h1m-29 1h1m20 0h2m2 0h1m1 0h3m5 0h2m1 0h1m-23 1h1m3 0h2m2 0h2m2 0h3m1 0h1m3 0h2m-18 1h1m5 0h1m-22 1h1m2 0h1m2 0h2m1 0h1m3 0h1m3 0h5m3 0h1m5 0h2m-34 1h2m7 0h1m7 0h4m10 0h3m7 0h1m-35 1h1m9 0h3m13 0h2m1 0h2m4 0h1m-50 1h1m1 0h1m8 0h1m4 0h1m5 0h1m1 0h2m13 0h6m-34 1h1m4 0h3m2 0h1m3 0h1m17 0h1m2 0h1m1 0h1m-39 1h1m5 0h2m1 0h1m4 0h1m3 0h1m2 0h1m7 0h1m1 0h1m2 0h1m2 0h1m-37 1h1m13 0h3m2 0h1m3 0h1m4 0h1m7 0h1m-48 1h1m11 0h1m4 0h1m4 0h2m2 0h1m3 0h1m4 0h1m2 0h2m1 0h2m1 0h1m2 0h2m-37 1h8m5 0h1m3 0h1m2 0h1m1 0h1m2 0h3m2 0h1m6 0h1m-49 1h1m8 0h1m1 0h2m3 0h1m3 0h2m3 0h1m5 0h2m12 0h2m-37 1h2m1 0h1m1 0h1m2 0h2m1 0h1m9 0h3m1 0h1m1 0h1m2 0h1m5 0h1m1 0h1m-39 1h1m4 0h2m8 0h1m3 0h2m3 0h1m1 0h1m7 0h1m2 0h1m-35 1h1m4 0h2m1 0h1m1 0h1m3 0h1m1 0h2m2 0h1m1 0h2m5 0h1m-29 1h2m3 0h1m1 0h2m6 0h1m1 0h1m3 0h1m4 0h1m6 0h1m-48 1h1m10 0h2m2 0h1m4 0h1m4 0h1m9 0h1m2 0h3m3 0h3m-36 1h2m2 0h1m4 0h1m1 0h2m14 0h1m1 0h1m1 0h1m5 0h1m-31 1h1m6 0h4m6 0h2m5 0h2m1 0h2m1 0h1m-39 1h4m8 0h1m1 0h1m1 0h2m3 0h1m6 0h1m1 0h1m2 0h1m1 0h1m-33 1h1m5 0h1m1 0h1m1 0h1m3 0h2m1 0h1m2 0h1m1 0h1m6 0h2m-24 1h1m2 0h1m2 0h3m1 0h1m2 0h1m11 0h2m-48 1h1m13 0h1m3 0h1m5 0h5m1 0h1m2 0h1m2 0h1m10 0h1m-46 1h1m2 0h1m6 0h1m7 0h2m4 0h1m4 0h1m4 0h1m8 0h4m-35 1h1m1 0h4m1 0h1m3 0h1m1 0h1m1 0h1m1 0h1m5 0h1m1 0h1m3 0h1m2 0h1m2 0h1m-45 1h1m6 0h1m1 0h1m2 0h1m5 0h1m4 0h1m1 0h2m11 0h1m1 0h1m-43 1h1m2 0h1m5 0h1m1 0h1m1 0h3m1 0h1m3 0h1m1 0h2m2 0h1m4 0h1m13 0h1m-46 1h1m4 0h1m4 0h1m4 0h4m1 0h1m2 0h1m2 0h1m2 0h2m4 0h1m1 0h1m2 0h1m1 0h1m1 0h1m-49 1h1m9 0h1m4 0h1m1 0h1m4 0h2m1 0h1m4 0h2m4 0h1m2 0h1m2 0h1m2 0h1m-35 1h2m18 0h1m8 0h2m7 0h1m-50 1h1m1 0h1m2 0h1m1 0h1m2 0h1m5 0h1m3 0h1m6 0h1m2 0h1m1 0h1m3 0h1m4 0h3m-44 1h1m4 0h1m6 0h2m9 0h1m11 0h1m4 0h2m6 0h1m-48 1h1m4 0h2m3 0h2m1 0h2m4 0h2m1 0h1m7 0h1m5 0h2m4 0h1m2 0h2m-48 1h1m3 0h1m1 0h1m3 0h1m2 0h1m2 0h1m7 0h4m2 0h1m11 0h1m1 0h1m-45 1h1m3 0h1m3 0h1m6 0h1m2 0h1m3 0h1m6 0h1m2 0h1m6 0h2m1 0h3m1 0h2m-48 1h4m1 0h3m2 0h2m4 0h1m7 0h1m4 0h1m2 0h1m8 0h1m3 0h1m-46 1h1m1 0h1m3 0h1m4 0h1m1 0h1m1 0h1m1 0h4m1 0h3m1 0h1m2 0h1m2 0h1m8 0h2m-43 1h1m2 0h1m7 0h1m4 0h2m3 0h1m6 0h1m2 0h1m8 0h2m1 0h2m-45 1h1m1 0h1m1 0h2m3 0h1m1 0h1m9 0h2m5 0h1m1 0h1m1 0h1m9 0h1m4 0h1m-48 1h1m1 0h1m1 0h1m5 0h1m2 0h1m1 0h1m4 0h3m2 0h1m1 0h3m11 0h1m2 0h1m1 0h2m-47 1h1m3 0h1m1 0h1m2 0h2m2 0h1m1 0h1m4 0h1m1 0h1m3 0h1m2 0h2m-29 1h2m1 0h1m6 0h4m6 0h3m1 0h1m1 0h2m13 0h1m4 0h1m-49 1h4m2 0h2m1 0h1m3 0h2m2 0h1m5 0h1m1 0h2m2 0h1m-29 1h1m5 0h1m2 0h1m2 0h1m2 0h2m2 0h1m1 0h1m2 0h1m7 0h1m5 0h2m4 0h2m-45 1h1m5 0h1m1 0h2m1 0h2m2 0h1m5 0h1m1 0h4m5 0h1m9 0h1m-44 1h1m2 0h1m3 0h1m1 0h1m4 0h1m1 0h2m3 0h1m2 0h1m4 0h1m12 0h1m-45 1h2m2 0h4m5 0h1m2 0h1m2 0h3m2 0h1m1 0h2m2 0h2m5 0h1m4 0h1m1 0h1m-44 1h1m2 0h1m2 0h4m1 0h1m1 0h2m1 0h2m1 0h1m17 0h3m1 0h1"/><path stroke="#4f7cbc" d="M7 0.5h3m27 0h1m-30 1h2m13 0h1m2 0h1m2 0h1m3 0h5m-33 1h1m5 0h1m1 0h1m8 0h1m2 0h2m2 0h1m4 0h1m6 0h1m1 0h1m-16 1h1m1 0h1m-26 1h1m3 0h1m2 0h1m3 0h1m2 0h2m2 0h2m11 0h2m3 0h3m2 0h1m-38 1h1m2 0h3m3 0h3m1 0h2m23 0h1m-47 1h1m4 0h1m3 0h1m1 0h1m2 0h3m2 0h4m18 0h1m5 0h1m-39 1h1m1 0h3m2 0h1m1 0h3m4 0h1m6 0h1m13 0h2m-39 1h1m2 0h2m4 0h2m2 0h2m16 0h2m4 0h1m1 0h1m-38 1h3m3 0h1m2 0h1m3 0h1m23 0h1m-49 1h1m15 0h1m2 0h4m5 0h1m3 0h1m6 0h1m-31 1h1m3 0h3m2 0h2m4 0h1m1 0h1m3 0h1m1 0h2m1 0h1m6 0h1m1 0h1m3 0h1m-50 1h1m2 0h2m6 0h1m9 0h3m3 0h1m3 0h1m8 0h1m2 0h1m2 0h1m-33 1h3m1 0h2m3 0h1m5 0h2m4 0h5m5 0h1m3 0h1m-35 1h1m1 0h2m5 0h1m3 0h1m1 0h1m4 0h1m9 0h1m-33 1h3m2 0h1m2 0h3m1 0h1m3 0h1m2 0h1m1 0h1m3 0h1m1 0h1m1 0h2m2 0h1m2 0h1m-37 1h1m1 0h2m1 0h1m2 0h1m1 0h1m2 0h1m2 0h1m2 0h1m2 0h1m10 0h1m1 0h1m-35 1h1m2 0h3m1 0h1m2 0h1m1 0h2m3 0h1m2 0h2m1 0h3m4 0h1m1 0h1m2 0h1m-41 1h1m1 0h1m3 0h1m2 0h1m1 0h1m1 0h2m3 0h1m6 0h1m2 0h1m4 0h2m4 0h2m-41 1h1m9 0h2m6 0h3m6 0h1m3 0h1m1 0h1m1 0h1m2 0h2m-38 1h1m1 0h1m4 0h1m2 0h1m1 0h2m10 0h1m3 0h2m4 0h1m-36 1h1m5 0h2m1 0h4m17 0h1m1 0h1m2 0h1m3 0h1m-38 1h1m2 0h2m1 0h1m2 0h1m3 0h3m2 0h1m6 0h1m3 0h1m3 0h1m1 0h1m1 0h1m-46 1h1m5 0h5m4 0h1m2 0h2m1 0h1m17 0h1m1 0h1m2 0h1m-39 1h1m2 0h1m1 0h1m1 0h1m1 0h3m9 0h2m10 0h2m1 0h1m1 0h2m-37 1h3m1 0h1m1 0h1m2 0h3m9 0h1m5 0h1m2 0h1m-43 1h1m2 0h1m5 0h2m3 0h1m4 0h1m2 0h2m3 0h1m3 0h3m1 0h1m7 0h1m3 0h1m-49 1h1m5 0h2m5 0h1m4 0h3m1 0h1m1 0h1m2 0h1m11 0h1m7 0h1m-41 1h1m1 0h2m2 0h1m11 0h1m2 0h2m10 0h1m2 0h1m2 0h3m-49 1h1m6 0h1m3 0h1m3 0h1m1 0h2m7 0h1m1 0h1m2 0h1m3 0h1m9 0h1m1 0h1m-46 1h2m9 0h1m2 0h1m2 0h1m4 0h1m12 0h2m2 0h1m4 0h2m-48 1h2m2 0h1m3 0h3m3 0h1m3 0h5m2 0h1m1 0h1m2 0h1m5 0h2m6 0h1m1 0h3m-48 1h1m2 0h1m1 0h1m2 0h1m1 0h1m1 0h2m4 0h1m1 0h2m1 0h1m1 0h1m4 0h1m1 0h1m1 0h1m1 0h1m2 0h1m5 0h4m-46 1h1m2 0h2m1 0h2m2 0h1m1 0h1m2 0h2m1 0h1m1 0h2m1 0h1m1 0h3m1 0h2m1 0h3m3 0h6m1 0h1m-48 1h2m6 0h1m5 0h1m1 0h2m2 0h1m2 0h1m2 0h3m8 0h3m3 0h1m2 0h2m-47 1h1m3 0h2m2 0h2m1 0h2m1 0h3m1 0h1m6 0h1m2 0h2m4 0h2m4 0h1m1 0h2m1 0h1m-48 1h2m2 0h3m1 0h1m1 0h2m1 0h1m4 0h2m2 0h3m1 0h2m1 0h1m7 0h1m-27 1h3m2 0h2m4 0h1m2 0h2m11 0h1m4 0h1m-44 1h1m1 0h3m1 0h1m1 0h1m2 0h1m1 0h1m1 0h1m8 0h1m1 0h1m2 0h2m11 0h3m-42 1h1m2 0h1m1 0h1m2 0h4m2 0h2m3 0h5m17 0h1m-45 1h1m4 0h1m12 0h1m3 0h1m1 0h1m1 0h1m1 0h1m1 0h1m9 0h1m1 0h1m1 0h2m-39 1h2m1 0h1m14 0h1m3 0h3m9 0h2m-42 1h3m4 0h1m3 0h1m1 0h1m6 0h1m1 0h3m5 0h1m16 0h1m-45 1h1m11 0h2m1 0h1m5 0h1m1 0h1m2 0h1m16 0h1m-44 1h2m2 0h1m2 0h2m5 0h2m2 0h1m7 0h1m12 0h1m3 0h1m-49 1h2m1 0h5m1 0h1m2 0h2m1 0h2m2 0h2m4 0h1m1 0h2m1 0h1m1 0h1m3 0h1m1 0h1m3 0h1m-41 1h1m4 0h2m4 0h1m2 0h2m2 0h1m1 0h2m1 0h1m6 0h1m1 0h1m3 0h1m-38 1h1m1 0h1m8 0h1m7 0h1m3 0h2m1 0h2m1 0h1m-28 1h1m4 0h1m3 0h1m2 0h1m1 0h2m4 0h1m8 0h1m3 0h1m4 0h1m-40 1h1m2 0h1m5 0h1m13 0h4m2 0h1"/><path stroke="#5689c6" d="M4 0.5h1m25 0h1m1 0h1m1 0h1m5 1h1m-28 3h1m4 0h1m-9 1h2m5 0h1m3 0h1m6 0h1m12 0h4m-32 1h1m33 0h1m-30 1h1m-16 1h1m8 0h1m9 0h1m6 1h1m18 0h1m-49 1h1m9 0h1m2 0h2m1 0h1m7 0h1m6 0h1m-23 1h1m1 0h1m1 0h1m10 0h1m7 0h1m7 0h1m-31 1h1m13 0h1m1 0h1m9 0h1m-37 1h1m2 0h3m3 0h1m21 0h1m-32 1h2m8 0h1m10 0h1m5 0h1m1 0h1m7 0h1m-14 1h1m3 0h1m4 0h1m2 0h1m4 0h1m5 0h1m-31 1h1m7 0h1m14 0h1m3 0h1m4 0h1m-17 1h1m9 0h1m1 0h1m1 0h1m-31 1h1m1 0h1m5 0h1m2 0h1m4 0h1m1 0h1m2 0h1m-39 1h1m13 0h1m7 0h1m2 0h2m8 0h1m1 0h1m7 0h2m-43 1h1m7 0h1m2 0h1m6 0h1m2 0h1m6 0h1m15 0h1m-34 1h1m2 0h1m5 0h1m6 0h1m6 0h1m8 0h1m-38 1h2m1 0h1m3 0h1m5 0h1m16 0h1m1 0h1m3 0h1m-44 1h1m12 0h1m3 0h1m5 0h1m3 0h1m-20 1h2m3 0h1m6 0h1m5 0h1m4 0h2m9 0h1m-43 1h1m5 0h1m15 0h1m-26 1h1m8 0h1m2 0h1m9 0h1m3 0h1m3 0h1m4 0h1m9 0h1m-45 1h1m6 0h3m4 0h2m4 0h1m4 0h1m2 0h1m3 0h1m10 0h1m1 0h1m1 0h2m-50 1h2m2 0h2m5 0h1m3 0h1m3 0h1m2 0h2m20 0h1m-43 1h2m1 0h1m2 0h1m1 0h1m2 0h1m2 0h1m12 0h1m10 0h1m8 0h1m-49 1h1m3 0h3m6 0h1m6 0h1m21 0h2m3 0h1m-44 1h3m5 0h1m2 0h2m24 0h2m1 0h1m-31 1h1m7 0h1m1 0h1m12 0h1m5 0h1m-44 1h3m2 0h1m8 0h1m1 0h1m3 0h1m-18 1h2m2 0h1m18 0h1m5 0h1m10 0h1m-43 1h1m2 0h1m3 0h1m10 0h1m2 0h1m15 0h3m5 0h1m1 0h1m-47 1h1m12 0h2m3 0h1m4 0h1m14 0h1m3 0h1m-42 1h1m3 0h2m5 0h1m3 0h1m8 0h1m11 0h1m1 0h2m-43 2h1m28 0h1m1 0h1m-30 1h1m4 0h1m3 0h1m13 0h1m17 0h1m-22 1h2m-19 1h1m5 0h1m15 0h1m15 0h1m-35 1h1m0 1h1m5 0h1m11 0h1m-1 1h1m1 0h1m5 0h1m1 0h1m-36 1h1m26 0h1m12 0h1m1 0h1m-41 1h1m3 0h1m18 0h1m3 0h1m11 0h1m-44 1h1m6 0h1m4 0h1m14 0h1m13 0h1m-44 1h1m5 0h1m34 0h1"/><path stroke="#659bcf" d="M30 2.5h1m-30 6h1m24 0h1m-4 1h1m-22 1h1m6 0h1m18 0h1m-1 1h1m-27 1h1m6 0h1m10 0h1m7 0h1m-27 1h1m3 0h1m17 0h2m8 0h1m-22 1h1m12 0h1m-8 1h1m19 1h1m-40 1h1m19 3h1m12 0h1m-34 1h1m3 0h1m38 0h1m4 0h1m-46 1h2m-4 1h1m2 1h1m-5 1h2m2 0h1m24 0h1m5 0h1m-31 1h1m2 0h1m4 0h1m-11 1h1m-2 1h1m5 0h1m34 1h1m-40 1h1m4 0h1m10 0h1m-19 1h1m12 0h1m7 0h1m-16 1h1m36 0h1m-37 1h1m29 0h1m-31 1h1m16 0h1m-22 7h1m2 1h1m-8 1h1m45 1h1m-38 2h1m3 1h1m13 1h1"/><path stroke="#75aed8" d="M40 8.5h1m-40 4h1m3 0h1m-6 3h1m8 2h1m-10 1h1m-1 2h1m-1 2h1m34 0h1m-36 1h1m1 0h1m-2 1h1m1 0h1m-1 2h1m-2 1h1m-2 2h1m1 3h1m-2 7h1"/><path stroke="#84c0e1" d="M1 19.5h1"/><path stroke="#b5d8e4" d="M2 15.5h1"/><path stroke="#cadace" d="M6 15.5h1m0 1h1m-2 3h1"/><path stroke="#dbd6aa" d="M8 17.5h1"/><path stroke="#e4cb83" d="M6 20.5h1m-5 6h1"/><path stroke="#e9bd59" d="M23 14.5h1m-12 1h1"/><path stroke="#ecaa3e" d="M5 39.5h1m24 7h1"/><path stroke="#eb7434" d="M32 29.5h1m-2 7h1"/><path stroke="#e04d2f" d="M2 14.5h1m3 0h1m-5 4h1m5 0h1"/><path stroke="#d4322b" d="M18 11.5h1m-17 8h1m31 11h1m-34 5h1"/><path stroke="#c82b2a" d="M34 31.5h1"/><path stroke="#bc2328" d="M12 30.5h1m19 0h1"/><path stroke="#b01c26" d="M3 14.5h3m1 0h1m-7 1h1m1 0h3m1 0h2m-8 1h6m1 0h1m-8 1h7m-5 1h5m-5 1h3m1 0h2m-8 1h3m1 0h1m1 0h3m-9 1h3m1 0h5m-9 1h2m3 0h4m-5 1h5m-5 1h5m-4 1h3m23 0h1m-27 1h2m25 4h1m1 0h1m-4 1h2"/></g><use href="#G" clip-path="url(#T)" fill="none" stroke="#f4f6fb" stroke-opacity="0.85" stroke-width="0.17"/></g><g transform="translate(790.00 1320.90) scale(4.670)"><g fill="none" stroke-width="1.02"><path stroke="#4263a9" d="M4 0.5h1m28 0h2m-3 1h1m-8 1h1m3 0h1m12 0h1m-19 2h1m-14 1h1m1 0h1m10 0h1m2 0h2m15 0h1m-44 1h1m15 0h1m8 0h1m-17 1h1m1 0h3m3 1h1m21 0h1m-20 1h1m22 0h1m4 0h1m-33 1h1m10 0h1m5 0h1m-35 1h1m29 0h1m8 0h1m1 0h2m3 0h1m2 0h1m-48 1h1m1 0h1m26 0h1m1 0h2m6 0h1m-33 1h1m27 0h1m-20 2h1m6 0h1m20 0h1m-29 1h1m6 0h1m5 0h1m7 0h1m5 0h1m2 0h1m-36 2h1m11 0h1m18 0h1m-33 1h1m1 0h1m32 1h1m1 0h1m-34 2h1m9 0h1m2 0h1m15 0h1m3 0h1m-24 1h1m7 0h1m-8 1h1m3 1h1m13 0h1m-32 1h1m19 0h1m1 0h1m10 0h1m-30 1h1m14 0h1m11 0h1m-11 1h1m10 0h1m-29 1h1m13 0h1m7 0h1m-22 1h1m3 0h1m1 0h2m8 0h1m5 0h1m1 0h1m3 1h1m-29 1h1m4 0h1m21 0h1m-22 1h1m20 0h2m-30 1h1m3 0h1m8 0h1m17 0h1m-29 1h1m21 0h1m-23 1h1m18 0h2m4 0h1m-2 2h1m-32 1h1m9 0h2m3 0h1m-6 1h4m15 0h1m-22 3h1m5 0h1m20 0h1m-38 1h1m6 0h2m9 0h1m-3 1h1m-12 1h1m6 0h2m1 0h1m1 0h1m5 0h1m-22 1h1m-10 1h1m15 0h1m5 0h2m-8 1h1m2 0h1"/><path stroke="#4970b3" d="M9 0.5h1m14 0h1m1 0h1m3 0h1m5 0h1m-28 1h1m16 0h1m3 0h1m9 0h1m-41 1h1m22 0h1m8 0h2m2 0h4m3 0h1m-22 1h1m5 0h1m5 0h1m-21 1h2m1 0h2m6 0h1m1 0h1m13 0h1m4 0h1m-41 1h1m3 0h1m1 0h1m3 0h1m3 0h1m1 0h1m2 0h1m14 0h1m2 0h1m-24 1h3m1 0h1m19 0h1m4 0h1m-39 1h1m8 0h1m2 0h3m6 0h1m6 0h1m1 0h1m1 0h2m1 0h2m-38 1h1m1 0h2m3 0h1m2 0h1m3 0h1m16 0h1m6 0h1m-32 1h1m1 0h1m2 0h1m2 0h1m4 0h1m11 0h1m5 0h1m-49 1h1m12 0h1m1 0h1m4 0h1m4 0h2m5 0h1m6 0h3m-32 1h1m1 0h1m4 0h1m1 0h4m2 0h1m6 0h2m2 0h1m1 0h1m1 0h1m2 0h1m1 0h1m1 0h1m-48 1h2m1 0h1m1 0h1m4 0h1m6 0h1m2 0h1m6 0h1m1 0h1m5 0h1m1 0h2m4 0h1m3 0h1m-36 1h1m6 0h1m2 0h2m5 0h1m2 0h1m3 0h1m8 0h1m2 0h1m-39 1h1m1 0h1m14 0h3m3 0h1m1 0h1m5 0h2m1 0h1m1 0h1m1 0h1m-38 1h2m2 0h1m4 0h1m1 0h1m1 0h1m9 0h1m1 0h1m1 0h1m2 0h1m1 0h1m3 0h1m-33 1h1m3 0h1m1 0h1m4 0h1m20 0h1m-26 1h1m4 0h1m10 0h1m-21 1h1m15 0h1m3 0h1m3 0h1m3 0h1m2 0h1m-32 1h1m5 0h1m1 0h1m8 0h3m2 0h1m6 0h2m-24 1h6m4 0h1m1 0h1m5 0h2m-31 1h1m6 0h1m10 0h1m5 0h1m3 0h3m2 0h1m-29 1h1m1 0h1m5 0h1m7 0h1m-24 1h1m2 0h1m2 0h1m11 0h1m15 0h1m-27 1h2m3 0h2m6 0h1m10 0h1m1 0h3m-37 1h1m3 0h1m1 0h1m1 0h1m6 0h3m14 0h1m2 0h1m1 0h1m-37 1h1m3 0h1m3 0h1m3 0h1m1 0h1m3 0h1m3 0h1m7 0h1m-20 1h2m4 0h1m8 0h1m6 0h2m1 0h1m-33 1h1m3 0h1m8 0h1m14 0h1m-36 1h1m2 0h1m7 0h1m2 0h1m3 0h1m6 0h1m3 0h1m8 0h2m-36 1h1m5 0h1m12 0h1m3 0h2m-23 1h1m3 0h2m3 0h1m1 0h1m6 0h1m2 0h1m7 0h2m-20 1h1m10 0h2m8 0h1m-34 1h1m1 0h1m1 0h2m3 0h1m2 0h2m3 0h1m1 0h1m5 0h1m-18 1h1m2 0h1m1 0h1m3 0h1m14 0h1m-36 1h1m6 0h1m4 0h1m1 0h1m4 0h1m5 0h1m6 0h1m4 0h1m-45 1h1m6 0h1m12 0h1m5 0h1m10 0h2m-23 1h1m9 0h1m-20 1h1m12 0h1m4 0h1m12 0h1m-43 1h1m9 0h1m8 0h1m6 0h1m12 0h1m2 0h2m-34 1h1m8 0h2m1 0h1m6 0h2m8 0h1m3 0h1m-29 1h1m4 0h1m7 0h1m17 0h1m-27 1h1m2 0h1m4 0h1m2 0h1m11 0h1m4 0h1m-37 1h2m5 0h1m4 0h1m5 0h1m-14 1h1m28 0h2m-41 1h1m8 0h1m1 0h2m5 0h1m2 0h1m7 0h1m2 0h3m-15 1h1m1 0h1m1 0h1m1 0h1m-20 1h2m2 0h2m5 0h1m2 0h1m3 0h1m7 0h1m-41 1h1m7 0h1m4 0h1m5 0h1m8 0h1m7 0h1m-24 1h1m2 0h2m3 0h1m3 0h2m3 0h1"/><path stroke="#4f7cbc" d="M7 0.5h1m21 0h1m1 0h1m3 0h1m-33 1h1m19 0h3m1 0h1m1 0h1m5 0h3m1 0h1m1 0h1m-31 1h1m10 0h1m1 0h1m2 0h2m1 0h2m2 0h2m-7 1h2m-26 1h1m2 0h2m3 0h1m2 0h1m2 0h3m1 0h1m4 0h1m4 0h1m2 0h1m1 0h3m1 0h1m2 0h1m-39 1h3m4 0h2m1 0h2m7 0h1m11 0h1m2 0h2m3 0h2m-42 1h1m5 0h1m1 0h3m2 0h1m3 0h1m16 0h4m3 0h2m-47 1h1m13 0h1m1 0h1m2 0h1m4 0h1m6 0h1m6 0h1m7 0h2m-41 1h1m4 0h3m4 0h1m3 0h2m15 0h2m2 0h1m2 0h1m-41 1h5m1 0h1m4 0h1m3 0h1m3 0h2m9 0h1m3 0h1m2 0h2m-47 1h1m8 0h3m9 0h1m8 0h1m10 0h1m-30 1h1m2 0h1m6 0h2m3 0h2m1 0h1m2 0h2m8 0h1m3 0h1m-38 1h3m2 0h1m1 0h2m1 0h4m5 0h1m1 0h1m6 0h2m5 0h1m-47 1h1m12 0h2m1 0h2m2 0h1m3 0h1m3 0h1m4 0h1m1 0h1m2 0h2m7 0h1m-35 1h1m2 0h1m5 0h1m1 0h1m1 0h1m3 0h2m2 0h1m4 0h1m5 0h1m3 0h1m-29 1h1m1 0h1m2 0h1m1 0h1m1 0h2m3 0h1m9 0h1m2 0h2m-38 1h2m8 0h3m2 0h1m4 0h2m1 0h3m2 0h1m1 0h1m1 0h1m-25 1h1m4 0h1m7 0h1m3 0h1m4 0h5m-47 1h1m10 0h2m9 0h2m2 0h2m5 0h1m1 0h3m1 0h1m3 0h1m1 0h1m1 0h1m-48 1h1m16 0h1m9 0h2m3 0h1m5 0h2m1 0h3m1 0h1m3 0h1m-39 1h2m5 0h1m2 0h1m2 0h1m7 0h2m5 0h1m5 0h2m1 0h1m-27 1h1m2 0h1m2 0h1m16 0h1m3 0h1m-36 1h1m26 0h2m3 0h3m-38 1h1m2 0h1m4 0h1m2 0h1m2 0h1m1 0h2m2 0h1m12 0h1m2 0h3m-36 1h1m8 0h1m8 0h1m2 0h3m-21 1h1m3 0h1m12 0h3m6 0h1m4 0h1m-31 1h2m2 0h3m3 0h2m2 0h1m4 0h2m5 0h1m-29 1h2m2 0h2m1 0h1m3 0h1m1 0h1m18 0h1m-46 1h1m5 0h1m1 0h1m1 0h1m1 0h1m2 0h1m1 0h1m2 0h1m2 0h1m6 0h1m10 0h1m2 0h1m1 0h1m-47 1h1m1 0h1m23 0h1m1 0h1m1 0h2m1 0h1m7 0h2m-45 1h1m9 0h2m2 0h1m1 0h1m3 0h2m1 0h1m5 0h1m3 0h1m11 0h2m-38 1h1m6 0h1m1 0h1m2 0h3m1 0h1m3 0h3m3 0h1m4 0h1m7 0h1m-39 1h1m1 0h1m1 0h3m2 0h4m1 0h1m4 0h3m1 0h3m4 0h4m2 0h1m1 0h1m-47 1h1m17 0h3m9 0h1m1 0h1m2 0h2m3 0h3m2 0h2m-40 1h1m6 0h1m1 0h2m6 0h1m9 0h1m1 0h1m3 0h3m-31 1h3m4 0h2m1 0h1m1 0h2m1 0h1m1 0h1m5 0h1m1 0h1m1 0h1m5 0h1m-41 1h1m5 0h1m2 0h1m5 0h1m2 0h1m1 0h3m7 0h1m6 0h1m1 0h1m-46 1h1m8 0h1m3 0h1m1 0h3m2 0h1m5 0h2m2 0h1m6 0h1m4 0h2m-35 1h1m2 0h1m1 0h3m1 0h4m8 0h1m8 0h2m1 0h1m-36 1h1m5 0h2m5 0h2m8 0h1m9 0h1m2 0h1m-41 1h1m4 0h1m1 0h1m2 0h1m12 0h1m3 0h1m9 0h1m3 0h2m-37 1h1m2 0h1m5 0h1m2 0h2m1 0h2m2 0h1m1 0h1m8 0h2m1 0h1m1 0h1m-38 1h2m3 0h2m1 0h1m9 0h2m2 0h1m11 0h1m3 0h1m-41 1h1m2 0h1m1 0h1m5 0h2m1 0h1m1 0h1m19 0h2m3 0h1m-35 1h1m2 0h1m6 0h1m2 0h3m13 0h2m-35 1h2m9 0h3m1 0h1m8 0h2m2 0h1m7 0h2m-35 1h1m1 0h2m1 0h4m1 0h1m9 0h1m10 0h1m1 0h1m-43 1h1m3 0h3m2 0h1m3 0h2m4 0h3m1 0h2m2 0h2m-27 1h1m4 0h2m2 0h4m4 0h1m2 0h1m4 0h2m3 0h1m1 0h1m2 0h1m2 0h1m-42 1h2m2 0h2m1 0h1m2 0h1m9 0h1m1 0h1m2 0h1m9 0h1m3 0h1"/><path stroke="#5689c6" d="M8 0.5h1m23 0h1m4 0h1m-30 1h1m19 0h1m2 0h1m1 0h1m4 0h1m-34 1h1m13 0h1m6 0h1m13 0h2m-31 2h2m13 0h1m16 0h1m-25 1h1m1 0h1m1 0h1m15 0h1m8 0h1m-38 1h1m1 0h1m32 0h1m-47 1h1m14 0h1m1 0h1m-15 1h1m7 0h1m7 0h1m27 0h1m-34 1h1m1 0h1m1 0h1m4 0h1m7 0h1m9 0h1m-40 1h1m6 0h1m6 0h1m1 0h2m4 0h1m2 0h1m2 0h1m2 0h1m13 0h1m-39 1h1m4 0h2m2 0h1m7 0h2m-19 1h1m4 0h2m9 0h1m2 0h1m7 0h1m5 0h1m6 0h1m-49 1h1m8 0h2m3 0h1m5 0h1m4 0h2m2 0h2m2 0h1m11 0h1m-36 1h1m5 0h1m2 0h2m1 0h1m1 0h1m6 0h1m5 0h1m8 0h1m-34 1h1m1 0h1m10 0h1m4 0h2m6 0h1m1 0h1m1 0h1m-31 1h1m14 0h2m12 0h1m2 0h1m2 0h1m-36 1h1m2 0h1m3 0h1m1 0h2m5 0h2m2 0h3m4 0h1m5 0h3m-35 1h2m3 0h1m3 0h1m3 0h1m12 0h1m6 0h1m-38 1h1m1 0h1m7 0h2m2 0h1m3 0h1m14 0h1m1 0h1m-47 1h1m12 0h1m1 0h1m4 0h1m1 0h2m12 0h1m1 0h1m1 0h1m1 0h1m-32 1h2m3 0h2m1 0h1m3 0h2m1 0h1m4 0h1m7 0h3m4 0h1m1 0h1m-31 1h1m3 0h4m4 0h2m4 0h2m2 0h1m2 0h2m-21 1h1m4 0h1m13 0h1m-33 1h1m3 0h1m1 0h2m3 0h1m5 0h1m1 0h1m7 0h1m4 0h1m1 0h1m3 0h1m-28 1h1m1 0h3m6 0h1m3 0h1m2 0h1m5 0h1m-45 1h1m6 0h1m2 0h1m2 0h2m3 0h1m5 0h1m3 0h1m2 0h1m5 0h1m5 0h2m2 0h1m-48 1h2m1 0h2m3 0h1m1 0h1m1 0h1m4 0h1m2 0h1m3 0h1m1 0h1m2 0h1m11 0h2m-33 1h1m3 0h1m5 0h1m2 0h1m3 0h1m10 0h1m2 0h1m4 0h1m-49 1h1m3 0h1m6 0h1m3 0h3m1 0h2m1 0h2m2 0h2m2 0h1m15 0h2m-35 1h1m4 0h1m8 0h1m4 0h1m3 0h1m2 0h2m1 0h1m1 0h2m3 0h1m-49 1h2m10 0h1m4 0h1m16 0h1m2 0h3m1 0h3m-38 1h1m4 0h1m5 0h1m7 0h1m2 0h1m3 0h1m6 0h1m-31 1h4m4 0h1m7 0h1m3 0h1m5 0h1m4 0h2m-37 1h1m4 0h1m1 0h2m1 0h1m4 0h1m2 0h1m5 0h1m2 0h1m2 0h1m3 0h3m3 0h1m-42 1h1m2 0h2m3 0h1m25 0h1m5 0h1m1 0h1m-41 1h1m2 0h2m3 0h1m2 0h1m5 0h1m2 0h1m4 0h1m6 0h1m4 0h1m-41 1h1m4 0h1m4 0h1m1 0h1m7 0h2m1 0h1m12 0h4m-40 1h1m2 0h1m1 0h1m3 0h1m1 0h1m8 0h1m1 0h1m1 0h1m2 0h1m-27 1h2m5 0h2m3 0h3m6 0h1m1 0h1m1 0h2m9 0h1m-36 1h2m1 0h1m3 0h2m1 0h1m2 0h1m9 0h1m11 0h1m3 0h1m-43 1h1m2 0h1m5 0h1m2 0h1m6 0h1m2 0h1m2 0h1m14 0h1m-37 1h1m8 0h1m5 0h2m2 0h1m3 0h1m-31 1h1m26 0h1m1 0h2m-20 1h1m9 0h1m1 0h1m1 0h1m-20 1h1m6 0h1m13 0h1m2 0h1m5 0h1m2 0h1m-33 1h2m1 0h1m3 0h1m7 0h1m3 0h1m4 0h1m5 0h1m7 0h1m-35 1h2m8 0h1m8 0h1m-29 1h1m4 0h2m10 0h1m5 0h1m13 0h1m2 0h1m-38 1h2m2 0h1m5 0h2m3 0h1m8 0h2m6 0h1m1 0h3"/><path stroke="#659bcf" d="M13 2.5h1m9 1h1m5 1h1m-20 2h1m7 0h1m6 0h1m13 0h1m-21 1h1m-19 1h1m21 0h1m-10 2h1m6 0h1m1 0h1m5 0h1m-19 1h1m14 1h1m-9 1h1m30 0h1m-36 1h2m2 0h1m18 0h1m-21 1h1m1 0h1m9 0h1m-14 1h1m3 0h1m7 0h1m5 0h1m-22 1h1m1 0h1m3 0h1m6 0h1m5 0h1m6 0h1m-21 1h1m20 0h1m-22 1h2m2 0h1m-5 1h1m-20 1h1m12 0h1m4 0h1m1 0h1m6 0h1m-17 1h2m4 0h1m2 0h1m13 0h1m-22 1h1m2 0h2m2 0h1m2 0h1m21 0h1m-33 1h1m5 0h1m4 0h1m6 0h1m2 0h1m-34 1h1m11 0h3m3 0h1m3 0h1m-21 1h1m7 0h1m36 0h1m-49 1h2m13 0h1m-14 1h1m7 0h1m8 0h1m7 0h2m-28 1h1m4 0h1m1 0h2m2 0h1m28 0h1m-35 1h2m1 0h1m37 0h1m-46 1h1m5 0h1m38 0h1m-40 1h2m34 0h1m-30 1h1m12 0h1m7 0h1m-30 1h2m2 0h1m12 0h1m22 0h1m-49 1h1m1 0h1m3 0h2m10 0h1m1 0h1m25 0h1m-34 1h1m2 0h1m2 0h2m-18 1h1m2 0h1m3 0h1m2 0h1m9 0h1m6 0h1m-26 1h2m12 0h1m7 0h1m1 0h1m10 0h1m-31 1h1m-11 1h1m7 0h1m-7 1h1m1 0h2m2 0h3m2 0h1m4 0h1m12 0h1m-24 1h1m2 0h1m1 0h1m11 0h1m16 0h1m-35 1h1m15 0h1m1 0h1m-1 1h1m-20 1h1m4 0h1m1 0h1m3 0h1m12 0h1m-26 1h1m2 0h1m1 0h2m23 0h1m1 0h1m-36 1h1m1 0h1m38 0h2m-46 1h1m3 0h1m5 0h1m2 0h1m16 0h1m12 0h1m-44 1h1m10 0h2"/><path stroke="#75aed8" d="M37 4.5h1m-13 9h1m-7 1h1m-7 1h1m2 2h1m1 0h1m-2 1h1m-1 2h1m-3 1h1m-3 1h1m1 0h1m5 1h1m-10 1h1m3 0h1m12 0h1m-28 1h2m28 0h1m-23 1h1m-3 1h1m2 0h1m-12 1h2m3 0h1m2 0h1m5 0h1m-8 1h1m6 0h1m-10 1h1m3 0h1m21 0h1m-27 1h1m5 0h2m-5 1h1m-9 1h3m1 0h3m2 0h1m-8 1h1m8 1h1m-12 1h1m3 0h1m-5 1h1m4 0h1m2 0h1m3 0h1m-10 1h1m4 0h1m-5 1h1m2 0h1m13 0h1m-21 1h1m10 2h1m-9 1h1m4 0h1m1 0h1m-8 1h1m4 1h1m22 0h1m-33 1h1m1 0h1m-2 1h1m4 0h1m-6 2h1"/><path stroke="#84c0e1" d="M17 16.5h1m-4 4h1m-15 5h1m0 1h1m3 0h1m1 1h1m-4 1h1m-5 2h1m1 0h1m-3 1h1m-1 1h1m36 0h1m-7 1h1m-31 1h1m3 0h1m1 0h1m-4 1h1m-4 1h1m1 0h1m-2 2h1m1 2h1m0 2h2m0 2h1m2 0h1m-10 2h1m1 0h1m1 0h1m-4 1h1m4 0h1m-6 2h1"/><path stroke="#9dcce2" d="M0 17.5h1m7 5h1m-9 4h1m3 1h1m4 0h1m-4 1h2m-6 1h1m5 2h1m-2 2h1m-8 1h1m2 0h2m-2 1h1m-2 1h1m3 0h1m-6 1h1m5 0h1m-8 1h2m-2 1h1m2 1h1m-4 1h1m2 1h1m-4 5h1"/><path stroke="#b5d8e4" d="M4 14.5h1m-1 12h1m-4 6h1m6 1h1m-7 6h1m-1 1h1m-2 1h1m-1 4h1"/><path stroke="#cadace" d="M4 22.5h1m-4 13h1m1 4h1"/><path stroke="#dbd6aa" d="M5 16.5h1"/><path stroke="#e4cb83" d="M28 22.5h1m-22 1h1m2 2h1m5 5h1m24 5h1m-16 2h1"/><path stroke="#e9bd59" d="M22 7.5h1m-1 1h1m15 8h1m-32 15h1m6 4h1m5 2h1"/><path stroke="#ecaa3e" d="M34 1.5h1m4 14h1m-37 6h1m4 4h1m13 15h1m-20 8h1"/><path stroke="#ee9239" d="M0 14.5h1m5 0h1m30 1h1m-33 3h1m35 2h1m-11 24h1"/><path stroke="#eb7434" d="M6 18.5h1m14 0h1m-22 5h1m5 7h1m26 1h1m-31 1h1"/><path stroke="#e04d2f" d="M5 17.5h1m7 10h1m-9 5h1m32 2h1m-10 1h1m-8 1h1m-22 6h1m2 0h1m-4 2h1m11 0h1m-9 1h1"/><path stroke="#d4322b" d="M42 7.5h1m-7 7h1m-13 14h1m-22 2h1m10 1h1m0 3h1m13 0h1m-20 1h1m-9 7h1m-1 1h1m2 0h1m10 0h2m-15 1h1m-2 1h1m1 0h1m11 0h1m-13 1h1m19 2h1m-6 1h1"/><path stroke="#c82b2a" d="M43 29.5h1m-40 1h1m1 1h1m7 1h1m-15 10h1m2 1h1m2 0h1m-7 1h1m1 0h1m3 0h1m1 0h1m6 0h2m-17 1h1"/><path stroke="#bc2328" d="M22 4.5h1m-7 15h1m-2 12h1m-12 1h1m1 0h1m7 1h1m-14 10h1m7 1h1"/><path stroke="#b01c26" d="M2 13.5h5m-6 1h3m1 0h1m1 0h1m-8 1h9m-8 1h4m1 0h3m-8 1h4m1 0h4m-9 1h4m2 0h3m-9 1h9m-9 1h9m-9 1h2m1 0h7m-11 1h4m2 0h2m1 0h2m-10 1h6m1 0h3m-11 1h11m-7 1h4m1 0h1m-4 1h3m-5 5h1m-3 1h1m6 4h1m5 7h1m-11 1h1m-3 1h1m11 0h1"/></g><use href="#G" clip-path="url(#T)" fill="none" stroke="#f4f6fb" stroke-opacity="0.85" stroke-width="0.17"/></g><g transform="translate(1118.00 1320.90) scale(4.670)"><g fill="none" stroke-width="1.02"><path stroke="#4263a9" d="M4 0.5h1m2 0h2m22 0h1m1 0h1m-26 1h1m14 0h1m2 0h1m1 0h1m1 0h2m2 0h3m-15 1h2m4 0h3m6 0h1m3 0h1m-28 2h1m2 0h1m2 0h2m1 0h1m2 0h1m11 0h2m3 0h1m-33 1h1m5 0h1m7 0h1m14 0h2m5 0h1m-37 1h1m1 0h2m5 0h1m5 0h1m15 0h1m6 0h1m-48 1h1m11 0h3m4 0h1m19 0h1m1 0h1m3 0h1m-45 1h1m14 0h1m3 0h2m23 0h2m-40 1h1m4 0h1m32 0h1m-35 1h3m5 0h1m8 0h1m-8 1h2m1 0h1m1 0h1m3 0h2m1 0h1m7 0h1m2 0h2m-48 1h5m7 0h1m10 0h1m8 0h2m12 0h2m-39 1h2m2 0h2m2 0h1m3 0h2m4 0h3m4 0h1m1 0h2m-27 1h1m1 0h1m5 0h1m2 0h1m2 0h1m4 0h1m1 0h2m2 0h1m5 0h1m1 0h1m2 0h1m-31 1h3m-7 1h2m3 0h2m7 0h1m3 0h1m1 0h1m1 0h2m5 0h2m-28 1h1m1 0h1m2 0h2m3 0h1m3 0h2m3 0h2m5 0h2m1 0h1m-37 1h1m3 0h1m4 0h1m4 0h1m4 0h1m9 0h2m5 0h2m1 0h1m-40 1h1m6 0h1m2 0h1m1 0h1m15 0h2m5 0h6m-37 1h2m3 0h1m2 0h3m5 0h1m3 0h1m4 0h1m3 0h1m4 0h2m-36 1h2m9 0h1m2 0h2m12 0h2m6 0h1m-29 1h1m2 0h2m3 0h1m4 0h2m1 0h1m5 0h1m2 0h1m-33 1h2m1 0h1m2 0h1m13 0h1m9 0h1m-44 1h1m13 0h1m1 0h2m1 0h1m1 0h1m3 0h1m1 0h1m2 0h1m12 0h1m3 0h1m-31 1h2m1 0h1m1 0h1m2 0h3m8 0h1m7 0h2m-44 1h1m8 0h1m13 0h1m7 0h1m2 0h2m8 0h1m-24 1h1m2 0h1m1 0h1m9 0h1m6 0h1m2 0h1m-50 1h1m13 0h1m3 0h1m4 0h1m1 0h1m4 0h1m4 0h1m4 0h1m-25 1h1m7 0h1m1 0h1m9 0h1m3 0h1m4 0h1m-29 1h1m2 0h2m8 0h1m2 0h1m13 0h2m-49 1h1m16 0h1m4 0h1m2 0h1m10 0h1m10 0h1m-39 1h1m8 0h1m1 0h1m1 0h2m1 0h1m11 0h2m5 0h1m2 0h1m-31 1h2m9 0h1m4 0h1m1 0h1m10 0h2m1 0h1m-30 1h2m1 0h2m4 0h1m6 0h2m4 0h1m4 0h1m1 0h1m-31 1h1m1 0h1m1 0h3m4 0h1m6 0h1m3 0h2m5 0h1m-32 1h1m8 0h1m1 0h1m1 0h1m1 0h1m6 0h1m1 0h1m-32 1h1m3 0h1m1 0h1m1 0h1m2 0h1m2 0h1m6 0h1m8 0h1m1 0h1m-30 1h1m16 0h1m1 0h1m-14 1h1m8 0h1m-5 1h1m3 0h1m3 0h1m7 0h1m1 0h1m1 0h2m-28 1h1m2 0h1m1 0h1m1 0h1m1 0h1m4 0h1m9 0h2m-31 1h1m7 0h2m5 0h1m1 0h1m12 0h2m-27 1h1m7 0h1m4 0h1m-12 1h2m8 0h1m-3 1h2m5 0h1m2 0h2m-19 1h1m11 0h1m1 0h1m-13 1h2m1 0h1m1 0h1m1 0h1m13 0h2m-28 1h1m4 0h1m1 0h1m2 0h1m13 0h2m-29 1h1m3 0h1m2 0h1m2 0h1m1 0h1"/><path stroke="#4970b3" d="M9 0.5h1m14 0h1m5 0h1m1 0h1m2 0h1m-33 1h1m5 0h1m14 0h1m4 0h1m2 0h2m4 0h1m1 0h1m-28 1h1m5 0h1m4 0h3m4 0h3m1 0h2m1 0h3m1 0h2m-22 1h1m5 0h3m-26 1h1m2 0h2m2 0h1m3 0h1m1 0h2m2 0h1m1 0h2m1 0h3m3 0h1m2 0h2m2 0h1m-34 1h4m1 0h3m3 0h2m4 0h1m3 0h1m9 0h2m2 0h1m5 0h1m-43 1h1m3 0h1m1 0h1m3 0h1m1 0h2m4 0h2m13 0h2m2 0h1m2 0h1m-37 1h1m1 0h2m3 0h4m3 0h2m6 0h2m5 0h2m1 0h1m1 0h1m1 0h1m-46 1h1m8 0h6m1 0h1m1 0h2m3 0h1m1 0h1m15 0h1m3 0h1m2 0h1m-39 1h3m1 0h1m1 0h1m1 0h7m2 0h1m1 0h1m13 0h1m3 0h2m-50 1h2m7 0h3m4 0h2m2 0h1m1 0h4m1 0h3m2 0h3m4 0h1m1 0h1m5 0h1m-48 1h1m9 0h3m2 0h1m2 0h2m2 0h1m4 0h1m1 0h1m4 0h1m3 0h1m2 0h2m5 0h2m-41 1h1m3 0h2m2 0h4m1 0h1m1 0h2m1 0h5m4 0h8m5 0h1m-50 1h3m1 0h3m4 0h2m5 0h1m4 0h3m6 0h2m1 0h1m2 0h1m6 0h5m-40 1h1m3 0h1m2 0h1m2 0h2m4 0h1m1 0h2m4 0h2m2 0h2m1 0h1m3 0h2m1 0h2m-50 1h1m10 0h4m1 0h1m3 0h9m1 0h2m1 0h4m1 0h6m2 0h2m-36 1h1m4 0h1m2 0h7m1 0h3m3 0h1m2 0h4m3 0h5m-35 1h2m3 0h2m6 0h1m5 0h2m2 0h2m2 0h1m2 0h1m1 0h4m-49 1h1m9 0h1m3 0h3m1 0h2m1 0h1m2 0h1m1 0h1m6 0h4m2 0h2m2 0h1m2 0h1m1 0h1m-38 1h1m5 0h1m1 0h1m2 0h1m2 0h2m4 0h1m3 0h1m2 0h4m-32 1h2m2 0h1m1 0h1m2 0h1m3 0h4m2 0h1m1 0h1m2 0h1m1 0h1m1 0h3m1 0h1m1 0h2m2 0h1m-39 1h2m3 0h1m1 0h2m1 0h3m1 0h1m6 0h1m7 0h1m2 0h1m3 0h1m-48 1h1m11 0h1m3 0h3m1 0h1m5 0h2m2 0h2m8 0h3m1 0h2m1 0h1m1 0h1m-50 1h1m2 0h2m5 0h1m1 0h1m3 0h1m2 0h1m2 0h2m1 0h7m11 0h1m1 0h1m1 0h2m-47 1h2m6 0h2m4 0h1m2 0h1m1 0h1m3 0h1m4 0h1m1 0h3m8 0h1m1 0h3m1 0h1m-46 1h2m3 0h2m2 0h2m1 0h1m5 0h1m1 0h2m3 0h1m1 0h2m2 0h1m7 0h2m2 0h1m1 0h1m-41 1h3m2 0h1m1 0h3m1 0h4m4 0h4m1 0h1m1 0h2m2 0h1m3 0h4m1 0h2m-42 1h1m4 0h2m1 0h2m2 0h1m1 0h2m4 0h1m1 0h2m1 0h1m9 0h3m1 0h2m-41 1h1m4 0h1m1 0h3m1 0h4m1 0h1m1 0h2m1 0h1m3 0h1m9 0h3m1 0h1m-46 1h1m4 0h3m1 0h1m5 0h1m1 0h1m3 0h1m4 0h3m1 0h1m1 0h1m6 0h1m1 0h1m2 0h3m-49 1h1m15 0h1m2 0h1m2 0h2m1 0h1m1 0h1m3 0h2m1 0h7m1 0h1m1 0h1m4 0h1m-34 1h1m3 0h1m2 0h2m1 0h1m4 0h1m1 0h3m1 0h1m1 0h2m1 0h1m1 0h1m1 0h1m1 0h1m-37 1h1m4 0h1m1 0h1m1 0h1m2 0h1m1 0h2m1 0h1m1 0h2m1 0h3m3 0h4m2 0h1m-45 1h1m10 0h1m2 0h1m2 0h2m2 0h5m1 0h4m3 0h5m1 0h2m1 0h1m-38 1h1m7 0h2m7 0h4m2 0h2m6 0h3m4 0h1m1 0h1m-49 1h1m19 0h1m1 0h1m3 0h1m2 0h1m8 0h1m1 0h1m3 0h2m3 0h1m-35 1h1m4 0h1m2 0h2m2 0h1m3 0h1m6 0h1m1 0h1m1 0h2m3 0h1m-36 1h1m2 0h1m3 0h2m1 0h2m2 0h4m2 0h1m8 0h1m2 0h1m-29 1h2m1 0h1m2 0h3m1 0h4m11 0h1m1 0h1m1 0h1m-36 1h1m3 0h3m3 0h8m1 0h2m1 0h1m7 0h3m2 0h1m-33 1h1m1 0h1m3 0h3m1 0h1m2 0h2m1 0h1m11 0h1m1 0h1m2 0h1m-32 1h1m12 0h1m1 0h2m9 0h1m4 0h2m-34 1h1m10 0h1m1 0h1m1 0h1m1 0h2m14 0h1m-27 1h3m1 0h1m3 0h2m13 0h1m4 0h1m-33 1h3m4 0h6m1 0h1m11 0h1m-32 1h1m4 0h1m2 0h4m1 0h3m2 0h3m1 0h1m1 0h2m2 0h3m3 0h2m-35 1h1m3 0h4m1 0h5m1 0h1m1 0h1m3 0h1m2 0h2m5 0h3m-43 1h1m10 0h3m1 0h3m3 0h1m1 0h1m5 0h1m-28 1h1m3 0h1m4 0h3m2 0h1m5 0h2m1 0h1m1 0h1m4 0h1m1 0h1m5 0h1m-40 1h1m2 0h1m5 0h1m1 0h1m1 0h1m1 0h2m2 0h1m1 0h1m2 0h2m6 0h5"/><path stroke="#4f7cbc" d="M26 0.5h1m7 0h1m1 0h2m-13 1h1m11 0h1m1 0h1m1 0h1m-42 1h1m4 0h1m5 0h1m15 0h1m6 0h1m-12 1h1m10 0h1m-22 1h1m1 0h1m25 0h2m3 0h1m-41 1h1m9 0h1m4 0h3m2 0h1m17 0h1m1 0h1m-46 1h1m13 0h1m1 0h1m3 0h3m17 0h1m2 0h1m2 0h1m-48 1h1m10 0h1m10 0h2m2 0h1m21 0h2m-41 1h1m6 0h1m4 0h1m3 0h1m14 0h2m1 0h1m-28 1h1m1 0h1m10 0h1m1 0h1m9 0h3m2 0h1m-45 1h1m9 0h1m6 0h1m6 0h1m4 0h1m8 0h1m1 0h1m-34 1h1m3 0h2m1 0h2m7 0h1m5 0h1m4 0h1m2 0h2m3 0h2m-36 1h1m4 0h2m4 0h1m4 0h1m7 0h2m-33 1h1m11 0h2m2 0h2m5 0h1m3 0h2m-32 1h1m11 0h1m2 0h2m6 0h2m2 0h1m3 0h1m5 0h1m-9 1h1m2 0h1m4 0h1m6 0h2m2 0h2m-35 1h2m-17 1h1m8 0h1m3 0h1m3 0h1m5 0h1m1 0h1m6 0h1m6 0h1m-40 1h1m11 0h1m8 0h1m4 0h1m6 0h1m9 0h1m-44 1h1m10 0h1m1 0h2m2 0h1m4 0h1m2 0h1m2 0h2m5 0h1m7 0h1m-40 1h1m14 0h1m8 0h1m7 0h1m7 0h1m-30 1h1m1 0h1m2 0h1m5 0h1m4 0h1m6 0h2m4 0h3m1 0h1m-46 1h2m5 0h1m2 0h3m3 0h1m2 0h2m4 0h1m7 0h1m11 0h1m-38 1h1m1 0h1m7 0h1m2 0h1m21 0h1m2 0h1m-38 1h3m8 0h2m2 0h1m1 0h1m6 0h3m-37 1h2m11 0h1m4 0h1m12 0h2m1 0h1m3 0h1m7 0h1m-47 1h1m1 0h2m7 0h1m1 0h1m8 0h2m1 0h1m4 0h1m-31 1h2m5 0h1m1 0h2m2 0h1m2 0h2m1 0h1m3 0h2m-25 1h1m1 0h1m1 0h2m4 0h1m15 0h1m17 0h1m1 0h2m-47 1h2m7 0h4m2 0h1m1 0h3m4 0h1m3 0h1m1 0h1m1 0h1m13 0h1m-39 1h4m3 0h1m5 0h1m16 0h1m1 0h1m1 0h2m-44 1h1m7 0h1m6 0h1m2 0h1m5 0h1m2 0h1m1 0h1m5 0h1m2 0h1m7 0h1m-40 1h2m2 0h1m1 0h1m13 0h1m2 0h1m5 0h1m5 0h1m2 0h2m-47 1h1m8 0h1m1 0h1m6 0h2m11 0h1m6 0h1m2 0h1m3 0h1m-48 1h1m8 0h1m4 0h1m2 0h2m2 0h1m7 0h1m2 0h1m4 0h1m4 0h1m1 0h1m-38 1h1m4 0h6m8 0h1m3 0h1m7 0h1m3 0h1m2 0h2m-38 1h1m1 0h2m4 0h2m1 0h2m6 0h1m14 0h3m-38 1h1m1 0h1m13 0h1m4 0h1m8 0h1m3 0h1m1 0h1m-41 1h1m5 0h1m3 0h1m2 0h1m1 0h2m3 0h1m5 0h1m8 0h1m3 0h1m-28 1h2m12 0h1m11 0h2m-36 1h1m2 0h1m1 0h1m1 0h1m5 0h1m2 0h1m4 0h2m15 0h1m-39 1h1m6 0h1m3 0h1m1 0h1m1 0h1m4 0h1m14 0h1m-36 1h1m1 0h1m3 0h1m1 0h1m6 0h1m1 0h1m22 0h1m-43 1h2m1 0h6m1 0h1m1 0h2m3 0h1m2 0h2m14 0h1m4 0h1m-33 1h1m30 0h1m-39 2h2m1 0h1m1 0h2m11 0h1m1 0h1m1 0h2m3 0h1m-36 1h1m4 0h1m3 0h1m1 0h2m4 0h1m10 0h1m1 0h2m8 0h1m-35 1h1m4 0h3m6 0h1m8 0h1m1 0h1m4 0h1m1 0h1m1 0h1m-29 1h1m3 0h1m5 0h1m4 0h1m2 0h1m10 0h1"/><path stroke="#5689c6" d="M29 0.5h1m-3 1h1m-17 3h1m33 0h1m-31 1h1m4 0h1m6 0h1m15 0h1m4 1h1m-39 3h1m10 2h1m8 0h1m-26 1h1m5 0h1m27 1h1m-39 1h1m16 0h1m-4 1h1m16 1h1m16 0h1m-26 1h1m-1 1h1m-24 1h1m22 0h1m-25 1h1m-1 1h1m3 0h1m5 0h1m0 1h1m-11 1h1m16 0h1m-15 1h1m30 0h1m-36 1h2m10 0h1m4 0h1m-17 1h1m17 0h1m-16 1h4m2 0h1m-6 1h1m3 0h3m-11 1h1m3 0h2m3 0h1m28 0h1m4 0h1m-38 1h1m1 0h1m16 0h1m-26 1h1m3 0h1m3 0h2m2 0h1m5 0h1m23 0h1m1 0h1m-45 1h1m4 0h1m-2 1h1m1 0h1m3 0h1m3 0h1m-16 1h1m5 0h1m5 0h3m29 0h1m-44 1h1m2 0h1m7 0h1m15 0h1m3 0h1m-22 1h1m2 0h1m1 0h1m8 0h1m-20 1h1m6 0h1m3 0h1m-17 1h1m4 0h1m5 0h1m1 0h1m27 0h1m-34 1h1m2 0h2m-10 1h1m2 0h1m3 1h2m13 0h1m-25 1h1m20 0h1m18 0h1m-38 1h1m-6 1h1m6 0h6m1 0h1m8 0h1m20 0h1m3 0h1m-31 1h2m-17 1h1m2 0h1m4 0h1m-9 1h1m4 0h2m1 0h1m2 0h1m-14 1h2m16 0h1m4 0h1m-25 1h4m5 0h1m2 0h1"/><path stroke="#659bcf" d="M2 23.5h1m-3 1h1m-1 2h1m-1 1h2m-1 1h1m1 0h1m2 2h1m1 0h1m1 0h1m4 0h1m-8 1h1m3 0h1m-9 1h2m1 0h2m4 0h1m-13 1h1m2 0h1m1 0h1m3 0h1m-9 1h1m1 0h2m-3 1h1m1 0h1m1 1h1m-7 1h1m2 0h2m-6 1h1m7 0h2m-10 1h1m1 0h2m7 0h1m-12 1h1m9 0h2m-4 1h1m1 0h1m3 0h1m-9 1h1m3 0h1m1 0h1m3 0h1m-13 2h1m8 0h1m-11 1h1m6 0h2m-12 1h3m4 0h1m8 0h1m-17 1h1m7 1h2m1 1h1"/><path stroke="#75aed8" d="M8 26.5h1m-9 3h1m3 2h1m2 0h1m-8 1h1m1 0h1m0 2h1m3 0h1m-8 2h3m1 0h1m1 0h1m2 0h1m-10 1h1m1 0h2m4 0h1m-7 1h3m-4 1h1m3 0h1m-5 1h1m1 0h1m2 0h1m-7 1h2m3 0h1m7 0h1m-11 1h1m3 0h2m-9 1h1m8 0h1m-2 2h1m4 0h1m-10 1h2m-4 1h1m2 0h1m1 0h1m-5 1h3m-2 1h1m1 0h1m3 0h1"/><path stroke="#84c0e1" d="M0 33.5h1m7 0h2m-3 2h1m-5 1h1m4 0h1m-2 1h1m-4 2h1m2 0h1m-6 1h1m2 0h1m2 0h1m-2 5h1m1 0h1m-3 4h1"/><path stroke="#9dcce2" d="M5 36.5h1m0 3h1m-4 2h2m3 5h1m-9 2h1"/><path stroke="#b5d8e4" d="M2 35.5h1m3 0h1"/><path stroke="#cadace" d="M2 41.5h1"/><path stroke="#dbd6aa" d="M5 14.5h1m3 10h1"/><path stroke="#e4cb83" d="M4 18.5h1m2 20h1m-4 7h1"/><path stroke="#ecaa3e" d="M8 15.5h1m-2 5h1"/><path stroke="#ee9239" d="M18 10.5h1m-15 32h1m0 2h1m5 4h1"/><path stroke="#eb7434" d="M3 15.5h1m1 4h1m5 15h1m-1 1h1m-6 6h1m-5 2h2m-2 1h1m-2 1h1m4 0h1"/><path stroke="#e04d2f" d="M39 9.5h1m-36 5h1m-1 2h1m4 19h2m-11 7h1m0 1h1m4 0h1m-1 1h1m-5 1h1"/><path stroke="#d4322b" d="M20 11.5h1m-19 19h1m0 2h1m11 0h1m-7 2h1m-9 8h1m-1 2h1m1 0h1m11 0h1m-16 1h1m4 0h1m8 0h1"/><path stroke="#c82b2a" d="M5 30.5h1m0 1h1m-2 11h1m-2 1h1"/><path stroke="#bc2328" d="M42 18.5h1m-42 12h1m1 0h2m-3 1h1m11 0h1m0 14h2"/><path stroke="#b01c26" d="M2 14.5h2m2 0h2m-7 1h2m1 0h4m-7 1h3m1 0h4m-8 1h8m-7 1h2m1 0h4m-7 1h3m1 0h3m-8 1h3m1 0h2m1 0h2m-9 1h3m1 0h5m-9 1h2m3 0h4m-5 1h5m-5 1h4m-3 1h3m-3 1h2m7 5h1m0 12h1"/></g><use href="#G" clip-path="url(#T)" fill="none" stroke="#f4f6fb" stroke-opacity="0.85" stroke-width="0.17"/></g><g transform="translate(1460.50 1320.90) scale(4.670)"><g fill="none" stroke-width="1.02"><path stroke="#4263a9" d="M8 0.5h1m20 0h3m1 0h2m1 0h1m-12 1h1m2 0h1m1 0h1m4 0h1m-17 1h1m4 0h3m8 0h2m2 0h1m1 0h2m-15 1h1m1 0h1m-23 1h1m10 0h2m1 0h2m1 0h1m2 0h1m7 0h1m2 0h1m6 0h1m-40 1h1m6 0h1m1 0h2m3 0h1m2 0h1m16 0h3m3 0h2m-43 1h1m11 0h2m2 0h1m1 0h1m1 0h1m12 0h2m1 0h1m1 0h1m1 0h1m-45 1h1m10 0h1m3 0h1m3 0h1m2 0h3m6 0h1m9 0h1m-34 1h2m7 0h1m4 0h1m18 0h1m5 0h1m-40 1h1m4 0h2m2 0h1m2 0h2m1 0h1m3 0h1m19 0h1m-37 1h1m4 0h2m4 0h1m1 0h1m1 0h1m1 0h1m-31 1h1m12 0h1m2 0h1m2 0h3m2 0h2m3 0h1m1 0h1m6 0h2m1 0h1m3 0h1m2 0h1m-47 1h2m10 0h1m3 0h2m6 0h3m1 0h2m1 0h1m4 0h1m2 0h2m4 0h1m-39 1h1m5 0h2m1 0h1m4 0h2m2 0h1m4 0h1m2 0h1m1 0h1m1 0h1m5 0h1m-35 1h1m9 0h2m1 0h4m1 0h2m5 0h1m4 0h1m2 0h1m1 0h1m-33 1h3m2 0h2m2 0h2m1 0h1m2 0h2m5 0h1m2 0h1m2 0h3m2 0h2m-37 1h1m4 0h2m3 0h3m5 0h1m3 0h1m2 0h1m4 0h1m4 0h1m-34 1h1m1 0h2m4 0h1m1 0h4m2 0h1m2 0h1m4 0h1m-26 1h1m1 0h1m3 0h3m11 0h1m1 0h3m2 0h2m4 0h3m-32 1h1m9 0h1m4 0h1m2 0h2m1 0h1m4 0h1m3 0h2m-37 1h1m6 0h1m2 0h1m3 0h1m1 0h1m1 0h1m1 0h1m8 0h1m4 0h1m-29 1h1m3 0h1m1 0h1m1 0h1m11 0h4m6 0h2m-34 1h1m2 0h1m1 0h1m2 0h2m1 0h3m10 0h1m3 0h2m3 0h1m-40 1h1m2 0h3m2 0h1m2 0h1m4 0h1m17 0h1m3 0h1m-34 1h1m4 0h1m5 0h1m1 0h1m2 0h1m3 0h1m7 0h1m1 0h3m1 0h1m-47 1h1m8 0h1m1 0h3m1 0h1m1 0h1m2 0h1m13 0h1m10 0h1m-44 1h1m5 0h1m2 0h1m1 0h2m1 0h1m1 0h1m3 0h3m3 0h1m3 0h1m3 0h1m5 0h1m-42 1h2m4 0h1m2 0h2m1 0h1m2 0h6m4 0h1m13 0h1m-34 1h1m3 0h1m3 0h1m4 0h1m4 0h2m10 0h1m4 0h1m-41 1h1m11 0h1m1 0h1m2 0h1m3 0h1m2 0h1m3 0h1m2 0h1m2 0h1m5 0h1m2 0h2m-37 1h1m3 0h1m1 0h2m1 0h1m3 0h2m2 0h1m5 0h1m6 0h3m3 0h1m-45 1h1m8 0h1m4 0h2m3 0h1m1 0h1m7 0h2m3 0h3m4 0h1m-30 1h1m2 0h1m2 0h1m2 0h1m9 0h1m5 0h3m-41 1h1m9 0h2m4 0h1m2 0h1m1 0h1m5 0h3m1 0h1m2 0h1m1 0h1m1 0h2m2 0h1m-33 1h2m6 0h1m10 0h1m2 0h3m6 0h1m2 0h1m-34 1h1m5 0h2m1 0h3m5 0h1m7 0h4m2 0h1m2 0h1m-35 1h1m4 0h1m6 0h1m3 0h1m8 0h1m4 0h1m1 0h1m-40 1h1m3 0h1m5 0h1m1 0h3m2 0h1m5 0h1m7 0h2m-39 1h2m7 0h1m5 0h1m1 0h1m1 0h1m4 0h1m1 0h1m2 0h1m8 0h2m2 0h1m-36 1h1m3 0h1m1 0h2m2 0h1m7 0h2m1 0h3m-26 1h1m4 0h1m7 0h1m3 0h1m1 0h1m1 0h2m1 0h1m8 0h1m5 0h1m-35 1h1m1 0h1m5 0h3m3 0h1m2 0h2m1 0h1m14 0h1m-47 1h1m19 0h1m2 0h3m2 0h1m1 0h1m11 0h1m5 0h1m-42 1h1m6 0h1m13 0h2m17 0h1m-28 1h1m1 0h1m1 0h1m17 0h2m2 0h2m-48 1h1m7 0h1m4 0h1m6 0h1m7 0h1m1 0h1m5 0h3m2 0h1m-31 1h3m2 0h1m4 0h1m4 0h2m3 0h1m1 0h1m2 0h2m6 0h1m-39 1h1m3 0h1m1 0h2m13 0h1m1 0h1m1 0h1m11 0h2m-35 1h1m7 0h2m2 0h1m1 0h1m3 0h2m6 0h1m3 0h1m2 0h1m-40 1h1m8 0h1m8 0h2m1 0h1m1 0h1m1 0h1m8 0h2"/><path stroke="#4970b3" d="M4 0.5h1m2 0h1m1 0h1m14 0h1m1 0h1m5 0h1m2 0h1m1 0h1m-15 1h2m4 0h1m2 0h1m1 0h1m1 0h3m1 0h2m-42 1h1m4 0h1m5 0h1m1 0h1m9 0h1m3 0h5m1 0h2m2 0h1m2 0h1m2 0h1m-21 1h1m5 0h1m4 0h1m-30 1h1m3 0h1m1 0h2m2 0h2m1 0h1m2 0h1m2 0h1m1 0h1m2 0h1m3 0h1m3 0h2m1 0h1m2 0h1m1 0h1m-40 1h1m1 0h1m1 0h4m1 0h1m2 0h1m1 0h1m1 0h2m2 0h1m11 0h1m5 0h1m1 0h1m-37 1h8m2 0h2m1 0h1m1 0h1m15 0h1m1 0h1m3 0h2m-49 1h1m9 0h3m5 0h3m1 0h2m8 0h1m6 0h4m1 0h1m2 0h3m-47 1h1m8 0h2m1 0h4m1 0h4m2 0h1m13 0h3m3 0h3m-40 1h1m1 0h3m3 0h2m1 0h2m9 0h1m7 0h1m1 0h2m1 0h1m1 0h3m-48 1h2m7 0h3m2 0h3m2 0h2m1 0h1m1 0h1m1 0h1m1 0h1m1 0h1m1 0h2m5 0h3m4 0h1m-38 1h2m2 0h2m1 0h2m3 0h1m3 0h3m1 0h1m2 0h1m1 0h2m3 0h1m1 0h1m1 0h1m1 0h2m-48 1h2m7 0h5m2 0h2m2 0h1m2 0h2m7 0h1m1 0h4m1 0h2m2 0h1m2 0h1m2 0h1m-49 1h2m1 0h2m4 0h2m1 0h2m2 0h1m1 0h4m2 0h2m1 0h2m1 0h1m1 0h2m1 0h1m1 0h1m8 0h3m-40 1h1m1 0h5m1 0h3m7 0h1m2 0h3m1 0h1m1 0h1m1 0h1m2 0h1m2 0h1m1 0h2m-38 1h3m3 0h2m2 0h2m2 0h1m1 0h2m3 0h1m1 0h2m1 0h1m2 0h2m3 0h2m-34 1h4m2 0h3m4 0h4m1 0h3m1 0h2m1 0h3m2 0h1m1 0h2m1 0h2m-41 1h1m5 0h1m2 0h4m1 0h1m10 0h4m1 0h1m1 0h9m-49 1h1m7 0h1m2 0h1m3 0h2m4 0h1m1 0h3m1 0h1m5 0h1m3 0h2m2 0h4m3 0h1m-41 1h1m2 0h2m2 0h1m1 0h1m2 0h1m3 0h2m1 0h2m9 0h4m1 0h3m-34 1h3m1 0h2m1 0h2m1 0h3m1 0h1m1 0h1m3 0h1m1 0h3m1 0h2m1 0h2m1 0h1m1 0h3m-46 1h1m5 0h3m1 0h4m1 0h1m3 0h1m1 0h1m2 0h1m2 0h1m11 0h5m-45 1h1m6 0h3m1 0h1m3 0h1m1 0h1m1 0h2m2 0h1m4 0h1m4 0h2m3 0h2m3 0h3m-46 1h2m11 0h1m2 0h2m1 0h1m1 0h2m1 0h1m1 0h1m1 0h1m2 0h1m10 0h3m1 0h1m-50 1h1m9 0h2m1 0h2m1 0h4m1 0h5m1 0h1m1 0h1m2 0h3m1 0h3m5 0h1m3 0h1m-44 1h1m4 0h1m6 0h1m1 0h1m2 0h1m1 0h2m1 0h3m1 0h1m1 0h4m6 0h5m1 0h1m-48 1h1m5 0h1m3 0h2m1 0h1m2 0h1m4 0h2m3 0h3m6 0h2m4 0h2m3 0h2m-49 1h1m7 0h1m1 0h2m2 0h1m2 0h1m6 0h4m1 0h2m7 0h1m4 0h5m-49 1h1m4 0h1m3 0h1m3 0h1m3 0h1m1 0h1m1 0h2m1 0h1m1 0h2m2 0h1m4 0h1m7 0h2m1 0h1m1 0h2m-49 1h1m5 0h2m1 0h3m2 0h1m4 0h2m1 0h2m2 0h2m1 0h3m2 0h1m5 0h1m1 0h2m1 0h2m-41 1h1m2 0h1m3 0h3m1 0h1m2 0h1m1 0h3m6 0h4m2 0h1m1 0h1m1 0h1m3 0h3m-42 1h1m1 0h1m2 0h2m1 0h4m2 0h3m1 0h1m4 0h4m3 0h2m5 0h2m1 0h2m-41 1h1m1 0h1m3 0h1m3 0h1m2 0h2m1 0h2m4 0h1m3 0h2m1 0h4m4 0h1m1 0h1m1 0h1m-41 1h2m5 0h4m2 0h1m1 0h1m1 0h1m2 0h2m3 0h1m1 0h2m1 0h1m1 0h1m3 0h1m2 0h2m-48 1h1m8 0h1m1 0h1m2 0h1m1 0h1m1 0h2m1 0h4m2 0h4m6 0h1m1 0h2m1 0h1m1 0h2m1 0h1m-49 1h1m1 0h1m3 0h1m4 0h2m3 0h1m1 0h2m6 0h2m1 0h2m6 0h2m4 0h1m2 0h1m-42 1h2m3 0h1m1 0h2m1 0h4m1 0h4m1 0h1m1 0h3m10 0h4m1 0h1m-47 1h1m5 0h1m4 0h1m2 0h1m1 0h2m1 0h1m6 0h3m1 0h1m1 0h1m8 0h1m2 0h2m-46 1h1m3 0h1m7 0h1m1 0h1m3 0h1m1 0h1m1 0h1m1 0h2m1 0h1m2 0h1m1 0h1m9 0h1m-31 1h1m1 0h1m2 0h2m1 0h5m1 0h1m2 0h1m10 0h6m-42 1h1m1 0h1m2 0h2m4 0h1m3 0h1m1 0h3m1 0h1m1 0h1m2 0h1m1 0h1m9 0h4m1 0h1m-46 1h1m2 0h1m4 0h2m3 0h1m2 0h1m4 0h3m1 0h2m2 0h1m9 0h4m-43 1h1m7 0h1m1 0h1m1 0h1m1 0h1m5 0h2m4 0h1m3 0h1m9 0h1m4 0h1m-45 1h1m6 0h5m1 0h3m1 0h1m1 0h1m1 0h3m1 0h1m2 0h1m11 0h2m-36 1h1m1 0h8m1 0h1m5 0h1m1 0h1m1 0h2m-24 1h1m2 0h1m3 0h1m1 0h2m1 0h1m2 0h1m2 0h3m1 0h1m1 0h1m1 0h3m4 0h1m4 0h2m-39 1h1m1 0h1m3 0h2m1 0h4m1 0h3m4 0h1m2 0h1m2 0h1m7 0h1m1 0h1m-46 1h1m3 0h1m2 0h1m1 0h1m1 0h1m2 0h1m1 0h1m3 0h1m2 0h1m1 0h2m1 0h1m1 0h1m1 0h1m7 0h1m-41 1h2m1 0h1m1 0h1m1 0h1m1 0h1m2 0h6m7 0h3m3 0h1m3 0h1m1 0h1m3 0h2m-43 1h1m8 0h1m2 0h1m1 0h2m1 0h1m1 0h3m2 0h1m1 0h1m1 0h1m7 0h1"/><path stroke="#4f7cbc" d="M3 1.5h1m4 0h2m16 0h2m3 0h1m1 0h1m5 0h1m-18 1h1m9 0h1m5 0h1m-17 1h1m-10 1h2m2 0h1m9 0h1m13 0h2m-24 1h1m5 0h1m1 0h2m10 0h2m-40 1h1m47 0h1m-36 1h1m1 0h1m29 0h1m-46 1h1m12 0h1m10 0h1m-12 1h1m13 0h1m1 0h1m12 0h1m-44 1h1m8 0h1m4 0h1m7 0h1m9 0h1m-24 1h1m2 0h1m10 0h1m8 0h1m1 0h1m8 0h1m5 0h1m-46 1h2m9 0h1m5 0h2m2 0h1m3 0h1m-27 1h1m2 0h1m5 0h1m17 0h1m15 0h1m-46 1h1m15 0h1m5 0h1m10 0h1m3 0h1m10 0h1m-50 1h1m30 0h1m1 0h1m4 0h1m10 0h1m-6 1h1m-32 1h1m17 0h2m-22 1h1m6 0h1m4 0h1m3 0h1m-17 1h1m2 0h1m4 0h2m1 0h3m12 0h1m11 0h1m-46 1h1m6 0h1m26 0h1m5 0h1m-32 1h1m6 0h2m5 0h1m4 0h1m9 0h1m-43 1h1m3 0h1m8 0h1m16 0h1m3 0h2m7 0h1m-43 1h2m8 0h2m4 0h1m5 0h1m4 0h1m1 0h1m12 0h1m-43 1h4m7 0h1m17 0h1m-29 1h1m6 0h1m3 0h1m7 0h1m4 0h1m5 0h1m7 0h1m-41 1h2m2 0h1m5 0h1m9 0h1m1 0h1m9 0h3m1 0h1m9 0h2m-46 1h2m2 0h2m9 0h1m15 0h1m15 0h1m-49 1h1m1 0h1m2 0h3m2 0h2m2 0h2m3 0h1m12 0h1m13 0h1m-48 1h1m1 0h1m1 0h1m8 0h1m2 0h1m17 0h1m5 0h1m-36 1h2m1 0h2m1 0h2m18 0h1m5 0h1m1 0h1m1 0h1m-34 1h1m18 0h1m8 0h1m5 0h2m5 0h1m-43 1h1m3 0h1m1 0h1m1 0h2m2 0h1m7 0h1m1 0h1m1 0h3m7 0h1m4 0h1m1 0h1m-46 1h1m7 0h1m9 0h1m5 0h2m15 0h1m2 0h1m-48 1h2m5 0h3m7 0h1m1 0h1m8 0h1m11 0h1m2 0h1m-36 1h3m3 0h1m1 0h1m6 0h1m5 0h1m7 0h1m7 0h1m2 0h1m-49 1h1m8 0h1m15 0h1m6 0h1m5 0h2m-39 1h1m5 0h1m1 0h1m3 0h1m1 0h1m7 0h2m4 0h1m12 0h2m-39 1h1m3 0h1m3 0h1m1 0h2m6 0h1m5 0h1m13 0h1m1 0h1m-44 1h1m1 0h3m4 0h1m13 0h1m-26 1h1m2 0h1m1 0h1m2 0h1m4 0h1m2 0h1m24 0h1m-38 1h1m4 0h1m3 0h1m2 0h1m29 0h1m-47 1h1m2 0h1m2 0h2m1 0h1m1 0h1m1 0h1m1 0h1m11 0h1m2 0h1m13 0h1m-45 1h1m1 0h1m4 0h1m1 0h1m9 0h1m1 0h1m1 0h1m3 0h1m21 0h1m-48 1h1m1 0h1m1 0h2m2 0h1m8 0h1m4 0h1m2 0h1m1 0h1m-30 1h1m1 0h6m4 0h2m2 0h1m2 0h1m2 0h1m2 0h1m14 0h1m-39 1h4m1 0h2m1 0h1m15 0h1m2 0h1m1 0h1m3 0h1m-36 1h1m5 0h1m2 0h1m6 0h1m1 0h3m2 0h1m1 0h1m-26 1h1m2 0h1m3 0h1m4 0h1m8 0h1m2 0h1m6 0h1m7 0h1m-36 1h1m1 0h4m2 0h1m4 0h1m1 0h1m11 0h1m6 0h1m2 0h2"/><path stroke="#5689c6" d="M9 5.5h1m5 2h1m-7 1h1m14 1h1m14 1h1m-40 3h1m-1 1h1m24 2h1m-26 1h1m-1 2h2m-2 1h1m-1 1h1m14 1h1m1 0h1m-18 1h1m-1 2h1m8 1h1m-10 1h1m7 0h1m-7 1h1m1 0h1m20 0h1m-17 1h1m4 0h1m-15 1h1m2 0h2m-4 1h1m4 0h1m3 0h1m-7 1h2m6 0h1m-13 1h3m2 0h1m1 0h2m3 0h2m-10 1h1m1 0h1m3 0h1m1 0h1m14 0h1m-24 1h1m1 0h1m4 0h1m6 0h1m-17 1h4m2 0h1m1 0h1m1 0h1m-11 1h2m1 0h1m4 0h1m-10 1h1m4 0h1m1 0h1m-9 1h2m1 0h1m3 0h1m2 0h1m-10 1h2m8 0h1m2 0h1m-14 1h1m1 0h1m4 0h1m-5 1h2m2 0h1m8 0h1m-17 1h1m3 0h2m-7 1h1m2 0h1m4 0h1m1 1h1m-11 1h1m3 1h1m0 1h1m3 0h1m-8 1h2m7 0h1"/><path stroke="#659bcf" d="M0 18.5h1m0 7h1m1 4h1m2 0h1m-6 1h2m-3 1h1m1 0h3m6 0h1m-12 1h4m2 0h1m2 0h1m-5 3h1m-5 1h1m2 1h1m2 1h1m-8 3h1m5 0h1m-3 2h1m-4 1h1m3 0h1m-5 2h1m4 0h1m-5 1h1m-3 2h1"/><path stroke="#75aed8" d="M3 26.5h1m1 8h1m-6 1h1m1 0h1m0 12h1"/><path stroke="#84c0e1" d="M3 34.5h1"/><path stroke="#9dcce2" d="M2 16.5h1m1 2h1"/><path stroke="#b5d8e4" d="M2 14.5h1"/><path stroke="#cadace" d="M5 19.5h2"/><path stroke="#e9bd59" d="M2 19.5h1"/><path stroke="#ecaa3e" d="M6 21.5h1"/><path stroke="#ee9239" d="M18 29.5h1m-13 4h1"/><path stroke="#eb7434" d="M1 17.5h1m6 6h1"/><path stroke="#e04d2f" d="M4 19.5h1m-1 6h1"/><path stroke="#d4322b" d="M4 16.5h2m-3 1h1"/><path stroke="#b01c26" d="M3 14.5h5m-7 1h8m-8 1h1m1 0h1m2 0h3m-7 1h1m1 0h5m-7 1h2m1 0h4m-6 1h1m3 0h2m-8 1h3m1 0h5m-9 1h3m1 0h1m1 0h3m-9 1h2m3 0h4m-5 1h3m1 0h1m-5 1h5m-4 1h3m-3 1h2"/></g><use href="#G" clip-path="url(#T)" fill="none" stroke="#f4f6fb" stroke-opacity="0.85" stroke-width="0.17"/></g><g transform="translate(121.80 1593.00) scale(4.670)"><g fill="none" stroke-width="1.02"><path stroke="#4263a9" d="M37 1.5h1m-33 3h1m3 0h1m1 0h1m16 1h1m15 0h1m-34 1h1m27 0h1m3 0h1m4 0h1m-47 1h1m41 0h1m-45 3h1m26 1h1m13 0h1m-3 2h1m-4 1h1m1 0h1m-10 2h1m12 0h1m-6 1h1m7 0h1m-2 1h1m-6 1h1m1 0h1m-19 1h1m20 2h1m-34 1h1m20 1h1m5 0h1m7 0h1m1 0h1m-32 1h1m30 0h1m-20 1h1m2 0h1m16 0h1m-19 1h1m12 0h1m2 0h2m-30 1h1m25 0h1m-23 1h1m12 0h1m3 0h1m2 1h1m-7 1h1m-6 1h1m3 0h1m-16 1h1m9 1h1m-2 1h1m12 0h1m-2 1h1m-12 1h1m-11 1h1m19 0h1m-16 1h2m-4 2h2m3 0h1m12 0h1m-17 2h1m2 0h1m18 0h1m-30 2h1m26 0h1m-31 2h1m8 0h1m13 1h1m2 0h1m-34 1h1"/><path stroke="#4970b3" d="M26 0.5h1m4 0h2m2 0h1m-13 1h2m6 0h1m3 0h1m-23 1h1m14 0h2m2 0h1m6 0h2m2 0h1m-10 1h1m-17 1h1m3 0h1m5 0h1m-23 1h1m4 0h1m35 0h1m-8 1h1m-31 1h1m30 0h1m6 0h1m-40 1h1m16 0h1m19 0h3m-40 1h1m4 0h1m8 0h1m4 0h1m1 0h1m12 0h2m1 0h1m-31 1h1m6 0h1m15 0h1m2 0h1m-30 1h1m6 0h1m11 0h2m2 0h1m1 0h3m5 0h2m-45 1h3m3 0h2m5 0h1m7 0h1m6 0h1m1 0h1m1 0h1m7 0h1m5 0h1m-36 1h1m16 0h1m2 0h1m10 0h1m-23 1h1m3 0h1m5 0h1m5 0h1m1 0h2m2 0h1m-33 1h1m16 0h1m7 0h1m3 0h2m-13 1h1m1 0h1m14 0h1m-1 1h1m-49 1h1m35 0h2m5 0h1m-32 1h1m35 0h2m-36 1h1m11 0h1m9 0h2m2 0h4m-18 1h1m17 0h1m3 0h1m-37 1h1m8 0h1m3 0h1m8 0h2m-13 1h1m19 0h2m4 0h1m-19 1h1m4 0h1m6 0h1m1 0h1m-23 1h1m5 0h1m4 0h3m6 0h1m1 0h1m1 0h1m-13 1h1m9 0h1m-22 1h1m5 0h1m2 0h1m1 1h1m-30 1h1m23 0h1m2 0h1m12 0h1m-35 1h1m21 0h2m3 0h1m1 0h1m4 0h2m-16 1h1m8 0h1m1 0h1m-5 1h1m4 0h1m2 0h1m-41 1h1m14 0h1m2 0h1m3 0h2m3 0h3m7 0h1m3 0h1m-12 1h2m6 0h1m3 0h1m-18 1h1m4 0h1m1 0h3m-11 1h1m6 0h1m8 0h1m-19 1h1m2 1h1m7 0h1m4 0h1m-36 1h1m12 0h2m6 0h1m-16 1h1m4 0h2m4 0h1m3 0h1m8 0h1m1 0h1m3 0h1m-26 1h1m5 0h1m2 0h2m12 0h1m2 0h1m-25 1h2m1 0h1m1 0h1m-2 1h1m3 0h1m12 0h1m-24 1h1m4 0h1m1 0h1m-3 1h1m2 0h1m6 0h1m2 0h1m1 0h2m-13 1h2m1 0h1m1 0h1m2 0h1m5 0h1m-19 1h2m1 0h1m2 0h1m8 0h1m3 0h1m-45 1h1m25 0h4m5 0h1m1 0h1m5 0h1m-32 1h1m3 0h1m11 0h1m11 0h1"/><path stroke="#4f7cbc" d="M4 0.5h1m3 0h1m21 0h1m3 0h1m1 0h1m-29 1h1m17 0h1m3 0h1m3 0h1m3 0h4m-42 1h1m18 0h1m6 0h2m3 0h1m1 0h1m3 0h2m3 0h1m-21 1h1m5 0h1m1 0h1m-23 1h1m3 0h1m1 0h1m23 0h1m2 0h3m1 0h2m-40 1h4m4 0h1m2 0h1m5 0h1m17 0h1m-42 1h1m8 0h1m2 0h2m4 0h2m23 0h1m1 0h1m2 0h1m-37 1h1m8 0h1m9 0h1m7 0h1m1 0h2m5 0h1m-49 1h1m8 0h1m13 0h1m15 0h4m5 0h1m-33 1h1m7 0h1m3 0h1m11 0h2m4 0h2m-47 1h1m6 0h1m1 0h1m1 0h1m14 0h3m1 0h3m6 0h1m-28 1h1m1 0h1m8 0h1m3 0h2m3 0h1m10 0h1m3 0h1m-50 1h3m8 0h1m3 0h1m5 0h1m6 0h1m5 0h1m3 0h1m1 0h3m-41 1h1m3 0h1m3 0h2m1 0h1m7 0h1m11 0h1m-4 1h1m3 0h1m2 0h1m6 0h1m1 0h2m1 0h1m-32 1h1m7 0h2m3 0h1m3 0h2m7 0h1m1 0h4m-22 1h1m8 0h1m1 0h1m3 0h1m2 0h1m2 0h1m-23 1h1m2 0h2m1 0h1m1 0h2m2 0h1m1 0h4m2 0h1m1 0h1m-23 1h1m6 0h1m3 0h1m1 0h1m1 0h1m2 0h1m-30 1h1m10 0h1m4 0h1m7 0h1m2 0h2m2 0h1m-19 1h1m5 0h1m3 0h1m8 0h2m-36 1h1m4 0h1m2 0h1m9 0h1m9 0h2m-22 1h1m17 0h1m4 0h1m-27 1h1m6 0h1m18 0h1m2 0h1m-30 1h1m4 0h1m9 0h2m11 0h1m1 0h1m-38 1h1m14 0h1m12 0h1m3 0h1m-29 1h1m3 0h1m3 0h2m4 0h1m2 0h2m1 0h1m1 0h1m7 0h2m-47 1h1m11 0h3m5 0h2m2 0h1m3 0h1m9 0h1m5 0h1m-36 1h1m6 0h1m8 0h2m5 0h1m6 0h1m3 0h1m2 0h1m1 0h1m-41 1h1m21 0h2m1 0h2m3 0h1m1 0h1m5 0h1m1 0h1m-40 1h1m7 0h1m3 0h1m1 0h1m1 0h2m2 0h1m5 0h1m5 0h1m1 0h2m2 0h1m-29 1h1m4 0h1m5 0h1m1 0h2m5 0h1m3 0h1m2 0h1m1 0h1m-20 1h1m2 0h1m3 0h2m2 0h1m1 0h1m5 0h1m-26 1h1m7 0h2m4 0h1m1 0h4m5 0h1m-28 1h1m3 0h1m1 0h1m1 0h1m1 0h2m2 0h1m2 0h1m3 0h2m-29 1h1m4 0h1m16 0h1m3 0h1m1 0h1m1 0h1m2 0h1m-48 1h1m14 0h1m1 0h1m9 0h1m2 0h1m7 0h2m3 0h1m-27 1h1m5 0h1m13 0h7m-20 1h2m1 0h1m12 0h3m-17 1h3m1 0h1m7 0h1m1 0h4m-22 1h1m1 0h1m2 0h2m10 0h1m1 0h3m1 0h1m-26 1h1m5 0h1m17 0h1m-22 1h1m3 0h1m13 0h1m-26 1h1m5 0h1m5 0h1m-16 1h1m7 0h1m3 0h1m16 0h1m2 0h2m-29 1h1m4 0h1m1 0h1m2 0h1m1 0h1m1 0h2m1 0h1m9 0h1m-38 1h1m5 0h1m6 0h4m1 0h2m2 0h1m1 0h1m1 0h1m8 0h1m-32 1h1m2 0h1m6 0h1m6 0h1m-12 1h1m5 0h1m4 0h1m5 0h1m3 0h1m1 0h1m-28 1h1m2 0h1m4 0h1m1 0h3m1 0h1"/><path stroke="#5689c6" d="M7 0.5h1m16 0h1m4 0h1m3 0h1m-31 1h1m24 0h1m3 0h2m2 0h1m-26 1h1m13 0h1m4 0h1m4 0h2m-20 2h1m7 0h1m1 0h1m1 0h1m3 0h1m2 0h1m2 0h2m-29 1h1m3 0h1m5 0h1m4 0h1m10 0h1m1 0h1m2 0h1m2 0h1m-32 1h1m5 0h1m1 0h1m1 0h2m14 0h2m4 0h1m-48 1h1m10 0h2m2 0h1m1 0h2m7 0h1m12 0h1m6 0h1m-44 1h1m7 0h2m1 0h4m-8 1h2m1 0h1m1 0h1m15 0h1m7 0h1m9 0h1m-49 1h1m13 0h1m2 0h1m1 0h2m3 0h1m5 0h1m15 0h1m-48 1h1m8 0h2m1 0h1m2 0h1m5 0h1m9 0h1m12 0h1m3 0h1m-37 1h1m1 0h1m8 0h1m1 0h1m4 0h1m1 0h1m13 0h2m-48 1h2m2 0h2m3 0h1m5 0h1m4 0h1m3 0h2m2 0h1m1 0h1m1 0h1m3 0h3m7 0h1m-47 1h1m9 0h2m2 0h1m2 0h1m3 0h1m3 0h2m4 0h1m16 0h1m-37 1h1m1 0h1m5 0h2m1 0h3m2 0h2m2 0h2m-19 1h1m1 0h2m2 0h1m3 0h1m1 0h1m2 0h1m1 0h1m1 0h1m5 0h1m4 0h1m1 0h1m-34 1h1m8 0h1m8 0h1m1 0h1m3 0h1m-24 1h1m2 0h1m3 0h1m2 0h2m1 0h1m6 0h1m5 0h1m4 0h3m-35 1h1m3 0h1m5 0h2m2 0h2m5 0h3m4 0h1m3 0h1m-36 1h1m7 0h1m2 0h1m1 0h1m7 0h2m4 0h1m5 0h4m-48 1h1m10 0h1m1 0h1m4 0h1m4 0h1m1 0h1m1 0h1m10 0h1m2 0h1m3 0h2m2 0h1m-34 1h2m6 0h1m1 0h1m2 0h1m6 0h1m4 0h3m3 0h1m1 0h1m-50 1h1m13 0h1m2 0h2m2 0h1m6 0h1m17 0h1m-32 1h1m4 0h2m1 0h1m4 0h3m2 0h1m3 0h1m6 0h1m-24 1h2m5 0h1m4 0h1m3 0h1m8 0h1m2 0h1m-38 1h1m6 0h1m2 0h2m2 0h1m1 0h1m2 0h1m7 0h1m3 0h2m-35 1h1m5 0h2m2 0h1m7 0h1m14 0h1m2 0h1m2 0h1m-44 1h1m8 0h1m4 0h1m1 0h1m7 0h1m12 0h1m2 0h1m-40 1h1m8 0h1m4 0h2m1 0h1m3 0h1m16 0h1m2 0h1m-30 1h3m1 0h1m7 0h3m3 0h2m1 0h1m-33 1h1m1 0h1m12 0h2m1 0h1m3 0h1m4 0h2m1 0h2m5 0h2m1 0h1m-39 1h1m8 0h1m3 0h2m4 0h1m10 0h1m1 0h1m3 0h1m1 0h1m-31 1h1m4 0h1m2 0h2m3 0h1m5 0h1m1 0h1m5 0h1m1 0h1m-48 1h1m1 0h1m13 0h1m1 0h1m6 0h1m15 0h2m4 0h2m-35 1h1m5 0h1m1 0h1m1 0h2m1 0h1m3 0h1m13 0h1m2 0h1m-43 1h1m11 0h1m1 0h1m1 0h1m2 0h1m4 0h1m8 0h1m4 0h1m1 0h1m-31 1h1m3 0h2m8 0h1m1 0h1m-21 1h1m1 0h1m1 0h1m3 0h1m4 0h1m2 0h1m-16 1h2m5 0h2m3 0h1m-12 1h1m4 0h1m5 0h1m6 0h1m-23 1h1m7 0h1m4 0h1m8 0h1m-30 1h1m12 0h1m10 0h1m2 0h3m11 0h1m2 0h1m1 0h1m-49 1h1m20 0h1m26 0h1m-50 1h1m19 0h1m8 0h3m11 0h1m-28 1h1m4 0h2m5 0h1m2 0h1m8 0h1m-22 1h3m5 0h1m9 0h1m-30 1h1m6 0h1m2 0h1m1 0h1m2 0h1m4 0h1m1 0h1m2 0h1m-25 1h2m3 0h1m1 0h1m4 0h1m1 0h2m7 0h1m-29 1h1m9 0h1m3 0h1m4 0h1m1 0h1m5 0h1m6 0h1m1 0h1m1 0h1"/><path stroke="#659bcf" d="M9 0.5h1m27 0h1m-29 1h1m15 0h1m1 0h1m1 0h1m-25 1h1m16 0h1m1 0h1m9 0h1m6 0h1m-19 1h1m-11 1h1m2 0h1m3 0h1m3 0h1m12 0h1m-24 1h1m4 0h2m2 0h1m2 0h1m12 0h1m1 0h1m6 0h1m-43 1h1m5 0h1m4 0h1m4 0h1m-7 1h1m3 0h1m4 0h1m7 0h1m13 0h1m-29 1h1m2 0h1m2 0h1m-16 2h1m3 0h1m7 0h1m1 0h1m1 0h1m-16 1h1m7 0h1m2 0h1m1 0h1m1 0h1m15 0h2m-27 1h1m8 0h1m2 0h1m7 0h1m1 0h1m-37 1h1m12 0h1m2 0h1m3 0h1m2 0h1m2 0h1m5 0h1m11 0h3m-38 1h1m3 0h1m1 0h2m2 0h1m5 0h2m2 0h1m2 0h1m-36 1h1m15 0h1m2 0h1m14 0h1m2 0h1m2 0h2m3 0h1m-30 1h1m6 0h2m1 0h1m11 0h1m-26 1h1m2 0h1m1 0h1m1 0h1m5 0h1m-16 1h1m4 0h1m2 0h1m3 0h2m-14 1h1m1 0h1m6 0h3m15 0h1m6 0h1m-28 1h1m1 0h1m4 0h1m2 0h1m-12 1h1m2 0h1m7 0h1m2 0h1m7 0h2m6 0h1m-33 1h1m2 0h3m2 0h1m3 0h1m20 0h1m-27 1h1m2 0h1m1 0h1m2 0h1m3 0h1m12 0h1m-37 1h1m1 0h1m2 0h1m5 0h1m3 0h2m-15 1h3m3 0h1m4 0h2m5 0h2m-22 1h1m3 0h1m5 0h1m5 0h1m9 0h1m10 0h1m-49 1h1m4 0h1m6 0h1m10 0h1m2 0h2m-26 1h1m1 0h1m7 0h1m10 0h1m4 0h2m18 0h1m-39 1h2m1 0h3m4 0h1m5 0h1m2 0h1m13 0h2m-37 1h1m5 0h1m10 0h1m23 0h1m-46 1h1m6 0h3m8 0h1m4 0h1m14 0h1m-38 1h1m5 0h1m1 0h1m4 0h1m1 0h2m3 0h3m3 0h1m3 0h1m-20 1h1m29 0h1m-46 1h1m1 0h2m2 0h1m5 0h1m3 0h1m2 0h2m1 0h1m-6 1h1m4 0h1m2 0h1m1 0h1m18 0h1m-33 1h1m7 0h1m3 0h2m14 0h1m-33 1h1m3 0h1m1 0h1m4 0h1m1 0h1m2 0h1m-25 1h1m4 0h1m6 0h1m2 0h1m3 0h3m6 0h1m-31 1h1m13 0h1m1 0h1m1 0h1m-8 1h1m10 0h1m-21 1h1m5 0h1m16 0h1m14 0h1m1 0h1m-29 1h1m1 0h1m3 0h2m19 0h1m-35 1h1m4 0h2m6 0h1m1 0h1m1 0h1m-7 1h1m4 0h2m-18 1h1m8 0h1m-10 1h1m4 0h1m1 0h1m1 0h1m4 0h1m-16 1h1m1 0h1m9 0h1m24 0h1m-39 1h1m1 0h1m3 0h2m1 0h1m1 0h3m5 0h1m-25 1h1m4 0h2m14 0h1m14 0h1"/><path stroke="#75aed8" d="M23 2.5h1m5 1h1m-11 1h1m6 0h1m-6 1h1m3 0h1m-2 1h1m-6 1h1m1 0h1m1 0h2m-12 1h1m2 1h1m1 0h2m-8 1h1m15 1h1m-16 1h1m5 0h2m1 0h1m13 0h1m-25 1h1m4 0h2m3 0h1m-10 1h1m1 0h1m4 0h1m-10 1h1m3 0h1m6 0h1m-11 1h3m5 0h1m15 0h1m-37 1h1m16 0h1m3 0h1m24 0h1m-30 1h1m2 0h2m11 0h1m15 0h1m-33 1h1m8 0h1m-27 1h1m11 0h2m1 0h1m1 0h1m9 0h1m2 0h1m-19 1h1m3 0h1m4 0h1m2 0h1m-25 1h1m29 0h1m-19 1h2m6 0h1m3 0h1m6 0h1m-20 1h1m12 0h1m-10 1h1m1 0h1m7 0h1m-25 1h1m10 0h2m2 0h1m-14 1h1m6 0h1m6 0h2m-17 1h1m3 0h3m4 0h1m1 0h1m7 0h2m-25 1h1m2 0h1m13 0h1m-8 1h1m5 0h1m-9 1h1m7 0h3m-13 1h1m37 0h1m-42 1h1m4 0h1m18 0h1m-23 1h1m1 0h1m5 0h1m4 0h1m4 0h1m2 0h1m1 0h1m16 0h1m-45 1h1m12 0h1m1 0h1m11 0h1m-14 1h1m4 0h1m2 0h1m1 0h1m-25 1h1m10 0h1m4 0h1m7 0h1m-18 1h1m1 0h1m1 0h1m5 0h1m10 0h1m-26 1h1m5 0h1m4 0h1m1 0h1m-19 1h1m6 0h1m3 0h1m-7 1h1m7 0h1m-3 1h1m-9 1h1m6 0h2m7 0h1m8 0h1m-17 1h1m-3 1h1m2 0h2m23 0h1m-32 1h1m1 0h1m2 0h1m5 0h1m-19 1h2m1 0h1m2 0h1m5 0h1m-6 1h1m12 1h2"/><path stroke="#84c0e1" d="M15 4.5h1m5 0h1m1 0h1m-8 2h1m1 2h1m1 0h2m-10 1h1m7 0h1m1 0h1m-4 1h1m7 0h1m-1 3h1m-11 2h1m1 1h1m2 0h1m-8 1h1m3 0h1m5 0h1m-7 2h1m1 1h1m-7 1h1m-5 1h1m1 0h1m14 0h1m-13 1h1m0 1h1m-18 1h1m19 0h1m-20 1h1m3 2h1m5 0h1m1 0h1m4 0h1m-19 1h1m11 0h1m14 0h1m-28 1h1m8 0h1m3 0h1m-14 1h1m16 1h1m-18 1h1m7 0h1m3 0h2m5 0h1m-15 1h1m9 0h1m-12 1h1m8 0h1m0 1h1m-14 1h1m1 0h1m10 0h1m8 0h1m4 0h1m-25 1h1m1 0h2m9 0h1m-9 1h1m2 0h1m9 0h1m-22 1h2m2 0h1m2 0h2m5 0h1m0 1h1m-11 1h2m5 0h1m3 1h1m2 0h1m-3 1h1m4 1h1m-20 1h2m5 0h1m-10 1h1m1 0h2m4 0h1m10 0h1m-22 1h1m2 0h3m5 0h1m-9 1h1m7 0h1m3 0h1"/><path stroke="#9dcce2" d="M14 7.5h1m8 1h1m-3 1h1m1 2h1m-6 1h1m5 2h1m-1 3h1m-12 1h1m-13 1h1m1 3h1m11 1h1m-16 3h1m17 0h1m-16 1h1m-3 1h1m19 0h1m-20 1h2m13 0h1m-13 1h1m10 0h1m-9 2h2m2 0h1m-8 1h1m14 0h1m-20 2h1m3 0h1m5 0h1m-7 1h1m-6 1h1m5 0h2m1 0h2m-10 1h2m3 1h2m-5 1h1m9 0h1m6 1h1m-17 2h1m10 0h1m-2 1h1m2 0h1m-4 2h1m-15 3h1m1 0h1m2 0h1m4 0h1"/><path stroke="#b5d8e4" d="M12 18.5h1m-4 5h1m8 1h1m-11 5h1m-6 6h1m4 0h1m-8 1h1m1 0h1m4 0h1m2 0h1m1 0h1m-10 1h2m-1 1h1m-2 2h1m1 0h1m3 0h1m-9 1h1m2 2h1m-1 2h1m3 0h1m-9 1h1m1 0h1m2 0h1m1 3h1"/><path stroke="#cadace" d="M4 15.5h1m0 14h1m-6 3h1m6 3h1m-4 1h1m3 1h1m-7 2h1m1 0h1"/><path stroke="#dbd6aa" d="M2 16.5h1m-2 1h1"/><path stroke="#e4cb83" d="M27 12.5h1m-21 4h1m15 3h1m-2 13h1m-11 5h1m-11 11h1"/><path stroke="#e9bd59" d="M17 10.5h1m-1 1h1m-4 11h1m16 0h1m-25 1h1m-7 1h1m6 0h1m12 7h1m-12 2h2m16 7h1m10 9h1"/><path stroke="#ecaa3e" d="M5 16.5h1m16 1h1m-9 16h1m2 0h1m22 1h1m5 12h1m-36 1h1m1 0h1"/><path stroke="#ee9239" d="M4 22.5h1m41 0h1m-39 4h1m10 3h1m-1 6h1m-4 8h1m26 0h1m-44 3h1"/><path stroke="#eb7434" d="M24 9.5h1m-21 7h1m3 1h1m28 5h1m-23 8h1m-9 1h1m33 8h1m-33 5h1m1 1h1"/><path stroke="#e04d2f" d="M13 5.5h1m4 6h1m16 0h1m-35 19h1m-1 2h1m14 0h1m-7 3h1m-4 1h1m-6 7h1m7 1h1m-9 2h1"/><path stroke="#d4322b" d="M14 24.5h1m-15 4h1m2 2h1m2 0h2m6 1h2m-13 1h1m5 3h1m-10 1h1m-1 2h1m0 3h1m9 0h1m2 0h1m-15 1h2m10 0h1m-7 1h1m-7 2h3m1 0h1m2 0h1m4 0h1m2 0h1m-4 4h1"/><path stroke="#c82b2a" d="M17 5.5h1m0 1h1m20 9h1m-38 15h1m1 0h1m-2 1h1m1 0h1m-4 1h1m3 0h1m8 0h1m-1 1h1m-6 1h1m1 0h1m-1 1h1m-4 1h1m2 0h1m-13 3h1m11 2h1m-9 1h2m3 1h1m2 0h1m-12 1h1m1 0h2m2 0h1m-5 1h1m2 0h1m11 0h1"/><path stroke="#bc2328" d="M35 16.5h1m8 0h1m-16 7h1m-30 1h1m1 3h1m1 5h1m9 0h1m19 0h1m-34 1h3m2 0h1m2 1h1m1 0h1m-12 1h1m5 0h1m3 1h1m-8 3h1m16 1h1m-21 1h1m3 0h1m1 0h1m1 0h1m-7 1h1m6 0h2m3 0h1m-15 1h1m1 1h1m3 0h1m4 0h1"/><path stroke="#b01c26" d="M40 10.5h1m-40 4h7m-7 1h3m1 0h4m-8 1h1m1 0h1m2 0h1m1 0h1m-7 1h6m1 0h1m-9 1h9m29 0h1m-40 1h1m1 0h8m-9 1h9m-9 1h10m-10 1h2m3 0h5m-10 1h6m1 0h1m1 0h1m-9 1h6m1 0h2m-10 1h10m-8 1h5m1 0h2m-5 1h4m-9 4h2m3 0h1m9 0h1m-2 10h1m-8 1h1m-2 1h1m-3 1h1m2 0h1m4 0h1m2 0h1"/></g><use href="#G" clip-path="url(#T)" fill="none" stroke="#f4f6fb" stroke-opacity="0.85" stroke-width="0.17"/></g><g transform="translate(458.30 1593.00) scale(4.670)"><g fill="none" stroke-width="1.02"><path stroke="#4263a9" d="M41 1.5h1m-8 1h2m-16 2h1m-12 1h1m-1 3h1m37 0h1m-33 2h1m18 1h1m-34 1h1m14 0h1m30 0h1m-14 1h1m2 0h1m-5 1h1m-34 1h1m47 1h1m-14 1h1m9 7h1m-25 1h1m23 2h2m-38 1h1m3 0h1m8 0h1m1 2h1m20 0h1m-10 1h1m12 0h1m-10 1h1m-23 1h1m25 0h1m-7 1h1m5 0h1m-5 1h1m7 0h1m-4 1h1m-5 1h1m-11 5h1m12 1h1m1 2h1m-22 1h1m19 0h1m-18 1h1m-19 1h1m29 1h1"/><path stroke="#4970b3" d="M7 0.5h1m29 0h1m-13 1h1m2 1h1m-21 2h1m3 0h1m4 0h1m19 0h1m5 0h1m-27 1h1m29 0h1m-42 1h1m17 0h1m15 0h1m1 0h1m4 0h2m-47 1h1m7 0h1m35 0h1m1 0h2m-37 1h1m9 0h1m18 0h2m4 0h2m-4 1h1m-28 2h1m4 0h1m6 0h1m6 0h1m6 0h1m-26 1h1m4 0h1m2 0h1m3 0h1m4 0h1m4 0h1m6 0h1m-35 1h1m17 0h1m5 0h1m7 0h1m-20 1h1m3 0h1m16 0h1m-28 1h1m23 0h1m-10 1h1m6 0h1m-23 1h1m26 0h1m-10 1h2m3 0h1m-11 1h1m9 0h1m3 0h1m-36 3h1m26 0h1m2 0h2m-33 1h1m31 0h1m-15 1h1m-5 1h1m19 0h1m-27 2h1m25 0h1m1 0h1m-34 1h1m31 0h1m-15 1h1m4 0h1m9 0h1m-11 1h1m3 0h1m-3 1h2m-9 1h1m9 0h3m2 0h1m-40 1h1m34 0h1m1 0h1m1 0h1m-10 1h1m8 0h1m-26 1h1m12 0h1m4 0h4m1 0h1m-18 1h1m8 0h1m1 0h1m2 0h1m-13 1h1m7 0h1m3 0h1m-3 1h1m0 1h1m-16 1h1m14 0h1m3 0h1m-27 1h1m22 0h1m-21 1h1m24 0h1m-48 1h1m40 0h1m-29 1h1m28 0h1m2 0h1m-45 1h1m3 0h1m26 0h1m-4 1h1m12 0h1m1 0h1m-9 2h2m-12 1h1m9 0h1m2 0h1"/><path stroke="#4f7cbc" d="M31 0.5h2m2 0h2m-6 1h2m4 0h1m-16 1h1m7 0h1m5 0h1m1 0h1m1 0h1m-18 1h1m10 0h1m-26 1h1m6 0h1m8 0h1m1 0h1m10 0h1m1 0h1m1 0h1m3 0h1m-21 1h1m17 0h1m1 0h1m-8 1h1m6 0h1m-15 1h1m6 0h1m2 0h2m-34 1h1m9 0h1m25 0h1m-29 1h2m11 0h1m7 0h1m2 0h1m1 0h1m3 0h2m-40 1h1m28 0h1m2 0h1m-43 1h1m8 0h1m13 0h1m5 0h1m5 0h1m4 0h3m4 0h2m-39 1h1m19 0h2m1 0h3m3 0h1m1 0h1m-33 1h1m15 0h1m3 0h1m1 0h2m15 0h1m-18 1h1m2 0h1m3 0h1m2 0h1m3 0h2m1 0h1m-25 1h1m1 0h2m2 0h1m2 0h1m1 0h2m1 0h1m2 0h1m5 0h1m-22 1h1m4 0h1m11 0h1m2 0h1m2 0h1m-17 1h1m4 0h2m1 0h2m3 0h1m-10 1h2m5 0h1m-32 1h1m10 0h1m13 0h2m-8 1h1m2 0h1m1 0h1m4 0h1m1 0h2m2 0h1m-25 1h2m5 0h1m6 0h1m4 0h1m1 0h1m-15 1h1m4 0h1m-14 1h2m19 0h1m-25 1h1m5 0h1m7 0h1m1 0h2m6 0h1m1 0h2m-30 1h1m24 0h1m5 0h1m-28 1h1m1 0h1m9 0h2m1 0h1m10 0h2m-38 1h1m6 0h1m-9 1h1m13 0h1m18 0h1m1 0h1m2 0h1m-27 1h2m7 0h1m8 0h1m1 0h1m1 0h3m-48 1h1m11 0h1m5 0h1m18 0h1m2 0h1m1 0h1m1 0h1m2 0h3m-38 1h1m3 0h1m6 0h1m8 0h1m2 0h1m1 0h1m2 0h1m2 0h2m1 0h2m-46 1h1m9 0h1m8 0h1m13 0h2m4 0h1m1 0h1m-25 1h1m15 0h1m1 0h1m2 0h4m2 0h1m1 0h1m-39 1h1m4 0h1m4 0h1m1 0h1m14 0h1m1 0h1m1 0h1m3 0h1m1 0h1m-45 1h1m1 0h1m1 0h1m1 0h1m3 0h1m6 0h1m6 0h1m4 0h1m5 0h1m2 0h1m4 0h1m2 0h1m-47 1h1m4 0h1m19 0h1m3 0h1m5 0h1m1 0h1m1 0h1m-33 1h1m8 0h1m2 0h1m5 0h1m10 0h1m2 0h1m2 0h1m-6 1h1m3 0h2m-40 1h1m6 0h1m12 0h1m5 0h1m8 0h1m2 0h2m-38 1h1m1 0h2m4 0h1m10 0h1m4 0h1m7 0h3m2 0h2m-36 1h1m20 0h1m9 0h2m2 0h2m-20 1h1m13 0h3m2 0h1m-38 1h1m1 0h1m9 0h1m3 0h1m1 0h1m1 0h1m-29 1h1m10 0h2m10 0h1m17 0h1m4 0h1m-37 1h1m9 0h2m3 0h1m2 0h1m4 0h1m1 0h3m1 0h2m-41 1h1m3 0h1m23 0h1m1 0h1m3 0h2m-26 1h1m14 0h1m2 0h1m10 0h1m2 0h2m-34 1h1m4 0h1m2 0h1m5 0h2m1 0h1m-28 1h1m18 0h1m7 0h2m6 0h1m1 0h1"/><path stroke="#5689c6" d="M4 0.5h1m3 0h1m15 0h1m4 0h1m-1 1h1m3 0h1m2 0h1m3 0h1m-41 1h1m10 0h1m7 0h1m7 0h1m3 0h1m7 0h1m-12 1h2m-19 1h1m7 0h1m1 0h1m2 0h1m16 0h1m3 0h1m-36 1h1m1 0h1m1 0h3m22 0h2m1 0h1m-23 1h1m20 0h1m1 0h2m-27 1h2m20 0h1m3 0h1m2 0h1m-37 1h1m4 0h1m1 0h1m21 0h2m-22 1h1m2 0h1m5 0h2m10 0h1m-42 1h1m1 0h1m14 0h1m2 0h2m4 0h2m2 0h2m2 0h1m-25 1h1m1 0h1m2 0h1m5 0h2m5 0h1m1 0h1m1 0h2m9 0h2m4 0h1m-50 1h1m14 0h1m8 0h1m1 0h2m1 0h1m6 0h1m9 0h1m-35 1h1m1 0h1m3 0h3m3 0h1m10 0h1m9 0h2m-33 1h1m14 0h2m11 0h1m-20 1h1m7 0h1m7 0h2m1 0h3m4 0h1m-36 1h1m1 0h1m8 0h1m3 0h1m5 0h2m1 0h2m7 0h1m-32 1h1m8 0h1m1 0h1m3 0h2m-22 1h1m12 0h4m6 0h1m7 0h1m4 0h1m1 0h1m-23 1h1m1 0h1m7 0h1m2 0h4m2 0h2m-18 1h1m2 0h1m5 0h1m6 0h2m1 0h1m-23 1h1m-5 1h1m1 0h2m3 0h1m11 0h2m5 0h1m-36 1h1m1 0h1m1 0h1m6 0h1m3 0h1m17 0h1m1 0h1m-29 1h1m6 0h1m4 0h1m1 0h1m2 0h1m-27 1h1m3 0h2m13 0h1m1 0h2m1 0h1m7 0h3m1 0h1m-32 1h2m1 0h1m7 0h1m4 0h1m9 0h1m2 0h2m-35 1h1m3 0h1m7 0h3m20 0h1m-34 1h1m8 0h1m3 0h1m1 0h1m4 0h1m9 0h1m1 0h1m-38 1h2m1 0h1m5 0h1m9 0h1m6 0h1m3 0h1m7 0h1m-38 1h1m9 0h1m1 0h1m2 0h1m6 0h1m12 0h1m-32 1h1m10 0h1m11 0h1m6 0h1m2 0h1m-35 1h1m3 0h1m5 0h1m8 0h1m3 0h1m9 0h1m-36 1h1m2 0h2m3 0h1m4 0h1m1 0h1m1 0h1m2 0h1m1 0h1m-24 1h1m1 0h1m3 0h1m6 0h1m8 0h1m2 0h1m5 0h2m2 0h1m1 0h1m-38 1h1m3 0h1m1 0h2m-13 1h1m15 0h1m2 0h1m3 0h1m1 0h1m11 0h1m2 0h1m-45 1h1m12 0h1m7 0h1m6 0h1m12 0h1m-36 1h1m2 0h2m9 0h1m4 0h1m1 0h1m2 0h1m-31 1h1m6 0h1m2 0h1m6 0h1m10 0h1m11 0h1m-42 1h1m2 0h1m2 0h1m13 0h1m3 0h1m3 0h1m14 0h1m-41 1h1m1 0h1m7 0h3m10 0h1m2 0h2m9 0h1m-41 1h1m5 0h1m7 0h1m7 0h1m1 0h3m-27 1h1m2 0h1m9 0h1m2 0h1m5 0h1m7 0h1m16 0h2m-47 1h1m7 0h1m14 0h1m1 0h1m1 0h1m-26 1h2m1 0h2m1 0h1m3 0h1m1 0h1m13 0h1m15 0h1m-41 1h1m5 0h1m4 0h1m5 0h1m9 0h2m-31 1h1m3 0h1m3 0h2m3 0h1m5 0h2m3 0h1m-29 1h1m1 0h1m1 0h1m18 0h2m2 0h1m2 0h2m3 0h2m5 0h2m-40 1h1m1 0h1m1 0h1m2 0h1m10 0h2m17 0h1"/><path stroke="#659bcf" d="M33 0.5h2m-27 1h2m14 0h1m1 0h1m7 0h1m3 0h1m-6 1h1m3 0h1m4 0h2m-14 1h1m-18 1h3m13 0h1m3 0h1m2 0h1m2 0h1m-33 1h1m5 0h1m8 0h1m1 0h1m3 0h1m9 0h1m4 0h1m4 0h1m-33 1h2m1 0h1m3 0h1m-10 1h2m4 0h1m1 0h1m10 0h1m7 0h1m-30 1h1m8 0h2m1 0h3m-10 1h1m3 0h1m3 0h1m2 0h1m14 0h1m-33 1h1m4 0h1m11 0h1m4 0h1m13 0h1m-37 1h1m1 0h2m3 0h1m7 0h1m9 0h1m2 0h1m6 0h1m-34 1h1m3 0h1m3 0h1m21 0h1m-34 1h2m5 0h1m3 0h1m6 0h1m9 0h1m10 0h1m-40 1h2m1 0h1m2 0h1m4 0h1m1 0h1m1 0h1m1 0h1m7 0h1m1 0h1m1 0h1m7 0h1m-37 1h1m9 0h1m3 0h1m8 0h1m13 0h1m-29 1h2m1 0h1m4 0h1m4 0h1m6 0h1m1 0h1m2 0h1m-33 1h1m3 0h1m5 0h2m5 0h1m3 0h1m2 0h1m7 0h1m1 0h1m-15 1h1m1 0h2m2 0h1m3 0h1m-33 1h1m8 0h1m1 0h1m9 0h1m3 0h1m7 0h1m-21 1h2m1 0h1m1 0h1m10 0h2m1 0h1m-32 1h1m6 0h2m2 0h1m18 0h1m-19 1h1m9 0h1m2 0h1m-11 1h2m2 0h1m11 0h1m2 0h1m1 0h1m-27 1h2m19 0h1m4 0h2m-13 1h1m-27 1h1m14 0h1m3 0h1m1 0h1m3 0h1m1 0h1m5 0h1m-35 1h1m4 0h1m8 0h1m3 0h1m10 0h1m3 0h2m-27 1h1m2 0h1m1 0h1m2 0h2m5 0h1m-34 1h1m11 0h1m2 0h1m2 0h1m3 0h1m4 0h2m1 0h1m2 0h1m-25 1h1m3 0h1m2 0h1m13 0h3m5 0h1m-38 1h1m9 0h1m2 0h1m3 0h2m1 0h1m5 0h1m-25 1h1m7 0h1m4 0h1m5 0h1m4 0h1m1 0h1m12 0h1m5 0h1m-47 1h1m4 0h1m1 0h1m12 0h1m5 0h1m1 0h1m5 0h1m1 0h2m-31 1h1m2 0h1m3 0h1m2 0h1m3 0h1m1 0h1m3 0h1m1 0h1m-30 1h1m9 0h1m13 0h1m1 0h2m1 0h1m7 0h1m-27 1h1m1 0h1m7 0h2m1 0h2m19 0h1m-42 1h1m5 0h2m11 0h2m4 0h1m-31 1h1m1 0h1m1 0h1m1 0h1m6 0h2m1 0h3m8 0h1m1 0h1m10 0h1m-41 1h1m1 0h2m5 0h1m3 0h1m1 0h2m2 0h2m3 0h1m2 0h1m2 0h1m-26 1h1m2 0h1m3 0h1m1 0h1m14 0h2m-20 1h2m4 0h1m3 0h2m-22 1h1m2 0h1m2 0h1m2 0h1m2 0h1m6 0h2m6 0h1m-30 1h1m5 0h1m4 0h1m1 0h1m7 0h1m2 0h1m4 0h1m-20 1h1m7 0h2m1 0h1m9 0h1m-30 1h1m1 0h1m5 0h1m5 0h1m1 0h1m6 0h2m1 0h2m2 0h1m7 0h1m-38 1h1m4 0h5m1 0h1m1 0h2m3 0h1m4 0h3m9 0h1m-39 1h5m5 0h1m4 0h1m3 0h1m1 0h1m1 0h1m2 0h1m4 0h3m-34 1h1m3 0h1m2 0h1m3 0h1m1 0h4m1 0h1m23 0h1m-39 1h1m1 0h1m3 0h1m3 0h1m1 0h1m1 0h2m6 0h2m3 0h1"/><path stroke="#75aed8" d="M9 0.5h1m16 0h1m-24 1h1m24 0h1m1 0h1m8 0h1m-35 1h1m18 0h1m1 0h1m2 0h1m11 0h1m-16 2h1m-21 1h1m1 0h1m12 0h1m5 0h1m-18 1h2m1 0h2m6 0h2m3 0h1m-27 1h1m10 0h1m9 0h1m1 0h1m-21 1h1m10 0h2m-4 1h1m11 0h1m-13 1h2m4 0h1m5 0h2m6 0h1m-16 1h1m-9 1h1m4 0h1m3 0h2m3 0h1m-11 1h1m9 0h1m3 0h1m2 0h1m-13 1h2m-8 1h1m2 0h1m13 0h1m15 0h1m-27 1h1m7 0h1m6 0h1m-14 1h1m-4 1h1m27 0h1m1 0h1m-1 1h1m-29 1h2m6 0h1m7 0h1m1 0h1m-28 1h1m1 0h1m2 0h1m5 0h1m16 0h1m1 0h1m5 0h2m-37 1h1m2 0h1m5 0h2m17 0h1m-22 1h1m2 0h1m3 0h1m7 0h1m-22 1h2m4 0h1m5 0h1m1 0h1m-14 1h1m8 0h2m7 0h1m-21 1h2m1 0h1m11 0h1m1 0h1m1 0h1m7 0h1m-29 1h1m2 0h1m1 0h1m3 0h1m1 0h2m-14 1h1m1 0h1m7 0h1m19 0h1m-27 1h1m1 0h2m3 0h1m9 0h1m12 0h1m-44 1h1m5 0h1m9 0h1m1 0h1m2 0h1m2 0h1m8 0h2m5 0h1m-39 1h2m15 0h1m4 0h1m8 0h1m-35 1h1m3 0h1m1 0h1m6 0h1m1 0h1m3 0h1m3 0h1m1 0h2m3 0h2m-31 1h1m1 0h2m8 0h1m7 0h1m4 0h1m4 0h1m1 0h1m-32 1h1m5 0h1m5 0h1m3 0h1m2 0h1m5 0h2m-23 1h1m12 0h1m2 0h1m7 0h1m-27 1h1m2 0h1m1 0h1m1 0h2m1 0h1m3 0h1m-19 1h2m6 0h1m7 0h3m5 0h1m2 0h1m-28 1h1m15 0h1m3 0h1m3 0h1m1 0h1m4 0h1m11 0h1m-39 1h1m5 0h1m10 0h2m3 0h1m-25 1h1m15 0h2m2 0h2m-25 1h1m1 0h1m2 0h1m4 0h1m9 0h1m3 0h2m2 0h1m-29 1h1m2 0h2m1 0h1m3 0h1m19 0h1m1 0h1m-26 1h2m7 0h1m1 0h1m1 0h1m4 0h1m-22 1h1m1 0h3m8 0h1m2 0h1m2 0h2m-25 1h1m13 0h1m4 0h2m-21 1h2m2 0h1m15 0h1m1 0h1m6 0h1m3 0h1m-28 1h1m1 1h1m12 0h1m1 0h1m-21 1h1m18 0h1"/><path stroke="#84c0e1" d="M30 0.5h1m-6 2h1m-8 2h1m3 0h2m-1 1h1m-7 2h1m6 0h2m-16 2h1m2 0h1m1 0h2m5 0h1m-14 1h1m4 0h1m8 0h1m-12 2h1m3 1h1m5 0h1m-11 1h1m2 0h1m4 0h1m5 0h1m-14 1h2m3 0h1m-7 1h1m9 0h1m-8 1h1m2 0h1m1 0h1m5 0h1m21 0h1m-36 1h1m1 0h1m-4 1h1m3 0h2m1 0h1m5 0h2m-9 2h1m7 0h1m13 0h1m-23 1h1m9 0h1m17 0h1m1 0h1m-34 2h2m1 0h1m10 0h2m1 0h1m-13 1h1m14 0h1m-26 1h1m5 0h1m14 1h1m1 0h1m-33 1h1m12 0h1m-12 1h1m5 0h1m-7 1h1m1 0h2m8 0h1m4 0h1m6 0h1m-28 1h1m1 0h1m2 0h1m11 0h1m4 0h1m7 0h1m2 0h1m-26 1h2m1 1h1m5 0h1m5 0h2m-25 1h2m2 0h1m1 0h1m1 1h1m1 0h1m3 0h1m1 0h1m4 0h1m1 0h1m1 0h1m-26 1h2m17 0h1m-16 1h2m8 0h1m-13 1h1m10 0h1m1 1h1m6 1h1m3 0h1m-26 1h1m1 0h1m22 0h1m-18 1h1m2 0h1m4 0h1m-13 1h1m13 0h1m7 0h1m-27 1h1m3 0h1m21 0h1m-27 1h1m19 0h1m-7 1h1m-9 1h1m8 0h1m3 0h1m-15 1h1m12 0h1m-9 1h1m1 0h1m3 0h1"/><path stroke="#9dcce2" d="M11 5.5h1m7 0h2m4 0h1m-14 1h1m2 0h1m1 10h1m-11 2h1m8 0h2m1 0h1m3 0h1m-10 1h1m-4 1h1m10 0h1m5 1h1m-16 1h1m2 0h1m0 1h1m12 0h1m-18 2h1m5 0h1m8 0h1m0 2h1m-29 2h1m6 0h1m17 0h1m-18 2h1m3 0h1m-9 1h1m1 0h1m9 0h1m2 0h1m11 0h1m-27 1h1m1 0h1m-2 1h1m-6 2h1m2 0h1m10 0h2m11 1h1m-26 1h1m1 0h1m0 1h1m10 0h1m-10 4h1m2 1h1m-13 5h2m6 0h1m11 0h1"/><path stroke="#b5d8e4" d="M13 7.5h1m12 0h1m-22 6h1m16 1h1m-3 1h1m3 1h1m-13 4h2m3 2h1m-6 2h1m2 1h1m-14 4h1m1 0h1m3 2h1m-9 2h1m2 1h1m22 0h1m-27 1h1m9 1h1m-8 1h1m5 0h1m15 1h1m-26 1h1m7 2h1m6 2h1"/><path stroke="#cadace" d="M4 12.5h1m9 5h1m3 2h1m-2 1h1m9 2h1m-8 1h1m-18 3h1m21 0h1m4 1h1m-30 8h1"/><path stroke="#dbd6aa" d="M9 17.5h1m-8 7h1"/><path stroke="#e4cb83" d="M27 11.5h1m-22 6h1m14 1h1m-20 2h1m32 2h1m-15 4h1m1 0h1m-24 2h1m9 2h1m3 0h1m23 2h1"/><path stroke="#e9bd59" d="M35 1.5h1m-23 1h1m4 4h1m-5 3h1m21 8h1m-18 3h1m12 1h1m-21 2h1m12 2h1m14 0h1m-40 2h1m1 0h2m-2 1h1m15 0h1m0 1h1m14 0h1m-29 8h1m3 0h1m9 0h1m1 1h1m5 1h1m10 0h1m-25 3h1m-12 4h1m13 0h1m10 2h1"/><path stroke="#ecaa3e" d="M18 5.5h1m-10 4h1m12 3h1m-6 2h1m6 0h1m19 0h1m-26 1h1m24 2h1m-27 3h1m-2 1h1m2 1h1m8 0h1m-9 1h1m-22 4h1m16 1h1m-14 2h1m31 0h1m-7 4h1m-31 6h1m28 1h1m-14 3h1m-8 4h1m15 1h1"/><path stroke="#ee9239" d="M22 3.5h1m-11 4h1m3 0h1m2 1h1m-1 2h1m18 2h1m-23 3h1m15 0h1m-18 1h1m2 0h1m24 1h1m-23 2h1m-8 1h1m31 1h1m-28 5h1m-2 1h1m-15 1h1m-4 4h1m3 2h1m14 2h1m-9 4h1m-10 3h1m9 2h1m3 2h1"/><path stroke="#eb7434" d="M28 4.5h1m-7 6h1m-7 1h1m-12 1h1m5 0h1m-12 2h1m29 2h1m-12 1h1m0 1h1m1 0h1m-15 2h1m14 0h1m-13 2h1m7 0h1m9 3h1m-16 1h1m-13 1h1m-1 1h1m40 0h1m-38 3h2m16 0h1m-15 1h1m9 5h1m0 1h1m-20 2h1m6 1h1m-10 3h1"/><path stroke="#e04d2f" d="M5 4.5h1m35 1h1m-41 1h1m45 3h1m-19 1h1m-10 1h1m-19 5h1m2 1h1m6 1h1m1 3h1m6 0h1m22 0h1m-37 2h1m-4 2h1m0 3h1m14 8h1m2 3h1m-20 1h1m7 2h1m15 2h1m6 1h1"/><path stroke="#d4322b" d="M32 2.5h1m-32 6h1m38 4h1m-5 1h1m-20 2h1m10 0h1m-6 4h1m-23 2h1m13 0h1m33 0h1m-3 1h1m-37 2h1m14 1h1m2 3h1m-28 2h1m36 2h1m-26 8h1m-6 4h1m-2 3h1m-7 1h1m12 1h1"/><path stroke="#c82b2a" d="M27 1.5h1m-5 1h1m1 4h1m23 0h1m-33 2h1m-7 1h1m-11 1h1m38 0h2m-29 6h1m1 4h1m10 0h1m-5 5h1m-15 5h1m1 1h1m20 0h1m7 0h1m-35 2h1m26 1h1m-22 13h1"/><path stroke="#bc2328" d="M23 1.5h1m1 10h1m0 2h1m9 1h1m0 1h1m-6 1h1m-5 2h1m-1 1h1m-18 4h1m3 0h1m8 1h1m20 2h1m-32 7h1m-6 5h1m13 8h1m17 2h1"/><path stroke="#b01c26" d="M2 12.5h2m-4 1h5m1 0h1m-6 1h7m-7 1h8m-8 1h1m1 0h6m-9 1h5m2 0h2m-9 1h7m1 0h2m-10 1h10m-10 1h2m1 0h5m1 0h1m-10 1h1m1 0h9m-11 1h5m1 0h5m-11 1h8m1 0h2m-11 1h2m1 0h8m6 0h1m-18 1h5m1 0h5m-11 1h3m1 0h6m-5 1h5m-5 1h1m1 0h2m-4 1h3m-4 6h1"/></g><use href="#G" clip-path="url(#T)" fill="none" stroke="#f4f6fb" stroke-opacity="0.85" stroke-width="0.17"/></g><g transform="translate(789.80 1593.00) scale(4.670)"><g fill="none" stroke-width="1.02"><path stroke="#4263a9" d="M4 0.5h1m25 0h1m2 0h1m-31 1h1m32 0h1m1 0h1m-39 1h1m4 0h1m20 0h1m1 0h1m1 0h1m1 0h1m2 0h4m-17 1h1m-11 1h2m1 0h1m4 0h1m3 0h1m14 0h1m-34 1h1m7 0h1m6 0h1m2 0h2m1 0h1m10 0h1m2 0h1m1 0h1m2 0h1m-41 1h1m4 0h1m34 0h1m-45 1h1m12 0h2m2 0h1m3 0h1m9 0h1m5 0h2m2 0h1m2 0h2m-39 1h1m4 0h2m4 0h2m2 0h1m21 0h1m-36 1h1m1 0h1m15 0h1m11 0h1m4 0h1m2 0h1m-41 1h1m1 0h1m3 0h1m2 0h1m1 0h1m-9 1h1m28 0h3m2 0h1m-32 1h1m5 0h1m21 0h1m-31 1h1m32 0h1m-35 2h1m3 0h1m4 0h1m14 0h1m6 0h1m-26 1h1m-6 1h1m-13 1h1m18 0h1m17 0h1m-38 1h1m10 0h1m9 1h1m-7 1h1m4 0h1m-6 1h1m-4 1h1m13 2h1m-19 1h1m3 0h1m1 0h1m4 0h1m6 0h2m2 0h2m-6 1h1m18 0h1m-22 1h1m2 0h2m-16 1h1m15 0h1m-20 1h1m7 0h1m5 0h1m8 0h1m14 0h1m-37 1h1m-1 1h1m6 0h3m16 0h1m-27 1h2m3 0h1m1 0h1m11 0h1m10 0h1m-27 1h1m3 0h2m6 0h1m19 0h1m-34 1h2m2 0h1m-17 1h1m7 0h1m2 0h1m13 0h1m-12 1h1m2 0h2m5 0h1m-17 1h1m2 0h1m6 0h1m1 0h1m16 0h1m-38 1h1m1 0h1m4 0h1m5 0h1m23 0h1m-39 1h1m9 0h1m5 0h1m1 0h1m-19 1h1m14 0h1m3 0h1m3 0h1m-10 1h1m3 0h1m20 0h1m-36 1h1m11 0h2m-20 1h1m14 1h1m3 0h1m4 0h1m1 0h1m1 0h1m8 0h1m2 0h1m-37 1h1m12 0h2m1 0h2m1 0h1m12 0h1m-26 1h1m2 0h1m-1 1h1m1 0h1m6 0h1m-9 1h1m2 0h1m11 0h1m10 0h1"/><path stroke="#4970b3" d="M8 0.5h1m15 0h1m6 0h2m1 0h3m-28 1h1m13 0h1m1 0h1m1 0h4m1 0h2m1 0h1m3 0h1m-29 1h1m7 0h1m2 0h3m2 0h1m1 0h1m1 0h1m2 0h1m4 0h1m1 0h3m-16 1h2m4 0h1m-30 1h1m2 0h2m1 0h1m2 0h1m1 0h1m4 0h1m1 0h1m4 0h2m3 0h1m2 0h2m3 0h1m1 0h1m1 0h2m-38 1h3m3 0h1m3 0h2m1 0h2m4 0h1m10 0h1m2 0h1m5 0h1m-48 1h1m8 0h1m4 0h1m1 0h3m1 0h1m1 0h1m2 0h1m12 0h3m1 0h2m-45 1h1m10 0h3m4 0h1m1 0h1m1 0h1m1 0h3m5 0h1m8 0h2m1 0h1m4 0h1m-47 1h1m7 0h3m3 0h2m4 0h1m1 0h1m16 0h1m4 0h1m1 0h1m-38 1h1m1 0h2m1 0h1m1 0h1m3 0h1m18 0h3m2 0h1m-48 1h1m1 0h1m7 0h1m1 0h1m1 0h1m1 0h1m24 0h2m-30 1h1m1 0h1m1 0h2m2 0h1m16 0h1m5 0h2m2 0h1m-39 1h1m3 0h1m4 0h1m3 0h1m13 0h1m4 0h1m-38 1h1m5 0h2m3 0h2m2 0h1m-21 1h1m11 0h1m1 0h1m3 0h1m25 0h1m2 0h1m-35 1h1m1 0h1m4 0h1m19 0h1m-29 1h3m1 0h1m5 0h1m1 0h1m18 0h2m-30 1h1m3 0h1m2 0h1m2 0h1m13 0h1m1 1h3m-35 1h1m3 0h2m8 0h1m4 0h1m11 0h1m-41 1h1m11 0h2m6 0h2m1 0h1m2 0h2m12 0h1m-28 1h2m11 0h1m-14 1h1m3 0h2m4 0h1m4 0h1m6 0h1m-35 1h1m10 0h1m5 0h1m10 0h1m-12 1h1m9 0h1m-20 1h1m3 0h1m3 0h1m2 0h1m3 0h1m3 0h2m-26 1h1m9 0h1m1 0h3m3 0h2m2 0h1m7 0h1m3 0h1m-36 1h1m8 0h1m4 0h1m3 0h1m2 0h1m1 0h1m6 0h1m-32 1h1m8 0h1m4 0h1m5 0h1m1 0h1m15 0h1m6 0h1m-37 1h1m3 0h2m1 0h6m8 0h1m6 0h1m4 0h1m-39 1h1m1 0h1m4 0h2m3 0h1m1 0h5m1 0h1m9 0h1m9 0h1m-46 1h1m2 0h1m4 0h1m1 0h1m2 0h2m3 0h3m1 0h1m8 0h1m11 0h2m-37 1h1m1 0h1m7 0h1m5 0h1m1 0h1m3 0h1m3 0h1m1 0h1m8 0h1m2 0h1m-40 1h1m4 0h1m3 0h1m2 0h2m1 0h2m3 0h1m10 0h1m3 0h3m-42 1h2m1 0h1m1 0h6m2 0h2m2 0h1m2 0h1m1 0h1m1 0h2m12 0h2m-46 1h1m3 0h1m1 0h3m6 0h1m2 0h2m1 0h3m1 0h2m2 0h2m14 0h1m1 0h2m-46 1h1m5 0h1m1 0h1m1 0h1m3 0h2m1 0h1m1 0h3m1 0h1m5 0h1m13 0h1m-42 1h1m4 0h2m2 0h1m1 0h1m7 0h1m-24 1h1m6 0h1m7 0h2m1 0h1m1 0h1m4 0h2m-21 1h1m2 0h1m1 0h2m2 0h1m1 0h3m1 0h3m1 0h2m17 0h1m-38 1h1m5 0h1m5 0h1m2 0h2m16 0h1m5 0h1m-36 1h2m2 0h1m26 0h1m-32 1h2m1 0h1m7 0h3m18 0h1m-39 1h1m5 0h1m3 0h2m5 0h1m3 0h1m-23 1h1m5 0h1m1 0h1m2 0h3m2 0h1m1 0h1m2 0h1m1 0h1m18 0h1m-43 1h1m3 0h2m4 0h1m2 0h2m3 0h1m2 0h1m3 0h1m8 0h1m6 0h2m-40 1h2m3 0h1m3 0h1m8 0h1m1 0h3m7 0h1m-21 1h4m1 0h4m2 0h1m1 0h1m1 0h1m10 0h2m-40 1h2m3 0h1m1 0h1m2 0h1m2 0h1m1 0h1m1 0h1m1 0h1m-26 1h1m8 0h1m3 0h1m3 0h1m2 0h2m1 0h2m4 0h1m7 0h1"/><path stroke="#4f7cbc" d="M7 0.5h1m18 0h1m2 0h1m7 0h1m-30 1h1m15 0h1m6 0h1m2 0h1m2 0h1m2 0h2m-29 1h1m11 0h1m7 0h1m6 0h1m-18 1h1m6 0h1m-14 1h3m2 0h1m2 0h3m10 0h1m1 0h1m1 0h1m-36 1h2m3 0h1m3 0h2m8 0h1m13 0h1m3 0h1m-32 1h1m2 0h1m3 0h1m1 0h1m1 0h2m16 0h1m4 0h3m-40 1h1m3 0h1m2 0h1m3 0h1m26 0h1m-48 1h1m8 0h1m5 0h1m2 0h1m2 0h1m17 0h1m7 0h1m-40 1h1m6 0h1m1 0h1m2 0h2m2 0h1m13 0h1m8 0h1m-48 1h1m15 0h1m1 0h1m1 0h4m15 0h1m6 0h1m-38 1h1m5 0h1m2 0h2m1 0h2m11 0h1m3 0h2m-41 1h2m1 0h2m4 0h1m1 0h1m1 0h1m2 0h1m1 0h1m1 0h1m-20 1h1m8 0h1m3 0h2m2 0h2m1 0h3m21 0h1m1 0h3m-33 1h1m1 0h1m2 0h1m12 0h1m9 0h2m2 0h1m-50 1h1m10 0h1m5 0h2m3 0h3m17 0h1m1 0h1m2 0h2m-32 1h1m1 0h1m1 0h1m1 0h1m11 0h1m1 0h2m8 0h1m-48 1h1m13 0h1m1 0h3m1 0h1m2 0h2m10 0h1m1 0h1m9 0h1m-48 1h1m8 0h1m2 0h2m4 0h1m2 0h2m11 0h1m10 0h2m-31 1h1m1 0h1m1 0h3m1 0h1m11 0h1m1 0h1m2 0h1m1 0h1m-33 1h1m2 0h2m1 0h3m4 0h1m12 0h3m4 0h1m-35 1h1m1 0h1m2 0h1m1 0h1m1 0h1m3 0h2m6 0h2m5 0h1m9 0h1m-39 1h1m3 0h2m3 0h2m4 0h2m-10 1h1m1 0h1m1 0h5m1 0h1m6 0h1m-25 1h2m4 0h2m1 0h1m1 0h1m3 0h2m3 0h1m1 0h1m1 0h1m-33 1h1m9 0h1m3 0h1m2 0h1m2 0h1m2 0h2m8 0h1m7 0h1m1 0h1m-38 1h1m2 0h1m7 0h1m4 0h1m8 0h1m-30 1h1m1 0h2m1 0h2m2 0h1m2 0h1m1 0h3m1 0h1m5 0h3m18 0h1m-47 1h1m2 0h1m2 0h1m2 0h3m2 0h1m1 0h1m1 0h1m1 0h1m3 0h1m2 0h1m-19 1h1m13 0h3m2 0h1m9 0h1m1 0h1m2 0h2m-44 1h2m1 0h1m2 0h1m1 0h1m2 0h1m1 0h1m12 0h2m1 0h1m1 0h1m4 0h1m3 0h2m1 0h2m-46 1h1m1 0h1m1 0h2m1 0h1m5 0h2m4 0h1m1 0h3m8 0h1m3 0h2m2 0h1m3 0h1m-46 1h1m3 0h3m1 0h1m1 0h1m1 0h5m4 0h2m1 0h1m5 0h1m9 0h1m1 0h2m-41 1h2m1 0h2m2 0h1m3 0h2m3 0h1m2 0h1m2 0h2m2 0h1m2 0h1m-32 1h1m1 0h1m4 0h1m7 0h1m6 0h1m21 0h1m-46 1h1m7 0h4m14 0h1m9 0h1m10 0h1m-49 1h1m12 0h1m1 0h1m2 0h1m1 0h1m3 0h1m2 0h1m1 0h1m16 0h1m-48 1h1m1 0h2m2 0h1m1 0h1m6 0h1m1 0h1m5 0h1m2 0h1m4 0h1m-32 1h1m3 0h2m1 0h1m10 0h1m1 0h1m2 0h1m1 0h1m2 0h2m1 0h1m10 0h2m-42 1h2m1 0h1m3 0h1m4 0h2m5 0h1m3 0h1m2 0h2m-20 1h1m1 0h1m2 0h2m5 0h1m2 0h2m15 0h1m-42 1h1m4 0h1m2 0h1m5 0h1m4 0h2m1 0h3m2 0h1m12 0h2m-42 1h1m3 0h1m5 0h1m2 0h1m1 0h1m5 0h1m5 0h4m11 0h1m5 0h1m-47 1h1m6 0h2m1 0h2m3 0h1m2 0h2m5 0h2m18 0h2m-48 1h2m6 0h1m8 0h2m4 0h1m1 0h1m15 0h1m-40 1h1m1 0h1m1 0h1m2 0h2m1 0h1m2 0h1m3 0h2m8 0h2m3 0h2m-38 1h1m2 0h1m6 0h1m1 0h1m7 0h1m2 0h1m3 0h1m5 0h1m1 0h1m8 0h1m-31 1h1m1 0h2m9 0h1m-18 1h1m1 0h1m1 0h1m3 0h1m17 0h1m2 0h1m-39 1h1m8 0h1m1 0h1m2 0h1m2 0h1m3 0h1m2 0h1m2 0h1m1 0h1m7 0h1m2 0h1"/><path stroke="#5689c6" d="M9 0.5h1m3 5h1m4 0h1m-5 1h1m11 2h1m-17 1h1m9 0h1m3 0h1m5 0h1m-18 1h1m25 0h1m-31 1h1m1 0h1m2 0h1m10 0h2m4 0h2m3 0h1m10 0h1m1 0h1m-45 1h1m6 0h1m4 0h1m6 0h1m13 0h1m1 0h2m7 0h1m-47 1h2m4 0h1m15 0h1m13 0h1m-39 1h1m8 0h1m2 0h1m1 0h2m3 0h1m2 0h1m17 0h2m5 0h1m-35 1h1m14 0h1m9 0h1m5 0h2m2 0h1m-35 1h1m4 0h1m18 0h1m2 0h1m5 0h2m-41 1h1m11 0h1m14 0h1m1 0h1m2 0h1m1 0h1m5 0h1m-35 1h3m1 0h1m3 0h1m2 0h1m10 0h1m1 0h2m3 0h1m-34 1h1m5 0h1m11 0h1m2 0h1m4 0h1m4 0h1m5 0h1m-24 1h1m2 0h3m2 0h1m1 0h2m4 0h1m-42 1h1m3 0h1m6 0h1m6 0h1m1 0h1m1 0h1m4 0h2m10 0h2m2 0h1m-33 1h2m8 0h2m4 0h1m2 0h2m2 0h1m2 0h1m3 0h1m-28 1h1m1 0h1m3 0h1m10 0h1m17 0h1m-49 1h2m1 0h1m7 0h4m4 0h1m1 0h3m4 0h1m1 0h1m3 0h1m1 0h1m-38 1h1m13 0h1m3 0h1m2 0h1m1 0h1m7 0h2m1 0h1m5 0h1m-40 1h1m3 0h1m6 0h1m8 0h1m3 0h1m3 0h1m5 0h3m6 0h1m-31 1h2m9 0h1m5 0h1m11 0h1m1 0h1m-41 1h1m4 0h1m7 0h1m1 0h1m12 0h1m10 0h1m1 0h1m-41 1h1m1 0h1m1 0h1m2 0h1m10 0h1m4 0h1m5 0h1m-36 1h1m1 0h1m6 0h1m17 0h1m4 0h1m4 0h3m3 0h1m-38 1h1m5 0h1m5 0h1m8 0h1m2 0h2m1 0h2m1 0h3m3 0h1m3 0h1m2 0h1m-49 1h1m1 0h2m25 0h1m3 0h1m3 0h1m8 0h2m-42 1h1m3 0h1m21 0h1m8 0h1m1 0h1m4 0h1m-50 1h3m24 0h1m4 0h1m15 0h1m-48 1h1m12 0h1m9 0h1m2 0h1m16 0h1m1 0h1m-45 1h1m2 0h4m1 0h1m30 0h1m-41 1h1m2 0h1m7 0h2m5 0h2m4 0h1m1 0h1m1 0h1m-28 1h2m2 0h1m2 0h1m1 0h1m1 0h2m30 0h1m-45 1h1m0 1h1m2 0h2m2 0h1m18 0h3m9 0h1m2 0h4m-47 1h1m4 0h1m2 0h1m1 0h2m2 0h1m12 0h1m1 0h1m17 0h1m-41 1h1m1 0h2m16 0h1m19 0h1m-48 1h1m3 0h1m20 0h1m5 0h1m-23 1h1m2 0h1m1 0h2m8 0h1m19 0h1m-32 1h1m14 0h1m5 0h1m7 0h1m-42 1h1m9 0h1m2 0h3m8 0h1m6 0h1m3 0h1m9 0h1m-47 1h1m4 0h2m2 0h1m3 0h1m16 0h1m10 0h1m-42 1h1m7 0h2m10 0h1m5 0h2m1 0h1m7 0h1m3 0h1m2 0h1m-43 1h1m1 0h1m3 0h1m2 0h1m15 0h1m12 0h1"/><path stroke="#659bcf" d="M41 8.5h1m-17 2h1m1 0h2m1 0h2m1 0h1m-34 1h1m26 0h1m1 0h1m4 0h1m11 1h2m-48 1h1m1 0h1m3 0h1m17 0h1m13 0h1m-13 1h1m1 0h1m8 0h3m-14 1h1m-1 1h1m4 0h1m8 0h1m4 0h1m-16 1h1m11 0h1m2 0h2m-36 1h1m12 0h2m1 0h1m5 0h1m1 0h2m10 0h1m1 0h1m-50 1h1m24 0h2m8 0h1m3 0h1m5 0h1m-42 1h1m37 0h1m-18 1h1m15 0h1m-42 1h1m2 0h2m31 0h1m3 0h1m2 0h1m5 0h1m-47 1h2m5 0h1m4 0h1m10 0h1m1 0h1m1 0h1m14 0h1m-19 1h1m5 0h1m2 0h1m7 0h1m-35 1h1m4 0h1m20 0h1m10 0h1m-38 1h1m19 0h1m8 0h1m5 0h2m1 0h1m-48 1h1m6 0h1m2 0h1m35 0h1m-41 1h1m18 0h1m8 0h1m7 0h1m1 0h1m2 0h2m-49 1h1m2 0h1m2 0h1m9 0h1m15 0h2m1 0h1m8 0h1m2 0h2m-47 1h1m12 0h1m24 0h2m-41 1h1m38 0h1m6 0h1m-49 1h1m4 0h1m27 0h1m2 0h1m3 0h2m1 0h1m-44 1h3m1 0h1m43 0h1m-45 1h1m3 0h1m15 0h1m8 0h1m12 0h1m-44 1h1m1 0h1m3 0h1m-10 1h1m26 0h1m17 0h1m-39 1h1m37 0h1m-16 1h1m-31 1h1m3 1h1m-1 1h1m39 0h1m1 0h1m-44 1h1m4 0h1m-7 1h1m5 0h2m14 0h1m1 0h1m16 0h1m-38 1h1m1 0h1m20 0h2m17 0h1m-49 1h4m31 0h1m4 0h1m-37 1h1m26 0h1m2 0h1m-25 1h1m-10 1h3m24 0h1m1 0h2m6 0h1m3 0h2m-30 1h1"/><path stroke="#75aed8" d="M31 9.5h1m2 1h1m-5 1h1m2 0h1m-9 1h1m13 0h1m-14 1h1m10 0h1m-13 1h1m1 0h1m3 0h2m1 0h1m-16 1h1m8 0h1m5 0h1m-10 1h1m1 0h1m1 0h1m16 0h1m-20 1h1m5 0h1m10 0h1m3 0h1m0 2h1m-7 1h1m-2 1h1m-19 1h1m-25 1h1m1 0h1m8 0h1m31 0h1m4 0h1m-46 1h1m39 0h1m3 0h1m-45 1h2m32 0h1m6 0h1m-43 1h2m39 0h1m3 0h1m-4 1h1m-44 1h1m6 0h1m-9 1h1m1 0h2m36 0h1m-41 2h1m28 1h1m-27 1h1m25 0h1m5 0h1m-36 7h2m5 0h1m-6 1h1m-3 1h1m3 0h1m1 0h1m25 0h1m-28 1h1m38 0h1m-45 1h1m6 0h1m-6 2h1m4 0h1m-6 1h1m5 0h1m19 0h1m3 0h1m-29 1h1m27 0h1m-30 1h1m1 0h1m33 0h1"/><path stroke="#84c0e1" d="M26 10.5h1m2 0h1m0 2h3m3 0h1m-2 1h1m-7 1h1m-5 1h1m5 0h2m5 0h1m-9 1h1m3 1h1m-7 1h1m15 1h1m1 0h2m-1 1h1m-1 1h1m-3 1h1m-2 1h1m1 0h1m-9 1h1m-38 1h1m0 2h1m45 0h1m-49 1h1m1 14h1m1 2h1m26 0h1m-29 3h1m3 0h1m-1 2h1"/><path stroke="#9dcce2" d="M32 10.5h1m-7 2h1m2 0h1m4 0h2m-3 2h1m2 0h1m-11 3h1m5 3h1m14 3h1m-48 1h1m4 1h1m-6 2h1m4 0h1m-1 2h1m-5 18h1m2 0h1"/><path stroke="#b5d8e4" d="M28 11.5h1m-1 2h1m20 8h1m-4 1h1"/><path stroke="#cadace" d="M30 13.5h1m1 0h1m-26 7h1m38 4h1"/><path stroke="#dbd6aa" d="M28 12.5h1m-1 4h1m20 4h1m-1 5h1"/><path stroke="#e4cb83" d="M27 13.5h1m2 2h1m2 0h1m-32 5h1m45 0h1m-2 2h1m1 2h1m-4 1h1m-36 22h1"/><path stroke="#e9bd59" d="M33 16.5h1m-3 1h1m-13 2h1m24 2h1m3 1h1m-4 2h1m2 0h1m-1 1h1m-48 5h1m25 10h1m-2 9h1"/><path stroke="#ecaa3e" d="M22 12.5h1m10 0h1m-5 1h1m3 0h1m2 0h1m-7 1h1m4 1h1m1 0h1m-6 1h1m1 0h1m-3 1h1m13 3h1m-2 1h2m-5 1h1m-43 4h1m48 0h1m-27 1h1m-19 21h1"/><path stroke="#ee9239" d="M27 12.5h1m3 1h1m2 0h1m1 3h1m7 6h1m-15 15h1m-25 12h1"/><path stroke="#eb7434" d="M26 1.5h1m18 19h1m-6 14h1m1 3h1m-11 1h1m-27 8h1"/><path stroke="#e04d2f" d="M12 6.5h1m15 3h1m-5 2h1m16 4h1m6 3h1m-22 1h1m8 14h1m-6 2h2m7 0h1m-3 1h1m5 0h1m-36 1h1m29 0h1m-10 2h1m-30 4h1m13 0h1m14 0h1"/><path stroke="#d4322b" d="M2 12.5h1m18 2h1m2 0h1m4 8h1m9 5h1m-31 2h1m30 4h1m-5 1h1m2 0h1m-9 2h1m8 0h1m1 0h1m-11 1h1m10 0h1m-4 1h1m3 0h1m-14 1h1m-1 1h1m-2 1h1m-5 1h1m18 4h1"/><path stroke="#c82b2a" d="M47 5.5h1m-21 10h1m-13 13h1m22 5h1m2 1h1m1 0h1m-5 1h1m1 0h1m1 0h1m-5 1h1m0 1h1m3 0h1m-2 2h1m-12 1h1m-26 5h1"/><path stroke="#bc2328" d="M43 8.5h1m-33 6h1m21 11h1m-30 3h1m34 5h1m-3 1h2m-2 1h1m5 1h1m-12 3h1m9 0h1"/><path stroke="#b01c26" d="M2 14.5h6m-7 1h8m-8 1h8m-8 1h8m-7 1h7m-7 1h7m-8 1h1m1 0h1m1 0h2m1 0h2m-9 1h3m1 0h5m-9 1h2m3 0h4m-5 1h5m-5 1h5m-4 1h3m-3 1h2m29 7h1m4 1h1m-1 1h1m-2 2h1m-2 2h1m3 0h1m-34 1h1m19 1h2"/></g><use href="#G" clip-path="url(#T)" fill="none" stroke="#f4f6fb" stroke-opacity="0.85" stroke-width="0.17"/></g><g transform="translate(1117.50 1593.00) scale(4.670)"><g fill="none" stroke-width="1.02"><path stroke="#4263a9" d="M7 0.5h1m18 0h1m10 0h1m-6 1h2m-15 1h1m4 0h1m11 0h1m3 0h1m-11 1h1m-23 1h1m27 0h1m4 0h1m1 0h1m-30 1h1m2 0h1m2 0h1m4 0h1m22 0h1m-6 1h2m1 0h1m2 0h1m-9 1h1m-39 1h1m42 1h1m-5 1h1m-24 1h1m4 0h1m1 0h1m4 0h1m6 0h1m10 0h1m-45 1h1m16 0h1m14 0h1m-4 1h1m4 0h1m6 0h1m-25 1h1m13 0h2m8 0h1m2 0h1m-19 1h1m3 0h1m8 0h2m1 0h1m1 0h1m-6 1h1m2 0h1m-30 1h1m15 1h1m3 0h1m5 0h1m-8 1h1m2 0h1m5 0h1m-23 1h1m22 0h1m-23 1h1m20 0h1m-27 1h1m13 0h1m2 0h1m5 1h1m1 0h1m1 0h1m-2 1h1m1 1h1m-35 1h1m1 0h1m5 0h1m4 0h1m8 0h1m6 0h1m-35 1h1m23 0h1m10 0h1m-19 1h1m13 0h1m2 0h1m-17 1h1m5 0h1m11 0h1m-24 1h1m24 0h1m-13 1h2m8 0h1m2 0h1m-10 1h1m4 1h1m-21 1h1m8 0h1m4 0h1m6 0h1m-27 1h1m1 0h1m-2 1h1m1 0h1m2 0h1m18 0h2m-26 1h1m19 1h1m-30 1h1m5 0h1m5 0h1m1 0h1m19 0h1m-33 1h1m12 0h1m17 0h1m-17 2h1m1 0h1m1 0h1m-16 1h1m0 1h1m28 0h1m-6 1h1m-26 1h1m8 1h1m4 0h2m-13 1h1m22 0h2m-28 1h1m3 0h1m7 0h1"/><path stroke="#4970b3" d="M4 0.5h1m4 0h1m20 0h1m1 0h2m1 0h2m-14 1h1m2 0h1m1 0h2m7 0h1m2 0h1m-41 1h1m12 0h1m8 0h2m2 0h1m2 0h3m1 0h1m7 0h1m-20 1h1m11 0h1m-19 1h1m2 0h2m1 0h2m9 0h1m4 0h2m6 0h1m-41 1h1m12 0h1m4 0h1m13 0h2m2 0h2m2 0h1m-35 1h2m1 0h1m1 0h1m24 0h1m-43 1h1m1 0h1m12 0h1m8 0h1m7 0h2m6 0h1m2 0h1m4 0h1m-39 1h1m7 0h1m5 0h1m16 0h1m4 0h2m1 0h1m-31 1h2m8 0h1m1 0h1m7 0h1m1 0h1m2 0h1m4 0h1m-49 1h2m6 0h1m3 0h1m17 0h2m6 0h2m-41 1h1m8 0h1m4 0h1m3 0h1m8 0h1m4 0h1m3 0h1m2 0h1m1 0h1m1 0h2m3 0h1m-45 1h1m16 0h1m1 0h1m1 0h1m6 0h2m1 0h1m2 0h1m1 0h1m1 0h1m3 0h2m-46 1h1m17 0h2m5 0h1m8 0h2m9 0h2m-48 1h1m22 0h1m7 0h3m-22 1h1m6 0h1m11 0h1m3 0h1m1 0h1m-27 1h1m11 0h1m9 0h1m8 0h1m1 0h1m-30 1h1m9 0h1m5 0h1m2 0h1m8 0h1m3 0h2m-25 1h2m10 0h1m2 0h1m2 0h1m5 0h1m-18 1h1m11 0h1m3 0h1m-36 1h1m11 0h2m5 0h1m4 0h1m-18 1h1m3 0h1m1 0h1m14 0h1m1 0h1m5 0h1m-37 1h1m8 0h2m4 0h1m2 0h1m8 0h1m2 0h1m4 0h2m-38 1h1m3 0h1m5 0h1m3 0h1m1 0h2m14 0h1m-30 1h1m3 0h1m2 0h1m4 0h1m1 0h2m4 0h1m2 0h1m6 0h1m-34 1h1m5 0h1m1 0h2m2 0h1m1 0h1m8 0h1m10 0h1m-23 1h1m1 0h1m2 0h1m1 0h2m1 0h1m3 0h1m6 0h1m-45 1h1m22 0h1m18 0h1m1 0h1m2 0h2m-37 1h1m3 0h1m11 0h1m5 0h1m-17 1h1m1 0h1m1 0h1m7 0h2m2 0h2m4 0h1m-16 1h1m6 0h3m4 0h1m1 0h2m1 0h1m2 0h1m-26 1h1m2 0h1m7 0h1m4 0h2m3 0h1m2 0h1m-31 1h1m5 0h1m2 0h2m7 0h1m1 0h1m8 0h1m-25 1h1m1 0h1m2 0h2m6 0h2m3 0h1m7 0h1m-24 1h2m3 0h1m9 0h5m-21 1h3m3 0h1m7 0h1m5 0h3m-26 1h1m10 0h1m8 0h1m5 0h1m-37 1h1m4 0h1m5 0h1m4 0h1m2 0h1m1 0h1m10 0h2m-37 1h1m4 0h1m7 0h1m1 0h3m3 0h1m14 0h1m-23 1h1m3 0h1m1 0h1m13 0h2m-22 1h2m1 0h1m4 0h1m11 0h2m1 0h1m-31 1h1m25 0h2m-12 1h1m12 0h1m-21 1h1m2 0h4m17 0h1m-25 1h1m2 0h1m-9 1h1m8 0h2m5 0h1m1 0h1m9 0h1m-36 1h2m5 0h1m1 0h5m3 0h1m2 0h1m1 0h1m1 0h1m7 0h1m1 0h1m-35 1h1m3 0h1m3 0h1m3 0h1m-9 1h2m8 0h2m1 0h1m1 0h2m3 0h1m4 0h1m-34 1h1m15 0h1m5 0h2m8 0h1"/><path stroke="#4f7cbc" d="M8 0.5h1m20 0h1m1 0h1m-29 1h1m5 0h1m14 0h1m2 0h1m3 0h1m2 0h3m4 0h1m-37 1h1m19 0h1m1 0h2m3 0h1m2 0h1m2 0h2m2 0h2m-21 1h1m4 0h1m-24 1h1m3 0h1m1 0h1m2 0h1m2 0h2m2 0h1m2 0h1m2 0h1m1 0h1m7 0h1m4 0h1m2 0h1m-39 1h6m8 0h1m1 0h1m3 0h1m12 0h1m-35 1h1m3 0h2m8 0h1m18 0h3m5 0h2m-39 1h1m1 0h1m5 0h1m1 0h1m2 0h1m1 0h1m13 0h1m4 0h1m1 0h2m-39 1h1m1 0h1m1 0h4m3 0h1m1 0h2m18 0h2m4 0h1m-37 1h1m8 0h1m1 0h3m2 0h1m13 0h2m3 0h1m-48 1h1m10 0h1m8 0h2m5 0h2m1 0h1m2 0h2m12 0h1m-20 1h1m11 0h1m5 0h2m-48 1h1m1 0h1m11 0h1m3 0h2m6 0h2m1 0h1m4 0h1m6 0h1m1 0h1m-44 1h2m1 0h1m1 0h2m2 0h1m2 0h3m2 0h1m6 0h2m2 0h1m1 0h3m5 0h1m10 0h1m-50 1h1m13 0h2m3 0h3m3 0h1m1 0h1m1 0h1m9 0h1m5 0h1m1 0h1m-37 1h1m9 0h1m1 0h3m1 0h4m2 0h1m5 0h2m2 0h1m2 0h1m1 0h1m-35 1h1m3 0h1m1 0h1m1 0h2m2 0h1m3 0h1m1 0h1m2 0h1m1 0h2m7 0h1m-38 1h1m10 0h6m10 0h4m1 0h1m3 0h3m-39 1h1m14 0h1m8 0h1m1 0h2m2 0h1m2 0h1m2 0h1m1 0h2m-38 1h3m2 0h2m1 0h2m2 0h4m9 0h1m1 0h2m1 0h2m2 0h1m-46 1h1m3 0h1m15 0h4m3 0h2m1 0h1m4 0h2m1 0h2m1 0h1m1 0h4m-47 1h1m16 0h3m1 0h1m5 0h1m3 0h2m7 0h1m3 0h2m2 0h1m-38 1h1m2 0h1m3 0h1m2 0h1m2 0h1m1 0h2m7 0h2m7 0h3m-28 1h1m4 0h1m6 0h1m2 0h1m13 0h2m-38 1h1m7 0h2m1 0h1m1 0h1m2 0h1m5 0h1m1 0h2m9 0h1m-35 1h3m1 0h1m9 0h1m3 0h1m4 0h2m2 0h1m3 0h2m1 0h1m1 0h1m-40 1h1m7 0h1m1 0h2m6 0h1m1 0h1m6 0h1m1 0h1m7 0h2m-34 1h1m3 0h1m1 0h1m1 0h1m2 0h4m16 0h1m-26 1h2m1 0h1m3 0h1m1 0h1m13 0h2m1 0h1m1 0h1m-26 1h1m14 0h2m2 0h2m1 0h2m1 0h1m-39 1h1m3 0h1m2 0h2m5 0h1m5 0h2m3 0h1m2 0h1m1 0h1m2 0h1m-38 1h1m3 0h1m7 0h1m1 0h1m2 0h2m1 0h1m10 0h1m2 0h1m1 0h1m5 0h1m-41 1h1m6 0h1m4 0h1m2 0h1m4 0h2m5 0h1m1 0h1m2 0h3m1 0h1m2 0h1m-29 1h1m4 0h1m3 0h1m7 0h1m1 0h1m5 0h3m1 0h1m-50 1h1m14 0h1m1 0h2m2 0h1m9 0h1m4 0h2m11 0h1m-36 1h1m2 0h1m5 0h1m3 0h1m1 0h1m7 0h1m1 0h1m1 0h3m3 0h2m-33 1h1m1 0h1m10 0h1m1 0h1m6 0h2m2 0h1m3 0h1m-30 1h2m5 0h1m1 0h1m14 0h1m-38 1h1m12 0h1m9 0h1m3 0h1m10 0h2m1 0h1m-27 1h1m1 0h1m7 0h2m13 0h1m-33 1h1m2 0h2m2 0h1m1 0h1m6 0h2m10 0h1m5 0h2m-32 1h1m1 0h1m1 0h2m1 0h2m1 0h1m1 0h1m1 0h1m1 0h1m10 0h1m2 0h1m-37 1h1m4 0h3m3 0h1m1 0h1m2 0h2m1 0h1m13 0h1m3 0h1m-33 1h1m4 0h4m20 0h1m-43 1h1m16 0h2m2 0h1m2 0h1m3 0h2m11 0h1m-26 1h1m6 0h2m7 0h1m1 0h1m2 0h1m-31 1h3m2 0h1m1 0h1m1 0h1m7 0h3m2 0h1m5 0h1m-36 1h1m3 0h1m1 0h1m1 0h1m4 0h1m3 0h1m10 0h1m10 0h1m3 0h1m-35 1h1m1 0h1m4 0h2m1 0h1m2 0h1m3 0h1m8 0h3m-28 1h1m3 0h1m1 0h1m1 0h1m1 0h1m2 0h2m14 0h1"/><path stroke="#5689c6" d="M34 0.5h1m-10 1h1m12 0h2m-29 1h1m22 0h1m2 0h1m-9 1h1m-18 1h1m12 0h2m13 0h1m-26 1h2m1 0h1m3 0h1m3 0h1m20 0h1m-47 1h1m12 0h1m1 0h1m2 0h1m2 0h4m-15 1h1m5 0h1m1 0h1m1 0h2m3 0h1m15 0h1m6 0h1m-49 1h1m10 0h1m6 0h1m6 0h1m13 0h1m-31 1h2m1 0h4m1 0h1m3 0h1m7 0h1m17 0h1m-37 1h1m1 0h2m1 0h2m4 0h1m1 0h1m-16 1h3m9 0h2m5 0h2m2 0h1m1 0h1m6 0h1m2 0h1m-45 1h1m7 0h3m3 0h1m4 0h1m3 0h1m3 0h1m1 0h2m4 0h1m2 0h1m9 0h1m-46 1h1m5 0h2m4 0h1m2 0h1m3 0h1m2 0h1m2 0h1m3 0h1m1 0h1m-26 1h4m2 0h1m6 0h1m2 0h1m1 0h1m1 0h2m3 0h1m2 0h1m3 0h1m1 0h1m3 0h1m-49 1h1m11 0h1m4 0h3m2 0h1m11 0h1m2 0h1m4 0h1m-24 1h1m7 0h1m1 0h1m1 0h1m1 0h1m2 0h1m3 0h1m1 0h1m6 0h1m-35 1h1m11 0h1m2 0h1m2 0h1m9 0h1m-32 1h2m4 0h1m2 0h2m4 0h1m13 0h1m4 0h1m-38 1h1m11 0h2m5 0h2m5 0h1m7 0h1m3 0h1m1 0h1m-39 1h1m2 0h1m2 0h1m1 0h1m9 0h1m10 0h1m1 0h1m5 0h1m-45 1h1m5 0h4m2 0h1m6 0h1m14 0h2m2 0h1m-28 1h2m8 0h1m4 0h1m16 0h1m-46 1h3m8 0h2m2 0h2m2 0h1m1 0h1m3 0h1m18 0h1m-45 1h1m8 0h1m2 0h1m1 0h1m9 0h1m17 0h1m3 0h2m-50 1h1m3 0h1m11 0h1m2 0h1m3 0h1m4 0h1m3 0h1m1 0h1m8 0h1m-35 1h1m2 0h1m6 0h1m24 0h1m4 0h1m-48 1h1m8 0h3m2 0h2m2 0h1m1 0h1m2 0h1m5 0h1m7 0h1m7 0h1m-36 1h1m1 0h1m4 0h2m2 0h1m3 0h1m18 0h1m-44 1h1m7 0h1m1 0h2m2 0h1m4 0h1m3 0h1m1 0h3m-24 1h1m6 0h1m2 0h1m2 0h2m1 0h1m3 0h1m2 0h1m6 0h2m7 0h1m2 0h1m-47 1h1m8 0h2m1 0h1m2 0h1m1 0h1m9 0h1m1 0h2m8 0h1m3 0h1m-34 1h2m7 0h1m8 0h4m9 0h1m4 0h1m-41 1h1m2 0h2m4 0h2m3 0h1m2 0h1m3 0h5m3 0h1m2 0h3m-40 1h1m4 0h1m9 0h2m7 0h2m16 0h3m-49 1h1m8 0h1m3 0h1m6 0h1m1 0h1m5 0h1m2 0h2m7 0h1m-24 1h1m1 0h1m4 0h1m1 0h3m11 0h1m2 0h1m-40 1h1m1 0h1m7 0h1m6 0h1m3 0h1m5 0h1m8 0h1m1 0h1m2 0h1m-45 1h1m3 0h1m1 0h1m7 0h1m2 0h3m1 0h1m3 0h1m1 0h1m1 0h1m1 0h1m8 0h1m-36 1h2m12 0h1m3 0h1m2 0h1m3 0h1m8 0h1m-38 1h1m1 0h1m8 0h1m12 0h1m3 0h2m8 0h1m-33 1h1m12 0h1m2 0h1m3 0h1m1 0h1m15 0h1m-34 1h1m9 0h1m24 0h1m-41 1h1m2 0h1m5 0h2m5 0h2m4 0h1m11 0h1m-23 1h1m3 0h1m2 0h2m14 0h1m3 0h1m-33 1h1m4 0h3m14 0h1m1 0h1m5 0h1m-32 1h1m4 0h1m9 0h1m2 0h1m1 0h1m2 0h1m-39 1h1m2 0h1m7 0h1m1 0h2m2 0h1m5 0h1m1 0h1m7 0h1m10 0h1m-40 1h1m1 0h2m5 0h1m8 0h1m1 0h1m4 0h1m11 0h1m-38 1h1m8 0h1m4 0h1m7 0h2m8 0h3"/><path stroke="#659bcf" d="M8 1.5h1m21 0h1m-18 3h1m1 0h1m-3 1h1m27 0h1m-24 1h1m2 0h1m4 0h1m-14 1h1m3 1h1m3 0h1m3 0h1m-16 2h1m5 0h1m5 0h1m1 0h1m1 0h1m2 0h1m11 0h1m-29 1h1m2 0h1m3 0h1m4 0h1m-14 1h2m2 0h1m1 1h1m26 0h1m-29 1h2m-3 1h1m9 0h1m14 0h1m-29 1h1m1 0h2m4 0h1m3 0h1m2 0h1m19 0h1m-49 1h1m12 0h1m5 0h1m11 0h1m2 0h1m7 0h1m-28 1h3m1 0h2m7 0h1m-28 1h1m12 0h1m3 0h1m8 0h1m-13 1h1m2 0h1m30 0h1m-35 1h1m12 0h1m18 0h1m-45 1h1m8 0h1m4 0h1m1 0h1m21 0h2m-43 1h1m9 0h2m3 0h1m4 0h1m4 0h1m4 0h1m-27 1h1m12 0h2m5 0h1m7 0h2m9 0h1m-43 1h1m7 0h1m15 0h1m3 0h1m3 0h1m-33 1h2m1 0h1m6 0h1m3 0h1m1 0h1m5 0h1m1 0h1m9 0h1m10 0h1m-44 1h1m2 0h1m3 0h1m3 0h1m3 0h1m11 0h1m-29 1h1m3 0h1m3 0h1m4 0h2m1 0h1m14 0h1m-32 1h1m4 0h2m6 0h2m3 0h1m13 0h1m13 0h1m-37 1h2m2 0h1m7 0h1m-3 1h1m8 0h1m5 0h1m-30 1h1m1 0h3m5 0h3m26 0h1m-48 1h1m2 0h1m6 0h1m5 0h2m3 0h1m-20 1h1m8 0h1m11 0h1m15 0h1m-36 1h1m7 0h1m2 0h2m1 0h1m-13 1h1m4 0h1m1 0h1m1 0h1m7 0h1m-24 1h1m2 0h1m4 0h1m1 0h1m4 0h1m3 0h1m3 0h1m4 0h1m10 0h1m-29 1h2m-9 1h1m8 0h1m2 0h1m1 0h1m22 0h1m-33 1h1m1 0h1m8 0h1m3 0h1m-21 1h1m5 0h1m16 0h1m16 0h1m-40 1h1m5 0h1m10 0h1m19 0h1m-42 1h1m2 0h1m9 0h1m34 0h1m-35 1h1m-2 1h1m5 0h1m11 0h1m-33 1h1m1 0h1m2 0h1m39 0h1m-28 1h1m8 0h2m-25 1h1m4 0h1m5 0h1m-16 1h1m9 0h2m1 0h1m1 0h1m7 0h1m18 0h1"/><path stroke="#75aed8" d="M17 9.5h1m-3 2h1m5 0h1m-7 2h1m6 0h1m-9 2h1m2 1h1m21 0h1m-26 1h1m-15 1h2m9 0h1m2 3h1m-15 1h1m3 0h1m5 0h1m-1 2h1m-8 2h1m4 0h1m4 0h1m-9 1h1m1 0h2m-9 1h2m6 0h1m2 0h1m-12 1h1m8 0h2m1 0h1m-12 1h1m7 0h2m-3 1h1m1 0h1m5 0h1m-14 1h1m-2 1h1m3 0h3m6 0h1m-15 1h1m1 0h1m1 0h1m16 0h1m4 0h1m4 0h1m-31 1h1m2 0h1m-4 1h1m2 0h1m8 0h1m-13 1h1m6 0h1m3 0h1m-8 1h1m7 0h1m-10 1h1m8 0h2m16 0h1m-20 2h2m-9 1h1m2 0h1m15 0h1m-20 1h1m-6 1h1m1 0h2m4 0h1m-9 1h1m28 0h1m-23 1h1m-4 1h1m1 0h1m2 1h1m1 0h1m-10 1h1m3 0h1m1 0h1"/><path stroke="#84c0e1" d="M16 7.5h1m0 4h1m-3 4h1m7 3h1m-24 1h1m-1 5h1m2 0h1m9 0h1m-12 1h2m1 0h1m-1 1h1m-2 2h1m-1 1h3m1 1h1m-2 2h1m-3 1h1m7 1h1m2 0h1m-10 1h1m2 0h1m-7 1h1m2 0h1m4 0h1m-8 1h1m1 0h1m4 0h1m-4 1h1m6 0h1m-14 1h1m6 0h1m1 0h1m-11 1h1m-2 1h1m9 0h1m-11 1h1m1 4h2m1 0h2m-4 1h1m-3 2h1m1 0h1m1 0h1"/><path stroke="#9dcce2" d="M1 23.5h1m-1 1h1m8 1h1m-6 3h1m3 0h1m-4 3h1m-3 2h1m6 0h1m-6 1h3m-8 1h1m1 0h1m4 0h1m-9 1h1m2 0h1m4 0h1m-7 2h2m5 1h1m-3 1h2m-7 1h2m-4 1h1m7 0h1m-2 2h1m-7 3h1m-2 1h2"/><path stroke="#b5d8e4" d="M0 27.5h1m3 0h1m-2 1h1m2 7h1m-5 4h1m-2 1h1"/><path stroke="#cadace" d="M6 16.5h1m-5 2h1m4 1h1m-1 9h1m-7 1h1m1 14h1m-3 3h1m1 2h1m-3 1h1"/><path stroke="#e4cb83" d="M1 15.5h1m23 17h1"/><path stroke="#e9bd59" d="M4 15.5h1m-2 6h1m21 7h1m-22 12h1"/><path stroke="#ecaa3e" d="M9 9.5h1m7 8h1m13 28h1m-11 2h1m7 0h1"/><path stroke="#ee9239" d="M19 10.5h1m14 1h1m6 3h1m-9 6h1m-16 9h1m-10 2h1m-4 1h1m7 1h1m-5 3h1m18 1h1m-20 3h1"/><path stroke="#eb7434" d="M24 0.5h1m3 4h1m-17 16h1m9 5h1m25 3h1m-37 6h1m36 1h1m-20 1h1m-25 5h1m3 2h1m6 1h1m-10 1h1m32 0h1m-33 2h1"/><path stroke="#e04d2f" d="M14 7.5h1m-12 5h1m-4 18h1m1 0h1m1 0h1m12 1h1m-17 1h1m9 3h1m-12 4h1m11 3h1m-2 1h1m-2 1h1m-11 1h1"/><path stroke="#d4322b" d="M28 5.5h1m15 0h1m-28 7h1m11 10h1m1 2h1m-32 2h1m32 0h1m-31 4h1m1 1h1m-2 1h1m-5 8h1m5 0h1m-5 2h1m1 0h1m0 2h2m6 0h1m1 1h1"/><path stroke="#c82b2a" d="M0 31.5h1m1 0h1m1 0h1m9 0h1m-15 1h1m1 0h1m37 0h1m-31 2h1m-2 2h1m-10 5h1m4 0h1m2 0h1m3 0h1m-6 1h1m0 1h1m-1 1h1m2 0h1m-7 1h1m6 0h1m4 0h1"/><path stroke="#bc2328" d="M22 21.5h1m-18 9h1m-1 2h1m-5 1h1m-1 3h1m-1 1h1m0 6h1m2 0h1m7 0h1m2 0h1m-17 1h1m2 1h1m2 0h2m2 0h1m2 0h1m13 0h1m-26 3h1m3 0h1"/><path stroke="#b01c26" d="M2 14.5h6m-6 1h2m1 0h4m-8 1h5m1 0h2m-8 1h8m-6 1h6m-7 1h5m1 0h1m-8 1h3m1 0h5m-9 1h2m2 0h5m-9 1h2m3 0h4m-5 1h5m-5 1h5m-4 1h3m-3 1h2m-2 4h1m-6 1h1m13 1h1m-2 2h1m-15 4h1m0 1h1m1 3h1m9 0h1m-14 1h1m6 0h1m4 1h1m1 0h1m1 0h1m-15 1h1m1 0h1m4 0h1m1 0h1"/></g><use href="#G" clip-path="url(#T)" fill="none" stroke="#f4f6fb" stroke-opacity="0.85" stroke-width="0.17"/></g><g transform="translate(1460.00 1593.00) scale(4.670)"><g fill="none" stroke-width="1.02"><path stroke="#4263a9" d="M7 0.5h1m1 0h1m19 0h1m2 0h1m3 0h1m-29 1h2m14 0h1m4 0h1m1 0h2m1 0h1m2 0h1m1 0h2m-41 1h1m10 0h1m16 0h1m3 0h2m5 0h2m-19 1h2m4 0h3m-26 1h1m6 0h2m3 0h2m5 0h1m1 0h1m-18 1h1m5 0h1m5 0h1m4 0h2m10 0h1m3 0h1m1 0h1m1 0h1m1 0h1m-43 1h1m8 0h1m10 0h1m12 0h2m1 0h2m3 0h1m1 0h1m-39 1h1m9 0h1m17 0h1m7 0h1m-36 1h1m6 0h1m1 0h1m21 0h1m-35 1h1m1 0h2m10 0h1m4 0h2m11 0h3m2 0h2m-48 1h1m1 0h1m22 0h1m4 0h1m2 0h1m8 0h1m4 0h1m-27 1h1m5 0h3m3 0h2m3 0h1m6 0h2m1 0h2m-19 1h1m3 0h1m3 0h1m3 0h1m3 0h1m-48 1h2m8 0h1m11 0h2m4 0h1m3 0h2m1 0h1m1 0h1m10 0h1m-49 1h1m25 0h1m2 0h2m4 0h2m1 0h1m2 0h2m5 0h1m-49 1h1m26 0h2m6 0h1m1 0h3m4 0h1m-19 1h1m3 0h1m5 0h2m1 0h1m4 0h1m1 0h1m-38 1h1m14 0h1m8 0h1m2 0h1m7 0h2m2 0h1m-49 1h1m24 0h1m7 0h1m4 0h3m1 0h1m2 0h2m1 0h1m-48 1h1m17 0h1m7 0h1m4 0h1m2 0h1m4 0h1m1 0h1m2 0h3m-22 1h2m2 0h1m1 0h1m6 0h1m7 0h1m-48 1h1m25 0h2m4 0h1m5 0h1m1 0h2m3 0h1m-34 1h1m1 0h2m4 0h1m1 0h1m6 0h1m1 0h1m2 0h2m8 0h1m3 0h1m-49 1h1m20 0h1m2 0h1m3 0h1m14 0h1m1 0h1m1 0h1m-46 1h3m7 0h1m2 0h1m3 0h2m3 0h2m1 0h1m1 0h1m2 0h1m1 0h1m1 0h1m7 0h2m3 0h1m-50 1h1m4 0h1m16 0h3m2 0h1m5 0h2m8 0h1m-42 1h1m5 0h1m1 0h3m7 0h2m2 0h1m1 0h1m3 0h1m5 0h2m5 0h2m1 0h2m1 0h1m-50 1h1m4 0h1m4 0h1m11 0h1m4 0h1m5 0h1m5 0h1m4 0h1m2 0h1m1 0h1m-44 1h2m3 0h2m5 0h2m9 0h1m3 0h1m6 0h1m4 0h2m1 0h2m-45 1h1m3 0h1m9 0h1m4 0h1m10 0h1m11 0h2m-49 1h1m2 0h2m3 0h2m3 0h2m5 0h1m3 0h3m4 0h1m3 0h1m1 0h1m3 0h1m4 0h2m-46 1h1m1 0h1m4 0h1m2 0h2m3 0h1m1 0h2m3 0h2m9 0h2m2 0h1m4 0h1m-43 1h2m17 0h2m3 0h1m2 0h3m5 0h1m6 0h1m1 0h1m1 0h1m-49 1h3m2 0h1m2 0h1m1 0h2m2 0h1m2 0h1m2 0h1m16 0h3m1 0h1m-37 1h1m1 0h2m2 0h2m1 0h1m6 0h1m1 0h1m4 0h2m2 0h2m2 0h2m5 0h1m1 0h2m-47 1h1m6 0h1m1 0h1m1 0h1m4 0h3m4 0h2m1 0h1m2 0h1m1 0h2m12 0h1m-41 1h2m12 0h1m4 0h1m1 0h1m2 0h1m2 0h1m6 0h1m3 0h2m-33 1h1m9 0h2m4 0h2m1 0h1m8 0h1m3 0h2m-40 1h1m4 0h1m5 0h1m1 0h1m1 0h1m4 0h1m1 0h2m1 0h1m11 0h1m-41 1h3m3 0h1m15 0h1m1 0h1m4 0h1m7 0h1m2 0h1m-44 1h1m9 0h1m18 0h1m1 0h1m9 0h1m3 0h2m-47 1h1m21 0h1m1 0h3m2 0h3m11 0h1m2 0h2m-43 1h1m5 0h2m4 0h1m8 0h1m4 0h2m14 0h1m1 0h1m-49 1h1m4 0h1m1 0h2m2 0h1m7 0h1m3 0h1m3 0h2m14 0h1m-44 1h2m5 0h1m5 0h1m1 0h2m25 0h1m3 0h2m-46 1h1m6 0h1m4 0h1m1 0h1m3 0h1m7 0h4m6 0h1m1 0h1m5 0h1m-45 1h1m7 0h2m3 0h1m6 0h1m1 0h1m1 0h2m1 0h1m1 0h1m4 0h1m-38 1h1m1 0h2m1 0h1m2 0h2m1 0h3m3 0h3m3 0h1m6 0h1m2 0h1m7 0h1m2 0h1m-45 1h2m2 0h1m1 0h1m7 0h2m3 0h1m6 0h1m4 0h2m5 0h1m-26 1h1m1 0h1m11 0h2m2 0h1m10 0h1"/><path stroke="#4970b3" d="M4 0.5h1m3 0h1m15 0h1m1 0h1m4 0h1m1 0h2m2 0h1m-35 1h1m19 0h1m1 0h4m1 0h1m2 0h1m1 0h2m1 0h1m2 0h1m-37 1h1m7 0h1m9 0h1m1 0h2m3 0h1m3 0h2m1 0h2m2 0h1m1 0h1m-10 1h1m-27 1h1m5 0h3m5 0h2m1 0h1m2 0h1m4 0h1m2 0h1m1 0h4m1 0h1m2 0h1m-40 1h1m3 0h4m1 0h1m2 0h2m2 0h1m4 0h1m10 0h1m7 0h1m-47 1h1m8 0h5m3 0h3m1 0h1m18 0h1m2 0h1m1 0h1m1 0h1m-47 1h1m7 0h1m1 0h1m1 0h1m3 0h3m1 0h2m1 0h2m5 0h2m6 0h5m3 0h2m-49 1h1m7 0h3m2 0h1m3 0h1m1 0h1m1 0h5m13 0h3m3 0h2m-30 1h1m3 0h1m7 0h2m7 0h1m4 0h1m4 0h1m-49 1h1m7 0h1m2 0h1m1 0h1m3 0h2m3 0h1m2 0h3m2 0h2m6 0h1m1 0h1m-42 1h1m22 0h1m2 0h1m3 0h3m2 0h1m3 0h2m1 0h1m1 0h1m2 0h1m-47 1h2m1 0h2m17 0h3m3 0h1m4 0h1m1 0h3m2 0h2m-41 1h1m1 0h3m19 0h2m1 0h3m6 0h2m6 0h2m-47 1h1m21 0h1m3 0h2m2 0h2m1 0h1m4 0h1m4 0h2m1 0h1m-19 1h6m1 0h1m3 0h4m1 0h2m1 0h2m-26 1h2m3 0h1m1 0h2m1 0h2m4 0h1m2 0h1m3 0h3m-25 1h1m4 0h1m1 0h1m1 0h2m1 0h1m1 0h1m2 0h2m2 0h2m-33 1h1m3 0h1m1 0h1m2 0h1m1 0h1m1 0h1m7 0h2m5 0h1m3 0h1m1 0h1m-50 1h1m22 0h1m5 0h1m7 0h3m1 0h1m1 0h2m4 0h1m-46 1h1m7 0h1m4 0h1m2 0h2m2 0h1m3 0h1m4 0h1m1 0h4m2 0h6m1 0h2m-46 1h1m6 0h1m1 0h1m1 0h1m3 0h2m2 0h1m1 0h1m5 0h1m10 0h3m3 0h2m-50 1h1m2 0h2m12 0h3m1 0h1m1 0h3m1 0h2m1 0h1m5 0h2m3 0h2m2 0h1m-45 1h1m1 0h1m8 0h1m2 0h1m1 0h3m2 0h2m2 0h2m1 0h2m3 0h1m9 0h1m1 0h1m1 0h2m-50 1h2m9 0h1m1 0h2m7 0h1m5 0h1m2 0h1m1 0h1m1 0h1m1 0h2m4 0h1m2 0h3m-47 1h3m5 0h1m2 0h3m1 0h1m3 0h1m3 0h1m2 0h2m1 0h2m2 0h3m6 0h1m2 0h1m-47 1h1m1 0h2m8 0h2m1 0h3m3 0h1m2 0h1m1 0h2m2 0h2m1 0h2m2 0h2m-38 1h3m1 0h1m2 0h1m1 0h6m1 0h1m5 0h1m3 0h2m1 0h1m11 0h1m2 0h1m1 0h1m-49 1h6m3 0h2m4 0h2m3 0h2m2 0h5m6 0h1m8 0h1m2 0h1m-46 1h3m2 0h2m1 0h6m1 0h2m1 0h1m1 0h2m3 0h2m1 0h2m1 0h1m5 0h3m1 0h1m2 0h1m-41 1h2m2 0h3m3 0h3m2 0h1m1 0h1m3 0h1m2 0h1m1 0h1m3 0h1m1 0h2m2 0h3m4 0h1m-49 1h1m3 0h3m2 0h2m2 0h2m2 0h1m2 0h3m2 0h2m2 0h4m3 0h2m1 0h2m3 0h1m1 0h3m-50 1h1m5 0h5m2 0h1m1 0h3m2 0h1m3 0h2m1 0h1m4 0h5m1 0h2m3 0h1m3 0h1m1 0h1m-47 1h2m1 0h2m5 0h1m1 0h2m4 0h1m3 0h1m1 0h8m1 0h1m3 0h1m1 0h5m1 0h1m-49 1h1m1 0h3m1 0h1m2 0h1m5 0h4m1 0h1m4 0h3m2 0h2m6 0h5m1 0h1m2 0h3m-49 1h2m1 0h3m5 0h4m3 0h4m4 0h2m9 0h2m1 0h4m1 0h4m-50 1h1m1 0h3m4 0h1m3 0h6m9 0h1m2 0h1m6 0h1m1 0h2m3 0h1m1 0h1m-48 1h1m2 0h1m2 0h1m2 0h2m3 0h2m1 0h1m2 0h1m3 0h2m4 0h1m8 0h1m1 0h1m1 0h1m-43 1h4m2 0h2m3 0h4m4 0h1m1 0h1m2 0h1m1 0h1m4 0h1m7 0h3m1 0h1m-45 1h3m4 0h1m2 0h1m1 0h1m4 0h2m1 0h1m1 0h3m1 0h1m3 0h2m12 0h1m-44 1h6m1 0h1m2 0h4m5 0h3m1 0h4m2 0h1m1 0h1m7 0h1m3 0h1m2 0h1m-47 1h2m2 0h2m2 0h2m2 0h4m1 0h1m1 0h2m1 0h1m3 0h2m3 0h1m9 0h1m1 0h1m-45 1h1m1 0h2m2 0h3m4 0h3m5 0h4m4 0h2m11 0h1m1 0h1m-45 1h1m1 0h1m1 0h2m1 0h1m2 0h1m2 0h3m1 0h3m1 0h3m3 0h1m2 0h2m11 0h1m4 0h2m-50 1h1m2 0h1m1 0h3m1 0h2m1 0h2m1 0h1m2 0h2m1 0h1m1 0h9m12 0h1m-45 1h2m2 0h2m1 0h1m4 0h3m1 0h1m1 0h3m1 0h2m1 0h2m1 0h1m5 0h1m1 0h3m1 0h1m1 0h1m3 0h1m-47 1h3m1 0h4m2 0h1m2 0h1m1 0h1m1 0h5m7 0h1m1 0h1m1 0h3m8 0h2m-45 1h1m4 0h2m2 0h1m4 0h2m3 0h2m2 0h1m1 0h2m1 0h1m1 0h2m12 0h1m-44 1h2m1 0h1m1 0h7m4 0h1m1 0h2m1 0h1m1 0h1m1 0h3m6 0h2m3 0h3m-44 1h1m1 0h6m1 0h3m2 0h1m1 0h11m2 0h2m6 0h4"/><path stroke="#4f7cbc" d="M30 0.5h1m4 0h1m-17 2h1m2 0h1m1 0h1m2 0h1m1 0h1m1 0h1m4 0h1m5 0h1m-34 2h1m1 0h1m7 0h1m1 0h1m5 0h1m1 0h1m7 0h1m4 0h1m2 0h1m-40 1h1m1 0h1m8 0h2m3 0h1m1 0h2m14 0h2m1 0h1m-28 1h1m4 0h1m1 0h3m-26 1h1m14 0h3m6 0h1m21 0h1m-32 1h1m1 0h1m30 0h2m-37 1h1m2 0h2m1 0h3m2 0h1m23 0h1m-34 1h1m4 0h2m2 0h1m4 0h1m4 0h1m5 0h1m-32 1h1m2 0h1m1 0h1m5 0h1m3 0h1m11 0h1m4 0h1m1 0h1m-44 1h1m2 0h1m6 0h1m11 0h1m3 0h3m1 0h1m1 0h2m12 0h1m2 0h1m-41 1h1m9 0h1m4 0h2m8 0h1m1 0h1m8 0h1m3 0h1m-39 1h1m2 0h1m6 0h1m2 0h2m7 0h1m3 0h1m8 0h1m2 0h1m-36 1h2m2 0h1m1 0h1m2 0h2m1 0h1m20 0h1m-34 1h1m6 0h3m3 0h2m4 0h1m4 0h1m3 0h1m2 0h1m-29 1h1m4 0h2m2 0h2m10 0h1m2 0h1m7 0h1m-49 1h1m7 0h1m10 0h1m1 0h2m3 0h1m6 0h2m5 0h1m2 0h1m-29 1h1m5 0h1m1 0h3m1 0h1m7 0h1m11 0h1m-49 1h1m13 0h1m3 0h2m2 0h2m1 0h1m3 0h1m10 0h1m-31 1h1m3 0h1m1 0h1m5 0h1m1 0h1m3 0h1m10 0h1m6 0h2m-38 1h2m1 0h1m2 0h1m23 0h1m2 0h1m2 0h2m1 0h1m-46 1h1m5 0h1m2 0h2m1 0h1m3 0h1m4 0h1m5 0h1m-22 1h1m6 0h2m2 0h1m1 0h1m2 0h1m3 0h1m-30 1h1m7 0h1m2 0h1m3 0h1m1 0h3m5 0h1m13 0h1m4 0h2m1 0h2m-50 1h1m4 0h1m3 0h1m5 0h1m3 0h1m3 0h1m5 0h1m3 0h1m11 0h1m2 0h1m-48 1h1m5 0h2m8 0h1m1 0h3m1 0h1m1 0h2m3 0h1m14 0h1m-38 1h1m4 0h2m2 0h1m4 0h2m6 0h1m12 0h1m-43 1h1m4 0h1m9 0h1m9 0h1m2 0h1m4 0h1m1 0h1m7 0h2m3 0h1m-49 1h2m19 0h1m10 0h2m5 0h1m4 0h1m2 0h1m-49 1h1m2 0h1m4 0h1m7 0h1m17 0h1m7 0h2m2 0h1m-43 1h1m6 0h2m1 0h1m3 0h2m3 0h1m16 0h3m2 0h1m-37 1h1m9 0h1m2 0h3m1 0h1m8 0h1m11 0h1m1 0h1m-49 1h1m11 0h1m5 0h1m2 0h1m1 0h1m-22 1h1m4 0h1m1 0h1m14 0h1m4 0h1m6 0h1m2 0h1m-40 1h1m5 0h1m2 0h3m7 0h4m3 0h1m2 0h1m11 0h1m3 0h1m-45 1h1m1 0h2m1 0h2m2 0h1m1 0h1m2 0h1m1 0h1m2 0h1m4 0h2m4 0h1m9 0h1m-43 1h1m4 0h1m3 0h1m8 0h1m4 0h2m5 0h1m14 0h1m-40 1h1m4 0h1m1 0h2m1 0h1m2 0h1m1 0h1m7 0h1m11 0h2m-36 1h1m7 0h2m2 0h1m8 0h1m13 0h2m-40 1h1m3 0h1m2 0h2m28 0h1m-41 1h1m7 0h1m6 0h1m8 0h1m1 0h2m14 0h1m-41 1h1m7 0h1m4 0h1m8 0h2m-23 1h1m6 0h1m8 0h1m-19 1h1m3 0h1m1 0h2m1 0h1m15 0h1m7 0h1m-28 1h2m4 0h1m7 0h1m1 0h1m1 0h1m9 0h1m9 0h1m-43 1h1m9 0h1m10 0h1m2 0h1m-13 1h2m6 0h1m5 0h1m8 0h1m4 0h1m-44 1h1m6 0h1m3 0h1m28 0h1"/><path stroke="#5689c6" d="M20 4.5h1m-4 2h1m-5 1h1m-11 1h1m9 0h1m2 0h1m-7 1h1m4 0h1m9 0h1m-16 1h1m2 0h1m2 0h1m5 0h1m-13 1h2m6 0h1m3 0h1m2 0h1m-13 1h1m7 0h1m18 0h1m-38 1h1m7 0h1m2 0h1m1 0h1m4 0h1m-12 1h1m7 0h1m3 0h1m-4 1h1m2 0h1m2 0h1m-14 1h1m2 0h1m1 0h1m-18 1h1m12 0h1m5 0h1m-9 1h2m3 0h2m-5 1h1m6 0h2m-11 1h1m1 0h1m1 0h1m-4 1h1m4 0h2m2 0h1m4 1h1m-25 1h1m-3 6h1m20 0h1m10 0h1m-28 1h1m9 0h1m3 0h1m-15 2h1m6 1h1m5 0h1m-9 1h1m-3 2h1m16 0h1m-25 1h1m17 0h1m-4 1h1m-2 1h1m12 0h1m-20 1h1m13 0h1m-21 1h1m0 1h1m33 4h1"/><path stroke="#659bcf" d="M10 5.5h1m3 4h1m-4 1h1m3 1h2m-8 1h1m1 0h2m-1 1h2m4 0h1m1 0h1m-8 1h1m1 0h1m1 0h1m2 0h1m-10 1h1m4 0h1m4 0h1m-2 1h1m-5 1h1m3 0h2m-4 1h1m-10 1h1m1 0h2m4 0h2m-8 4h1"/><path stroke="#75aed8" d="M17 10.5h1m-5 1h1m5 0h1m-6 1h1m4 0h1m-3 1h1m-6 1h1m3 0h1m-5 1h2m3 0h1m-5 1h1m4 0h1m-6 2h1"/><path stroke="#84c0e1" d="M17 11.5h1m-2 1h3m1 0h1m-2 2h1m-4 2h1m2 0h1m-6 1h2m-2 2h1"/><path stroke="#9dcce2" d="M15 12.5h1m2 5h1"/><path stroke="#b5d8e4" d="M15 13.5h1"/><path stroke="#cadace" d="M5 17.5h1m3 4h1"/><path stroke="#ee9239" d="M31 17.5h1"/><path stroke="#eb7434" d="M45 39.5h1"/><path stroke="#e04d2f" d="M3 21.5h1m-3 11h1"/><path stroke="#c82b2a" d="M10 42.5h1"/><path stroke="#bc2328" d="M16 24.5h1"/><path stroke="#b01c26" d="M2 14.5h6m-7 1h8m-8 1h8m-8 1h4m1 0h3m-7 1h7m-7 1h7m-8 1h3m1 0h5m-9 1h2m2 0h4m-8 1h2m3 0h4m-5 1h5m-5 1h5m-4 1h3m-3 1h2"/></g><use href="#G" clip-path="url(#T)" fill="none" stroke="#f4f6fb" stroke-opacity="0.85" stroke-width="0.17"/></g><g fill="#111"><rect x="370.9" y="826.0" width="21" height="105.7" fill="url(#gRdBu)"/><path d="M370.9 830.6h4.2M387.7 830.6h4.2M370.9 853.0h4.2M387.7 853.0h4.2M370.9 875.5h4.2M387.7 875.5h4.2M370.9 897.8h4.2M387.7 897.8h4.2M370.9 920.0h4.2M387.7 920.0h4.2" stroke="#fff" stroke-opacity="0.75" stroke-width="1"/><text x="401.8" y="837.2" font-size="16.7">0.05</text><text x="401.8" y="859.6" font-size="16.7">0.00</text><text x="401.8" y="882.1" font-size="16.7">−0.05</text><text x="401.8" y="904.4" font-size="16.7">−0.10</text><text x="401.8" y="926.6" font-size="16.7">−0.15</text><rect x="709.3" y="826.0" width="21" height="105.7" fill="url(#gRdBu)"/><path d="M709.3 831.4h4.2M726.1 831.4h4.2M709.3 860.6h4.2M726.1 860.6h4.2M709.3 890.2h4.2M726.1 890.2h4.2M709.3 918.5h4.2M726.1 918.5h4.2" stroke="#fff" stroke-opacity="0.75" stroke-width="1"/><text x="740.3" y="838.0" font-size="16.7">0.05</text><text x="740.3" y="867.2" font-size="16.7">0.00</text><text x="740.3" y="896.8" font-size="16.7">−0.05</text><text x="740.3" y="925.1" font-size="16.7">−0.10</text><rect x="1039.7" y="826.0" width="21" height="105.7" fill="url(#gRdBu)"/><path d="M1039.7 857.5h4.2M1056.5 857.5h4.2M1039.7 895.4h4.2M1056.5 895.4h4.2" stroke="#fff" stroke-opacity="0.75" stroke-width="1"/><text x="1070.3" y="864.1" font-size="16.7">0.0</text><text x="1070.3" y="902.0" font-size="16.7">−0.1</text><rect x="1369.0" y="826.0" width="21" height="105.7" fill="url(#gRdBu)"/><path d="M1369.0 833.6h4.2M1385.8 833.6h4.2M1369.0 857.5h4.2M1385.8 857.5h4.2M1369.0 881.1h4.2M1385.8 881.1h4.2M1369.0 904.7h4.2M1385.8 904.7h4.2M1369.0 928.3h4.2M1385.8 928.3h4.2" stroke="#fff" stroke-opacity="0.75" stroke-width="1"/><text x="1399.6" y="840.2" font-size="16.7">0.05</text><text x="1399.6" y="864.1" font-size="16.7">0.00</text><text x="1399.6" y="887.7" font-size="16.7">−0.05</text><text x="1399.6" y="911.3" font-size="16.7">−0.10</text><text x="1399.6" y="934.9" font-size="16.7">−0.15</text><rect x="1712.0" y="826.0" width="21" height="105.7" fill="url(#gRdBu)"/><path d="M1712.0 856.9h4.2M1728.8 856.9h4.2M1712.0 892.0h4.2M1728.8 892.0h4.2M1712.0 926.5h4.2M1728.8 926.5h4.2" stroke="#fff" stroke-opacity="0.75" stroke-width="1"/><text x="1742.7" y="863.5" font-size="16.7">0.00</text><text x="1742.7" y="898.6" font-size="16.7">−0.05</text><text x="1742.7" y="933.1" font-size="16.7">−0.10</text><rect x="370.9" y="1125.3" width="21" height="105.5" fill="url(#gRdBu)"/><path d="M370.9 1153.5h4.2M387.7 1153.5h4.2M370.9 1191.1h4.2M387.7 1191.1h4.2M370.9 1228.3h4.2M387.7 1228.3h4.2" stroke="#fff" stroke-opacity="0.75" stroke-width="1"/><text x="401.8" y="1160.1" font-size="16.7">0.0</text><text x="401.8" y="1197.7" font-size="16.7">−0.1</text><text x="401.8" y="1234.9" font-size="16.7">−0.2</text><rect x="710.2" y="1125.3" width="21" height="105.5" fill="url(#gRdBu)"/><path d="M710.2 1130.7h4.2M727.0 1130.7h4.2M710.2 1167.4h4.2M727.0 1167.4h4.2M710.2 1204.4h4.2M727.0 1204.4h4.2" stroke="#fff" stroke-opacity="0.75" stroke-width="1"/><text x="740.9" y="1137.3" font-size="16.7">0.1</text><text x="740.9" y="1174.0" font-size="16.7">0.0</text><text x="740.9" y="1211.0" font-size="16.7">−0.1</text><rect x="1040.8" y="1125.3" width="21" height="105.5" fill="url(#gRdBu)"/><path d="M1040.8 1129.4h4.2M1057.6 1129.4h4.2M1040.8 1156.1h4.2M1057.6 1156.1h4.2M1040.8 1183.0h4.2M1057.6 1183.0h4.2M1040.8 1209.6h4.2M1057.6 1209.6h4.2" stroke="#fff" stroke-opacity="0.75" stroke-width="1"/><text x="1071.5" y="1136.0" font-size="16.7">0.05</text><text x="1071.5" y="1162.7" font-size="16.7">0.00</text><text x="1071.5" y="1189.6" font-size="16.7">−0.05</text><text x="1071.5" y="1216.2" font-size="16.7">−0.10</text><rect x="1368.8" y="1125.3" width="21" height="105.5" fill="url(#gRdBu)"/><path d="M1368.8 1131.2h4.2M1385.6 1131.2h4.2M1368.8 1153.5h4.2M1385.6 1153.5h4.2M1368.8 1175.7h4.2M1385.6 1175.7h4.2M1368.8 1197.8h4.2M1385.6 1197.8h4.2M1368.8 1220.2h4.2M1385.6 1220.2h4.2" stroke="#fff" stroke-opacity="0.75" stroke-width="1"/><text x="1399.6" y="1137.8" font-size="16.7">0.05</text><text x="1399.6" y="1160.1" font-size="16.7">0.00</text><text x="1399.6" y="1182.3" font-size="16.7">−0.05</text><text x="1399.6" y="1204.4" font-size="16.7">−0.10</text><text x="1399.6" y="1226.8" font-size="16.7">−0.15</text><rect x="1710.2" y="1125.3" width="21" height="105.5" fill="url(#gRdBu)"/><path d="M1710.2 1129.5h4.2M1727.0 1129.5h4.2M1710.2 1147.4h4.2M1727.0 1147.4h4.2M1710.2 1165.2h4.2M1727.0 1165.2h4.2M1710.2 1183.5h4.2M1727.0 1183.5h4.2M1710.2 1201.3h4.2M1727.0 1201.3h4.2M1710.2 1219.0h4.2M1727.0 1219.0h4.2" stroke="#fff" stroke-opacity="0.75" stroke-width="1"/><text x="1741.2" y="1136.1" font-size="16.7">0.05</text><text x="1741.2" y="1154.0" font-size="16.7">0.00</text><text x="1741.2" y="1171.8" font-size="16.7">−0.05</text><text x="1741.2" y="1190.1" font-size="16.7">−0.10</text><text x="1741.2" y="1207.9" font-size="16.7">−0.15</text><text x="1741.2" y="1225.6" font-size="16.7">−0.20</text><text x="371.3" y="1393.6" font-size="18">Myh6</text><rect x="370.6" y="1403.9" width="18" height="90.1" fill="url(#gRNA)"/><path d="M370.6 1412.2h3.6M385.0 1412.2h3.6M370.6 1434.0h3.6M385.0 1434.0h3.6M370.6 1455.6h3.6M385.0 1455.6h3.6M370.6 1477.3h3.6M385.0 1477.3h3.6" stroke="#fff" stroke-opacity="0.75" stroke-width="1"/><text x="397.3" y="1417.9" font-size="13.6">1.00</text><text x="397.3" y="1439.7" font-size="13.6">0.75</text><text x="397.3" y="1461.3" font-size="13.6">0.50</text><text x="397.3" y="1483.0" font-size="13.6">0.25</text><text x="705.1" y="1393.9" font-size="18">Tbx20</text><rect x="707.6" y="1404.2" width="18" height="90.6" fill="url(#gRNA)"/><path d="M707.6 1423.6h3.6M722.0 1423.6h3.6M707.6 1444.2h3.6M722.0 1444.2h3.6M707.6 1464.1h3.6M722.0 1464.1h3.6M707.6 1484.4h3.6M722.0 1484.4h3.6" stroke="#fff" stroke-opacity="0.75" stroke-width="1"/><text x="733.9" y="1409.6" font-size="13.6">0.5</text><text x="733.9" y="1429.3" font-size="13.6">0.4</text><text x="733.9" y="1449.9" font-size="13.6">0.3</text><text x="733.9" y="1469.8" font-size="13.6">0.2</text><text x="733.9" y="1490.1" font-size="13.6">0.1</text><text x="1041.8" y="1393.9" font-size="18">Myom1</text><rect x="1041.0" y="1404.2" width="18" height="90.6" fill="url(#gRNA)"/><path d="M1041.0 1420.2h3.6M1055.4 1420.2h3.6M1041.0 1436.5h3.6M1055.4 1436.5h3.6M1041.0 1452.9h3.6M1055.4 1452.9h3.6M1041.0 1469.4h3.6M1055.4 1469.4h3.6M1041.0 1485.9h3.6M1055.4 1485.9h3.6" stroke="#fff" stroke-opacity="0.75" stroke-width="1"/><text x="1067.2" y="1425.9" font-size="13.6">0.5</text><text x="1067.2" y="1442.2" font-size="13.6">0.4</text><text x="1067.2" y="1458.6" font-size="13.6">0.3</text><text x="1067.2" y="1475.1" font-size="13.6">0.2</text><text x="1067.2" y="1491.6" font-size="13.6">0.1</text><text x="1367.3" y="1393.9" font-size="18">Trim55</text><rect x="1367.3" y="1404.2" width="18" height="90.5" fill="url(#gRNA)"/><path d="M1367.3 1417.5h3.6M1381.7 1417.5h3.6M1367.3 1445.5h3.6M1381.7 1445.5h3.6M1367.3 1473.5h3.6M1381.7 1473.5h3.6" stroke="#fff" stroke-opacity="0.75" stroke-width="1"/><text x="1393.6" y="1423.2" font-size="13.6">0.6</text><text x="1393.6" y="1451.2" font-size="13.6">0.4</text><text x="1393.6" y="1479.2" font-size="13.6">0.2</text><text x="1710.3" y="1393.9" font-size="18">Smpx</text><rect x="1709.6" y="1404.2" width="18" height="90.5" fill="url(#gRNA)"/><path d="M1709.6 1405.8h3.6M1724.0 1405.8h3.6M1709.6 1423.6h3.6M1724.0 1423.6h3.6M1709.6 1443.8h3.6M1724.0 1443.8h3.6M1709.6 1464.1h3.6M1724.0 1464.1h3.6M1709.6 1484.4h3.6M1724.0 1484.4h3.6" stroke="#fff" stroke-opacity="0.75" stroke-width="1"/><text x="1736.0" y="1411.5" font-size="13.6">0.5</text><text x="1736.0" y="1429.3" font-size="13.6">0.4</text><text x="1736.0" y="1449.5" font-size="13.6">0.3</text><text x="1736.0" y="1469.8" font-size="13.6">0.2</text><text x="1736.0" y="1490.1" font-size="13.6">0.1</text><text x="372.1" y="1666.0" font-size="18">Myl4</text><rect x="371.2" y="1676.2" width="18" height="90.3" fill="url(#gRNA)"/><path d="M371.2 1706.9h3.6M385.6 1706.9h3.6M371.2 1740.4h3.6M385.6 1740.4h3.6" stroke="#fff" stroke-opacity="0.75" stroke-width="1"/><text x="398.1" y="1712.6" font-size="13.6">1.0</text><text x="398.1" y="1746.1" font-size="13.6">0.5</text><text x="708.8" y="1666.0" font-size="18">Myl7</text><rect x="707.9" y="1676.2" width="18" height="90.3" fill="url(#gRNA)"/><path d="M707.9 1692.5h3.6M722.3 1692.5h3.6M707.9 1709.3h3.6M722.3 1709.3h3.6M707.9 1725.7h3.6M722.3 1725.7h3.6M707.9 1742.0h3.6M722.3 1742.0h3.6M707.9 1758.5h3.6M722.3 1758.5h3.6" stroke="#fff" stroke-opacity="0.75" stroke-width="1"/><text x="733.9" y="1698.2" font-size="13.6">0.5</text><text x="733.9" y="1715.0" font-size="13.6">0.4</text><text x="733.9" y="1731.4" font-size="13.6">0.3</text><text x="733.9" y="1747.7" font-size="13.6">0.2</text><text x="733.9" y="1764.2" font-size="13.6">0.1</text><text x="1039.7" y="1666.3" font-size="18">Slc8a1</text><rect x="1039.1" y="1676.2" width="18" height="90.3" fill="url(#gRNA)"/><path d="M1039.1 1701.7h3.6M1053.5 1701.7h3.6M1039.1 1727.8h3.6M1053.5 1727.8h3.6M1039.1 1753.8h3.6M1053.5 1753.8h3.6" stroke="#fff" stroke-opacity="0.75" stroke-width="1"/><text x="1065.4" y="1682.0" font-size="13.6">0.4</text><text x="1065.4" y="1707.4" font-size="13.6">0.3</text><text x="1065.4" y="1733.5" font-size="13.6">0.2</text><text x="1065.4" y="1759.5" font-size="13.6">0.1</text><text x="1366.7" y="1654.8" font-size="18">Tnni1</text><rect x="1366.4" y="1676.2" width="18" height="90.3" fill="url(#gRNA)"/><path d="M1366.4 1699.9h3.6M1380.8 1699.9h3.6M1366.4 1723.8h3.6M1380.8 1723.8h3.6M1366.4 1747.6h3.6M1380.8 1747.6h3.6" stroke="#fff" stroke-opacity="0.75" stroke-width="1"/><text x="1393.0" y="1681.8" font-size="13.6">1.00</text><text x="1393.0" y="1705.6" font-size="13.6">0.75</text><text x="1393.0" y="1729.5" font-size="13.6">0.50</text><text x="1393.0" y="1753.3" font-size="13.6">0.25</text><text x="1710.3" y="1654.8" font-size="18">Mylk3</text><rect x="1709.4" y="1676.2" width="18" height="90.3" fill="url(#gRNA)"/><path d="M1709.4 1701.7h3.6M1723.8 1701.7h3.6M1709.4 1727.8h3.6M1723.8 1727.8h3.6M1709.4 1753.8h3.6M1723.8 1753.8h3.6" stroke="#fff" stroke-opacity="0.75" stroke-width="1"/><text x="1735.7" y="1681.9" font-size="13.6">0.4</text><text x="1735.7" y="1707.4" font-size="13.6">0.3</text><text x="1735.7" y="1733.5" font-size="13.6">0.2</text><text x="1735.7" y="1759.5" font-size="13.6">0.1</text></g><text x="505.3" y="1908.1" font-size="47" font-weight="bold" text-anchor="middle" fill="#1a1a1a">W6</text><path d="M309.6 1932.2H698.4V2663.6" fill="none" stroke="#444" stroke-width="1.2"/><path d="M309.6 1931.6V2663.8H698.9" fill="none" stroke="#111" stroke-width="1.9"/><path d="M303.8 1953.1H309.6M303.8 1989.4H309.6M303.8 2025.5H309.6M303.8 2061.9H309.6M303.8 2098.0H309.6M303.8 2134.3H309.6M303.8 2170.7H309.6M303.8 2206.8H309.6M303.8 2243.2H309.6M303.8 2279.3H309.6M303.8 2315.7H309.6M303.8 2352.0H309.6M303.8 2388.1H309.6M303.8 2424.5H309.6M303.8 2460.6H309.6M303.8 2496.7H309.6M303.8 2533.0H309.6M303.8 2569.2H309.6M303.8 2605.5H309.6M303.8 2641.9H309.6M368.1 2663.8V2668.6M457.1 2663.8V2668.6M544.1 2663.8V2668.6M632.6 2663.8V2668.6" stroke="#111" stroke-width="1.6"/><g font-size="23" fill="#111" text-anchor="end"><text x="298.3" y="1960.3">muscle system process</text><text x="298.3" y="1996.6">muscle contraction</text><text x="298.3" y="2022.2">cardiac muscle tissue</text><text x="298.3" y="2039.0">development</text><text x="298.3" y="2058.0">striated muscle tissue</text><text x="298.3" y="2078.6">development</text><text x="298.3" y="2105.2">muscle cell differentiation</text><text x="298.3" y="2141.5">heart contraction</text><text x="298.3" y="2177.9">heart process</text><text x="298.3" y="2203.2">striated muscle cell</text><text x="298.3" y="2223.8">differentiation</text><text x="298.3" y="2250.4">striated muscle contraction</text><text x="298.3" y="2286.5">muscle cell development</text><text x="298.3" y="2322.9">cardiac muscle contraction</text><text x="298.3" y="2348.1">regulation of blood</text><text x="298.3" y="2368.7">circulation</text><text x="298.3" y="2384.4">regulation of heart</text><text x="298.3" y="2404.5">contraction</text><text x="298.3" y="2420.3">regulation of muscle system</text><text x="298.3" y="2441.3">process</text><text x="298.3" y="2467.8">heart morphogenesis</text><text x="298.3" y="2493.0">cardiac muscle cell</text><text x="298.3" y="2511.2">differentiation</text><text x="298.3" y="2530.0">cardiac muscle cell</text><text x="298.3" y="2550.6">development</text><text x="298.3" y="2576.4">cardiac cell development</text><text x="298.3" y="2601.5">striated muscle cell</text><text x="298.3" y="2623.0">development</text><text x="298.3" y="2649.1">myofibril assembly</text></g><g font-size="22" fill="#111" text-anchor="middle"><text x="369.6" y="2685.4">0.15</text><text x="458.6" y="2685.4">0.20</text><text x="545.6" y="2685.4">0.25</text><text x="634.1" y="2685.4">0.30</text></g><text x="519.9" y="2707.2" font-size="25.5" text-anchor="middle" fill="#111">GeneRatio</text><g stroke="#111" stroke-width="1.2"><circle cx="681.4" cy="1953.1" r="14.5" fill="#dd5d64"/><circle cx="580.2" cy="1989.4" r="13.2" fill="#dd5d64"/><circle cx="550.0" cy="2025.5" r="12.7" fill="#dd5d64"/><circle cx="550.0" cy="2061.9" r="12.7" fill="#dd5d64"/><circle cx="550.0" cy="2098.0" r="12.7" fill="#dd5d64"/><circle cx="539.8" cy="2134.3" r="12.5" fill="#dd5d64"/><circle cx="539.8" cy="2170.7" r="12.5" fill="#dd5d64"/><circle cx="539.8" cy="2206.8" r="12.5" fill="#dd5d64"/><circle cx="499.0" cy="2243.2" r="12.0" fill="#dd5d64"/><circle cx="499.0" cy="2279.3" r="12.0" fill="#dd5d64"/><circle cx="469.1" cy="2315.7" r="11.4" fill="#dd5d64"/><circle cx="458.9" cy="2352.0" r="11.2" fill="#dd5d64"/><circle cx="448.7" cy="2388.1" r="10.9" fill="#dd5d64"/><circle cx="448.7" cy="2424.5" r="10.9" fill="#dd5d64"/><circle cx="448.7" cy="2460.6" r="10.9" fill="#dd5d64"/><circle cx="387.7" cy="2496.7" r="9.4" fill="#dd5d64"/><circle cx="367.4" cy="2533.0" r="8.9" fill="#dd5d64"/><circle cx="367.4" cy="2569.2" r="8.9" fill="#dd5d64"/><circle cx="337.4" cy="2605.5" r="7.4" fill="#dd5d64"/><circle cx="327.0" cy="2641.9" r="6.1" fill="#4a86c4"/></g><text x="710.9" y="2208.5" font-size="22" fill="#111">p.adjust</text><rect x="709.7" y="2226.6" width="28.1" height="140.4" fill="url(#gP)"/><path d="M709.7 2261.4h5.6M732.2 2261.4h5.6M709.7 2296.8h5.6M732.2 2296.8h5.6M709.7 2332.3h5.6M732.2 2332.3h5.6" stroke="#fff" stroke-opacity="0.8" stroke-width="1"/><g font-size="19.3" fill="#111"><text x="747.2" y="2230.8">2.717519e−56</text><text x="747.2" y="2266.3">2.063507e−30</text><text x="747.2" y="2301.7">4.127014e−30</text><text x="747.2" y="2337.0">6.190522e−30</text><text x="747.2" y="2372.5">8.254029e−30</text></g><text x="710.5" y="2545.6" font-size="22" fill="#111">Count</text><g fill="none" stroke="#111" stroke-width="1.3"><circle cx="726.9" cy="2570.3" r="10.5"/><circle cx="726.9" cy="2600.0" r="12.7"/><circle cx="726.9" cy="2632.7" r="14.0"/></g><g font-size="20" fill="#111"><text x="753.7" y="2576.1">30</text><text x="753.7" y="2605.1">40</text><text x="753.7" y="2638.5">50</text></g></svg></body></html>
